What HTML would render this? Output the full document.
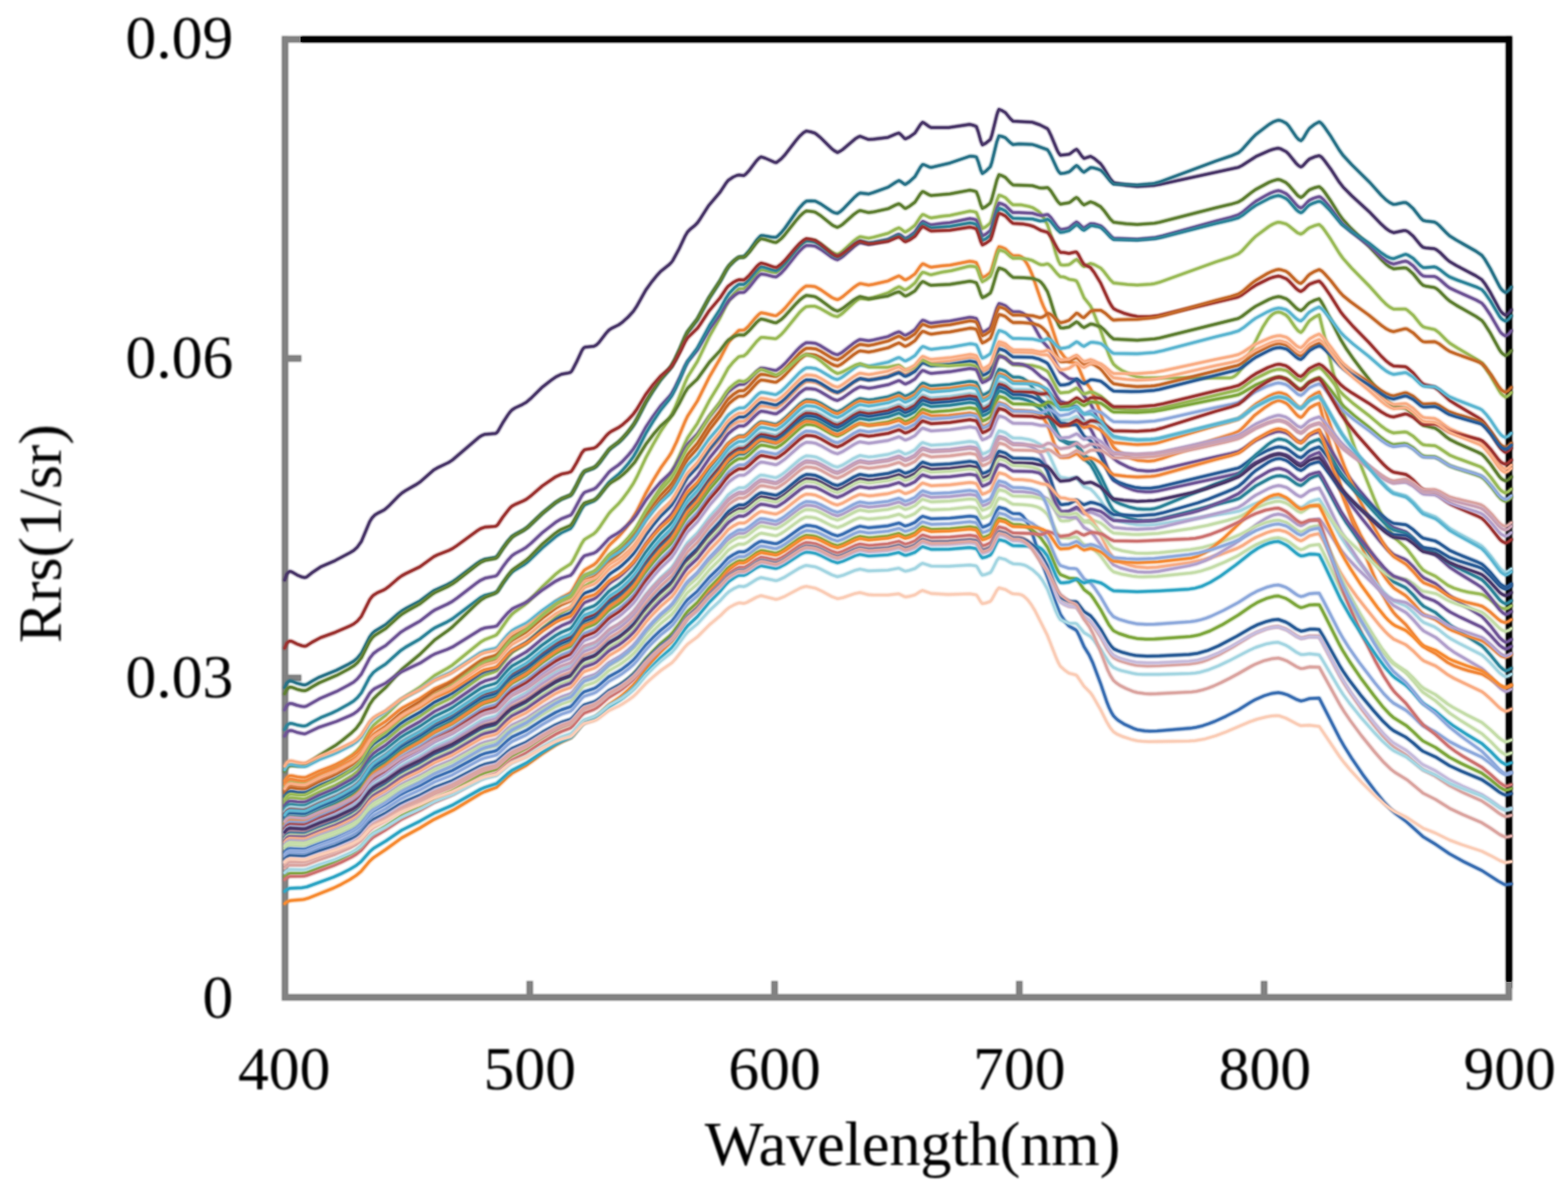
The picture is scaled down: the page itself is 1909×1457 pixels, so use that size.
<!DOCTYPE html>
<html lang="en">
<head>
<meta charset="utf-8">
<title>Rrs spectra</title>
<style>
html,body{margin:0;padding:0;background:#fff;}
body{width:1909px;height:1457px;overflow:hidden;position:relative;}
svg{position:absolute;left:0;top:0;display:block;}
text{font-family:"Liberation Serif",serif;font-size:75px;fill:#000;}
.curves polyline{fill:none;stroke-width:4.1;stroke-linejoin:round;stroke-linecap:round;}
.curves polyline.c{stroke-width:2.4;}
</style>
</head>
<body>
<svg width="1909" height="1457" viewBox="0 0 1909 1457">
<defs>
<filter id="soft" x="-2%" y="-2%" width="104%" height="104%" color-interpolation-filters="sRGB"><feGaussianBlur stdDeviation="0.8"/></filter>
<filter id="softer" x="-2%" y="-2%" width="104%" height="104%" color-interpolation-filters="sRGB"><feGaussianBlur stdDeviation="0.8"/></filter>
</defs>
<rect x="0" y="0" width="1909" height="1457" fill="#ffffff"/>
<g id="frame" filter="url(#soft)">
<rect x="365" y="43.9" width="1476" height="8" fill="#000"/>
<rect x="1833.2" y="43.9" width="8" height="1159.6" fill="#000"/>
<rect x="343" y="43.9" width="8" height="1174.1" fill="#828282"/>
<rect x="343" y="1210" width="1498" height="8" fill="#828282"/>
<rect x="343" y="43.9" width="24" height="8" fill="#828282"/>
<rect x="343" y="432.3" width="24" height="8" fill="#828282"/>
<rect x="343" y="821.2" width="24" height="8" fill="#828282"/>
<rect x="641" y="1194" width="8" height="24" fill="#828282"/>
<rect x="939" y="1194" width="8" height="24" fill="#828282"/>
<rect x="1237" y="1194" width="8" height="24" fill="#828282"/>
<rect x="1535" y="1194" width="8" height="24" fill="#828282"/>
<rect x="1833" y="1194" width="8" height="24" fill="#828282"/>
</g>
<g id="framecore">
<rect x="366" y="44.9" width="1474" height="6" fill="#000"/>
<rect x="1834.2" y="44.9" width="6" height="1157.6" fill="#000"/>
<rect x="344" y="44.9" width="6" height="1172.1" fill="#828282"/>
<rect x="344" y="1211" width="1496" height="6" fill="#828282"/>
<rect x="344" y="44.9" width="22" height="6" fill="#828282"/>
<rect x="344" y="433.3" width="22" height="6" fill="#828282"/>
<rect x="344" y="822.2" width="22" height="6" fill="#828282"/>
<rect x="642" y="1195" width="6" height="22" fill="#828282"/>
<rect x="940" y="1195" width="6" height="22" fill="#828282"/>
<rect x="1238" y="1195" width="6" height="22" fill="#828282"/>
<rect x="1536" y="1195" width="6" height="22" fill="#828282"/>
<rect x="1834" y="1195" width="6" height="22" fill="#828282"/>
</g>
<g class="curves">
<polyline class="b" filter="url(#softer)" points="346.6,706 349,699 351.1,696.5 352.6,695.6 354.1,695.7 355.6,696.3 361.6,699.8 367.6,702.3 370.6,703 372.1,702.8 373.6,702.1 379.6,697.3 390.1,690.2 408.1,682.3 426.1,672.8 430.6,670.1 435.1,665.9 440,659 450,635.1 453.1,630.2 456.1,627.1 461,624.1 467.5,620.8 469.6,619.2 474.1,615.2 484.6,604.3 489.1,600.3 493.6,597.3 505.6,590.4 511.3,586.8 528.1,572 532.6,569.4 546.1,563 550.6,560.1 583.6,531.9 586.6,530.1 589.6,528.8 603.1,527.6 604.6,526.9 606.1,525.2 612.1,514.7 618.1,505.4 621.1,501.3 623.3,499 627.1,496.5 636.1,492.3 640.6,489.8 646.6,484.6 660.1,471.3 670.6,463.1 676.6,458.9 683.5,455.5 691.6,454.1 694.6,453.2 696.1,451.6 697.6,449 702.1,440.3 708.1,427.3 709.6,424.8 711.1,423.1 712.6,422.5 723,421.5 726.1,419.9 729.1,417 738.1,405.3 741.1,402 744.1,399.9 753.1,395.5 757.6,392.3 765.1,385.5 771.3,378.7 775.6,372.1 786.1,353.3 793.6,342.9 799.6,335.5 804.3,330.4 814.6,322.2 817.4,319.4 819.1,317.1 826.6,303.3 834.1,287.3 837.1,282.3 840.1,279.2 846.1,274.3 849.1,271.2 852.1,267 862.6,250.5 876.7,233.9 883.6,223.3 886.6,219.5 892.6,215.5 897.1,213.5 900,213 905.5,213.7 907.6,212.3 912.1,207.5 921.1,195.6 924.1,192.5 926.5,190.9 931.6,192.5 942.1,197.2 944.9,197.9 946.6,196.9 951.1,193.3 955.6,188.5 969.1,171 973.6,165.7 978.1,161.6 981.6,159.4 987.1,160.5 992,162 993.1,162.7 999.1,167.6 1012.6,181 1015.6,183.4 1019.6,185.6 1023.1,183.9 1026.1,181.9 1041.1,169.1 1044.1,167.2 1047.1,165.8 1057.6,169.8 1063.6,169.4 1081.2,167.2 1090.6,163.1 1094.3,161.9 1096.6,163.7 1101.1,168.4 1102.2,169 1102.6,168.9 1107.1,166.8 1114,161.9 1120.6,151.6 1123.2,148.8 1125.1,149.7 1131.1,154 1133.7,155.3 1155.1,155.3 1180.8,151.4 1185.1,152.5 1188.7,154 1191.1,160.7 1194.1,171.7 1196,176.3 1200.1,174.3 1205.7,169.8 1207.6,164.3 1213.6,140 1215.1,135.4 1216.2,133.1 1219.6,134.4 1224,137 1230.1,144.5 1233.3,147.5 1256.9,148.8 1266.1,152 1275.2,156.6 1276.6,158.7 1279.6,164.9 1287.1,182.9 1288.6,185.8 1291,189 1301.5,187.8 1303.6,186.5 1308.1,183 1310.6,181.7 1312.6,183.6 1317.1,190.1 1319.8,192.9 1327.7,190.3 1332.1,192.7 1340,199.4 1342.6,202.9 1351.6,217.6 1355.7,222.4 1369.6,225.1 1384.6,226.9 1405.5,225.6 1411.6,224.6 1506.1,204.1 1507.8,203.6 1512.1,201.5 1528.8,190.7 1545.1,183.4 1549.6,181.8 1554.1,180.7 1556.3,180.4 1558.6,180.9 1566.1,184.8 1569.1,187.7 1578.1,198.9 1581.1,201.7 1583.8,203.2 1585.6,202.3 1587.1,200.9 1591.6,195.9 1594.3,193.5 1600.6,190.8 1606.1,189.5 1608.1,190.6 1609.6,191.9 1612.6,195.5 1620.1,205.7 1630.6,221.8 1635.1,227.6 1645.6,238.2 1668.1,258.8 1681.6,272.8 1687.6,278.3 1692.1,281.4 1696.6,283.2 1708.6,280.8 1711.6,280.7 1714.6,282.3 1720.6,287.5 1729.6,298.5 1732.6,301.1 1735.6,301.7 1746.4,302.7 1749.1,304.1 1753.6,307.7 1761.1,315.2 1764.7,318.3 1773.1,323.2 1797.1,335.9 1804.1,340.4 1807.6,344.9 1814.6,356.2 1825.6,376.6 1827.7,379.6 1830.1,381.9 1832.9,383.6 1834.6,382.9 1837.6,380.4 1840,377.1" stroke="#4A3769"/>
<polyline class="c" points="346.6,706 349,699 351.1,696.5 352.6,695.6 354.1,695.7 355.6,696.3 361.6,699.8 367.6,702.3 370.6,703 372.1,702.8 373.6,702.1 379.6,697.3 390.1,690.2 408.1,682.3 426.1,672.8 430.6,670.1 435.1,665.9 440,659 450,635.1 453.1,630.2 456.1,627.1 461,624.1 467.5,620.8 469.6,619.2 474.1,615.2 484.6,604.3 489.1,600.3 493.6,597.3 505.6,590.4 511.3,586.8 528.1,572 532.6,569.4 546.1,563 550.6,560.1 583.6,531.9 586.6,530.1 589.6,528.8 603.1,527.6 604.6,526.9 606.1,525.2 612.1,514.7 618.1,505.4 621.1,501.3 623.3,499 627.1,496.5 636.1,492.3 640.6,489.8 646.6,484.6 660.1,471.3 670.6,463.1 676.6,458.9 683.5,455.5 691.6,454.1 694.6,453.2 696.1,451.6 697.6,449 702.1,440.3 708.1,427.3 709.6,424.8 711.1,423.1 712.6,422.5 723,421.5 726.1,419.9 729.1,417 738.1,405.3 741.1,402 744.1,399.9 753.1,395.5 757.6,392.3 765.1,385.5 771.3,378.7 775.6,372.1 786.1,353.3 793.6,342.9 799.6,335.5 804.3,330.4 814.6,322.2 817.4,319.4 819.1,317.1 826.6,303.3 834.1,287.3 837.1,282.3 840.1,279.2 846.1,274.3 849.1,271.2 852.1,267 862.6,250.5 876.7,233.9 883.6,223.3 886.6,219.5 892.6,215.5 897.1,213.5 900,213 905.5,213.7 907.6,212.3 912.1,207.5 921.1,195.6 924.1,192.5 926.5,190.9 931.6,192.5 942.1,197.2 944.9,197.9 946.6,196.9 951.1,193.3 955.6,188.5 969.1,171 973.6,165.7 978.1,161.6 981.6,159.4 987.1,160.5 992,162 993.1,162.7 999.1,167.6 1012.6,181 1015.6,183.4 1019.6,185.6 1023.1,183.9 1026.1,181.9 1041.1,169.1 1044.1,167.2 1047.1,165.8 1057.6,169.8 1063.6,169.4 1081.2,167.2 1090.6,163.1 1094.3,161.9 1096.6,163.7 1101.1,168.4 1102.2,169 1102.6,168.9 1107.1,166.8 1114,161.9 1120.6,151.6 1123.2,148.8 1125.1,149.7 1131.1,154 1133.7,155.3 1155.1,155.3 1180.8,151.4 1185.1,152.5 1188.7,154 1191.1,160.7 1194.1,171.7 1196,176.3 1200.1,174.3 1205.7,169.8 1207.6,164.3 1213.6,140 1215.1,135.4 1216.2,133.1 1219.6,134.4 1224,137 1230.1,144.5 1233.3,147.5 1256.9,148.8 1266.1,152 1275.2,156.6 1276.6,158.7 1279.6,164.9 1287.1,182.9 1288.6,185.8 1291,189 1301.5,187.8 1303.6,186.5 1308.1,183 1310.6,181.7 1312.6,183.6 1317.1,190.1 1319.8,192.9 1327.7,190.3 1332.1,192.7 1340,199.4 1342.6,202.9 1351.6,217.6 1355.7,222.4 1369.6,225.1 1384.6,226.9 1405.5,225.6 1411.6,224.6 1506.1,204.1 1507.8,203.6 1512.1,201.5 1528.8,190.7 1545.1,183.4 1549.6,181.8 1554.1,180.7 1556.3,180.4 1558.6,180.9 1566.1,184.8 1569.1,187.7 1578.1,198.9 1581.1,201.7 1583.8,203.2 1585.6,202.3 1587.1,200.9 1591.6,195.9 1594.3,193.5 1600.6,190.8 1606.1,189.5 1608.1,190.6 1609.6,191.9 1612.6,195.5 1620.1,205.7 1630.6,221.8 1635.1,227.6 1645.6,238.2 1668.1,258.8 1681.6,272.8 1687.6,278.3 1692.1,281.4 1696.6,283.2 1708.6,280.8 1711.6,280.7 1714.6,282.3 1720.6,287.5 1729.6,298.5 1732.6,301.1 1735.6,301.7 1746.4,302.7 1749.1,304.1 1753.6,307.7 1761.1,315.2 1764.7,318.3 1773.1,323.2 1797.1,335.9 1804.1,340.4 1807.6,344.9 1814.6,356.2 1825.6,376.6 1827.7,379.6 1830.1,381.9 1832.9,383.6 1834.6,382.9 1837.6,380.4 1840,377.1" stroke="#4A3769"/>
<polyline class="b" filter="url(#softer)" points="346.6,837 349,831.6 351.1,829.6 353,828.7 355.6,829.2 361.6,831.6 367.6,833.2 370.6,833.7 372.1,833.5 375.1,832.1 379.6,829.2 388.6,824.3 409.6,815.9 424.6,808.3 430.6,804.9 435.1,801.1 440,795.1 450,775.4 453.1,771.2 456.1,768.4 469.6,760.3 484.6,747.1 489.4,743.4 495.1,740 511.3,731.5 525.1,721.1 529,718.5 544.6,711.6 550.6,708.4 556.6,704.2 580.6,686 585.1,683 590.4,680.7 601.6,678.7 603.5,678.3 604.6,677.7 606.1,676.1 612.1,667.1 618.1,659 623.3,653.1 627.1,650.6 637.6,645 642.1,641.9 660.1,624.9 676.6,611.7 683.5,607.5 694.6,603 696.1,601.3 697.6,598.9 702.1,590.7 708.1,578.7 711.1,574.5 712.6,573.5 723,569.7 726.1,567.5 730.6,562.3 741.1,548.1 744.1,545.3 753.1,538.6 756.1,535.8 762.1,529.4 769.6,519.9 772.6,515.6 775.6,510.3 786.1,490 795.1,475.5 804.3,462.1 814.6,450.1 817.6,446.1 822.1,437.6 828.1,424.6 834.1,410.4 837.1,404.5 849.1,388.8 862.6,363.9 876.7,342.4 883.6,329.7 886.6,324.9 892.6,318.5 897.1,314.7 900,313 905.5,312.4 907.6,310.6 912.1,305.3 921.1,292.4 925.6,287.5 926.5,286.8 930.1,286.9 939.1,288.5 943.6,288.9 944.9,288.8 946.6,287.6 951.1,283.2 955.6,277.7 969.1,258.5 973.6,252.6 978.1,247.7 981.6,244.8 987.1,244.5 992,244.7 993.1,245 999.1,248.1 1012.6,257.3 1015.6,258.8 1019.6,259.8 1023.1,257.5 1026.1,254.9 1039.6,240.8 1044.1,236.8 1047.1,234.9 1057.6,236.1 1063.6,234.2 1081.2,227.9 1090.6,221.7 1094.3,219.7 1096.6,220.8 1101.1,224.2 1102.2,224.5 1102.6,224.3 1107.1,221.2 1114,214.9 1120.6,203.5 1123.2,200.2 1125.1,200.5 1131.1,203.2 1133.7,203.8 1156.6,198.4 1180.8,190.1 1185.1,190.3 1188.7,191.1 1191.1,197.1 1194.1,207.1 1196,211.2 1200.1,208.4 1205.7,203 1207.6,197.3 1213.6,172.6 1216.2,165.4 1219.6,166 1224,167.6 1230.1,173.7 1233.3,176 1240.6,175.1 1256.9,175.9 1261.6,177.3 1275.2,182.2 1276.6,184.1 1279.6,189.5 1287.1,205.8 1288.6,208.4 1291,211.3 1296.1,210.7 1301.5,209.2 1303.6,207.7 1308.1,203.3 1310.6,201.5 1312.6,202.8 1317.1,207.8 1318.6,209 1319.8,209.6 1327.7,204 1330.6,204.1 1336.6,205.8 1340,207.1 1341.1,208 1344.1,211 1351.6,220.3 1355.7,224 1384.6,225.3 1402.6,223.6 1405.6,223.2 1411.6,221.6 1480,196.1 1498.6,189.8 1506.1,186.7 1507.8,185.9 1512.1,182.2 1524.1,168.6 1528.8,163.9 1545.1,151.4 1549.6,148.7 1554.1,146.9 1556.3,146.3 1558.6,146.6 1561.6,147.7 1566.1,150.1 1569.1,153.4 1578.1,166.7 1581.1,169.9 1583.8,171.3 1585.6,169.7 1587.1,167.6 1591.6,159.9 1594.3,156.1 1600.6,151.2 1606.1,148.3 1608.1,149.5 1609.6,151 1612.6,154.8 1620.1,165.7 1630.6,182.8 1635.1,189 1645.6,200.4 1668.1,222.5 1681.6,237.6 1687.6,243.4 1692.1,246.7 1696.6,248.8 1699.6,248.5 1708.6,246.6 1711.6,246.6 1714.6,248.4 1720.6,253.9 1729.6,265.5 1732.6,268.3 1735.6,269 1746.4,270.3 1749.1,271.8 1752.1,274.3 1761.1,283.6 1764.7,286.9 1773.1,292.2 1797.1,305.9 1804.1,310.7 1807.6,315.4 1814.6,327.2 1825.6,348.6 1827.7,351.8 1830.1,354.2 1832.9,356 1834.6,355.3 1837.6,352.6 1840,349.3" stroke="#2A7388"/>
<polyline class="c" points="346.6,837 349,831.6 351.1,829.6 353,828.7 355.6,829.2 361.6,831.6 367.6,833.2 370.6,833.7 372.1,833.5 375.1,832.1 379.6,829.2 388.6,824.3 409.6,815.9 424.6,808.3 430.6,804.9 435.1,801.1 440,795.1 450,775.4 453.1,771.2 456.1,768.4 469.6,760.3 484.6,747.1 489.4,743.4 495.1,740 511.3,731.5 525.1,721.1 529,718.5 544.6,711.6 550.6,708.4 556.6,704.2 580.6,686 585.1,683 590.4,680.7 601.6,678.7 603.5,678.3 604.6,677.7 606.1,676.1 612.1,667.1 618.1,659 623.3,653.1 627.1,650.6 637.6,645 642.1,641.9 660.1,624.9 676.6,611.7 683.5,607.5 694.6,603 696.1,601.3 697.6,598.9 702.1,590.7 708.1,578.7 711.1,574.5 712.6,573.5 723,569.7 726.1,567.5 730.6,562.3 741.1,548.1 744.1,545.3 753.1,538.6 756.1,535.8 762.1,529.4 769.6,519.9 772.6,515.6 775.6,510.3 786.1,490 795.1,475.5 804.3,462.1 814.6,450.1 817.6,446.1 822.1,437.6 828.1,424.6 834.1,410.4 837.1,404.5 849.1,388.8 862.6,363.9 876.7,342.4 883.6,329.7 886.6,324.9 892.6,318.5 897.1,314.7 900,313 905.5,312.4 907.6,310.6 912.1,305.3 921.1,292.4 925.6,287.5 926.5,286.8 930.1,286.9 939.1,288.5 943.6,288.9 944.9,288.8 946.6,287.6 951.1,283.2 955.6,277.7 969.1,258.5 973.6,252.6 978.1,247.7 981.6,244.8 987.1,244.5 992,244.7 993.1,245 999.1,248.1 1012.6,257.3 1015.6,258.8 1019.6,259.8 1023.1,257.5 1026.1,254.9 1039.6,240.8 1044.1,236.8 1047.1,234.9 1057.6,236.1 1063.6,234.2 1081.2,227.9 1090.6,221.7 1094.3,219.7 1096.6,220.8 1101.1,224.2 1102.2,224.5 1102.6,224.3 1107.1,221.2 1114,214.9 1120.6,203.5 1123.2,200.2 1125.1,200.5 1131.1,203.2 1133.7,203.8 1156.6,198.4 1180.8,190.1 1185.1,190.3 1188.7,191.1 1191.1,197.1 1194.1,207.1 1196,211.2 1200.1,208.4 1205.7,203 1207.6,197.3 1213.6,172.6 1216.2,165.4 1219.6,166 1224,167.6 1230.1,173.7 1233.3,176 1240.6,175.1 1256.9,175.9 1261.6,177.3 1275.2,182.2 1276.6,184.1 1279.6,189.5 1287.1,205.8 1288.6,208.4 1291,211.3 1296.1,210.7 1301.5,209.2 1303.6,207.7 1308.1,203.3 1310.6,201.5 1312.6,202.8 1317.1,207.8 1318.6,209 1319.8,209.6 1327.7,204 1330.6,204.1 1336.6,205.8 1340,207.1 1341.1,208 1344.1,211 1351.6,220.3 1355.7,224 1384.6,225.3 1402.6,223.6 1405.6,223.2 1411.6,221.6 1480,196.1 1498.6,189.8 1506.1,186.7 1507.8,185.9 1512.1,182.2 1524.1,168.6 1528.8,163.9 1545.1,151.4 1549.6,148.7 1554.1,146.9 1556.3,146.3 1558.6,146.6 1561.6,147.7 1566.1,150.1 1569.1,153.4 1578.1,166.7 1581.1,169.9 1583.8,171.3 1585.6,169.7 1587.1,167.6 1591.6,159.9 1594.3,156.1 1600.6,151.2 1606.1,148.3 1608.1,149.5 1609.6,151 1612.6,154.8 1620.1,165.7 1630.6,182.8 1635.1,189 1645.6,200.4 1668.1,222.5 1681.6,237.6 1687.6,243.4 1692.1,246.7 1696.6,248.8 1699.6,248.5 1708.6,246.6 1711.6,246.6 1714.6,248.4 1720.6,253.9 1729.6,265.5 1732.6,268.3 1735.6,269 1746.4,270.3 1749.1,271.8 1752.1,274.3 1761.1,283.6 1764.7,286.9 1773.1,292.2 1797.1,305.9 1804.1,310.7 1807.6,315.4 1814.6,327.2 1825.6,348.6 1827.7,351.8 1830.1,354.2 1832.9,356 1834.6,355.3 1837.6,352.6 1840,349.3" stroke="#2A7388"/>
<polyline class="b" filter="url(#softer)" points="346.6,844.5 349,839.2 351.1,837.2 353,836.3 355.6,836.7 361.6,838.9 367.6,840.4 371,840.8 373.6,839.9 379.6,836.2 388.6,831.1 409.6,822.2 424.6,814.3 430.6,810.6 435.1,806.7 440,800.6 450,780.7 453.1,776.4 456.1,773.5 469.6,765 484.6,751.3 489.4,747.5 495.1,743.9 511.3,734.9 525.1,724.1 529,721.5 544.6,714.1 550.6,710.8 556.6,706.5 580.6,687.7 585.1,684.5 590.4,682.1 601.6,679.9 603.5,679.4 604.6,678.7 606.1,677.2 612.1,668 618.1,659.8 623.3,653.8 627.1,651.2 637.6,645.4 642.1,642.2 660.1,625 676.6,611.5 683.5,607.2 694.6,602.6 696.1,600.9 697.6,598.5 702.1,590.2 708.1,578.1 711.1,573.9 712.6,573 723,569.1 726.1,566.8 730.6,561.6 741.1,547.4 744.1,544.6 753.1,537.9 757.6,533.6 765.1,525 771.3,516.8 775.6,509.6 786.1,489.2 795.1,474.7 804.3,461.4 814.6,449.4 817.6,445.3 822.1,436.9 828.1,423.9 834.1,409.7 837.1,403.8 849.1,388.2 863.6,361.8 876.7,342 883.6,329.4 887.7,323.3 894.1,317 898.6,313.7 900.1,313 905.5,313.1 907.6,311.7 912.1,306.9 921.1,295.3 924.1,292.3 926.5,290.6 931.6,291.5 942.1,294.8 944.9,295.1 946.6,294.1 951.1,290.5 955.6,285.6 969.1,268.5 973.6,263.3 978.1,259.1 981.6,256.7 987.1,257.2 992,258.1 993.1,258.6 999.1,262.5 1012.6,273.4 1015.6,275.2 1019.6,276.8 1023.1,275 1026.1,272.9 1039.6,260.9 1044.1,257.7 1047.1,256.2 1057.6,258.8 1063.6,257.9 1081.2,254.1 1090.6,249.4 1094.3,248 1096.6,249.3 1101.1,253.2 1102.2,253.7 1102.6,253.6 1107.1,251.2 1114,246 1120.6,235.9 1123.2,233.1 1125.1,233.7 1131.1,237.1 1133.7,238 1156.6,236 1180.8,231.4 1185.1,232.2 1188.7,233.4 1191.1,239.5 1194.1,249.5 1196,253.7 1200.1,251.6 1205.7,247.2 1207.6,242 1213.6,219.2 1216.2,212.7 1219.6,213.7 1224,215.9 1230.1,222.5 1233.3,225.1 1256.9,226 1264.6,228.4 1267.6,228.9 1270.6,228.9 1275.2,228.3 1276.6,229.2 1279.6,232.6 1287.1,244.3 1288.6,246.2 1291,248.5 1301.5,246.8 1303.6,245.5 1308.1,241.8 1310.6,240.4 1312.6,241.8 1317.1,247.3 1319.8,249.5 1327.7,245.7 1332.1,247.1 1340,251.6 1344.1,256.3 1351.6,266.5 1355.7,270.5 1371.1,272.4 1384.6,273.3 1405.5,271.8 1411.6,270.6 1480,252.9 1498.6,248.6 1506.1,246.4 1507.8,245.8 1512.1,243.3 1524.1,233.9 1528.8,230.6 1545.1,221.9 1549.6,220.1 1554.1,218.8 1556.3,218.4 1558.6,218.9 1565.5,222.2 1569.1,225.4 1579.6,237.7 1581.1,238.9 1583.8,240.4 1585.6,239.4 1587.1,238.2 1591.6,233.3 1594.3,231 1600.6,228.5 1606.1,227.2 1609.6,230 1612.6,233.8 1620.1,244.5 1630.6,261.3 1635.1,267.4 1644.1,277.3 1666.6,299.4 1681.6,315.8 1687.6,321.6 1692.1,325 1696.6,327.2 1708.6,326 1711.6,326.1 1714.6,328 1720.6,333.4 1729.6,344.6 1732.6,347.3 1735.6,348.2 1746.4,350 1749.1,351.5 1752.1,354 1761.1,363.1 1764.7,366.2 1773.1,371.6 1797.1,385.3 1804.1,390.1 1807.6,394.6 1814.6,405.7 1825.6,425.8 1827.7,428.8 1830.1,431.1 1832.9,432.9 1834.6,432.2 1837.6,429.8 1840,426.8" stroke="#5F7F33"/>
<polyline class="c" points="346.6,844.5 349,839.2 351.1,837.2 353,836.3 355.6,836.7 361.6,838.9 367.6,840.4 371,840.8 373.6,839.9 379.6,836.2 388.6,831.1 409.6,822.2 424.6,814.3 430.6,810.6 435.1,806.7 440,800.6 450,780.7 453.1,776.4 456.1,773.5 469.6,765 484.6,751.3 489.4,747.5 495.1,743.9 511.3,734.9 525.1,724.1 529,721.5 544.6,714.1 550.6,710.8 556.6,706.5 580.6,687.7 585.1,684.5 590.4,682.1 601.6,679.9 603.5,679.4 604.6,678.7 606.1,677.2 612.1,668 618.1,659.8 623.3,653.8 627.1,651.2 637.6,645.4 642.1,642.2 660.1,625 676.6,611.5 683.5,607.2 694.6,602.6 696.1,600.9 697.6,598.5 702.1,590.2 708.1,578.1 711.1,573.9 712.6,573 723,569.1 726.1,566.8 730.6,561.6 741.1,547.4 744.1,544.6 753.1,537.9 757.6,533.6 765.1,525 771.3,516.8 775.6,509.6 786.1,489.2 795.1,474.7 804.3,461.4 814.6,449.4 817.6,445.3 822.1,436.9 828.1,423.9 834.1,409.7 837.1,403.8 849.1,388.2 863.6,361.8 876.7,342 883.6,329.4 887.7,323.3 894.1,317 898.6,313.7 900.1,313 905.5,313.1 907.6,311.7 912.1,306.9 921.1,295.3 924.1,292.3 926.5,290.6 931.6,291.5 942.1,294.8 944.9,295.1 946.6,294.1 951.1,290.5 955.6,285.6 969.1,268.5 973.6,263.3 978.1,259.1 981.6,256.7 987.1,257.2 992,258.1 993.1,258.6 999.1,262.5 1012.6,273.4 1015.6,275.2 1019.6,276.8 1023.1,275 1026.1,272.9 1039.6,260.9 1044.1,257.7 1047.1,256.2 1057.6,258.8 1063.6,257.9 1081.2,254.1 1090.6,249.4 1094.3,248 1096.6,249.3 1101.1,253.2 1102.2,253.7 1102.6,253.6 1107.1,251.2 1114,246 1120.6,235.9 1123.2,233.1 1125.1,233.7 1131.1,237.1 1133.7,238 1156.6,236 1180.8,231.4 1185.1,232.2 1188.7,233.4 1191.1,239.5 1194.1,249.5 1196,253.7 1200.1,251.6 1205.7,247.2 1207.6,242 1213.6,219.2 1216.2,212.7 1219.6,213.7 1224,215.9 1230.1,222.5 1233.3,225.1 1256.9,226 1264.6,228.4 1267.6,228.9 1270.6,228.9 1275.2,228.3 1276.6,229.2 1279.6,232.6 1287.1,244.3 1288.6,246.2 1291,248.5 1301.5,246.8 1303.6,245.5 1308.1,241.8 1310.6,240.4 1312.6,241.8 1317.1,247.3 1319.8,249.5 1327.7,245.7 1332.1,247.1 1340,251.6 1344.1,256.3 1351.6,266.5 1355.7,270.5 1371.1,272.4 1384.6,273.3 1405.5,271.8 1411.6,270.6 1480,252.9 1498.6,248.6 1506.1,246.4 1507.8,245.8 1512.1,243.3 1524.1,233.9 1528.8,230.6 1545.1,221.9 1549.6,220.1 1554.1,218.8 1556.3,218.4 1558.6,218.9 1565.5,222.2 1569.1,225.4 1579.6,237.7 1581.1,238.9 1583.8,240.4 1585.6,239.4 1587.1,238.2 1591.6,233.3 1594.3,231 1600.6,228.5 1606.1,227.2 1609.6,230 1612.6,233.8 1620.1,244.5 1630.6,261.3 1635.1,267.4 1644.1,277.3 1666.6,299.4 1681.6,315.8 1687.6,321.6 1692.1,325 1696.6,327.2 1708.6,326 1711.6,326.1 1714.6,328 1720.6,333.4 1729.6,344.6 1732.6,347.3 1735.6,348.2 1746.4,350 1749.1,351.5 1752.1,354 1761.1,363.1 1764.7,366.2 1773.1,371.6 1797.1,385.3 1804.1,390.1 1807.6,394.6 1814.6,405.7 1825.6,425.8 1827.7,428.8 1830.1,431.1 1832.9,432.9 1834.6,432.2 1837.6,429.8 1840,426.8" stroke="#5F7F33"/>
<polyline class="b" filter="url(#softer)" points="346.6,958 349,953.9 351.1,952.2 353,951.4 355.6,951.3 361.6,952 367.6,952.3 371,952.1 373.6,951.2 388.6,942.9 408.1,933.2 417.1,927.7 429.1,919.2 435.1,913.6 440,907.5 450,889.1 454.6,883 459.1,878.9 469.6,870.6 487.6,852.9 495.1,847.3 511.6,836.3 529,822.4 544.6,813.5 550.6,809.7 585.1,781.6 590.4,778.5 601.6,774.2 604.6,772.6 607.6,768.9 618.1,753.8 623.3,747.6 627.1,744.5 637.6,737.1 642.1,733.3 660.1,714.4 676.6,698.8 683.5,693.4 694.6,686.6 697.6,682.2 708.1,661.8 711.1,657.2 712.6,656 723,649.7 726.1,646.8 730.6,640.9 741.1,625.3 744.1,621.9 753.1,613 757.6,607.7 765.1,597.6 771.3,588.1 775.6,580 786.1,557.6 795.1,541 804.3,525.2 814.6,510.2 817.6,505.2 822.1,495.6 834.1,465.7 837.1,459 849.1,439.8 863.6,409.6 876.7,386.4 883.6,372.2 887.7,365 894.1,357 898.6,352.5 900.1,351.5 905.5,351.3 909.1,348.4 912.1,345 921.1,333.3 924.1,330.2 926.5,328.4 930.1,328.8 939.1,331 943.6,331.7 944.9,331.7 948.1,329.5 951.1,326.9 955.6,322 969.1,304.6 973.6,299.4 978.1,295 981.6,292.6 987.1,292.7 992,293.2 993.1,293.7 999.1,297.1 1012.6,306.8 1015.6,308.4 1019.6,309.7 1023.1,307.7 1026.1,305.5 1039.6,293.1 1044.1,289.7 1047.1,288.1 1057.6,290 1063.6,288.7 1081.2,284 1090.6,278.9 1094.3,277.3 1096.6,278.5 1101.1,282 1102.2,282.4 1102.6,282.2 1107.1,279.6 1114,274.2 1120.6,264 1123.2,261.1 1125.1,261.5 1131.1,264.5 1133.7,265.2 1147.6,263.1 1156.6,262.2 1180.8,256.9 1185.1,257.6 1188.7,258.6 1191.1,264.5 1194.1,274.2 1196,278.2 1200.1,276.1 1205.7,271.6 1207.6,266.4 1213.6,244 1216.2,237.6 1219.6,238.5 1224,240.5 1230.1,246.8 1233.3,249.3 1243.6,249.4 1252.6,251.3 1256.9,252.6 1258.6,253.6 1263.1,256.4 1266.1,258.9 1270.6,265 1275.2,273.4 1278.1,282.2 1285.6,308.9 1288.6,317.5 1291,322 1293.1,322.6 1296.1,322.7 1301.5,322.1 1303.6,320.8 1308.1,317.2 1310.6,315.8 1312.6,317.2 1317.1,322.5 1319.8,324.5 1327.7,320.7 1332.1,322 1340,326.2 1344.1,330.7 1351.6,340.5 1355.7,344.4 1372.6,346.3 1384.6,347 1401.1,345.9 1405.6,345.2 1411.6,343.6 1480,318.9 1498.6,312.8 1506.1,309.7 1507.8,308.9 1512.1,305.4 1524.1,292.2 1528.8,287.6 1545.1,275.5 1549.6,272.9 1554.1,271 1556.3,270.5 1558.6,270.7 1565.5,272.6 1569.1,274.8 1579.6,283.3 1583.8,285 1587.1,283.1 1591.6,279 1594.3,277.1 1600.6,274.6 1606.1,273.2 1609.6,276.3 1612.6,280.2 1620.1,291.2 1630.6,308.3 1635.1,314.5 1645.6,326.4 1666.6,347.7 1681.6,364.4 1687.6,370.4 1692.1,373.9 1696.6,376.3 1710.1,376.1 1711,376.1 1713.1,377.2 1720.6,383.8 1729.6,395 1732.6,397.7 1735.6,398.7 1746.4,401.1 1747.6,401.7 1752.1,405.1 1761.1,414.2 1764.7,417.4 1774.6,423.7 1798.6,437.9 1804.1,441.8 1807.6,446.2 1814.6,457 1825.6,476.3 1827.7,479.2 1830.1,481.5 1832.9,483.3 1834.6,482.7 1837.6,480.4 1840,477.6" stroke="#9BBB59"/>
<polyline class="c" points="346.6,958 349,953.9 351.1,952.2 353,951.4 355.6,951.3 361.6,952 367.6,952.3 371,952.1 373.6,951.2 388.6,942.9 408.1,933.2 417.1,927.7 429.1,919.2 435.1,913.6 440,907.5 450,889.1 454.6,883 459.1,878.9 469.6,870.6 487.6,852.9 495.1,847.3 511.6,836.3 529,822.4 544.6,813.5 550.6,809.7 585.1,781.6 590.4,778.5 601.6,774.2 604.6,772.6 607.6,768.9 618.1,753.8 623.3,747.6 627.1,744.5 637.6,737.1 642.1,733.3 660.1,714.4 676.6,698.8 683.5,693.4 694.6,686.6 697.6,682.2 708.1,661.8 711.1,657.2 712.6,656 723,649.7 726.1,646.8 730.6,640.9 741.1,625.3 744.1,621.9 753.1,613 757.6,607.7 765.1,597.6 771.3,588.1 775.6,580 786.1,557.6 795.1,541 804.3,525.2 814.6,510.2 817.6,505.2 822.1,495.6 834.1,465.7 837.1,459 849.1,439.8 863.6,409.6 876.7,386.4 883.6,372.2 887.7,365 894.1,357 898.6,352.5 900.1,351.5 905.5,351.3 909.1,348.4 912.1,345 921.1,333.3 924.1,330.2 926.5,328.4 930.1,328.8 939.1,331 943.6,331.7 944.9,331.7 948.1,329.5 951.1,326.9 955.6,322 969.1,304.6 973.6,299.4 978.1,295 981.6,292.6 987.1,292.7 992,293.2 993.1,293.7 999.1,297.1 1012.6,306.8 1015.6,308.4 1019.6,309.7 1023.1,307.7 1026.1,305.5 1039.6,293.1 1044.1,289.7 1047.1,288.1 1057.6,290 1063.6,288.7 1081.2,284 1090.6,278.9 1094.3,277.3 1096.6,278.5 1101.1,282 1102.2,282.4 1102.6,282.2 1107.1,279.6 1114,274.2 1120.6,264 1123.2,261.1 1125.1,261.5 1131.1,264.5 1133.7,265.2 1147.6,263.1 1156.6,262.2 1180.8,256.9 1185.1,257.6 1188.7,258.6 1191.1,264.5 1194.1,274.2 1196,278.2 1200.1,276.1 1205.7,271.6 1207.6,266.4 1213.6,244 1216.2,237.6 1219.6,238.5 1224,240.5 1230.1,246.8 1233.3,249.3 1243.6,249.4 1252.6,251.3 1256.9,252.6 1258.6,253.6 1263.1,256.4 1266.1,258.9 1270.6,265 1275.2,273.4 1278.1,282.2 1285.6,308.9 1288.6,317.5 1291,322 1293.1,322.6 1296.1,322.7 1301.5,322.1 1303.6,320.8 1308.1,317.2 1310.6,315.8 1312.6,317.2 1317.1,322.5 1319.8,324.5 1327.7,320.7 1332.1,322 1340,326.2 1344.1,330.7 1351.6,340.5 1355.7,344.4 1372.6,346.3 1384.6,347 1401.1,345.9 1405.6,345.2 1411.6,343.6 1480,318.9 1498.6,312.8 1506.1,309.7 1507.8,308.9 1512.1,305.4 1524.1,292.2 1528.8,287.6 1545.1,275.5 1549.6,272.9 1554.1,271 1556.3,270.5 1558.6,270.7 1565.5,272.6 1569.1,274.8 1579.6,283.3 1583.8,285 1587.1,283.1 1591.6,279 1594.3,277.1 1600.6,274.6 1606.1,273.2 1609.6,276.3 1612.6,280.2 1620.1,291.2 1630.6,308.3 1635.1,314.5 1645.6,326.4 1666.6,347.7 1681.6,364.4 1687.6,370.4 1692.1,373.9 1696.6,376.3 1710.1,376.1 1711,376.1 1713.1,377.2 1720.6,383.8 1729.6,395 1732.6,397.7 1735.6,398.7 1746.4,401.1 1747.6,401.7 1752.1,405.1 1761.1,414.2 1764.7,417.4 1774.6,423.7 1798.6,437.9 1804.1,441.8 1807.6,446.2 1814.6,457 1825.6,476.3 1827.7,479.2 1830.1,481.5 1832.9,483.3 1834.6,482.7 1837.6,480.4 1840,477.6" stroke="#9BBB59"/>
<polyline class="b" filter="url(#softer)" points="346.6,864 349,858.9 351.1,857 353,856.2 355.6,856.5 361.6,858.5 367.6,859.9 371,860.1 373.6,859.3 388.6,850.7 409.6,841.7 424.6,833.8 430.6,830.2 435.1,826.3 440,820.4 450,801.2 454.6,795.5 459.1,792.1 469.6,785.7 487.6,769.8 493.6,765.9 511.3,756 525.1,745.3 529,742.7 544.6,735.4 550.6,732.1 556.6,727.8 580.6,709.4 585.1,706.3 590.4,703.8 601.6,701.6 603.5,701.1 604.6,700.4 606.1,698.9 612.1,690.1 618.1,682.1 623.3,676.4 627.1,673.8 636.1,669 640.6,666.2 646.6,661.2 660.1,648.5 676.6,635.6 683.5,631.5 694.6,627.2 696.1,625.6 697.6,623.2 708.1,603.8 711.1,599.8 712.6,598.9 723,595.3 726.1,593.2 730.6,588.2 741.1,574.9 744.1,572.2 753.1,565.9 757.6,561.9 765.1,553.9 771.3,546.2 775.6,539.4 786.1,520.2 795.1,506.6 804.3,494.1 814.6,483 817.6,479.2 822.1,471.2 828.1,459 834.1,445.7 837.1,440.2 849.1,425.7 863.6,401.1 876.7,382.8 883.6,371 887.7,365.3 894.1,359.6 898.6,356.6 900.1,356 905.5,355.9 907.6,354.4 912.1,349.7 921.1,338.2 924.1,335.2 926.5,333.5 931.6,334.1 942.1,336.8 944.9,337 946.6,336 951.1,332.3 955.6,327.4 969.1,310.4 973.6,305.3 978.1,301 981.6,298.7 987.1,298.9 992,299.5 993.1,299.9 999.1,303.4 1012.6,313.2 1015.6,314.8 1019.6,316.2 1023.1,314.3 1026.1,312.1 1039.6,300.1 1044.1,296.8 1047.1,295.2 1057.6,297.2 1063.6,296 1081.2,291.7 1090.6,286.7 1094.3,285.2 1096.6,286.4 1101.1,289.9 1102.2,290.3 1102.6,290.2 1107.1,287.7 1114,282.4 1120.6,272.4 1123.2,269.5 1125.1,270 1131.1,273 1133.7,273.8 1147.6,271.9 1156.6,271 1180.8,266 1185.1,266.7 1188.7,267.8 1191.1,273.6 1194.1,283.2 1196,287.2 1200.1,285.1 1205.7,280.7 1207.6,275.6 1213.6,253.5 1216.2,247.2 1219.6,248.1 1224,250.1 1230.1,256.3 1233.3,258.8 1240.6,258.8 1256.9,259.5 1264.6,261.8 1267.6,262.3 1270.6,262.1 1275.2,261.1 1276.6,261.9 1279.6,264.9 1287.1,275.6 1291,279.5 1296.1,278.8 1301.5,277.4 1308.1,271.9 1310.6,270.2 1312.6,271.4 1317.1,275.9 1318.6,277 1319.8,277.5 1327.7,272.2 1332.1,272.5 1340,274.9 1344.1,278.4 1353.1,288.2 1355.7,290.1 1384.6,291.2 1405.5,289.4 1416.1,287 1480,269.2 1498.6,264.5 1507.8,261.5 1513.6,257.6 1524.1,248.7 1528.8,245.1 1540.6,238.2 1546.6,235.1 1551.1,233.3 1556.3,232 1560.1,233 1566.1,235.9 1569.1,238.7 1578.1,249.2 1581.1,251.9 1583.8,253.2 1585.6,252.3 1587.1,251 1591.6,246 1594.3,243.6 1599.1,241.4 1603.6,239.9 1606.1,239.4 1608.1,240.2 1611.1,242.8 1618.6,251.6 1633.7,271.8 1645.6,282.4 1668.1,300.2 1681.6,312.6 1687.6,317.4 1692.1,320 1696.6,321.4 1708.6,318.2 1711.6,317.9 1714.6,319.2 1720.6,323.7 1729.6,333.7 1732.6,335.9 1735.6,336.3 1746.4,336.5 1749.1,337.6 1753.6,340.9 1761.1,347.6 1764.7,350.3 1773.1,354.4 1797.1,365.1 1804.1,369 1807.6,373.1 1814.6,383.5 1825.6,402.6 1827.7,405.4 1830.1,407.4 1832.9,408.9 1834.6,408.2 1837.6,405.8 1840,402.6" stroke="#6F5596"/>
<polyline class="c" points="346.6,864 349,858.9 351.1,857 353,856.2 355.6,856.5 361.6,858.5 367.6,859.9 371,860.1 373.6,859.3 388.6,850.7 409.6,841.7 424.6,833.8 430.6,830.2 435.1,826.3 440,820.4 450,801.2 454.6,795.5 459.1,792.1 469.6,785.7 487.6,769.8 493.6,765.9 511.3,756 525.1,745.3 529,742.7 544.6,735.4 550.6,732.1 556.6,727.8 580.6,709.4 585.1,706.3 590.4,703.8 601.6,701.6 603.5,701.1 604.6,700.4 606.1,698.9 612.1,690.1 618.1,682.1 623.3,676.4 627.1,673.8 636.1,669 640.6,666.2 646.6,661.2 660.1,648.5 676.6,635.6 683.5,631.5 694.6,627.2 696.1,625.6 697.6,623.2 708.1,603.8 711.1,599.8 712.6,598.9 723,595.3 726.1,593.2 730.6,588.2 741.1,574.9 744.1,572.2 753.1,565.9 757.6,561.9 765.1,553.9 771.3,546.2 775.6,539.4 786.1,520.2 795.1,506.6 804.3,494.1 814.6,483 817.6,479.2 822.1,471.2 828.1,459 834.1,445.7 837.1,440.2 849.1,425.7 863.6,401.1 876.7,382.8 883.6,371 887.7,365.3 894.1,359.6 898.6,356.6 900.1,356 905.5,355.9 907.6,354.4 912.1,349.7 921.1,338.2 924.1,335.2 926.5,333.5 931.6,334.1 942.1,336.8 944.9,337 946.6,336 951.1,332.3 955.6,327.4 969.1,310.4 973.6,305.3 978.1,301 981.6,298.7 987.1,298.9 992,299.5 993.1,299.9 999.1,303.4 1012.6,313.2 1015.6,314.8 1019.6,316.2 1023.1,314.3 1026.1,312.1 1039.6,300.1 1044.1,296.8 1047.1,295.2 1057.6,297.2 1063.6,296 1081.2,291.7 1090.6,286.7 1094.3,285.2 1096.6,286.4 1101.1,289.9 1102.2,290.3 1102.6,290.2 1107.1,287.7 1114,282.4 1120.6,272.4 1123.2,269.5 1125.1,270 1131.1,273 1133.7,273.8 1147.6,271.9 1156.6,271 1180.8,266 1185.1,266.7 1188.7,267.8 1191.1,273.6 1194.1,283.2 1196,287.2 1200.1,285.1 1205.7,280.7 1207.6,275.6 1213.6,253.5 1216.2,247.2 1219.6,248.1 1224,250.1 1230.1,256.3 1233.3,258.8 1240.6,258.8 1256.9,259.5 1264.6,261.8 1267.6,262.3 1270.6,262.1 1275.2,261.1 1276.6,261.9 1279.6,264.9 1287.1,275.6 1291,279.5 1296.1,278.8 1301.5,277.4 1308.1,271.9 1310.6,270.2 1312.6,271.4 1317.1,275.9 1318.6,277 1319.8,277.5 1327.7,272.2 1332.1,272.5 1340,274.9 1344.1,278.4 1353.1,288.2 1355.7,290.1 1384.6,291.2 1405.5,289.4 1416.1,287 1480,269.2 1498.6,264.5 1507.8,261.5 1513.6,257.6 1524.1,248.7 1528.8,245.1 1540.6,238.2 1546.6,235.1 1551.1,233.3 1556.3,232 1560.1,233 1566.1,235.9 1569.1,238.7 1578.1,249.2 1581.1,251.9 1583.8,253.2 1585.6,252.3 1587.1,251 1591.6,246 1594.3,243.6 1599.1,241.4 1603.6,239.9 1606.1,239.4 1608.1,240.2 1611.1,242.8 1618.6,251.6 1633.7,271.8 1645.6,282.4 1668.1,300.2 1681.6,312.6 1687.6,317.4 1692.1,320 1696.6,321.4 1708.6,318.2 1711.6,317.9 1714.6,319.2 1720.6,323.7 1729.6,333.7 1732.6,335.9 1735.6,336.3 1746.4,336.5 1749.1,337.6 1753.6,340.9 1761.1,347.6 1764.7,350.3 1773.1,354.4 1797.1,365.1 1804.1,369 1807.6,373.1 1814.6,383.5 1825.6,402.6 1827.7,405.4 1830.1,407.4 1832.9,408.9 1834.6,408.2 1837.6,405.8 1840,402.6" stroke="#6F5596"/>
<polyline class="b" filter="url(#softer)" points="346.6,888 349,883.2 351.1,881.3 353,880.5 355.6,880.7 361.6,882.4 367.6,883.6 371,883.7 373.6,882.9 379.6,879.3 390.1,873.7 403.6,868.2 411.1,864.5 424.6,857 430.6,853.2 435.1,849.2 440,843.3 450,824.3 454.6,818.5 459.1,815 469.6,808.2 487.6,792 493.6,787.9 511.3,777.7 525.1,767 529,764.4 544.6,756.8 550.6,753.4 585.1,727.3 590.4,724.7 601.6,721.9 604.6,720.7 606.1,719.1 612.1,710.3 618.1,702.2 623.3,696.4 627.1,693.7 637.6,687.5 642.1,684.2 660.1,666.9 676.6,653.1 683.5,648.5 694.6,643.4 697.6,639.2 708.1,619.3 711.1,615.1 712.6,614.1 723,609.6 726.1,607.1 730.6,601.8 741.1,587.5 744.1,584.6 753.1,577.4 757.6,572.8 765.1,564 771.3,555.6 775.6,548.2 786.1,527.7 795.1,512.9 804.3,499.1 814.6,486.4 817.6,482.1 822.1,473.5 828.1,460.3 834.1,446.1 837.1,440.1 849.1,423.7 863.6,396.7 876.7,376.3 883.6,363.4 887.7,357.1 894.1,350.4 898.6,346.8 900,346 905.5,346.2 907.6,344.8 912.1,340.3 921.1,329.3 924.1,326.4 926.5,324.8 930.1,325.4 939.1,328.2 943.6,329.3 944.9,329.4 948.1,327.5 951.1,325 955.6,320.4 969.1,304.1 973.6,299.2 978.1,295.2 981.6,293 987.1,293.5 992,294.4 993.1,294.9 999.1,298.8 1012.6,309.4 1015.6,311.3 1019.6,312.8 1023.1,311.2 1026.1,309.2 1039.6,297.8 1044.1,294.8 1047.1,293.4 1057.6,296.1 1063.6,295.2 1081.2,291.9 1090.6,287.5 1094.3,286.2 1096.6,287.5 1101.1,291.3 1102.2,291.8 1102.6,291.7 1107.1,289.4 1114,284.6 1120.6,275 1123.2,272.3 1125.1,272.8 1131.1,276.2 1133.7,277.2 1156.6,275.5 1180.8,271.2 1185.1,272 1188.7,273.2 1191.1,279.1 1194.1,288.7 1196,292.7 1200.1,290.8 1205.7,286.5 1207.6,281.6 1213.6,259.7 1216.2,253.5 1219.6,254.5 1224,256.7 1230.1,263.1 1233.3,265.6 1256.9,266.5 1266.1,269 1270.6,268.6 1275.2,266.9 1276.6,267.5 1279.6,269.9 1287.1,279.4 1291,282.9 1296.1,282.1 1301.5,280.7 1310.6,273.4 1312.6,274.5 1317.1,278.9 1318.6,279.9 1319.8,280.3 1327.7,274.8 1330.6,274.7 1336.6,275.9 1340,276.9 1341.1,277.6 1345.6,281.7 1351.6,288.2 1355.7,291.5 1384.6,292.3 1402.6,290.8 1407.1,290.2 1414.6,288.7 1480,272 1498.6,267.7 1507.8,265 1513.6,261.4 1524.1,253.2 1528.8,250 1546.6,240.8 1551.1,239.2 1556.3,238 1560.1,239 1566.1,241.9 1569.1,244.6 1578.1,255.1 1581.1,257.7 1583.8,259 1585.6,258.1 1587.1,256.7 1591.6,251.7 1594.3,249.3 1599.1,247.2 1603.6,245.6 1606.1,245.1 1608.1,245.6 1611.1,247.7 1618.6,255.3 1633.7,273.2 1645.6,282.1 1666.6,295.9 1681.6,307.8 1687.6,311.8 1692.1,313.9 1696.6,314.9 1708.6,310.3 1711.6,309.6 1714.6,310.7 1720.6,314.5 1729.6,323.6 1732.6,325.6 1735.6,325.8 1746.4,324.8 1749.1,325.7 1753.6,328.6 1761.1,334.6 1764.7,337 1773.1,340.5 1797.1,349.2 1804.1,352.5 1807.6,356.4 1814.6,366.4 1825.6,385 1827.7,387.6 1830.1,389.5 1832.9,390.8 1834.6,390.1 1837.6,387.6 1840,384.3" stroke="#2E8499"/>
<polyline class="c" points="346.6,888 349,883.2 351.1,881.3 353,880.5 355.6,880.7 361.6,882.4 367.6,883.6 371,883.7 373.6,882.9 379.6,879.3 390.1,873.7 403.6,868.2 411.1,864.5 424.6,857 430.6,853.2 435.1,849.2 440,843.3 450,824.3 454.6,818.5 459.1,815 469.6,808.2 487.6,792 493.6,787.9 511.3,777.7 525.1,767 529,764.4 544.6,756.8 550.6,753.4 585.1,727.3 590.4,724.7 601.6,721.9 604.6,720.7 606.1,719.1 612.1,710.3 618.1,702.2 623.3,696.4 627.1,693.7 637.6,687.5 642.1,684.2 660.1,666.9 676.6,653.1 683.5,648.5 694.6,643.4 697.6,639.2 708.1,619.3 711.1,615.1 712.6,614.1 723,609.6 726.1,607.1 730.6,601.8 741.1,587.5 744.1,584.6 753.1,577.4 757.6,572.8 765.1,564 771.3,555.6 775.6,548.2 786.1,527.7 795.1,512.9 804.3,499.1 814.6,486.4 817.6,482.1 822.1,473.5 828.1,460.3 834.1,446.1 837.1,440.1 849.1,423.7 863.6,396.7 876.7,376.3 883.6,363.4 887.7,357.1 894.1,350.4 898.6,346.8 900,346 905.5,346.2 907.6,344.8 912.1,340.3 921.1,329.3 924.1,326.4 926.5,324.8 930.1,325.4 939.1,328.2 943.6,329.3 944.9,329.4 948.1,327.5 951.1,325 955.6,320.4 969.1,304.1 973.6,299.2 978.1,295.2 981.6,293 987.1,293.5 992,294.4 993.1,294.9 999.1,298.8 1012.6,309.4 1015.6,311.3 1019.6,312.8 1023.1,311.2 1026.1,309.2 1039.6,297.8 1044.1,294.8 1047.1,293.4 1057.6,296.1 1063.6,295.2 1081.2,291.9 1090.6,287.5 1094.3,286.2 1096.6,287.5 1101.1,291.3 1102.2,291.8 1102.6,291.7 1107.1,289.4 1114,284.6 1120.6,275 1123.2,272.3 1125.1,272.8 1131.1,276.2 1133.7,277.2 1156.6,275.5 1180.8,271.2 1185.1,272 1188.7,273.2 1191.1,279.1 1194.1,288.7 1196,292.7 1200.1,290.8 1205.7,286.5 1207.6,281.6 1213.6,259.7 1216.2,253.5 1219.6,254.5 1224,256.7 1230.1,263.1 1233.3,265.6 1256.9,266.5 1266.1,269 1270.6,268.6 1275.2,266.9 1276.6,267.5 1279.6,269.9 1287.1,279.4 1291,282.9 1296.1,282.1 1301.5,280.7 1310.6,273.4 1312.6,274.5 1317.1,278.9 1318.6,279.9 1319.8,280.3 1327.7,274.8 1330.6,274.7 1336.6,275.9 1340,276.9 1341.1,277.6 1345.6,281.7 1351.6,288.2 1355.7,291.5 1384.6,292.3 1402.6,290.8 1407.1,290.2 1414.6,288.7 1480,272 1498.6,267.7 1507.8,265 1513.6,261.4 1524.1,253.2 1528.8,250 1546.6,240.8 1551.1,239.2 1556.3,238 1560.1,239 1566.1,241.9 1569.1,244.6 1578.1,255.1 1581.1,257.7 1583.8,259 1585.6,258.1 1587.1,256.7 1591.6,251.7 1594.3,249.3 1599.1,247.2 1603.6,245.6 1606.1,245.1 1608.1,245.6 1611.1,247.7 1618.6,255.3 1633.7,273.2 1645.6,282.1 1666.6,295.9 1681.6,307.8 1687.6,311.8 1692.1,313.9 1696.6,314.9 1708.6,310.3 1711.6,309.6 1714.6,310.7 1720.6,314.5 1729.6,323.6 1732.6,325.6 1735.6,325.8 1746.4,324.8 1749.1,325.7 1753.6,328.6 1761.1,334.6 1764.7,337 1773.1,340.5 1797.1,349.2 1804.1,352.5 1807.6,356.4 1814.6,366.4 1825.6,385 1827.7,387.6 1830.1,389.5 1832.9,390.8 1834.6,390.1 1837.6,387.6 1840,384.3" stroke="#2E8499"/>
<polyline class="b" filter="url(#softer)" points="346.6,789 349,783.1 351.1,781 352.6,780.2 355.6,780.8 361.6,783.8 367.6,786 370.6,786.6 372.1,786.4 373.6,785.8 379.6,781.9 390.1,776.2 408.1,769.7 426.1,761.9 430.6,759.5 435.1,756 440,750.2 450,730.1 453.1,726 455,724.2 459.1,721.7 466.6,718.4 469.6,716.7 474.1,713.3 484.6,704.2 489.1,700.9 493.6,698.4 511.3,689.8 528.1,677.6 532.6,675.4 546.1,670.2 550.6,667.9 556.6,663.9 580.6,646.3 585.1,643.5 590.4,641.6 601.6,640.7 603.5,640.5 604.6,639.9 606.1,638.5 612.1,629.5 618.1,621.7 621.1,618.1 623.3,616.1 627.1,614 636.1,610.2 640.6,607.9 646.6,603.3 660.1,591.6 676.6,580.3 683.5,577.1 691.6,575.4 694.6,574.4 696.1,573 697.6,570.7 702.1,563 708.1,551.6 711.1,547.9 712.6,547.2 723,545.5 726.1,543.8 730.6,539.4 738.1,530.3 741.1,527.3 744.1,525.1 753.1,520.4 757.6,517.2 765.1,510.5 771.3,503.8 775.6,497.7 786.1,480.2 795.1,468.3 804.3,457.8 814.6,449.2 817.6,446.1 822.1,439 828.1,428.1 834.1,415.9 837.1,411.1 849.1,399.5 852.1,395.4 862.6,379.3 876.7,362.5 883.6,352.1 886.6,348.3 892.6,343.8 897.1,341.4 900,340.5 905.5,340.9 907.6,339.6 912.1,335.3 921.1,324.5 924.1,321.7 926.5,320.2 931.6,321.4 942.1,325.1 944.9,325.6 946.6,324.8 951.1,321.4 955.6,317 969.1,301.2 973.6,296.4 978.1,292.6 981.6,290.5 987.1,291.3 992,292.4 993.1,293 999.1,297.1 1012.6,308.3 1015.6,310.3 1019.6,312 1023.1,310.5 1026.1,308.6 1041.1,296.8 1044.1,295 1047.1,293.7 1057.6,296.8 1063.6,296.2 1081.2,293.6 1090.6,289.6 1094.3,288.4 1096.6,289.8 1101.1,293.8 1102.6,294.2 1107.1,292.2 1114,287.6 1120.6,278.3 1123.2,275.8 1125.1,276.4 1131.1,280 1133.7,281.1 1156.6,280.2 1180.8,276.4 1185.1,277.3 1188.7,278.6 1191.1,284.5 1194.1,294.1 1196,298.1 1200.1,296.2 1205.7,292.2 1207.6,287.3 1213.6,265.7 1215.1,261.6 1216.2,259.6 1216.6,259.6 1219.6,260.7 1224,262.8 1230.1,269.3 1233.3,271.9 1245.1,272.6 1254.1,274.3 1258.6,275.8 1267.6,280.6 1275.2,282.7 1276.6,284.2 1279.6,288.6 1287.1,302.2 1288.6,304.5 1291,307.2 1294.6,307.3 1301.5,308.5 1308.1,306.9 1310.6,306.7 1312.6,309.3 1317.1,317.9 1319.8,322 1327.7,325.7 1332.1,331.5 1340,344.5 1350.1,366.7 1353.1,372 1355.7,375.6 1360.6,378.2 1368.1,381.2 1377.1,383.8 1384.6,385.3 1399.6,385.5 1410.1,384.3 1504.6,362.2 1507.8,361.2 1512.1,358.9 1524.1,350.2 1528.8,347.2 1545.1,339.2 1549.6,337.5 1554.1,336.4 1556.3,336 1558.6,336.4 1566.1,339.4 1569.1,341.9 1578.1,351.3 1581.1,353.6 1583.8,354.8 1587.1,352.8 1591.6,348.2 1594.3,346 1600.6,343.5 1606.1,342.1 1609.6,345.4 1612.6,349.4 1620.1,360.4 1632.1,379.5 1636.6,385.2 1647.1,397 1666.6,416.9 1681.6,433.5 1687.6,439.4 1692.1,442.9 1696.6,445.5 1710.1,446.2 1711,446.4 1713.1,447.5 1720.6,454 1729.6,464.8 1732.6,467.5 1735.6,468.6 1746.4,471.3 1747.6,472 1752.1,475.4 1764.7,487.2 1774.6,493.5 1798.6,507.7 1804.1,511.5 1807.6,515.6 1814.6,525.8 1825.6,543.8 1827.7,546.5 1831.6,549.9 1832.9,550.5 1834.6,549.9 1837.6,547.9 1840,545.3" stroke="#9C3432"/>
<polyline class="c" points="346.6,789 349,783.1 351.1,781 352.6,780.2 355.6,780.8 361.6,783.8 367.6,786 370.6,786.6 372.1,786.4 373.6,785.8 379.6,781.9 390.1,776.2 408.1,769.7 426.1,761.9 430.6,759.5 435.1,756 440,750.2 450,730.1 453.1,726 455,724.2 459.1,721.7 466.6,718.4 469.6,716.7 474.1,713.3 484.6,704.2 489.1,700.9 493.6,698.4 511.3,689.8 528.1,677.6 532.6,675.4 546.1,670.2 550.6,667.9 556.6,663.9 580.6,646.3 585.1,643.5 590.4,641.6 601.6,640.7 603.5,640.5 604.6,639.9 606.1,638.5 612.1,629.5 618.1,621.7 621.1,618.1 623.3,616.1 627.1,614 636.1,610.2 640.6,607.9 646.6,603.3 660.1,591.6 676.6,580.3 683.5,577.1 691.6,575.4 694.6,574.4 696.1,573 697.6,570.7 702.1,563 708.1,551.6 711.1,547.9 712.6,547.2 723,545.5 726.1,543.8 730.6,539.4 738.1,530.3 741.1,527.3 744.1,525.1 753.1,520.4 757.6,517.2 765.1,510.5 771.3,503.8 775.6,497.7 786.1,480.2 795.1,468.3 804.3,457.8 814.6,449.2 817.6,446.1 822.1,439 828.1,428.1 834.1,415.9 837.1,411.1 849.1,399.5 852.1,395.4 862.6,379.3 876.7,362.5 883.6,352.1 886.6,348.3 892.6,343.8 897.1,341.4 900,340.5 905.5,340.9 907.6,339.6 912.1,335.3 921.1,324.5 924.1,321.7 926.5,320.2 931.6,321.4 942.1,325.1 944.9,325.6 946.6,324.8 951.1,321.4 955.6,317 969.1,301.2 973.6,296.4 978.1,292.6 981.6,290.5 987.1,291.3 992,292.4 993.1,293 999.1,297.1 1012.6,308.3 1015.6,310.3 1019.6,312 1023.1,310.5 1026.1,308.6 1041.1,296.8 1044.1,295 1047.1,293.7 1057.6,296.8 1063.6,296.2 1081.2,293.6 1090.6,289.6 1094.3,288.4 1096.6,289.8 1101.1,293.8 1102.6,294.2 1107.1,292.2 1114,287.6 1120.6,278.3 1123.2,275.8 1125.1,276.4 1131.1,280 1133.7,281.1 1156.6,280.2 1180.8,276.4 1185.1,277.3 1188.7,278.6 1191.1,284.5 1194.1,294.1 1196,298.1 1200.1,296.2 1205.7,292.2 1207.6,287.3 1213.6,265.7 1215.1,261.6 1216.2,259.6 1216.6,259.6 1219.6,260.7 1224,262.8 1230.1,269.3 1233.3,271.9 1245.1,272.6 1254.1,274.3 1258.6,275.8 1267.6,280.6 1275.2,282.7 1276.6,284.2 1279.6,288.6 1287.1,302.2 1288.6,304.5 1291,307.2 1294.6,307.3 1301.5,308.5 1308.1,306.9 1310.6,306.7 1312.6,309.3 1317.1,317.9 1319.8,322 1327.7,325.7 1332.1,331.5 1340,344.5 1350.1,366.7 1353.1,372 1355.7,375.6 1360.6,378.2 1368.1,381.2 1377.1,383.8 1384.6,385.3 1399.6,385.5 1410.1,384.3 1504.6,362.2 1507.8,361.2 1512.1,358.9 1524.1,350.2 1528.8,347.2 1545.1,339.2 1549.6,337.5 1554.1,336.4 1556.3,336 1558.6,336.4 1566.1,339.4 1569.1,341.9 1578.1,351.3 1581.1,353.6 1583.8,354.8 1587.1,352.8 1591.6,348.2 1594.3,346 1600.6,343.5 1606.1,342.1 1609.6,345.4 1612.6,349.4 1620.1,360.4 1632.1,379.5 1636.6,385.2 1647.1,397 1666.6,416.9 1681.6,433.5 1687.6,439.4 1692.1,442.9 1696.6,445.5 1710.1,446.2 1711,446.4 1713.1,447.5 1720.6,454 1729.6,464.8 1732.6,467.5 1735.6,468.6 1746.4,471.3 1747.6,472 1752.1,475.4 1764.7,487.2 1774.6,493.5 1798.6,507.7 1804.1,511.5 1807.6,515.6 1814.6,525.8 1825.6,543.8 1827.7,546.5 1831.6,549.9 1832.9,550.5 1834.6,549.9 1837.6,547.9 1840,545.3" stroke="#9C3432"/>
<polyline class="b" filter="url(#softer)" points="346.6,950.6 349,946.6 351.1,945 353,944.2 355.6,944.3 361.6,945.6 367.6,946.3 371,946.4 373.6,945.7 388.6,938.6 403.6,933 409.6,930.4 418.6,925.8 429.1,919.9 435.1,915.2 440,909.9 450,893.2 453.1,889.5 456.1,886.7 469.6,878 484.6,865.5 490.6,861.2 511.3,850.2 529,838.4 544.6,831.5 550.6,828.4 556.6,824.6 582.1,806.7 586.6,804 590.4,802.3 601.6,799.2 604.6,797.9 607.6,794.6 618.1,781.1 623.3,775.7 627.1,773 637.6,766.7 642.1,763.4 660.1,746.5 678.1,731.4 683.5,727.7 694.6,721.6 697.6,717.5 708.1,698.6 711.1,694.4 712.6,693.3 723,687.4 726.1,684.7 730.6,679.2 741.1,664.6 744.1,661.4 753.1,653 756.1,649.7 762.1,642.4 769.6,631.9 775.6,621.7 786.1,600.6 796.6,582.3 804.3,569.8 814.6,555.4 817.6,550.6 823.6,538.1 834.1,512.9 837.1,506.6 849.1,488 863.6,458.9 876.7,436.4 886.6,417.2 892.6,409.4 898.6,403 900,402 905.5,401.9 907.6,400.5 910.6,397.7 919.6,387 924.1,382.4 926.5,380.8 927.1,380.8 931.6,381.5 942.1,384 944.9,384.2 946.6,383.2 951.1,379.7 955.6,375.2 969.1,359.2 973.6,354.3 978.1,350.3 981.6,348.1 987.1,348.3 992,348.9 993.1,349.3 999.1,352.6 1012.6,362 1015.6,363.5 1019.6,364.8 1023.1,363.1 1026.1,361 1039.6,349.7 1044.1,346.6 1047.1,345.1 1057.6,347.1 1063.6,346 1081.2,341.9 1090.6,337.3 1094.3,335.8 1096.6,337 1101.1,340.3 1102.6,340.6 1107.1,338.3 1114,333.3 1120.6,323.8 1123.2,321.1 1125.1,321.6 1131.1,324.5 1133.7,325.2 1147.6,323.5 1156.6,322.7 1180.6,318 1185.1,318.6 1188.7,319.7 1191.1,325.2 1194.1,334.3 1196,338 1200.1,336.1 1205.7,331.9 1207.6,327.2 1213.6,306.2 1216.2,300.3 1219.6,301.1 1224,303 1230.1,309 1233.1,311.2 1240.6,311.3 1243.6,312.6 1246.6,315.5 1249.6,319.7 1252.6,325.1 1256.9,334.8 1267.6,366.1 1270.6,373.4 1275.2,382.7 1276.6,386.4 1287.1,418.2 1291,428 1296.1,434.9 1300.6,439.6 1302.1,440.5 1309.6,441.9 1310.6,442.4 1311.1,443.2 1312.6,446 1319.8,463.1 1324.6,468.8 1327.7,473.1 1332.1,482.6 1340,503 1348.6,529.1 1353.1,539.8 1355.7,544.5 1359.1,547.6 1363.6,550.9 1369.6,554.2 1378.6,558.2 1384.6,560.1 1396.6,561.3 1399.6,561.3 1405.5,560.6 1414.6,558 1480,534.8 1500.1,528.3 1507.8,525.1 1510.6,523 1515.1,518.6 1527.1,505.8 1539.1,496.6 1548.1,490.7 1554.1,488.1 1556.3,487.6 1558.6,487.9 1561.6,488.8 1566.1,490.9 1569.1,493.6 1578.1,504.3 1581.1,506.9 1583.8,508.1 1585.6,506.9 1587.1,505.3 1591.6,499.4 1594.3,496.6 1600.6,492.9 1606.1,490.8 1630.6,585.5 1636.6,605.6 1645.6,632.7 1657.6,664.9 1672.6,700.6 1678.6,713.7 1684.6,725.8 1689.1,734 1693.6,741.3 1696.6,745.5 1699.6,748.9 1711,759.8 1713.1,762.2 1728.1,781.6 1732.6,786.6 1737.1,789.6 1747.6,795.4 1762.6,806.5 1770.1,810.3 1779.1,813.7 1788.1,816.5 1804.6,820.5 1814.6,826.6 1824.1,833.7 1827.7,835.8 1831.6,836.9 1833.1,837 1836.1,836.2 1840,834" stroke="#F0883C"/>
<polyline class="c" points="346.6,950.6 349,946.6 351.1,945 353,944.2 355.6,944.3 361.6,945.6 367.6,946.3 371,946.4 373.6,945.7 388.6,938.6 403.6,933 409.6,930.4 418.6,925.8 429.1,919.9 435.1,915.2 440,909.9 450,893.2 453.1,889.5 456.1,886.7 469.6,878 484.6,865.5 490.6,861.2 511.3,850.2 529,838.4 544.6,831.5 550.6,828.4 556.6,824.6 582.1,806.7 586.6,804 590.4,802.3 601.6,799.2 604.6,797.9 607.6,794.6 618.1,781.1 623.3,775.7 627.1,773 637.6,766.7 642.1,763.4 660.1,746.5 678.1,731.4 683.5,727.7 694.6,721.6 697.6,717.5 708.1,698.6 711.1,694.4 712.6,693.3 723,687.4 726.1,684.7 730.6,679.2 741.1,664.6 744.1,661.4 753.1,653 756.1,649.7 762.1,642.4 769.6,631.9 775.6,621.7 786.1,600.6 796.6,582.3 804.3,569.8 814.6,555.4 817.6,550.6 823.6,538.1 834.1,512.9 837.1,506.6 849.1,488 863.6,458.9 876.7,436.4 886.6,417.2 892.6,409.4 898.6,403 900,402 905.5,401.9 907.6,400.5 910.6,397.7 919.6,387 924.1,382.4 926.5,380.8 927.1,380.8 931.6,381.5 942.1,384 944.9,384.2 946.6,383.2 951.1,379.7 955.6,375.2 969.1,359.2 973.6,354.3 978.1,350.3 981.6,348.1 987.1,348.3 992,348.9 993.1,349.3 999.1,352.6 1012.6,362 1015.6,363.5 1019.6,364.8 1023.1,363.1 1026.1,361 1039.6,349.7 1044.1,346.6 1047.1,345.1 1057.6,347.1 1063.6,346 1081.2,341.9 1090.6,337.3 1094.3,335.8 1096.6,337 1101.1,340.3 1102.6,340.6 1107.1,338.3 1114,333.3 1120.6,323.8 1123.2,321.1 1125.1,321.6 1131.1,324.5 1133.7,325.2 1147.6,323.5 1156.6,322.7 1180.6,318 1185.1,318.6 1188.7,319.7 1191.1,325.2 1194.1,334.3 1196,338 1200.1,336.1 1205.7,331.9 1207.6,327.2 1213.6,306.2 1216.2,300.3 1219.6,301.1 1224,303 1230.1,309 1233.1,311.2 1240.6,311.3 1243.6,312.6 1246.6,315.5 1249.6,319.7 1252.6,325.1 1256.9,334.8 1267.6,366.1 1270.6,373.4 1275.2,382.7 1276.6,386.4 1287.1,418.2 1291,428 1296.1,434.9 1300.6,439.6 1302.1,440.5 1309.6,441.9 1310.6,442.4 1311.1,443.2 1312.6,446 1319.8,463.1 1324.6,468.8 1327.7,473.1 1332.1,482.6 1340,503 1348.6,529.1 1353.1,539.8 1355.7,544.5 1359.1,547.6 1363.6,550.9 1369.6,554.2 1378.6,558.2 1384.6,560.1 1396.6,561.3 1399.6,561.3 1405.5,560.6 1414.6,558 1480,534.8 1500.1,528.3 1507.8,525.1 1510.6,523 1515.1,518.6 1527.1,505.8 1539.1,496.6 1548.1,490.7 1554.1,488.1 1556.3,487.6 1558.6,487.9 1561.6,488.8 1566.1,490.9 1569.1,493.6 1578.1,504.3 1581.1,506.9 1583.8,508.1 1585.6,506.9 1587.1,505.3 1591.6,499.4 1594.3,496.6 1600.6,492.9 1606.1,490.8 1630.6,585.5 1636.6,605.6 1645.6,632.7 1657.6,664.9 1672.6,700.6 1678.6,713.7 1684.6,725.8 1689.1,734 1693.6,741.3 1696.6,745.5 1699.6,748.9 1711,759.8 1713.1,762.2 1728.1,781.6 1732.6,786.6 1737.1,789.6 1747.6,795.4 1762.6,806.5 1770.1,810.3 1779.1,813.7 1788.1,816.5 1804.6,820.5 1814.6,826.6 1824.1,833.7 1827.7,835.8 1831.6,836.9 1833.1,837 1836.1,836.2 1840,834" stroke="#F0883C"/>
<polyline class="b" filter="url(#softer)" points="346.6,977 349,973.3 351.1,971.8 353,971 355.6,970.9 367.6,972.2 371,972.1 373.6,971.4 388.6,964.1 408.1,955.9 417.1,951.1 429.1,943.8 435.1,939 440,933.6 450,917.2 454.6,911.9 459.1,908.3 469.6,901.1 487.6,885.8 495.1,880.9 511.6,871.6 529,859.5 544.6,852 550.6,848.7 585.1,824.2 590.4,821.5 601.6,818 604.6,816.6 607.6,813.3 618.1,799.9 623.3,794.4 627.1,791.7 637.6,785.2 642.1,781.8 660.1,765 678.1,749.9 683.5,746.2 694.6,740.1 697.6,736.2 708.1,717.7 711.1,713.7 723,706.8 726.1,704.2 730.6,698.8 741.1,684.7 756.1,670.3 762.1,663.3 769.6,653.2 775.6,643.4 786.1,623.1 796.6,605.5 804.3,593.5 814.6,579.7 817.6,575.2 822.1,566.4 834.1,539.1 837.1,533 849.1,515.3 863.6,487.7 876.7,466.3 886.6,448.1 892.6,440.8 898.6,434.9 900.1,434 905.5,433.3 909.1,430.4 921.1,415.7 925.6,411.4 926.5,410.8 930.1,410.8 943.6,412.2 944.9,412.1 946.6,411 951.1,407.2 955.6,402.3 973.6,380.1 978.1,375.8 981.6,373.2 987.1,372.8 992,372.8 993.1,373.1 999.1,375.7 1012.6,383.4 1015.6,384.6 1019.6,385.4 1023.1,383.3 1026.1,381 1039.6,368.5 1044.1,364.9 1047.1,363.2 1057.6,364 1063.6,362.3 1081.2,356.4 1090.6,350.8 1094.3,349 1096.6,349.9 1101.1,352.7 1102.6,352.8 1107.1,350.1 1114,344.4 1120.6,334.4 1123.2,331.4 1125.1,331.7 1131.1,333.9 1133.7,334.4 1147.6,331.1 1158.1,329.5 1179.1,324.2 1180.8,323.9 1185.1,324.3 1188.7,325.1 1191.1,330.5 1194.1,339.4 1196,343 1200.1,340.8 1205.7,336.4 1207.6,331.6 1213.6,310.4 1216.2,304.3 1219.6,305 1224,306.7 1230.1,312.3 1233.3,314.4 1240.6,314 1251.1,315.5 1256.9,317.1 1264.6,321.3 1267.6,322.3 1270.6,322.3 1275.2,321.1 1276.6,321.6 1279.6,324.1 1287.1,333.2 1291,336.9 1294.6,337 1297.6,338 1301.5,339.9 1308.1,341 1310.6,342 1312.6,345.6 1319.8,362.5 1327.6,372.3 1330.6,378.4 1340,402.1 1350.1,431.9 1353.1,438.7 1355.7,443.3 1360.6,447.6 1366.6,451.4 1377.1,456.3 1384.6,458.8 1392.1,459.7 1398.1,460 1497.1,460 1500.1,459.4 1503.1,457.9 1506.1,455.4 1509.1,451.9 1512.1,447.7 1519.6,434.4 1531.6,409.4 1537.6,397.9 1543.6,388.5 1546.6,385 1549.6,382.3 1552.6,380.6 1554.1,380.1 1557.1,379.8 1560.1,380.6 1565.5,383.3 1569.1,387 1576.6,398 1579.6,401.7 1581.1,403.2 1583.8,404.6 1585.6,403.1 1587.1,401.2 1591.6,393.9 1594.3,390.3 1600.6,385.8 1606.1,383.1 1630.6,484.3 1636.6,505.8 1645.6,534.5 1657.6,568.5 1672.6,606 1678.6,619.8 1684.6,632.5 1689.1,641 1693.6,648.5 1696.6,652.8 1699.6,656 1711,666.3 1713.1,668.6 1720.6,678.3 1728.1,688.7 1732.6,693.8 1737.1,696.5 1747.6,701.4 1762.6,712.4 1770.1,715.9 1779.1,718.7 1788.1,720.9 1800.1,722.7 1804.6,723.7 1807.6,725.3 1814.6,730.1 1824.1,737.9 1827.7,740.1 1831.6,741 1833.1,741 1836.1,740 1840,737.3" stroke="#9BBB59"/>
<polyline class="c" points="346.6,977 349,973.3 351.1,971.8 353,971 355.6,970.9 367.6,972.2 371,972.1 373.6,971.4 388.6,964.1 408.1,955.9 417.1,951.1 429.1,943.8 435.1,939 440,933.6 450,917.2 454.6,911.9 459.1,908.3 469.6,901.1 487.6,885.8 495.1,880.9 511.6,871.6 529,859.5 544.6,852 550.6,848.7 585.1,824.2 590.4,821.5 601.6,818 604.6,816.6 607.6,813.3 618.1,799.9 623.3,794.4 627.1,791.7 637.6,785.2 642.1,781.8 660.1,765 678.1,749.9 683.5,746.2 694.6,740.1 697.6,736.2 708.1,717.7 711.1,713.7 723,706.8 726.1,704.2 730.6,698.8 741.1,684.7 756.1,670.3 762.1,663.3 769.6,653.2 775.6,643.4 786.1,623.1 796.6,605.5 804.3,593.5 814.6,579.7 817.6,575.2 822.1,566.4 834.1,539.1 837.1,533 849.1,515.3 863.6,487.7 876.7,466.3 886.6,448.1 892.6,440.8 898.6,434.9 900.1,434 905.5,433.3 909.1,430.4 921.1,415.7 925.6,411.4 926.5,410.8 930.1,410.8 943.6,412.2 944.9,412.1 946.6,411 951.1,407.2 955.6,402.3 973.6,380.1 978.1,375.8 981.6,373.2 987.1,372.8 992,372.8 993.1,373.1 999.1,375.7 1012.6,383.4 1015.6,384.6 1019.6,385.4 1023.1,383.3 1026.1,381 1039.6,368.5 1044.1,364.9 1047.1,363.2 1057.6,364 1063.6,362.3 1081.2,356.4 1090.6,350.8 1094.3,349 1096.6,349.9 1101.1,352.7 1102.6,352.8 1107.1,350.1 1114,344.4 1120.6,334.4 1123.2,331.4 1125.1,331.7 1131.1,333.9 1133.7,334.4 1147.6,331.1 1158.1,329.5 1179.1,324.2 1180.8,323.9 1185.1,324.3 1188.7,325.1 1191.1,330.5 1194.1,339.4 1196,343 1200.1,340.8 1205.7,336.4 1207.6,331.6 1213.6,310.4 1216.2,304.3 1219.6,305 1224,306.7 1230.1,312.3 1233.3,314.4 1240.6,314 1251.1,315.5 1256.9,317.1 1264.6,321.3 1267.6,322.3 1270.6,322.3 1275.2,321.1 1276.6,321.6 1279.6,324.1 1287.1,333.2 1291,336.9 1294.6,337 1297.6,338 1301.5,339.9 1308.1,341 1310.6,342 1312.6,345.6 1319.8,362.5 1327.6,372.3 1330.6,378.4 1340,402.1 1350.1,431.9 1353.1,438.7 1355.7,443.3 1360.6,447.6 1366.6,451.4 1377.1,456.3 1384.6,458.8 1392.1,459.7 1398.1,460 1497.1,460 1500.1,459.4 1503.1,457.9 1506.1,455.4 1509.1,451.9 1512.1,447.7 1519.6,434.4 1531.6,409.4 1537.6,397.9 1543.6,388.5 1546.6,385 1549.6,382.3 1552.6,380.6 1554.1,380.1 1557.1,379.8 1560.1,380.6 1565.5,383.3 1569.1,387 1576.6,398 1579.6,401.7 1581.1,403.2 1583.8,404.6 1585.6,403.1 1587.1,401.2 1591.6,393.9 1594.3,390.3 1600.6,385.8 1606.1,383.1 1630.6,484.3 1636.6,505.8 1645.6,534.5 1657.6,568.5 1672.6,606 1678.6,619.8 1684.6,632.5 1689.1,641 1693.6,648.5 1696.6,652.8 1699.6,656 1711,666.3 1713.1,668.6 1720.6,678.3 1728.1,688.7 1732.6,693.8 1737.1,696.5 1747.6,701.4 1762.6,712.4 1770.1,715.9 1779.1,718.7 1788.1,720.9 1800.1,722.7 1804.6,723.7 1807.6,725.3 1814.6,730.1 1824.1,737.9 1827.7,740.1 1831.6,741 1833.1,741 1836.1,740 1840,737.3" stroke="#9BBB59"/>
<polyline class="b" filter="url(#softer)" points="346.6,939 349,934.7 351.1,932.9 353,931.9 355.6,931.7 361.6,932.2 367.6,932 371,931.5 373.6,930.3 390.1,918.8 408.1,907.6 417.1,900.9 427.6,892.4 433.6,886.6 439.6,878.5 450,857.6 454.6,850.9 459.1,846.3 469.6,836.8 484.6,819.6 489.4,814.6 511.3,796.4 529,779.1 546.1,766.9 550.6,763.3 580.6,734.6 585.1,730.6 590.4,727.2 601.6,722.7 604.6,721 606.1,719.3 612.1,709.6 618.1,700.9 623.3,694.4 627.1,691.4 640.6,682 645.1,677.9 660.1,662.5 675.1,649.8 679.6,646.6 683.5,644.3 694.6,639.7 697.6,635.7 708.1,616.7 711.1,612.7 714.1,611.4 723,608.7 726.1,606.7 729.1,603.8 738.1,592.8 741.1,589.6 744.1,587.2 753.7,581.4 759.1,577 763.6,572.8 772.6,562.8 786.1,541.1 796.6,527.3 804.3,518.5 814.6,509.5 819.1,504.4 826.6,491.7 834.1,477.3 837.1,472.6 849.1,461.3 863.6,441 876.7,426.8 883.6,417.4 886.6,414 892.6,410.2 897.1,408.2 900.1,407.6 905.5,407.9 907.6,406.6 912.1,402.5 921.1,392.4 924.1,389.7 926.5,388.3 931.6,389.3 942.1,392.5 944.9,392.9 946.6,392 951.1,388.9 955.6,384.7 969.1,369.7 973.6,365.2 978.1,361.6 981.6,359.6 987.1,360.2 992,361.1 993.1,361.6 999.1,365.3 1012.6,375.4 1015.6,377.1 1019.6,378.6 1023.1,377.1 1026.1,375.3 1039.6,365 1044.1,362.3 1047.1,361 1057.6,363.7 1063.6,363 1081.2,360.2 1090.6,356.2 1094.3,355.1 1096.6,356.4 1101.1,359.9 1102.6,360.3 1107.1,358.3 1114,353.9 1120.6,345.1 1123.2,342.7 1125.1,343.2 1131.1,346.5 1133.7,347.3 1156.6,346.1 1180.8,342.3 1185.1,343.1 1188.7,344.2 1191.1,349.7 1194.1,358.6 1196,362.3 1200.1,360.5 1205.7,356.7 1207.6,352.1 1213.6,332 1216.2,326.2 1219.6,327.2 1224,329.2 1230.1,335.2 1233.3,337.6 1246.6,338 1256.9,338.9 1264.6,341.4 1267.6,343.7 1270.6,347.4 1275.2,354.8 1278.1,362.9 1285.6,387.3 1288.6,395.1 1291,399 1294.6,399.2 1301.5,398 1310.6,391.7 1312.6,392.8 1317.1,397.2 1319.8,398.8 1327.7,394.4 1330.6,394.7 1340,397.7 1344.1,401.2 1351.6,409.3 1355.7,412.6 1384.6,414.1 1405.5,412.5 1411.6,411.4 1506.1,388 1507.8,387.5 1512.1,385 1524.1,375.9 1528.8,372.8 1545.1,364.4 1549.6,362.6 1554.1,361.4 1556.3,361 1558.6,361.2 1566.1,363.8 1569.1,366 1578.1,375 1581.1,377.2 1583.8,378.2 1587.1,375.8 1591.6,370.9 1594.3,368.5 1600.6,365.4 1606.1,363.6 1608.1,366.4 1611.1,371.5 1632.1,413.2 1639.6,425.3 1648.6,438.1 1657.6,449.9 1680.1,478.6 1689.1,488.6 1693.6,492.3 1696.6,494.2 1711,496.7 1713.1,497.9 1720.6,504.5 1729.6,514.9 1733.3,517.8 1746.4,520.9 1747.6,521.4 1752.1,524.4 1761.1,532.1 1765.6,535.2 1774.6,539.7 1798.6,550.1 1804.1,552.9 1807.6,556.3 1814.6,564.8 1825.6,580.2 1827.7,582.5 1830.1,584.2 1832.9,585.4 1834.6,584.9 1837.6,582.9 1840,580.5" stroke="#5F7F33"/>
<polyline class="c" points="346.6,939 349,934.7 351.1,932.9 353,931.9 355.6,931.7 361.6,932.2 367.6,932 371,931.5 373.6,930.3 390.1,918.8 408.1,907.6 417.1,900.9 427.6,892.4 433.6,886.6 439.6,878.5 450,857.6 454.6,850.9 459.1,846.3 469.6,836.8 484.6,819.6 489.4,814.6 511.3,796.4 529,779.1 546.1,766.9 550.6,763.3 580.6,734.6 585.1,730.6 590.4,727.2 601.6,722.7 604.6,721 606.1,719.3 612.1,709.6 618.1,700.9 623.3,694.4 627.1,691.4 640.6,682 645.1,677.9 660.1,662.5 675.1,649.8 679.6,646.6 683.5,644.3 694.6,639.7 697.6,635.7 708.1,616.7 711.1,612.7 714.1,611.4 723,608.7 726.1,606.7 729.1,603.8 738.1,592.8 741.1,589.6 744.1,587.2 753.7,581.4 759.1,577 763.6,572.8 772.6,562.8 786.1,541.1 796.6,527.3 804.3,518.5 814.6,509.5 819.1,504.4 826.6,491.7 834.1,477.3 837.1,472.6 849.1,461.3 863.6,441 876.7,426.8 883.6,417.4 886.6,414 892.6,410.2 897.1,408.2 900.1,407.6 905.5,407.9 907.6,406.6 912.1,402.5 921.1,392.4 924.1,389.7 926.5,388.3 931.6,389.3 942.1,392.5 944.9,392.9 946.6,392 951.1,388.9 955.6,384.7 969.1,369.7 973.6,365.2 978.1,361.6 981.6,359.6 987.1,360.2 992,361.1 993.1,361.6 999.1,365.3 1012.6,375.4 1015.6,377.1 1019.6,378.6 1023.1,377.1 1026.1,375.3 1039.6,365 1044.1,362.3 1047.1,361 1057.6,363.7 1063.6,363 1081.2,360.2 1090.6,356.2 1094.3,355.1 1096.6,356.4 1101.1,359.9 1102.6,360.3 1107.1,358.3 1114,353.9 1120.6,345.1 1123.2,342.7 1125.1,343.2 1131.1,346.5 1133.7,347.3 1156.6,346.1 1180.8,342.3 1185.1,343.1 1188.7,344.2 1191.1,349.7 1194.1,358.6 1196,362.3 1200.1,360.5 1205.7,356.7 1207.6,352.1 1213.6,332 1216.2,326.2 1219.6,327.2 1224,329.2 1230.1,335.2 1233.3,337.6 1246.6,338 1256.9,338.9 1264.6,341.4 1267.6,343.7 1270.6,347.4 1275.2,354.8 1278.1,362.9 1285.6,387.3 1288.6,395.1 1291,399 1294.6,399.2 1301.5,398 1310.6,391.7 1312.6,392.8 1317.1,397.2 1319.8,398.8 1327.7,394.4 1330.6,394.7 1340,397.7 1344.1,401.2 1351.6,409.3 1355.7,412.6 1384.6,414.1 1405.5,412.5 1411.6,411.4 1506.1,388 1507.8,387.5 1512.1,385 1524.1,375.9 1528.8,372.8 1545.1,364.4 1549.6,362.6 1554.1,361.4 1556.3,361 1558.6,361.2 1566.1,363.8 1569.1,366 1578.1,375 1581.1,377.2 1583.8,378.2 1587.1,375.8 1591.6,370.9 1594.3,368.5 1600.6,365.4 1606.1,363.6 1608.1,366.4 1611.1,371.5 1632.1,413.2 1639.6,425.3 1648.6,438.1 1657.6,449.9 1680.1,478.6 1689.1,488.6 1693.6,492.3 1696.6,494.2 1711,496.7 1713.1,497.9 1720.6,504.5 1729.6,514.9 1733.3,517.8 1746.4,520.9 1747.6,521.4 1752.1,524.4 1761.1,532.1 1765.6,535.2 1774.6,539.7 1798.6,550.1 1804.1,552.9 1807.6,556.3 1814.6,564.8 1825.6,580.2 1827.7,582.5 1830.1,584.2 1832.9,585.4 1834.6,584.9 1837.6,582.9 1840,580.5" stroke="#5F7F33"/>
<polyline class="b" filter="url(#softer)" points="346.6,896 349,891.5 351.1,889.8 353,889.1 355.6,889.4 361.6,891.4 367.6,892.8 370.6,893.2 372.1,893 388.6,885.2 409.6,878.1 426.1,871.1 430.6,868.8 435.1,865.6 440,860.7 450,844.1 453.1,840.6 456.1,838.2 469.6,831.5 484.6,820.4 489.4,817.3 511.3,807.2 525.1,798.3 529,796.2 544.6,790.3 550.6,787.7 585.1,766.2 590.4,764.3 601.6,762.7 604.6,761.9 606.1,760.6 612.1,753 618.1,746.2 623.3,741.4 627.1,739.3 637.6,734.7 642.1,732.1 660.1,718.2 676.6,707.3 683.5,703.9 694.6,700.4 697.6,697.1 708.1,680.4 711.1,676.9 712.6,676.2 723,673.3 726.1,671.5 730.6,667.3 741.1,655.8 744.1,653.6 751.6,649.2 756.1,646.1 762.1,640.9 769.6,633.4 774.1,627.8 786.1,609.1 795.1,597.5 804.3,586.8 814.6,577.3 817.6,574.1 822.1,567.3 828.1,556.8 834.1,545.3 837.1,540.6 849.1,528.2 862.6,508.3 876.7,491.1 883.6,481 886.6,477.1 892.6,472.2 897.1,469.3 900,468 905.5,467.8 907.6,466.5 912.1,462.4 921.1,452.3 925.6,448.6 926.5,448.1 930.1,448.3 943.6,450.9 944.9,450.9 946.6,450 951.1,446.7 955.6,442.5 969.1,427.5 973.6,422.9 978.1,419.2 981.6,417.1 987.1,417.2 993.1,418 999.1,420.9 1012.6,429.3 1015.6,430.7 1019.6,431.9 1023.1,430.2 1026.1,428.2 1039.6,417.5 1044.1,414.6 1047.1,413.2 1057.6,414.8 1063.6,413.7 1081.2,409.7 1090.6,405.2 1094.3,403.9 1096.6,404.9 1101.1,407.9 1102.6,408.1 1107.1,405.9 1114,401.2 1120.6,392.4 1123.2,389.8 1125.1,390.2 1131.1,392.8 1133.7,393.4 1147.6,391.6 1156.6,390.8 1180.6,386.3 1185.1,386.8 1188.7,387.7 1191.1,392.8 1194.1,401.2 1196,404.6 1200.1,402.8 1205.7,398.9 1207.6,394.5 1213.6,375.1 1216.2,369.5 1219.6,370.3 1224,372.1 1230.1,377.5 1233.1,379.5 1240.6,379.6 1242.1,379.9 1245.1,381.1 1249.6,384.6 1252.6,387.9 1256.9,393.7 1267.6,412.9 1270.6,417 1275.2,421.8 1276.6,424 1279.6,429.8 1287.1,446 1291,452.9 1301.5,460.8 1308.1,461.9 1310.6,462.8 1312.6,466.2 1319.8,482 1327.6,491.2 1330.6,497 1340,519.2 1348.6,543.5 1353.1,553.4 1355.7,557.7 1359.1,560.7 1363.6,563.7 1374.1,568.8 1380.1,571 1384.6,572.3 1396.6,573.4 1401.1,573.3 1407.1,572.7 1416.1,570.9 1480.6,555.9 1498.6,552.1 1507.8,549.6 1513.6,546.4 1524.1,538.9 1528.8,536 1543.6,528.8 1552.6,525.7 1556.3,525 1558.6,525.1 1565.5,526.7 1569.1,528.7 1579.6,536.8 1583.8,538.3 1587.1,536.2 1591.6,531.9 1594.3,529.8 1600.6,527 1606.1,525.3 1611.1,531.9 1630.6,564.8 1638.1,575.8 1654.6,596.4 1681.6,628.2 1689.1,636.1 1693.6,640 1696.6,642.1 1711.6,647.5 1714.6,649.8 1720.6,655.4 1729.6,665.7 1732.6,668.5 1747.6,675.4 1752.1,678.9 1764.7,690.2 1774.6,696.8 1798.6,711.6 1804.1,715.3 1807.6,718.9 1814.6,727.3 1825.6,742 1830.1,746.3 1833.1,748 1836.1,747 1840,744.3" stroke="#6F5596"/>
<polyline class="c" points="346.6,896 349,891.5 351.1,889.8 353,889.1 355.6,889.4 361.6,891.4 367.6,892.8 370.6,893.2 372.1,893 388.6,885.2 409.6,878.1 426.1,871.1 430.6,868.8 435.1,865.6 440,860.7 450,844.1 453.1,840.6 456.1,838.2 469.6,831.5 484.6,820.4 489.4,817.3 511.3,807.2 525.1,798.3 529,796.2 544.6,790.3 550.6,787.7 585.1,766.2 590.4,764.3 601.6,762.7 604.6,761.9 606.1,760.6 612.1,753 618.1,746.2 623.3,741.4 627.1,739.3 637.6,734.7 642.1,732.1 660.1,718.2 676.6,707.3 683.5,703.9 694.6,700.4 697.6,697.1 708.1,680.4 711.1,676.9 712.6,676.2 723,673.3 726.1,671.5 730.6,667.3 741.1,655.8 744.1,653.6 751.6,649.2 756.1,646.1 762.1,640.9 769.6,633.4 774.1,627.8 786.1,609.1 795.1,597.5 804.3,586.8 814.6,577.3 817.6,574.1 822.1,567.3 828.1,556.8 834.1,545.3 837.1,540.6 849.1,528.2 862.6,508.3 876.7,491.1 883.6,481 886.6,477.1 892.6,472.2 897.1,469.3 900,468 905.5,467.8 907.6,466.5 912.1,462.4 921.1,452.3 925.6,448.6 926.5,448.1 930.1,448.3 943.6,450.9 944.9,450.9 946.6,450 951.1,446.7 955.6,442.5 969.1,427.5 973.6,422.9 978.1,419.2 981.6,417.1 987.1,417.2 993.1,418 999.1,420.9 1012.6,429.3 1015.6,430.7 1019.6,431.9 1023.1,430.2 1026.1,428.2 1039.6,417.5 1044.1,414.6 1047.1,413.2 1057.6,414.8 1063.6,413.7 1081.2,409.7 1090.6,405.2 1094.3,403.9 1096.6,404.9 1101.1,407.9 1102.6,408.1 1107.1,405.9 1114,401.2 1120.6,392.4 1123.2,389.8 1125.1,390.2 1131.1,392.8 1133.7,393.4 1147.6,391.6 1156.6,390.8 1180.6,386.3 1185.1,386.8 1188.7,387.7 1191.1,392.8 1194.1,401.2 1196,404.6 1200.1,402.8 1205.7,398.9 1207.6,394.5 1213.6,375.1 1216.2,369.5 1219.6,370.3 1224,372.1 1230.1,377.5 1233.1,379.5 1240.6,379.6 1242.1,379.9 1245.1,381.1 1249.6,384.6 1252.6,387.9 1256.9,393.7 1267.6,412.9 1270.6,417 1275.2,421.8 1276.6,424 1279.6,429.8 1287.1,446 1291,452.9 1301.5,460.8 1308.1,461.9 1310.6,462.8 1312.6,466.2 1319.8,482 1327.6,491.2 1330.6,497 1340,519.2 1348.6,543.5 1353.1,553.4 1355.7,557.7 1359.1,560.7 1363.6,563.7 1374.1,568.8 1380.1,571 1384.6,572.3 1396.6,573.4 1401.1,573.3 1407.1,572.7 1416.1,570.9 1480.6,555.9 1498.6,552.1 1507.8,549.6 1513.6,546.4 1524.1,538.9 1528.8,536 1543.6,528.8 1552.6,525.7 1556.3,525 1558.6,525.1 1565.5,526.7 1569.1,528.7 1579.6,536.8 1583.8,538.3 1587.1,536.2 1591.6,531.9 1594.3,529.8 1600.6,527 1606.1,525.3 1611.1,531.9 1630.6,564.8 1638.1,575.8 1654.6,596.4 1681.6,628.2 1689.1,636.1 1693.6,640 1696.6,642.1 1711.6,647.5 1714.6,649.8 1720.6,655.4 1729.6,665.7 1732.6,668.5 1747.6,675.4 1752.1,678.9 1764.7,690.2 1774.6,696.8 1798.6,711.6 1804.1,715.3 1807.6,718.9 1814.6,727.3 1825.6,742 1830.1,746.3 1833.1,748 1836.1,747 1840,744.3" stroke="#6F5596"/>
<polyline class="b" filter="url(#softer)" points="346.6,962 349,958.1 351.1,956.6 353,955.8 355.6,955.8 361.6,956.7 367.6,957.1 371,957 373.6,956.1 388.6,948.2 403.6,941.7 409.6,938.7 418.6,933.7 429.1,927.3 435.1,922.4 440,917 450,900.2 454.6,894.8 459.1,891.3 469.6,884.2 487.6,868.6 493.6,864.5 511.6,853.8 529,841 546.1,832.3 550.6,829.7 585.1,804.6 590.4,801.9 601.6,798.7 604.6,797.4 606.1,796 618.1,780.7 623.3,775.4 640.6,764.9 646.6,760.1 660.1,748 676.6,735.5 683.5,731.4 694.6,726.6 697.6,723 708.1,705.7 711.1,702.1 712.6,701.2 723,697.1 726.1,695 730.6,690.4 741.1,678.1 744.1,675.6 753.1,669.4 757.6,665.5 765.1,658 771.3,650.8 775.6,644.5 786.1,627.1 795.1,614.5 804.3,602.8 814.6,592.2 817.6,588.6 822.1,581.3 834.1,558.2 837.1,553.2 849.1,539.5 863.6,517 876.7,500.2 883.6,489.6 886.6,485.6 892.6,480.3 898.6,476.3 900.1,475.7 905.5,475.4 907.6,474.1 912.1,469.9 921.1,459.8 924.1,457.1 926.5,455.6 931.6,456 942.1,458 944.9,458.1 946.6,457.2 951.1,453.8 955.6,449.5 973.6,429.9 978.1,426.1 981.6,424 987.1,424 993.1,424.7 999.1,427.5 1012.6,435.7 1015.6,437 1019.6,438.1 1023.1,436.3 1026.1,434.4 1039.6,423.6 1044.1,420.6 1047.1,419.1 1057.6,420.6 1063.6,419.4 1081.2,415.1 1090.6,410.6 1094.3,409.1 1096.6,410.1 1101.1,413 1102.6,413.2 1107.1,410.9 1114,406.2 1120.6,397.3 1123.2,394.7 1125.1,395.1 1131.1,397.6 1133.7,398.1 1147.6,396.1 1156.6,395.2 1180.8,390.5 1185.1,391 1188.7,391.9 1191.1,397 1194.1,405.3 1196,408.7 1200.1,406.8 1205.7,402.9 1207.6,398.5 1213.6,379.2 1216.2,373.6 1219.6,374.4 1224,376.1 1230.1,381.4 1233.3,383.5 1240.6,383.4 1256.9,384.2 1266.1,386.7 1269.1,386 1272.1,384.3 1275.2,381.7 1276.6,381.7 1278.1,382.1 1281.1,384.1 1287.1,390 1291,392.9 1296.1,391.8 1301.5,389.9 1310.6,381.1 1312.6,381.9 1317.1,385.7 1318.6,386.5 1319.8,386.6 1327.7,379 1330.6,378.1 1333.6,377.8 1340,377.7 1341.1,378.2 1345.6,381.2 1353.1,388.1 1355.7,389.6 1362.1,389.1 1384.6,388.6 1405.5,386.4 1416.1,384 1480,365.8 1498.6,361 1507.8,358 1513.6,354.1 1524.1,344.9 1528.8,341.4 1543.6,332.6 1548.1,330.5 1552.6,328.8 1556.3,328 1558.6,328.1 1565.5,330.1 1569.1,332.7 1576.6,340.4 1579.6,343.1 1581.1,344.1 1583.8,345 1587.1,342.3 1591.6,336.7 1594.3,334 1600.6,330.3 1606.1,328.1 1609.6,330.1 1612.6,333.1 1620.1,341.5 1630.6,355 1635.1,359.8 1644.1,367.2 1666.6,383.6 1681.6,395.9 1687.6,400.2 1692.1,402.5 1696.6,403.7 1710.1,400.2 1711,400.1 1713.1,400.6 1720.6,405.2 1729.6,413.9 1732.6,415.9 1735.6,416.2 1746.4,415.9 1747.6,416.2 1752.1,418.5 1761.1,425.3 1764.7,427.6 1773.1,430.9 1797.1,439.3 1801.6,441.2 1804.6,442.9 1809.1,447.9 1815.1,455.9 1824.1,469.9 1827.7,474.4 1830.1,476.1 1832.9,477.3 1836.1,475.7 1840,471.5" stroke="#C4692A"/>
<polyline class="c" points="346.6,962 349,958.1 351.1,956.6 353,955.8 355.6,955.8 361.6,956.7 367.6,957.1 371,957 373.6,956.1 388.6,948.2 403.6,941.7 409.6,938.7 418.6,933.7 429.1,927.3 435.1,922.4 440,917 450,900.2 454.6,894.8 459.1,891.3 469.6,884.2 487.6,868.6 493.6,864.5 511.6,853.8 529,841 546.1,832.3 550.6,829.7 585.1,804.6 590.4,801.9 601.6,798.7 604.6,797.4 606.1,796 618.1,780.7 623.3,775.4 640.6,764.9 646.6,760.1 660.1,748 676.6,735.5 683.5,731.4 694.6,726.6 697.6,723 708.1,705.7 711.1,702.1 712.6,701.2 723,697.1 726.1,695 730.6,690.4 741.1,678.1 744.1,675.6 753.1,669.4 757.6,665.5 765.1,658 771.3,650.8 775.6,644.5 786.1,627.1 795.1,614.5 804.3,602.8 814.6,592.2 817.6,588.6 822.1,581.3 834.1,558.2 837.1,553.2 849.1,539.5 863.6,517 876.7,500.2 883.6,489.6 886.6,485.6 892.6,480.3 898.6,476.3 900.1,475.7 905.5,475.4 907.6,474.1 912.1,469.9 921.1,459.8 924.1,457.1 926.5,455.6 931.6,456 942.1,458 944.9,458.1 946.6,457.2 951.1,453.8 955.6,449.5 973.6,429.9 978.1,426.1 981.6,424 987.1,424 993.1,424.7 999.1,427.5 1012.6,435.7 1015.6,437 1019.6,438.1 1023.1,436.3 1026.1,434.4 1039.6,423.6 1044.1,420.6 1047.1,419.1 1057.6,420.6 1063.6,419.4 1081.2,415.1 1090.6,410.6 1094.3,409.1 1096.6,410.1 1101.1,413 1102.6,413.2 1107.1,410.9 1114,406.2 1120.6,397.3 1123.2,394.7 1125.1,395.1 1131.1,397.6 1133.7,398.1 1147.6,396.1 1156.6,395.2 1180.8,390.5 1185.1,391 1188.7,391.9 1191.1,397 1194.1,405.3 1196,408.7 1200.1,406.8 1205.7,402.9 1207.6,398.5 1213.6,379.2 1216.2,373.6 1219.6,374.4 1224,376.1 1230.1,381.4 1233.3,383.5 1240.6,383.4 1256.9,384.2 1266.1,386.7 1269.1,386 1272.1,384.3 1275.2,381.7 1276.6,381.7 1278.1,382.1 1281.1,384.1 1287.1,390 1291,392.9 1296.1,391.8 1301.5,389.9 1310.6,381.1 1312.6,381.9 1317.1,385.7 1318.6,386.5 1319.8,386.6 1327.7,379 1330.6,378.1 1333.6,377.8 1340,377.7 1341.1,378.2 1345.6,381.2 1353.1,388.1 1355.7,389.6 1362.1,389.1 1384.6,388.6 1405.5,386.4 1416.1,384 1480,365.8 1498.6,361 1507.8,358 1513.6,354.1 1524.1,344.9 1528.8,341.4 1543.6,332.6 1548.1,330.5 1552.6,328.8 1556.3,328 1558.6,328.1 1565.5,330.1 1569.1,332.7 1576.6,340.4 1579.6,343.1 1581.1,344.1 1583.8,345 1587.1,342.3 1591.6,336.7 1594.3,334 1600.6,330.3 1606.1,328.1 1609.6,330.1 1612.6,333.1 1620.1,341.5 1630.6,355 1635.1,359.8 1644.1,367.2 1666.6,383.6 1681.6,395.9 1687.6,400.2 1692.1,402.5 1696.6,403.7 1710.1,400.2 1711,400.1 1713.1,400.6 1720.6,405.2 1729.6,413.9 1732.6,415.9 1735.6,416.2 1746.4,415.9 1747.6,416.2 1752.1,418.5 1761.1,425.3 1764.7,427.6 1773.1,430.9 1797.1,439.3 1801.6,441.2 1804.6,442.9 1809.1,447.9 1815.1,455.9 1824.1,469.9 1827.7,474.4 1830.1,476.1 1832.9,477.3 1836.1,475.7 1840,471.5" stroke="#C4692A"/>
<polyline class="b" filter="url(#softer)" points="346.6,965 349,961.2 351.1,959.6 353,958.8 355.6,958.8 361.6,959.7 367.6,960.1 371,960 373.6,959.2 388.6,951.3 403.6,944.8 409.6,941.9 418.6,936.9 429.1,930.6 435.1,925.7 440,920.3 450,903.7 454.6,898.3 459.1,894.8 469.6,887.8 487.6,872.3 493.6,868.2 511.6,857.6 529,844.9 546.1,836.3 550.6,833.7 585.1,808.8 590.4,806.1 601.6,802.9 604.6,801.6 606.1,800.2 618.1,785.1 623.3,779.8 640.6,769.4 646.6,764.5 660.1,752.6 676.6,740.2 683.5,736.1 694.6,731.3 697.6,727.8 708.1,710.6 711.1,707 712.6,706.1 723,702.1 726.1,700 730.6,695.4 741.1,683.2 744.1,680.7 753.1,674.5 757.6,670.7 765.1,663.2 771.3,656.1 775.6,649.9 786.1,632.5 795.1,620 804.3,608.5 814.6,597.9 817.6,594.3 822.1,587.1 834.1,564.2 837.1,559.2 849.1,545.6 863.6,523.3 876.7,506.6 883.6,496.1 887.7,491 894.1,485.7 898.6,482.8 900.1,482.3 905.5,482.1 907.6,480.8 912.1,476.7 921.1,466.7 924.1,464 926.5,462.5 931.6,463 942.1,465 944.9,465.1 946.6,464.2 951.1,460.9 955.6,456.7 973.6,437.3 978.1,433.6 981.6,431.5 987.1,431.5 993.1,432.3 999.1,435.1 1012.6,443.2 1015.6,444.6 1019.6,445.6 1023.1,444 1026.1,442 1039.6,431.4 1044.1,428.4 1047.1,427 1057.6,428.5 1063.6,427.4 1081.2,423.3 1090.6,418.8 1094.3,417.4 1096.6,418.4 1101.1,421.3 1102.6,421.5 1107.1,419.3 1114,414.6 1120.6,405.8 1123.2,403.3 1125.1,403.7 1131.1,406.1 1133.7,406.7 1147.6,404.8 1156.6,404 1180.8,399.4 1185.1,399.9 1188.7,400.8 1191.1,405.8 1194.1,414 1196,417.4 1200.1,415.6 1205.7,411.7 1207.6,407.3 1213.6,388.2 1216.2,382.7 1219.6,383.5 1224,385.2 1230.1,390.5 1233.3,392.6 1242.1,392.5 1256.9,393.6 1264.6,396 1267.6,397.8 1270.6,400.3 1275.2,405.3 1278.1,411.4 1287.1,434 1288.6,436.9 1291,440.1 1294.6,440.2 1301.5,439.6 1308.1,436 1310.6,435.1 1312.6,436.5 1317.1,441.6 1319.8,443.8 1327.7,441.9 1332.1,443.8 1340,449.1 1342.6,451.9 1351.6,463.3 1355.7,467.1 1369.6,469.3 1384.6,470.6 1401.1,469.9 1405.6,469.5 1411.6,468.4 1506.1,445 1507.8,444.5 1512.1,442 1524.1,432.9 1528.8,429.8 1543.6,422.1 1548.1,420.2 1552.6,418.7 1556.3,418 1558.6,418.1 1565.5,419.8 1569.1,422.2 1579.6,431.4 1581.1,432.3 1583.8,433.2 1587.1,430.7 1591.6,425.6 1594.3,423.1 1600.6,419.7 1606.1,417.7 1609.6,419.3 1612.6,421.8 1620.1,429 1630.6,440.7 1635.1,444.8 1645.6,452.1 1668.1,465.8 1681.6,475.4 1687.6,479 1692.1,480.9 1696.6,481.9 1710.1,478.2 1711,478.1 1713.1,478.5 1720.6,482.4 1729.6,490 1732.6,491.7 1735.6,491.8 1746.4,491.2 1747.6,491.5 1752.1,493.4 1761.1,499.3 1764.7,501.2 1773.1,504.1 1801.6,512.6 1804.6,514 1809.1,518.4 1815.1,525.5 1824.1,538 1827.7,542 1830.1,543.5 1832.9,544.5 1836.1,543.1 1840,539.3" stroke="#C4692A"/>
<polyline class="c" points="346.6,965 349,961.2 351.1,959.6 353,958.8 355.6,958.8 361.6,959.7 367.6,960.1 371,960 373.6,959.2 388.6,951.3 403.6,944.8 409.6,941.9 418.6,936.9 429.1,930.6 435.1,925.7 440,920.3 450,903.7 454.6,898.3 459.1,894.8 469.6,887.8 487.6,872.3 493.6,868.2 511.6,857.6 529,844.9 546.1,836.3 550.6,833.7 585.1,808.8 590.4,806.1 601.6,802.9 604.6,801.6 606.1,800.2 618.1,785.1 623.3,779.8 640.6,769.4 646.6,764.5 660.1,752.6 676.6,740.2 683.5,736.1 694.6,731.3 697.6,727.8 708.1,710.6 711.1,707 712.6,706.1 723,702.1 726.1,700 730.6,695.4 741.1,683.2 744.1,680.7 753.1,674.5 757.6,670.7 765.1,663.2 771.3,656.1 775.6,649.9 786.1,632.5 795.1,620 804.3,608.5 814.6,597.9 817.6,594.3 822.1,587.1 834.1,564.2 837.1,559.2 849.1,545.6 863.6,523.3 876.7,506.6 883.6,496.1 887.7,491 894.1,485.7 898.6,482.8 900.1,482.3 905.5,482.1 907.6,480.8 912.1,476.7 921.1,466.7 924.1,464 926.5,462.5 931.6,463 942.1,465 944.9,465.1 946.6,464.2 951.1,460.9 955.6,456.7 973.6,437.3 978.1,433.6 981.6,431.5 987.1,431.5 993.1,432.3 999.1,435.1 1012.6,443.2 1015.6,444.6 1019.6,445.6 1023.1,444 1026.1,442 1039.6,431.4 1044.1,428.4 1047.1,427 1057.6,428.5 1063.6,427.4 1081.2,423.3 1090.6,418.8 1094.3,417.4 1096.6,418.4 1101.1,421.3 1102.6,421.5 1107.1,419.3 1114,414.6 1120.6,405.8 1123.2,403.3 1125.1,403.7 1131.1,406.1 1133.7,406.7 1147.6,404.8 1156.6,404 1180.8,399.4 1185.1,399.9 1188.7,400.8 1191.1,405.8 1194.1,414 1196,417.4 1200.1,415.6 1205.7,411.7 1207.6,407.3 1213.6,388.2 1216.2,382.7 1219.6,383.5 1224,385.2 1230.1,390.5 1233.3,392.6 1242.1,392.5 1256.9,393.6 1264.6,396 1267.6,397.8 1270.6,400.3 1275.2,405.3 1278.1,411.4 1287.1,434 1288.6,436.9 1291,440.1 1294.6,440.2 1301.5,439.6 1308.1,436 1310.6,435.1 1312.6,436.5 1317.1,441.6 1319.8,443.8 1327.7,441.9 1332.1,443.8 1340,449.1 1342.6,451.9 1351.6,463.3 1355.7,467.1 1369.6,469.3 1384.6,470.6 1401.1,469.9 1405.6,469.5 1411.6,468.4 1506.1,445 1507.8,444.5 1512.1,442 1524.1,432.9 1528.8,429.8 1543.6,422.1 1548.1,420.2 1552.6,418.7 1556.3,418 1558.6,418.1 1565.5,419.8 1569.1,422.2 1579.6,431.4 1581.1,432.3 1583.8,433.2 1587.1,430.7 1591.6,425.6 1594.3,423.1 1600.6,419.7 1606.1,417.7 1609.6,419.3 1612.6,421.8 1620.1,429 1630.6,440.7 1635.1,444.8 1645.6,452.1 1668.1,465.8 1681.6,475.4 1687.6,479 1692.1,480.9 1696.6,481.9 1710.1,478.2 1711,478.1 1713.1,478.5 1720.6,482.4 1729.6,490 1732.6,491.7 1735.6,491.8 1746.4,491.2 1747.6,491.5 1752.1,493.4 1761.1,499.3 1764.7,501.2 1773.1,504.1 1801.6,512.6 1804.6,514 1809.1,518.4 1815.1,525.5 1824.1,538 1827.7,542 1830.1,543.5 1832.9,544.5 1836.1,543.1 1840,539.3" stroke="#C4692A"/>
<polyline class="b" filter="url(#softer)" points="346.6,937 349,932.9 351.1,931.3 353,930.6 355.6,930.7 361.6,932.1 367.6,932.9 371,933 373.6,932.3 390.1,924 403.6,918.9 411.1,915.6 429.1,906.4 435.1,902 440,896.9 450,880.5 454.6,875.5 459.1,872.4 469.6,866.4 487.6,852.1 493.6,848.4 511.3,839.2 529,827.3 546.1,819.7 550.6,817.3 585.1,794.3 590.4,792 601.6,789.6 604.6,788.5 606.1,787.2 612.1,779.6 618.1,772.7 623.3,767.7 627.1,765.4 640.6,758.6 646.6,754.2 660.1,743.1 676.6,731.8 683.5,728.2 694.6,724.4 697.6,721 708.1,704.6 711.1,701.1 712.6,700.4 723,697.2 726.1,695.4 730.6,691.2 741.1,679.8 744.1,677.6 753.1,672.2 757.6,668.8 765.1,662 771.3,655.5 775.6,649.8 786.1,633.6 795.1,622.2 804.3,611.7 814.6,602.3 817.6,599.1 822.1,592.5 828.1,582.2 834.1,571.1 837.1,566.5 849.1,554.4 862.6,535.1 876.7,518.6 883.6,508.9 886.6,505.2 892.6,500.5 897.1,497.8 900,496.6 905.5,496.4 907.6,495.2 912.1,491.2 921.1,481.5 924.1,478.9 926.5,477.5 931.6,478 942.1,480.1 944.9,480.2 946.6,479.3 951.1,476.2 955.6,472.1 973.6,453.4 978.1,449.8 981.6,447.7 987.1,447.8 993.1,448.6 999.1,451.5 1012.6,459.6 1015.6,460.9 1019.6,462 1023.1,460.4 1026.1,458.5 1039.6,448.3 1044.1,445.5 1047.1,444.1 1057.6,445.7 1063.6,444.6 1081.2,440.8 1090.6,436.5 1094.3,435.2 1096.6,436.2 1101.1,439.1 1102.6,439.3 1107.1,437.2 1114,432.7 1120.6,424.2 1123.2,421.8 1125.1,422.1 1131.1,424.6 1133.7,425.2 1147.6,423.5 1156.6,422.7 1180.8,418.4 1185.1,418.9 1188.7,419.8 1191.1,424.7 1194.1,432.8 1196,436 1200.1,434.3 1205.7,430.6 1207.6,426.3 1213.6,407.7 1216.2,402.3 1219.6,403.1 1224,404.8 1230.1,410 1233.3,412 1240.6,412 1256.9,412.6 1266.1,414.7 1270.6,414.1 1275.2,412.2 1276.6,412.5 1279.6,414.2 1287.1,421.5 1291,424.2 1297.6,423.2 1301.5,422.3 1310.6,416 1312.6,416.8 1317.1,420.4 1319.8,421.6 1327.7,416.8 1330.6,416.6 1336.6,417.4 1340,418.2 1341.1,418.7 1345.6,422 1353.1,428.6 1355.7,430.1 1384.6,430.6 1405.5,429 1416.1,426.7 1480,409.9 1498.6,405.5 1507.8,402.7 1513.6,399.1 1524.1,390.6 1528.8,387.3 1543.6,379.3 1548.1,377.3 1552.6,375.8 1556.3,375 1558.6,375.1 1565.5,376.8 1569.1,379.2 1576.6,386.5 1579.6,388.9 1581.1,389.8 1583.8,390.7 1587.1,388 1591.6,382.4 1594.3,379.7 1600.6,376 1606.1,373.7 1609.6,376.1 1612.6,379.4 1620.1,388.5 1632.1,404.5 1636.6,409.2 1647.1,418.5 1666.6,433.9 1681.6,447 1687.6,451.6 1692.1,454.1 1696.6,455.7 1710.1,453.6 1711,453.5 1713.1,454.2 1720.6,459.1 1729.6,467.9 1732.6,469.9 1735.6,470.4 1746.4,470.8 1747.6,471.2 1752.1,473.7 1761.1,480.5 1764.7,482.9 1773.1,486.5 1801.6,497.5 1804.6,499.3 1809.1,504.1 1815.1,511.8 1824.1,525.3 1827.7,529.6 1830.1,531.3 1832.9,532.5 1836.1,531 1840,527.2" stroke="#5DB6D1"/>
<polyline class="c" points="346.6,937 349,932.9 351.1,931.3 353,930.6 355.6,930.7 361.6,932.1 367.6,932.9 371,933 373.6,932.3 390.1,924 403.6,918.9 411.1,915.6 429.1,906.4 435.1,902 440,896.9 450,880.5 454.6,875.5 459.1,872.4 469.6,866.4 487.6,852.1 493.6,848.4 511.3,839.2 529,827.3 546.1,819.7 550.6,817.3 585.1,794.3 590.4,792 601.6,789.6 604.6,788.5 606.1,787.2 612.1,779.6 618.1,772.7 623.3,767.7 627.1,765.4 640.6,758.6 646.6,754.2 660.1,743.1 676.6,731.8 683.5,728.2 694.6,724.4 697.6,721 708.1,704.6 711.1,701.1 712.6,700.4 723,697.2 726.1,695.4 730.6,691.2 741.1,679.8 744.1,677.6 753.1,672.2 757.6,668.8 765.1,662 771.3,655.5 775.6,649.8 786.1,633.6 795.1,622.2 804.3,611.7 814.6,602.3 817.6,599.1 822.1,592.5 828.1,582.2 834.1,571.1 837.1,566.5 849.1,554.4 862.6,535.1 876.7,518.6 883.6,508.9 886.6,505.2 892.6,500.5 897.1,497.8 900,496.6 905.5,496.4 907.6,495.2 912.1,491.2 921.1,481.5 924.1,478.9 926.5,477.5 931.6,478 942.1,480.1 944.9,480.2 946.6,479.3 951.1,476.2 955.6,472.1 973.6,453.4 978.1,449.8 981.6,447.7 987.1,447.8 993.1,448.6 999.1,451.5 1012.6,459.6 1015.6,460.9 1019.6,462 1023.1,460.4 1026.1,458.5 1039.6,448.3 1044.1,445.5 1047.1,444.1 1057.6,445.7 1063.6,444.6 1081.2,440.8 1090.6,436.5 1094.3,435.2 1096.6,436.2 1101.1,439.1 1102.6,439.3 1107.1,437.2 1114,432.7 1120.6,424.2 1123.2,421.8 1125.1,422.1 1131.1,424.6 1133.7,425.2 1147.6,423.5 1156.6,422.7 1180.8,418.4 1185.1,418.9 1188.7,419.8 1191.1,424.7 1194.1,432.8 1196,436 1200.1,434.3 1205.7,430.6 1207.6,426.3 1213.6,407.7 1216.2,402.3 1219.6,403.1 1224,404.8 1230.1,410 1233.3,412 1240.6,412 1256.9,412.6 1266.1,414.7 1270.6,414.1 1275.2,412.2 1276.6,412.5 1279.6,414.2 1287.1,421.5 1291,424.2 1297.6,423.2 1301.5,422.3 1310.6,416 1312.6,416.8 1317.1,420.4 1319.8,421.6 1327.7,416.8 1330.6,416.6 1336.6,417.4 1340,418.2 1341.1,418.7 1345.6,422 1353.1,428.6 1355.7,430.1 1384.6,430.6 1405.5,429 1416.1,426.7 1480,409.9 1498.6,405.5 1507.8,402.7 1513.6,399.1 1524.1,390.6 1528.8,387.3 1543.6,379.3 1548.1,377.3 1552.6,375.8 1556.3,375 1558.6,375.1 1565.5,376.8 1569.1,379.2 1576.6,386.5 1579.6,388.9 1581.1,389.8 1583.8,390.7 1587.1,388 1591.6,382.4 1594.3,379.7 1600.6,376 1606.1,373.7 1609.6,376.1 1612.6,379.4 1620.1,388.5 1632.1,404.5 1636.6,409.2 1647.1,418.5 1666.6,433.9 1681.6,447 1687.6,451.6 1692.1,454.1 1696.6,455.7 1710.1,453.6 1711,453.5 1713.1,454.2 1720.6,459.1 1729.6,467.9 1732.6,469.9 1735.6,470.4 1746.4,470.8 1747.6,471.2 1752.1,473.7 1761.1,480.5 1764.7,482.9 1773.1,486.5 1801.6,497.5 1804.6,499.3 1809.1,504.1 1815.1,511.8 1824.1,525.3 1827.7,529.6 1830.1,531.3 1832.9,532.5 1836.1,531 1840,527.2" stroke="#5DB6D1"/>
<polyline class="b" filter="url(#softer)" points="346.6,932.5 349,928.4 351.1,926.8 353,926.1 355.6,926.3 361.6,927.8 367.6,928.8 371,928.9 373.6,928.2 390.1,920.2 405.1,914.8 412.6,911.6 430.6,902.8 435.1,899.5 440,894.5 450,878.5 454.6,873.7 459.1,870.8 469.6,865.2 487.6,851.5 493.6,848.1 511.3,839.4 529,828 546.1,820.8 550.6,818.6 585.1,796.5 590.4,794.4 601.6,792.3 604.6,791.3 606.1,790 612.1,782.6 618.1,776 623.3,771.1 627.1,769 640.6,762.6 646.6,758.4 660.1,747.8 676.6,737.1 683.5,733.7 694.6,730.1 697.6,726.9 708.1,711 711.1,707.7 712.6,707 723,704.1 726.1,702.4 730.6,698.4 741.1,687.5 744.1,685.4 753.1,680.4 757.6,677.1 765.1,670.7 771.3,664.5 775.6,659 786.1,643.5 795.1,632.6 804.3,622.6 814.6,613.8 817.6,610.8 822.1,604.4 828.1,594.6 834.1,583.9 837.1,579.5 849.1,568 862.6,549.6 876.7,533.9 883.6,524.6 886.6,521.1 892.6,516.6 897.1,514.1 900,513 905.5,512.8 907.6,511.6 912.1,507.7 921.1,498.1 924.1,495.6 926.5,494.2 931.6,494.6 942.1,496.6 944.9,496.8 946.6,495.9 951.1,492.8 955.6,488.8 973.6,470.3 978.1,466.8 981.6,464.8 987.1,464.8 993.1,465.6 999.1,468.3 1012.6,476.2 1015.6,477.5 1019.6,478.5 1026.1,475.1 1039.6,465 1044.1,462.2 1047.1,460.8 1057.6,462.3 1063.6,461.3 1081.2,457.4 1090.6,453.2 1094.3,451.9 1096.6,452.8 1101.1,455.6 1102.6,455.8 1107.1,453.7 1114,449.3 1120.6,440.9 1123.2,438.5 1125.1,438.9 1131.1,441.3 1133.7,441.9 1147.6,440.1 1156.6,439.3 1180.8,435 1185.1,435.5 1188.7,436.4 1191.1,441.2 1194.1,449 1196,452.2 1200.1,450.5 1205.7,446.8 1207.6,442.7 1213.6,424.4 1216.2,419.2 1219.6,419.9 1224,421.5 1230.1,426.6 1233.3,428.6 1240.6,428.6 1256.9,429.2 1267.6,431.6 1275.2,432 1278.1,434.4 1287.1,446.5 1291,450.2 1296.1,449.6 1301.5,448.3 1310.6,442 1312.6,442.8 1317.1,446.2 1319.8,447.3 1327.7,442.3 1330.6,442.1 1336.6,442.6 1340,443.2 1341.1,443.7 1345.6,446.8 1353.1,453.1 1355.7,454.5 1384.6,454.7 1405.5,453.2 1416.1,451.3 1480,437.4 1498.6,433.8 1507.8,431.5 1513.6,428.5 1524.1,421.5 1528.8,418.8 1545.1,411.6 1549.6,410 1554.1,408.9 1558.6,408.6 1566.1,410.5 1569.1,412.5 1578.1,420.7 1581.1,422.6 1583.8,423.4 1587.1,420.7 1591.6,415.3 1594.3,412.6 1600.6,408.9 1606.1,406.6 1609.6,409.3 1612.6,412.7 1620.1,422.2 1630.6,436.7 1633.7,440.6 1636.6,443.6 1647.1,453.3 1668.1,470.9 1681.6,483.2 1687.6,487.9 1692.1,490.6 1696.6,492.4 1710.1,491.2 1711,491.2 1713.1,491.9 1720.6,497 1729.6,505.8 1732.6,507.9 1735.6,508.5 1746.4,509.4 1747.6,509.9 1752.1,512.4 1761.1,519.3 1764.7,521.6 1773.1,525.4 1801.6,536.9 1804.6,538.7 1809.1,543.4 1815.1,550.9 1824.1,563.9 1827.7,568 1830.1,569.8 1832.9,571 1836.1,569.6 1840,566" stroke="#F9AE86"/>
<polyline class="c" points="346.6,932.5 349,928.4 351.1,926.8 353,926.1 355.6,926.3 361.6,927.8 367.6,928.8 371,928.9 373.6,928.2 390.1,920.2 405.1,914.8 412.6,911.6 430.6,902.8 435.1,899.5 440,894.5 450,878.5 454.6,873.7 459.1,870.8 469.6,865.2 487.6,851.5 493.6,848.1 511.3,839.4 529,828 546.1,820.8 550.6,818.6 585.1,796.5 590.4,794.4 601.6,792.3 604.6,791.3 606.1,790 612.1,782.6 618.1,776 623.3,771.1 627.1,769 640.6,762.6 646.6,758.4 660.1,747.8 676.6,737.1 683.5,733.7 694.6,730.1 697.6,726.9 708.1,711 711.1,707.7 712.6,707 723,704.1 726.1,702.4 730.6,698.4 741.1,687.5 744.1,685.4 753.1,680.4 757.6,677.1 765.1,670.7 771.3,664.5 775.6,659 786.1,643.5 795.1,632.6 804.3,622.6 814.6,613.8 817.6,610.8 822.1,604.4 828.1,594.6 834.1,583.9 837.1,579.5 849.1,568 862.6,549.6 876.7,533.9 883.6,524.6 886.6,521.1 892.6,516.6 897.1,514.1 900,513 905.5,512.8 907.6,511.6 912.1,507.7 921.1,498.1 924.1,495.6 926.5,494.2 931.6,494.6 942.1,496.6 944.9,496.8 946.6,495.9 951.1,492.8 955.6,488.8 973.6,470.3 978.1,466.8 981.6,464.8 987.1,464.8 993.1,465.6 999.1,468.3 1012.6,476.2 1015.6,477.5 1019.6,478.5 1026.1,475.1 1039.6,465 1044.1,462.2 1047.1,460.8 1057.6,462.3 1063.6,461.3 1081.2,457.4 1090.6,453.2 1094.3,451.9 1096.6,452.8 1101.1,455.6 1102.6,455.8 1107.1,453.7 1114,449.3 1120.6,440.9 1123.2,438.5 1125.1,438.9 1131.1,441.3 1133.7,441.9 1147.6,440.1 1156.6,439.3 1180.8,435 1185.1,435.5 1188.7,436.4 1191.1,441.2 1194.1,449 1196,452.2 1200.1,450.5 1205.7,446.8 1207.6,442.7 1213.6,424.4 1216.2,419.2 1219.6,419.9 1224,421.5 1230.1,426.6 1233.3,428.6 1240.6,428.6 1256.9,429.2 1267.6,431.6 1275.2,432 1278.1,434.4 1287.1,446.5 1291,450.2 1296.1,449.6 1301.5,448.3 1310.6,442 1312.6,442.8 1317.1,446.2 1319.8,447.3 1327.7,442.3 1330.6,442.1 1336.6,442.6 1340,443.2 1341.1,443.7 1345.6,446.8 1353.1,453.1 1355.7,454.5 1384.6,454.7 1405.5,453.2 1416.1,451.3 1480,437.4 1498.6,433.8 1507.8,431.5 1513.6,428.5 1524.1,421.5 1528.8,418.8 1545.1,411.6 1549.6,410 1554.1,408.9 1558.6,408.6 1566.1,410.5 1569.1,412.5 1578.1,420.7 1581.1,422.6 1583.8,423.4 1587.1,420.7 1591.6,415.3 1594.3,412.6 1600.6,408.9 1606.1,406.6 1609.6,409.3 1612.6,412.7 1620.1,422.2 1630.6,436.7 1633.7,440.6 1636.6,443.6 1647.1,453.3 1668.1,470.9 1681.6,483.2 1687.6,487.9 1692.1,490.6 1696.6,492.4 1710.1,491.2 1711,491.2 1713.1,491.9 1720.6,497 1729.6,505.8 1732.6,507.9 1735.6,508.5 1746.4,509.4 1747.6,509.9 1752.1,512.4 1761.1,519.3 1764.7,521.6 1773.1,525.4 1801.6,536.9 1804.6,538.7 1809.1,543.4 1815.1,550.9 1824.1,563.9 1827.7,568 1830.1,569.8 1832.9,571 1836.1,569.6 1840,566" stroke="#F9AE86"/>
<polyline class="b" filter="url(#softer)" points="346.6,969.5 349,965.8 351.1,964.3 353,963.5 355.6,963.5 361.6,964.5 367.6,964.9 371,964.8 373.6,964 390.1,955.7 403.6,950.2 409.6,947.4 429.1,936.6 435.1,932 440,926.8 450,910.7 454.6,905.6 459.1,902.3 469.6,895.6 487.6,880.7 493.6,876.8 511.6,866.7 529,854.6 546.1,846.3 550.6,843.8 585.1,819.9 590.4,817.4 601.6,814.4 604.6,813.2 606.1,811.8 618.1,797.3 623.3,792.2 640.6,782.3 646.6,777.7 660.1,766.2 676.6,754.3 683.5,750.4 694.6,745.9 697.6,742.5 708.1,726 711.1,722.5 712.6,721.7 723,717.8 726.1,715.8 730.6,711.5 741.1,699.8 744.1,697.4 753.1,691.5 757.6,687.8 765.1,680.7 771.3,673.9 775.6,667.9 786.1,651.3 795.1,639.3 804.3,628.2 814.6,618.2 817.6,614.8 822.1,607.8 834.1,585.8 837.1,581.1 849.1,568.1 863.6,546.7 876.7,530.8 883.6,520.7 887.7,515.8 894.1,510.7 898.6,508 900.1,507.5 905.5,507.5 907.6,506.4 912.1,502.6 921.1,493.4 924.1,490.9 926.5,489.5 931.6,490.2 942.1,492.6 944.9,492.9 946.6,492.1 951.1,489.1 955.6,485.2 969.1,471.6 973.6,467.5 978.1,464.1 981.6,462.2 987.1,462.5 993.1,463.5 999.1,466.5 1012.6,474.9 1015.6,476.3 1019.6,477.5 1023.1,476 1026.1,474.3 1039.6,464.7 1044.1,462.1 1047.1,460.8 1057.6,462.8 1063.6,461.9 1081.2,458.7 1090.6,454.9 1094.3,453.7 1096.6,454.8 1101.1,457.8 1102.6,458 1107.1,456.1 1114,451.9 1120.6,443.9 1123.2,441.6 1125.1,442 1131.1,444.6 1133.7,445.3 1156.6,443.5 1180.8,439.6 1185.1,440.2 1188.7,441.2 1191.1,446 1194.1,453.9 1196,457.1 1200.1,455.5 1205.7,451.9 1207.6,447.8 1213.6,429.8 1216.2,424.6 1219.6,425.5 1224,427.1 1230.1,432.3 1233.3,434.4 1256.9,435 1264.6,436.9 1272.1,440.3 1275.2,442.2 1276.6,444.1 1279.6,449.3 1287.1,463.9 1288.6,466.2 1291,468.8 1296.1,468.4 1301.5,467.2 1310.6,461.2 1312.6,462.1 1317.1,465.7 1319.8,466.9 1327.7,462.3 1330.6,462.3 1336.6,463.2 1340,464 1341.1,464.6 1345.6,468 1351.6,473.3 1355.7,476 1377.1,476.6 1387.6,476.5 1405.5,475.1 1411.6,474 1506.1,450.3 1507.8,449.8 1512.1,447.3 1524.1,438.1 1528.8,434.9 1545.1,426.5 1549.6,424.6 1554.1,423.4 1558.6,423 1566.1,424.8 1569.1,426.8 1578.1,434.8 1581.1,436.7 1583.8,437.5 1587.1,434.8 1591.6,429.4 1594.3,426.8 1600.6,423.1 1606.1,420.8 1609.6,422.5 1612.6,425.1 1620.1,432.4 1630.6,444.2 1635.1,448.3 1644.1,454.7 1666.6,468.6 1681.6,479.2 1687.6,482.8 1692.1,484.7 1696.6,485.7 1710.1,482 1711,481.9 1713.1,482.3 1720.6,486.1 1729.6,493.7 1732.6,495.3 1735.6,495.4 1746.4,494.8 1747.6,495 1752.1,496.9 1761.1,502.7 1764.7,504.6 1773.1,507.4 1801.6,515.5 1804.6,517 1809.1,521.3 1815.1,528.3 1824.1,540.7 1827.7,544.6 1830.1,546 1832.9,547 1836.1,545.6 1840,541.8" stroke="#2A5C96"/>
<polyline class="c" points="346.6,969.5 349,965.8 351.1,964.3 353,963.5 355.6,963.5 361.6,964.5 367.6,964.9 371,964.8 373.6,964 390.1,955.7 403.6,950.2 409.6,947.4 429.1,936.6 435.1,932 440,926.8 450,910.7 454.6,905.6 459.1,902.3 469.6,895.6 487.6,880.7 493.6,876.8 511.6,866.7 529,854.6 546.1,846.3 550.6,843.8 585.1,819.9 590.4,817.4 601.6,814.4 604.6,813.2 606.1,811.8 618.1,797.3 623.3,792.2 640.6,782.3 646.6,777.7 660.1,766.2 676.6,754.3 683.5,750.4 694.6,745.9 697.6,742.5 708.1,726 711.1,722.5 712.6,721.7 723,717.8 726.1,715.8 730.6,711.5 741.1,699.8 744.1,697.4 753.1,691.5 757.6,687.8 765.1,680.7 771.3,673.9 775.6,667.9 786.1,651.3 795.1,639.3 804.3,628.2 814.6,618.2 817.6,614.8 822.1,607.8 834.1,585.8 837.1,581.1 849.1,568.1 863.6,546.7 876.7,530.8 883.6,520.7 887.7,515.8 894.1,510.7 898.6,508 900.1,507.5 905.5,507.5 907.6,506.4 912.1,502.6 921.1,493.4 924.1,490.9 926.5,489.5 931.6,490.2 942.1,492.6 944.9,492.9 946.6,492.1 951.1,489.1 955.6,485.2 969.1,471.6 973.6,467.5 978.1,464.1 981.6,462.2 987.1,462.5 993.1,463.5 999.1,466.5 1012.6,474.9 1015.6,476.3 1019.6,477.5 1023.1,476 1026.1,474.3 1039.6,464.7 1044.1,462.1 1047.1,460.8 1057.6,462.8 1063.6,461.9 1081.2,458.7 1090.6,454.9 1094.3,453.7 1096.6,454.8 1101.1,457.8 1102.6,458 1107.1,456.1 1114,451.9 1120.6,443.9 1123.2,441.6 1125.1,442 1131.1,444.6 1133.7,445.3 1156.6,443.5 1180.8,439.6 1185.1,440.2 1188.7,441.2 1191.1,446 1194.1,453.9 1196,457.1 1200.1,455.5 1205.7,451.9 1207.6,447.8 1213.6,429.8 1216.2,424.6 1219.6,425.5 1224,427.1 1230.1,432.3 1233.3,434.4 1256.9,435 1264.6,436.9 1272.1,440.3 1275.2,442.2 1276.6,444.1 1279.6,449.3 1287.1,463.9 1288.6,466.2 1291,468.8 1296.1,468.4 1301.5,467.2 1310.6,461.2 1312.6,462.1 1317.1,465.7 1319.8,466.9 1327.7,462.3 1330.6,462.3 1336.6,463.2 1340,464 1341.1,464.6 1345.6,468 1351.6,473.3 1355.7,476 1377.1,476.6 1387.6,476.5 1405.5,475.1 1411.6,474 1506.1,450.3 1507.8,449.8 1512.1,447.3 1524.1,438.1 1528.8,434.9 1545.1,426.5 1549.6,424.6 1554.1,423.4 1558.6,423 1566.1,424.8 1569.1,426.8 1578.1,434.8 1581.1,436.7 1583.8,437.5 1587.1,434.8 1591.6,429.4 1594.3,426.8 1600.6,423.1 1606.1,420.8 1609.6,422.5 1612.6,425.1 1620.1,432.4 1630.6,444.2 1635.1,448.3 1644.1,454.7 1666.6,468.6 1681.6,479.2 1687.6,482.8 1692.1,484.7 1696.6,485.7 1710.1,482 1711,481.9 1713.1,482.3 1720.6,486.1 1729.6,493.7 1732.6,495.3 1735.6,495.4 1746.4,494.8 1747.6,495 1752.1,496.9 1761.1,502.7 1764.7,504.6 1773.1,507.4 1801.6,515.5 1804.6,517 1809.1,521.3 1815.1,528.3 1824.1,540.7 1827.7,544.6 1830.1,546 1832.9,547 1836.1,545.6 1840,541.8" stroke="#2A5C96"/>
<polyline class="b" filter="url(#softer)" points="346.6,973 349,969.2 351.1,967.7 353,966.8 355.6,966.8 361.6,967.5 367.6,967.7 371,967.5 373.6,966.6 388.6,958.5 408.1,949.3 417.1,944.1 429.1,936.3 435.1,931.2 440,925.5 450,908.5 454.6,903 459.1,899.2 469.6,891.6 487.6,875.3 495.1,870 511.6,859.6 529,846.4 546.1,837.1 550.6,834.3 585.1,808.2 590.4,805.4 601.6,801.7 604.6,800.3 607.6,796.9 612.1,790.7 618.1,783.2 623.3,777.7 640.6,766.5 646.6,761.4 660.1,748.9 676.6,735.8 683.5,731.4 694.6,726.2 697.6,722.4 708.1,704.7 711.1,700.9 712.6,700 723,695.5 726.1,693.2 730.6,688.4 741.1,675.6 744.1,673 753.1,666.4 757.6,662.3 765.1,654.3 771.3,646.8 775.6,640.3 786.1,622.2 795.1,609 804.3,596.8 814.6,585.5 817.6,581.7 822.1,574.1 834.1,550.1 837.1,544.9 849.1,530.4 863.6,507 876.7,489.4 883.6,478.3 887.7,472.9 894.1,467.3 898.6,464.2 900,463.6 905.5,464.6 909.1,462.9 912.1,460.6 921.1,452.6 924.1,450.6 926.5,449.6 930.1,450.7 943.6,456.2 944.9,456.6 948.1,455.4 951.1,453.8 955.6,450.6 969.1,438.9 973.6,435.4 978.1,432.8 981.6,431.5 987.1,432.9 993.1,435.1 999.1,439.3 1012.6,450.6 1015.6,452.6 1019.6,454.6 1023.1,453.7 1026.1,452.5 1041.1,444.5 1047.1,442.7 1057.6,446.7 1062.1,446.9 1081.2,447.1 1090.6,445 1094.3,444.5 1096.6,446 1101.1,449.9 1102.6,450.4 1107.1,449.3 1114,446.4 1120.6,439.6 1123.2,437.8 1133.7,443.6 1154.6,445.3 1180.8,443.8 1186.6,445.3 1188.7,446.1 1189.6,447.6 1194.1,459.2 1196,462.6 1200.1,461.3 1205.7,458.3 1207.6,454.5 1213.6,437.2 1216.2,432.3 1219.6,433.5 1224,435.5 1230.1,441.2 1233.3,443.6 1240.6,444.3 1257.1,444.9 1266.1,447.2 1273.6,451 1275.2,452 1276.6,453.8 1287.1,473.5 1288.6,475.8 1291,478.3 1301.5,477.3 1310.6,472.4 1312.6,473.6 1317.1,477.9 1319.8,479.7 1327.7,477 1332.1,478.2 1340,482 1344.1,485.7 1351.6,493.9 1355.7,497.1 1371.1,498.6 1384.6,499.4 1401.1,498.6 1411.6,497.2 1506.1,475 1507.8,474.5 1512.1,472.2 1524.1,463.6 1528.8,460.6 1545.1,452.6 1549.6,450.9 1554.1,449.8 1558.6,449.4 1566.1,451.1 1569.1,453 1578.1,460.8 1581.1,462.6 1583.8,463.4 1587.1,460.8 1591.6,455.6 1594.3,453 1600.6,449.5 1606.1,447.3 1609.6,449.7 1612.6,452.9 1620.1,461.7 1632.1,477.2 1636.6,481.7 1647.1,490.8 1666.6,505.8 1681.6,518.5 1687.6,522.9 1692.1,525.4 1696.6,527 1710.1,525.7 1713.1,526.3 1720.6,531 1729.6,539.3 1732.6,541.2 1735.6,541.7 1746.4,542.5 1747.6,542.8 1752.1,545.2 1764.7,553.8 1773.1,557.3 1801.6,567.9 1804.6,569.5 1809.1,574 1815.1,581 1824.1,593.3 1827.7,597.3 1830.1,598.8 1832.9,600 1836.1,598.7 1840,595.2" stroke="#9BBB59"/>
<polyline class="c" points="346.6,973 349,969.2 351.1,967.7 353,966.8 355.6,966.8 361.6,967.5 367.6,967.7 371,967.5 373.6,966.6 388.6,958.5 408.1,949.3 417.1,944.1 429.1,936.3 435.1,931.2 440,925.5 450,908.5 454.6,903 459.1,899.2 469.6,891.6 487.6,875.3 495.1,870 511.6,859.6 529,846.4 546.1,837.1 550.6,834.3 585.1,808.2 590.4,805.4 601.6,801.7 604.6,800.3 607.6,796.9 612.1,790.7 618.1,783.2 623.3,777.7 640.6,766.5 646.6,761.4 660.1,748.9 676.6,735.8 683.5,731.4 694.6,726.2 697.6,722.4 708.1,704.7 711.1,700.9 712.6,700 723,695.5 726.1,693.2 730.6,688.4 741.1,675.6 744.1,673 753.1,666.4 757.6,662.3 765.1,654.3 771.3,646.8 775.6,640.3 786.1,622.2 795.1,609 804.3,596.8 814.6,585.5 817.6,581.7 822.1,574.1 834.1,550.1 837.1,544.9 849.1,530.4 863.6,507 876.7,489.4 883.6,478.3 887.7,472.9 894.1,467.3 898.6,464.2 900,463.6 905.5,464.6 909.1,462.9 912.1,460.6 921.1,452.6 924.1,450.6 926.5,449.6 930.1,450.7 943.6,456.2 944.9,456.6 948.1,455.4 951.1,453.8 955.6,450.6 969.1,438.9 973.6,435.4 978.1,432.8 981.6,431.5 987.1,432.9 993.1,435.1 999.1,439.3 1012.6,450.6 1015.6,452.6 1019.6,454.6 1023.1,453.7 1026.1,452.5 1041.1,444.5 1047.1,442.7 1057.6,446.7 1062.1,446.9 1081.2,447.1 1090.6,445 1094.3,444.5 1096.6,446 1101.1,449.9 1102.6,450.4 1107.1,449.3 1114,446.4 1120.6,439.6 1123.2,437.8 1133.7,443.6 1154.6,445.3 1180.8,443.8 1186.6,445.3 1188.7,446.1 1189.6,447.6 1194.1,459.2 1196,462.6 1200.1,461.3 1205.7,458.3 1207.6,454.5 1213.6,437.2 1216.2,432.3 1219.6,433.5 1224,435.5 1230.1,441.2 1233.3,443.6 1240.6,444.3 1257.1,444.9 1266.1,447.2 1273.6,451 1275.2,452 1276.6,453.8 1287.1,473.5 1288.6,475.8 1291,478.3 1301.5,477.3 1310.6,472.4 1312.6,473.6 1317.1,477.9 1319.8,479.7 1327.7,477 1332.1,478.2 1340,482 1344.1,485.7 1351.6,493.9 1355.7,497.1 1371.1,498.6 1384.6,499.4 1401.1,498.6 1411.6,497.2 1506.1,475 1507.8,474.5 1512.1,472.2 1524.1,463.6 1528.8,460.6 1545.1,452.6 1549.6,450.9 1554.1,449.8 1558.6,449.4 1566.1,451.1 1569.1,453 1578.1,460.8 1581.1,462.6 1583.8,463.4 1587.1,460.8 1591.6,455.6 1594.3,453 1600.6,449.5 1606.1,447.3 1609.6,449.7 1612.6,452.9 1620.1,461.7 1632.1,477.2 1636.6,481.7 1647.1,490.8 1666.6,505.8 1681.6,518.5 1687.6,522.9 1692.1,525.4 1696.6,527 1710.1,525.7 1713.1,526.3 1720.6,531 1729.6,539.3 1732.6,541.2 1735.6,541.7 1746.4,542.5 1747.6,542.8 1752.1,545.2 1764.7,553.8 1773.1,557.3 1801.6,567.9 1804.6,569.5 1809.1,574 1815.1,581 1824.1,593.3 1827.7,597.3 1830.1,598.8 1832.9,600 1836.1,598.7 1840,595.2" stroke="#9BBB59"/>
<polyline class="b" filter="url(#softer)" points="346.6,981 349,977.4 351.1,975.9 353,975.2 355.6,975.2 361.6,976 367.6,976.3 371,976.1 373.6,975.3 388.6,967.9 403.6,961.7 409.6,958.8 429.1,947.9 435.1,943.3 440,938.1 450,922.3 454.6,917.2 459.1,913.8 469.6,907 487.6,892.2 495.1,887.4 511.6,878.1 529,866 546.1,857.7 550.6,855.2 585.1,831.3 590.4,828.8 601.6,825.6 604.6,824.4 606.1,823 618.1,808.6 623.3,803.6 640.6,793.5 646.6,788.9 660.1,777.5 676.6,765.6 683.5,761.7 694.6,757 697.6,753.6 708.1,737.3 711.1,733.8 712.6,733 723,729 726.1,727 730.6,722.7 741.1,711 744.1,708.6 753.1,702.7 757.6,699 765.1,691.8 771.3,685 775.6,679 786.1,662.5 795.1,650.5 804.3,639.4 814.6,629.2 817.6,625.8 822.1,618.9 834.1,597 837.1,592.2 849.1,579.2 863.6,557.8 876.7,541.8 883.6,531.8 886.6,528 892.6,522.9 898.6,519 900.1,518.5 905.5,518.5 907.6,517.3 910.6,514.9 919.6,505.8 924.1,501.9 926.5,500.5 927.1,500.5 931.6,501.1 942.1,503.4 944.9,503.6 946.6,502.8 951.1,499.8 955.6,495.9 973.6,478.2 978.1,474.8 981.6,472.9 987.1,473.1 993.1,474 999.1,476.9 1012.6,485 1015.6,486.4 1019.6,487.5 1026.1,484.3 1039.6,474.7 1044.1,472.1 1047.1,470.8 1057.6,472.6 1063.6,471.7 1081.2,468.3 1094.3,463.2 1096.6,464.2 1101.1,467.1 1102.6,467.4 1107.1,465.4 1114,461.2 1120.6,453.2 1123.2,450.9 1125.1,451.3 1131.1,453.8 1133.7,454.5 1156.6,452.4 1180.6,448.5 1185.1,449.1 1188.7,450 1191.1,454.7 1194.1,462.5 1196,465.7 1200.1,464 1205.7,460.5 1207.6,456.4 1213.6,438.6 1216.2,433.5 1219.6,434.2 1224,435.9 1230.1,441 1233.1,442.9 1240.6,443 1245.1,443.7 1251.1,445.9 1256.9,449.2 1267.6,458.7 1275.2,463.6 1279.6,470 1287.1,483.6 1291,488.7 1294.6,489.8 1301.5,493.2 1308.1,494.3 1310.6,495.2 1312.6,498.3 1319.8,513.1 1327.6,521.8 1330.6,527.3 1340,548 1348.6,570.7 1351.6,577.2 1354.6,582.4 1355.7,584 1357.6,585.6 1363.6,589.6 1371.1,593.1 1380.1,596.5 1384.6,597.6 1395.1,598.6 1401.1,598.6 1408.6,597.8 1503.1,577.3 1507.8,576 1510.6,574.7 1528.8,563 1545.1,555.5 1551.1,553.5 1555.6,552.6 1560.1,552.7 1566.1,554 1569.1,555.6 1578.1,562.4 1581.1,564 1583.8,564.6 1587.1,562.4 1594.3,555.6 1600.6,552.6 1606.1,550.6 1611.1,558 1632.1,595.6 1639.6,606.8 1647.1,617.1 1657.6,630.5 1680.1,658.6 1689.1,668.6 1696.6,675.1 1710.1,680.7 1713.1,682.6 1720.6,689.8 1729.6,700.1 1733.3,703.4 1747.6,710.4 1752.1,713.9 1761.1,722.2 1765.6,725.8 1776.1,732.8 1804.1,750.3 1807.6,753.7 1814.6,761.8 1825.6,775.9 1830.1,780 1833.1,781.7 1836.1,780.8 1840,778.3" stroke="#6F5596"/>
<polyline class="c" points="346.6,981 349,977.4 351.1,975.9 353,975.2 355.6,975.2 361.6,976 367.6,976.3 371,976.1 373.6,975.3 388.6,967.9 403.6,961.7 409.6,958.8 429.1,947.9 435.1,943.3 440,938.1 450,922.3 454.6,917.2 459.1,913.8 469.6,907 487.6,892.2 495.1,887.4 511.6,878.1 529,866 546.1,857.7 550.6,855.2 585.1,831.3 590.4,828.8 601.6,825.6 604.6,824.4 606.1,823 618.1,808.6 623.3,803.6 640.6,793.5 646.6,788.9 660.1,777.5 676.6,765.6 683.5,761.7 694.6,757 697.6,753.6 708.1,737.3 711.1,733.8 712.6,733 723,729 726.1,727 730.6,722.7 741.1,711 744.1,708.6 753.1,702.7 757.6,699 765.1,691.8 771.3,685 775.6,679 786.1,662.5 795.1,650.5 804.3,639.4 814.6,629.2 817.6,625.8 822.1,618.9 834.1,597 837.1,592.2 849.1,579.2 863.6,557.8 876.7,541.8 883.6,531.8 886.6,528 892.6,522.9 898.6,519 900.1,518.5 905.5,518.5 907.6,517.3 910.6,514.9 919.6,505.8 924.1,501.9 926.5,500.5 927.1,500.5 931.6,501.1 942.1,503.4 944.9,503.6 946.6,502.8 951.1,499.8 955.6,495.9 973.6,478.2 978.1,474.8 981.6,472.9 987.1,473.1 993.1,474 999.1,476.9 1012.6,485 1015.6,486.4 1019.6,487.5 1026.1,484.3 1039.6,474.7 1044.1,472.1 1047.1,470.8 1057.6,472.6 1063.6,471.7 1081.2,468.3 1094.3,463.2 1096.6,464.2 1101.1,467.1 1102.6,467.4 1107.1,465.4 1114,461.2 1120.6,453.2 1123.2,450.9 1125.1,451.3 1131.1,453.8 1133.7,454.5 1156.6,452.4 1180.6,448.5 1185.1,449.1 1188.7,450 1191.1,454.7 1194.1,462.5 1196,465.7 1200.1,464 1205.7,460.5 1207.6,456.4 1213.6,438.6 1216.2,433.5 1219.6,434.2 1224,435.9 1230.1,441 1233.1,442.9 1240.6,443 1245.1,443.7 1251.1,445.9 1256.9,449.2 1267.6,458.7 1275.2,463.6 1279.6,470 1287.1,483.6 1291,488.7 1294.6,489.8 1301.5,493.2 1308.1,494.3 1310.6,495.2 1312.6,498.3 1319.8,513.1 1327.6,521.8 1330.6,527.3 1340,548 1348.6,570.7 1351.6,577.2 1354.6,582.4 1355.7,584 1357.6,585.6 1363.6,589.6 1371.1,593.1 1380.1,596.5 1384.6,597.6 1395.1,598.6 1401.1,598.6 1408.6,597.8 1503.1,577.3 1507.8,576 1510.6,574.7 1528.8,563 1545.1,555.5 1551.1,553.5 1555.6,552.6 1560.1,552.7 1566.1,554 1569.1,555.6 1578.1,562.4 1581.1,564 1583.8,564.6 1587.1,562.4 1594.3,555.6 1600.6,552.6 1606.1,550.6 1611.1,558 1632.1,595.6 1639.6,606.8 1647.1,617.1 1657.6,630.5 1680.1,658.6 1689.1,668.6 1696.6,675.1 1710.1,680.7 1713.1,682.6 1720.6,689.8 1729.6,700.1 1733.3,703.4 1747.6,710.4 1752.1,713.9 1761.1,722.2 1765.6,725.8 1776.1,732.8 1804.1,750.3 1807.6,753.7 1814.6,761.8 1825.6,775.9 1830.1,780 1833.1,781.7 1836.1,780.8 1840,778.3" stroke="#6F5596"/>
<polyline class="b" filter="url(#softer)" points="346.6,985 349,981.5 351.1,980 353,979.3 355.6,979.3 361.6,980.1 367.6,980.4 371,980.2 373.6,979.4 388.6,972.1 409.6,963.2 429.1,952.5 435.1,948 440,942.9 450,927.4 454.6,922.4 459.1,919.1 469.6,912.4 487.6,897.8 495.1,893.1 511.6,883.9 529,872.1 546.1,863.9 550.6,861.4 585.1,838 590.4,835.6 601.6,832.4 604.6,831.2 606.1,829.9 618.1,815.8 623.3,810.8 640.6,801 646.6,796.4 660.1,785.2 676.6,773.5 683.5,769.6 694.6,765.1 697.6,761.8 708.1,745.8 711.1,742.3 712.6,741.5 723,737.6 726.1,735.6 730.6,731.4 741.1,719.9 744.1,717.6 753.1,711.7 757.6,708.1 765.1,701 771.3,694.3 775.6,688.5 786.1,672.2 795.1,660.5 804.3,649.6 814.6,639.6 817.6,636.3 822.1,629.5 834.1,607.9 837.1,603.3 849.1,590.5 863.6,569.5 876.7,553.8 883.6,544 886.6,540.2 892.6,535.2 898.6,531.4 900.1,530.9 905.5,530.9 907.6,529.8 910.6,527.5 919.6,518.5 924.1,514.8 926.5,513.4 927.1,513.5 931.6,514.1 942.1,516.3 944.9,516.6 946.6,515.8 951.1,512.9 955.6,509.2 973.6,491.9 978.1,488.6 981.6,486.8 987.1,487 993.1,488 999.1,490.8 1012.6,498.9 1015.6,500.2 1019.6,501.4 1026.1,498.3 1039.6,488.9 1044.1,486.4 1047.1,485.2 1057.6,487 1063.6,486.2 1081.2,483 1094.3,478.1 1096.6,479.1 1101.1,482 1102.6,482.2 1107.1,480.3 1114,476.3 1120.6,468.5 1123.2,466.3 1125.1,466.7 1131.1,469.2 1133.7,469.8 1156.6,468 1180.6,464.2 1185.1,464.8 1188.7,465.7 1191.1,470.3 1194.1,478 1196,481.1 1200.1,479.5 1205.7,476.1 1207.6,472.1 1213.6,454.6 1216.2,449.6 1219.6,450.4 1224,452 1230.1,457 1233.3,459 1240.6,459.1 1245.1,460.4 1249.6,463.4 1254.1,467.8 1258.6,473.7 1267.6,488.4 1275.2,499.2 1278.1,505.2 1287.1,527 1291,534 1297.6,538.6 1301.5,540.8 1308.1,541.3 1310.6,541.9 1312.6,544.8 1319.8,558.2 1327.7,565.5 1332.1,572.8 1340,588.4 1348.6,609 1351.6,614.9 1354.6,619.7 1356.1,621.5 1362.1,625.3 1368.1,628.1 1375.6,630.8 1384.6,633.2 1390.6,633.7 1399.6,634 1407.1,633.2 1414.6,631.6 1480,614.2 1501.6,609 1507.8,607 1510.6,605.4 1528.8,591.5 1545.1,582.6 1549.6,580.7 1554.1,579.4 1558.6,579 1566.1,580.6 1569.1,582.2 1578.1,588.8 1581.1,590.3 1583.8,591 1587.1,588.9 1594.3,582.6 1600.6,579.7 1606.1,578 1611.1,585.9 1632.1,625 1639.6,636.8 1653.1,655.8 1677.1,687.1 1684.6,696.4 1690.6,702.9 1696.6,708.2 1711,715.2 1713.1,716.9 1720.6,724.2 1729.6,734.6 1733.3,738 1747.6,745.5 1765.6,761.1 1776.1,768.2 1804.1,786 1807.6,789.4 1814.6,797.3 1825.6,810.8 1830.1,814.8 1833.1,816.5 1836.1,815.7 1840,813.4" stroke="#2E8499"/>
<polyline class="c" points="346.6,985 349,981.5 351.1,980 353,979.3 355.6,979.3 361.6,980.1 367.6,980.4 371,980.2 373.6,979.4 388.6,972.1 409.6,963.2 429.1,952.5 435.1,948 440,942.9 450,927.4 454.6,922.4 459.1,919.1 469.6,912.4 487.6,897.8 495.1,893.1 511.6,883.9 529,872.1 546.1,863.9 550.6,861.4 585.1,838 590.4,835.6 601.6,832.4 604.6,831.2 606.1,829.9 618.1,815.8 623.3,810.8 640.6,801 646.6,796.4 660.1,785.2 676.6,773.5 683.5,769.6 694.6,765.1 697.6,761.8 708.1,745.8 711.1,742.3 712.6,741.5 723,737.6 726.1,735.6 730.6,731.4 741.1,719.9 744.1,717.6 753.1,711.7 757.6,708.1 765.1,701 771.3,694.3 775.6,688.5 786.1,672.2 795.1,660.5 804.3,649.6 814.6,639.6 817.6,636.3 822.1,629.5 834.1,607.9 837.1,603.3 849.1,590.5 863.6,569.5 876.7,553.8 883.6,544 886.6,540.2 892.6,535.2 898.6,531.4 900.1,530.9 905.5,530.9 907.6,529.8 910.6,527.5 919.6,518.5 924.1,514.8 926.5,513.4 927.1,513.5 931.6,514.1 942.1,516.3 944.9,516.6 946.6,515.8 951.1,512.9 955.6,509.2 973.6,491.9 978.1,488.6 981.6,486.8 987.1,487 993.1,488 999.1,490.8 1012.6,498.9 1015.6,500.2 1019.6,501.4 1026.1,498.3 1039.6,488.9 1044.1,486.4 1047.1,485.2 1057.6,487 1063.6,486.2 1081.2,483 1094.3,478.1 1096.6,479.1 1101.1,482 1102.6,482.2 1107.1,480.3 1114,476.3 1120.6,468.5 1123.2,466.3 1125.1,466.7 1131.1,469.2 1133.7,469.8 1156.6,468 1180.6,464.2 1185.1,464.8 1188.7,465.7 1191.1,470.3 1194.1,478 1196,481.1 1200.1,479.5 1205.7,476.1 1207.6,472.1 1213.6,454.6 1216.2,449.6 1219.6,450.4 1224,452 1230.1,457 1233.3,459 1240.6,459.1 1245.1,460.4 1249.6,463.4 1254.1,467.8 1258.6,473.7 1267.6,488.4 1275.2,499.2 1278.1,505.2 1287.1,527 1291,534 1297.6,538.6 1301.5,540.8 1308.1,541.3 1310.6,541.9 1312.6,544.8 1319.8,558.2 1327.7,565.5 1332.1,572.8 1340,588.4 1348.6,609 1351.6,614.9 1354.6,619.7 1356.1,621.5 1362.1,625.3 1368.1,628.1 1375.6,630.8 1384.6,633.2 1390.6,633.7 1399.6,634 1407.1,633.2 1414.6,631.6 1480,614.2 1501.6,609 1507.8,607 1510.6,605.4 1528.8,591.5 1545.1,582.6 1549.6,580.7 1554.1,579.4 1558.6,579 1566.1,580.6 1569.1,582.2 1578.1,588.8 1581.1,590.3 1583.8,591 1587.1,588.9 1594.3,582.6 1600.6,579.7 1606.1,578 1611.1,585.9 1632.1,625 1639.6,636.8 1653.1,655.8 1677.1,687.1 1684.6,696.4 1690.6,702.9 1696.6,708.2 1711,715.2 1713.1,716.9 1720.6,724.2 1729.6,734.6 1733.3,738 1747.6,745.5 1765.6,761.1 1776.1,768.2 1804.1,786 1807.6,789.4 1814.6,797.3 1825.6,810.8 1830.1,814.8 1833.1,816.5 1836.1,815.7 1840,813.4" stroke="#2E8499"/>
<polyline class="b" filter="url(#softer)" points="346.6,954.4 349,950.5 351.1,949.1 353,948.3 355.6,948.5 361.6,949.7 367.6,950.5 371,950.5 373.6,949.8 390.1,941.9 403.6,937 411.1,933.8 429.1,924.9 435.1,920.7 440,915.8 450,900.2 454.6,895.4 459.1,892.5 469.6,886.6 487.6,872.9 493.6,869.4 511.3,860.5 529,849.1 546.1,841.8 550.6,839.5 585.1,817.4 590.4,815.2 601.6,812.8 604.6,811.8 606.1,810.5 612.1,803.3 618.1,796.7 623.3,791.9 640.6,783.1 646.6,778.9 660.1,768.3 676.6,757.4 683.5,754 694.6,750.2 697.6,747 708.1,731.3 711.1,728 712.6,727.3 723,724.2 726.1,722.4 730.6,718.4 741.1,707.5 744.1,705.4 753.1,700.2 757.6,696.9 765.1,690.4 771.3,684.1 775.6,678.6 786.1,663.1 795.1,652.2 804.3,642.1 814.6,633.1 817.6,630 822.1,623.6 828.1,613.8 834.1,603.1 837.1,598.7 849.1,587.1 862.6,568.6 876.7,552.8 883.6,543.4 886.6,539.9 892.6,535.4 898.6,532 900.1,531.6 905.5,531.7 907.6,530.6 912.1,527 921.1,518.2 925.6,515 926.5,514.5 930.1,515 943.6,517.9 944.9,517.9 946.6,517.2 951.1,514.4 955.6,510.7 973.6,493.7 978.1,490.5 981.6,488.7 987.1,489.1 993.1,490.1 999.1,493 1012.6,501.3 1015.6,502.7 1019.6,503.9 1026.1,500.9 1039.6,491.8 1044.1,489.3 1047.1,488.1 1057.6,490.1 1063.6,489.4 1081.2,486.5 1094.3,481.8 1096.6,482.8 1101.1,485.7 1102.6,486 1107.1,484.2 1114,480.3 1120.6,472.6 1123.2,470.4 1125.1,470.8 1131.1,473.4 1133.7,474.1 1156.6,472.5 1180.6,469 1185.1,469.6 1188.7,470.5 1191.1,475.1 1194.1,482.7 1196,485.9 1200.1,484.3 1205.7,480.9 1207.6,477 1213.6,459.7 1216.2,454.8 1219.6,455.5 1224,457.2 1230.1,462.2 1233.3,464.2 1245.1,464.5 1256.9,465.3 1264.6,467.5 1267.6,469.6 1270.6,472.9 1275.2,479.6 1278.1,486.7 1285.6,508.2 1288.6,515 1291,518.4 1294.6,518.7 1301.5,517.9 1310.6,513.3 1312.6,514.5 1317.1,518.9 1319.8,520.6 1327.7,518.2 1332.1,519.5 1340,523.5 1344.1,527.2 1351.6,535.4 1355.7,538.6 1378.6,540.8 1384.6,541.1 1399.6,540.4 1405.5,539.8 1410.1,538.8 1480,518 1497.1,513.4 1504.6,511 1507.8,509.8 1512.1,506.8 1524.1,495.9 1528.8,492.1 1545.1,482.1 1551.1,479.4 1555.6,478.1 1557.1,478 1560.1,478.4 1566.1,480.5 1569.1,483 1578.1,493.1 1581.1,495.5 1583.8,496.6 1585.6,495.2 1587.1,493.4 1591.6,487 1594.3,483.9 1600.6,479.7 1606.1,477.1 1609.6,487 1630.6,551.3 1636.6,567.2 1644.1,585 1656.1,610.5 1672.6,641.5 1683.1,659.5 1687.6,666.3 1692.1,672.2 1696.6,677.1 1698.1,678.3 1711,686.2 1713.1,688 1720.6,695.7 1729.6,706.1 1733.3,709.3 1747.6,714.8 1762.6,724.9 1768.6,727.8 1783.6,732.7 1800.1,736.6 1804.6,738 1807.6,739.9 1814.6,745.2 1824.1,753.7 1827.7,756.3 1831.6,757.6 1833.1,757.7 1836.1,756.7 1840,754.1" stroke="#F0883C"/>
<polyline class="c" points="346.6,954.4 349,950.5 351.1,949.1 353,948.3 355.6,948.5 361.6,949.7 367.6,950.5 371,950.5 373.6,949.8 390.1,941.9 403.6,937 411.1,933.8 429.1,924.9 435.1,920.7 440,915.8 450,900.2 454.6,895.4 459.1,892.5 469.6,886.6 487.6,872.9 493.6,869.4 511.3,860.5 529,849.1 546.1,841.8 550.6,839.5 585.1,817.4 590.4,815.2 601.6,812.8 604.6,811.8 606.1,810.5 612.1,803.3 618.1,796.7 623.3,791.9 640.6,783.1 646.6,778.9 660.1,768.3 676.6,757.4 683.5,754 694.6,750.2 697.6,747 708.1,731.3 711.1,728 712.6,727.3 723,724.2 726.1,722.4 730.6,718.4 741.1,707.5 744.1,705.4 753.1,700.2 757.6,696.9 765.1,690.4 771.3,684.1 775.6,678.6 786.1,663.1 795.1,652.2 804.3,642.1 814.6,633.1 817.6,630 822.1,623.6 828.1,613.8 834.1,603.1 837.1,598.7 849.1,587.1 862.6,568.6 876.7,552.8 883.6,543.4 886.6,539.9 892.6,535.4 898.6,532 900.1,531.6 905.5,531.7 907.6,530.6 912.1,527 921.1,518.2 925.6,515 926.5,514.5 930.1,515 943.6,517.9 944.9,517.9 946.6,517.2 951.1,514.4 955.6,510.7 973.6,493.7 978.1,490.5 981.6,488.7 987.1,489.1 993.1,490.1 999.1,493 1012.6,501.3 1015.6,502.7 1019.6,503.9 1026.1,500.9 1039.6,491.8 1044.1,489.3 1047.1,488.1 1057.6,490.1 1063.6,489.4 1081.2,486.5 1094.3,481.8 1096.6,482.8 1101.1,485.7 1102.6,486 1107.1,484.2 1114,480.3 1120.6,472.6 1123.2,470.4 1125.1,470.8 1131.1,473.4 1133.7,474.1 1156.6,472.5 1180.6,469 1185.1,469.6 1188.7,470.5 1191.1,475.1 1194.1,482.7 1196,485.9 1200.1,484.3 1205.7,480.9 1207.6,477 1213.6,459.7 1216.2,454.8 1219.6,455.5 1224,457.2 1230.1,462.2 1233.3,464.2 1245.1,464.5 1256.9,465.3 1264.6,467.5 1267.6,469.6 1270.6,472.9 1275.2,479.6 1278.1,486.7 1285.6,508.2 1288.6,515 1291,518.4 1294.6,518.7 1301.5,517.9 1310.6,513.3 1312.6,514.5 1317.1,518.9 1319.8,520.6 1327.7,518.2 1332.1,519.5 1340,523.5 1344.1,527.2 1351.6,535.4 1355.7,538.6 1378.6,540.8 1384.6,541.1 1399.6,540.4 1405.5,539.8 1410.1,538.8 1480,518 1497.1,513.4 1504.6,511 1507.8,509.8 1512.1,506.8 1524.1,495.9 1528.8,492.1 1545.1,482.1 1551.1,479.4 1555.6,478.1 1557.1,478 1560.1,478.4 1566.1,480.5 1569.1,483 1578.1,493.1 1581.1,495.5 1583.8,496.6 1585.6,495.2 1587.1,493.4 1591.6,487 1594.3,483.9 1600.6,479.7 1606.1,477.1 1609.6,487 1630.6,551.3 1636.6,567.2 1644.1,585 1656.1,610.5 1672.6,641.5 1683.1,659.5 1687.6,666.3 1692.1,672.2 1696.6,677.1 1698.1,678.3 1711,686.2 1713.1,688 1720.6,695.7 1729.6,706.1 1733.3,709.3 1747.6,714.8 1762.6,724.9 1768.6,727.8 1783.6,732.7 1800.1,736.6 1804.6,738 1807.6,739.9 1814.6,745.2 1824.1,753.7 1827.7,756.3 1831.6,757.6 1833.1,757.7 1836.1,756.7 1840,754.1" stroke="#F0883C"/>
<polyline class="b" filter="url(#softer)" points="346.6,988 349,984.5 351.1,983.1 353,982.4 367.6,983.5 371,983.4 373.6,982.6 388.6,975.4 409.6,966.7 429.1,956.2 435.1,951.7 440,946.7 450,931.5 454.6,926.6 459.1,923.4 469.6,916.9 487.6,902.5 495.1,897.9 511.6,889 529,877.4 546.1,869.4 550.6,867 585.1,844 590.4,841.6 601.6,838.6 604.6,837.4 606.1,836 618.1,822.2 623.3,817.3 640.6,807.7 646.6,803.3 660.1,792.3 676.6,780.8 683.5,777 694.6,772.6 697.6,769.3 708.1,753.6 711.1,750.2 712.6,749.4 723,745.7 726.1,743.7 730.6,739.5 741.1,728.3 744.1,726 753.1,720.3 757.6,716.7 765.1,709.8 771.3,703.3 775.6,697.5 786.1,681.6 795.1,670.1 804.3,659.4 814.6,649.6 817.6,646.4 822.1,639.7 834.1,618.6 837.1,614 849.1,601.5 863.6,580.9 876.7,565.6 883.6,555.9 887.7,551.2 894.1,546.3 898.6,543.6 900.1,543.1 905.5,543.1 907.6,542 912.1,538.5 921.1,529.7 924.1,527.4 926.5,526.1 931.6,526.7 942.1,529 944.9,529.2 946.6,528.4 951.1,525.6 955.6,522 973.6,505.1 978.1,501.8 981.6,500.1 987.1,500.3 993.1,501.3 999.1,504.1 1012.6,512.1 1015.6,513.4 1019.6,514.5 1026.1,511.5 1039.6,502.4 1044.1,499.9 1047.1,498.7 1057.6,500.6 1063.6,499.8 1081.2,496.7 1094.3,492 1096.6,492.9 1101.1,495.8 1102.6,496 1107.1,494.2 1114,490.2 1120.6,482.6 1123.2,480.4 1125.1,480.8 1131.1,483.3 1133.7,484 1156.6,482.2 1180.8,478.6 1188.7,480 1191.1,484.6 1194.1,492.1 1196,495.1 1200.1,493.6 1205.7,490.2 1207.6,486.3 1213.6,469.2 1216.2,464.3 1219.6,465.1 1224,466.7 1230.1,471.6 1233.3,473.5 1256.9,474.1 1264.6,475.9 1269.1,478.1 1275.2,482.8 1278.1,487.7 1287.1,506.6 1288.6,509 1291,511.7 1301.5,510.9 1310.6,506.5 1312.6,507.7 1317.1,512.1 1319.8,513.9 1327.7,511.8 1332.1,513.3 1340,517.5 1344.1,521.4 1351.6,529.6 1355.7,532.9 1372.6,534.9 1386.1,535.6 1401.1,534.9 1405.6,534.5 1411.6,533.4 1506.1,510 1507.8,509.5 1512.1,507 1524.1,497.9 1528.8,494.8 1543.6,487.1 1548.1,485.2 1552.6,483.7 1556.3,483 1558.6,483.1 1565.5,484.7 1569.1,486.9 1579.6,495.6 1581.1,496.4 1583.8,497.2 1587.1,494.8 1591.6,490.1 1594.3,487.7 1600.6,484.6 1606.1,482.6 1611.1,489.4 1630.6,523.1 1633.7,528.1 1638.1,534.2 1645.6,543.9 1654.6,554.7 1680.1,584.5 1689.1,593.8 1693.6,597.5 1696.6,599.4 1711.6,603.4 1714.6,605.6 1720.6,610.9 1729.6,620.9 1732.6,623.5 1747.6,629 1752.1,632.2 1764.7,642.8 1774.6,648.6 1798.6,661.3 1804.1,664.6 1807.6,668 1814.6,676.3 1825.6,690.9 1827.7,693.1 1830.1,694.9 1833.1,696.4 1836.1,695.3 1840,692.3" stroke="#A5D6E2"/>
<polyline class="c" points="346.6,988 349,984.5 351.1,983.1 353,982.4 367.6,983.5 371,983.4 373.6,982.6 388.6,975.4 409.6,966.7 429.1,956.2 435.1,951.7 440,946.7 450,931.5 454.6,926.6 459.1,923.4 469.6,916.9 487.6,902.5 495.1,897.9 511.6,889 529,877.4 546.1,869.4 550.6,867 585.1,844 590.4,841.6 601.6,838.6 604.6,837.4 606.1,836 618.1,822.2 623.3,817.3 640.6,807.7 646.6,803.3 660.1,792.3 676.6,780.8 683.5,777 694.6,772.6 697.6,769.3 708.1,753.6 711.1,750.2 712.6,749.4 723,745.7 726.1,743.7 730.6,739.5 741.1,728.3 744.1,726 753.1,720.3 757.6,716.7 765.1,709.8 771.3,703.3 775.6,697.5 786.1,681.6 795.1,670.1 804.3,659.4 814.6,649.6 817.6,646.4 822.1,639.7 834.1,618.6 837.1,614 849.1,601.5 863.6,580.9 876.7,565.6 883.6,555.9 887.7,551.2 894.1,546.3 898.6,543.6 900.1,543.1 905.5,543.1 907.6,542 912.1,538.5 921.1,529.7 924.1,527.4 926.5,526.1 931.6,526.7 942.1,529 944.9,529.2 946.6,528.4 951.1,525.6 955.6,522 973.6,505.1 978.1,501.8 981.6,500.1 987.1,500.3 993.1,501.3 999.1,504.1 1012.6,512.1 1015.6,513.4 1019.6,514.5 1026.1,511.5 1039.6,502.4 1044.1,499.9 1047.1,498.7 1057.6,500.6 1063.6,499.8 1081.2,496.7 1094.3,492 1096.6,492.9 1101.1,495.8 1102.6,496 1107.1,494.2 1114,490.2 1120.6,482.6 1123.2,480.4 1125.1,480.8 1131.1,483.3 1133.7,484 1156.6,482.2 1180.8,478.6 1188.7,480 1191.1,484.6 1194.1,492.1 1196,495.1 1200.1,493.6 1205.7,490.2 1207.6,486.3 1213.6,469.2 1216.2,464.3 1219.6,465.1 1224,466.7 1230.1,471.6 1233.3,473.5 1256.9,474.1 1264.6,475.9 1269.1,478.1 1275.2,482.8 1278.1,487.7 1287.1,506.6 1288.6,509 1291,511.7 1301.5,510.9 1310.6,506.5 1312.6,507.7 1317.1,512.1 1319.8,513.9 1327.7,511.8 1332.1,513.3 1340,517.5 1344.1,521.4 1351.6,529.6 1355.7,532.9 1372.6,534.9 1386.1,535.6 1401.1,534.9 1405.6,534.5 1411.6,533.4 1506.1,510 1507.8,509.5 1512.1,507 1524.1,497.9 1528.8,494.8 1543.6,487.1 1548.1,485.2 1552.6,483.7 1556.3,483 1558.6,483.1 1565.5,484.7 1569.1,486.9 1579.6,495.6 1581.1,496.4 1583.8,497.2 1587.1,494.8 1591.6,490.1 1594.3,487.7 1600.6,484.6 1606.1,482.6 1611.1,489.4 1630.6,523.1 1633.7,528.1 1638.1,534.2 1645.6,543.9 1654.6,554.7 1680.1,584.5 1689.1,593.8 1693.6,597.5 1696.6,599.4 1711.6,603.4 1714.6,605.6 1720.6,610.9 1729.6,620.9 1732.6,623.5 1747.6,629 1752.1,632.2 1764.7,642.8 1774.6,648.6 1798.6,661.3 1804.1,664.6 1807.6,668 1814.6,676.3 1825.6,690.9 1827.7,693.1 1830.1,694.9 1833.1,696.4 1836.1,695.3 1840,692.3" stroke="#A5D6E2"/>
<polyline class="b" filter="url(#softer)" points="346.6,991 349,987.6 351.1,986.2 353,985.4 367.6,986.5 371,986.3 373.6,985.5 388.6,978.4 409.6,969.7 429.1,959.1 435.1,954.7 440,949.7 450,934.5 454.6,929.6 459.1,926.4 469.6,919.8 487.6,905.5 495.1,900.9 511.6,892 529,880.3 546.1,872.3 550.6,869.9 585.1,847 590.4,844.5 601.6,841.5 604.6,840.3 606.1,839 618.1,825.1 623.3,820.3 640.6,810.6 646.6,806.2 660.1,795.2 676.6,783.7 683.5,779.9 694.6,775.5 697.6,772.2 708.1,756.5 711.1,753.2 712.6,752.4 723,748.6 726.1,746.6 730.6,742.4 741.1,731.2 744.1,728.9 753.1,723.2 757.6,719.6 765.1,712.7 771.3,706.1 775.6,700.4 786.1,684.5 795.1,673 804.3,662.3 814.6,652.5 817.6,649.2 822.1,642.6 834.1,621.5 837.1,616.9 849.1,604.4 863.6,583.8 876.7,568.4 883.6,558.8 887.7,554 894.1,549.1 898.6,546.5 900.1,546 905.5,546 907.6,544.9 912.1,541.3 921.1,532.6 924.1,530.3 926.5,529 931.6,529.6 942.1,531.9 944.9,532.1 946.6,531.4 951.1,528.6 955.6,524.9 973.6,508.1 978.1,504.9 981.6,503.1 987.1,503.4 993.1,504.4 999.1,507.2 1012.6,515.1 1015.6,516.5 1019.6,517.6 1026.1,514.6 1039.6,505.5 1044.1,503.1 1047.1,501.9 1057.6,503.7 1063.6,502.9 1081.2,499.9 1094.3,495.2 1096.6,496.2 1101.1,499 1102.6,499.2 1107.1,497.4 1114,493.5 1120.6,485.9 1123.2,483.7 1125.1,484.1 1131.1,486.6 1133.7,487.2 1156.6,485.5 1180.8,481.9 1188.7,483.3 1191.1,487.9 1194.1,495.3 1196,498.4 1200.1,496.8 1205.7,493.5 1207.6,489.6 1213.6,472.6 1216.2,467.7 1219.6,468.5 1224,470.1 1230.1,475 1233.3,476.9 1256.9,477.5 1264.6,479.3 1267.6,479.6 1270.6,479.4 1275.2,478.5 1276.6,479 1279.6,481.2 1287.1,489.2 1291,492.1 1296.1,491.5 1301.5,490.3 1310.6,484.2 1312.6,485 1317.1,488.1 1319.8,489.1 1327.7,484.2 1332.1,483.9 1340,484.8 1341.1,485.2 1345.6,488 1353.1,493.7 1355.7,495 1384.6,495.1 1405.5,493.5 1416.1,491.4 1480,475.8 1498.6,471.7 1507.8,469.2 1513.6,465.8 1524.1,457.9 1528.8,454.9 1543.6,447.4 1552.6,444.1 1556.3,443.4 1558.6,443.5 1565.5,445.2 1569.1,447.5 1579.6,456.7 1581.1,457.6 1583.8,458.4 1587.1,456 1591.6,451 1594.3,448.5 1600.6,445.2 1606.1,443.2 1609.6,445 1612.6,447.6 1620.1,454.9 1632.1,468.1 1636.6,471.9 1645.6,478.1 1666.6,490.9 1681.6,501.3 1687.6,504.8 1692.1,506.7 1696.6,507.6 1710.1,504 1711,503.9 1713.1,504.2 1720.6,507.9 1729.6,515.2 1732.6,516.7 1735.6,516.8 1746.4,516 1747.6,516.3 1752.1,518 1761.1,523.5 1764.7,525.3 1773.1,527.8 1801.6,535.1 1804.6,536.5 1809.1,540.6 1815.1,547.2 1824.1,559.1 1827.7,562.8 1830.1,564.1 1832.9,565 1836.1,563.6 1840,559.9" stroke="#9C3432"/>
<polyline class="c" points="346.6,991 349,987.6 351.1,986.2 353,985.4 367.6,986.5 371,986.3 373.6,985.5 388.6,978.4 409.6,969.7 429.1,959.1 435.1,954.7 440,949.7 450,934.5 454.6,929.6 459.1,926.4 469.6,919.8 487.6,905.5 495.1,900.9 511.6,892 529,880.3 546.1,872.3 550.6,869.9 585.1,847 590.4,844.5 601.6,841.5 604.6,840.3 606.1,839 618.1,825.1 623.3,820.3 640.6,810.6 646.6,806.2 660.1,795.2 676.6,783.7 683.5,779.9 694.6,775.5 697.6,772.2 708.1,756.5 711.1,753.2 712.6,752.4 723,748.6 726.1,746.6 730.6,742.4 741.1,731.2 744.1,728.9 753.1,723.2 757.6,719.6 765.1,712.7 771.3,706.1 775.6,700.4 786.1,684.5 795.1,673 804.3,662.3 814.6,652.5 817.6,649.2 822.1,642.6 834.1,621.5 837.1,616.9 849.1,604.4 863.6,583.8 876.7,568.4 883.6,558.8 887.7,554 894.1,549.1 898.6,546.5 900.1,546 905.5,546 907.6,544.9 912.1,541.3 921.1,532.6 924.1,530.3 926.5,529 931.6,529.6 942.1,531.9 944.9,532.1 946.6,531.4 951.1,528.6 955.6,524.9 973.6,508.1 978.1,504.9 981.6,503.1 987.1,503.4 993.1,504.4 999.1,507.2 1012.6,515.1 1015.6,516.5 1019.6,517.6 1026.1,514.6 1039.6,505.5 1044.1,503.1 1047.1,501.9 1057.6,503.7 1063.6,502.9 1081.2,499.9 1094.3,495.2 1096.6,496.2 1101.1,499 1102.6,499.2 1107.1,497.4 1114,493.5 1120.6,485.9 1123.2,483.7 1125.1,484.1 1131.1,486.6 1133.7,487.2 1156.6,485.5 1180.8,481.9 1188.7,483.3 1191.1,487.9 1194.1,495.3 1196,498.4 1200.1,496.8 1205.7,493.5 1207.6,489.6 1213.6,472.6 1216.2,467.7 1219.6,468.5 1224,470.1 1230.1,475 1233.3,476.9 1256.9,477.5 1264.6,479.3 1267.6,479.6 1270.6,479.4 1275.2,478.5 1276.6,479 1279.6,481.2 1287.1,489.2 1291,492.1 1296.1,491.5 1301.5,490.3 1310.6,484.2 1312.6,485 1317.1,488.1 1319.8,489.1 1327.7,484.2 1332.1,483.9 1340,484.8 1341.1,485.2 1345.6,488 1353.1,493.7 1355.7,495 1384.6,495.1 1405.5,493.5 1416.1,491.4 1480,475.8 1498.6,471.7 1507.8,469.2 1513.6,465.8 1524.1,457.9 1528.8,454.9 1543.6,447.4 1552.6,444.1 1556.3,443.4 1558.6,443.5 1565.5,445.2 1569.1,447.5 1579.6,456.7 1581.1,457.6 1583.8,458.4 1587.1,456 1591.6,451 1594.3,448.5 1600.6,445.2 1606.1,443.2 1609.6,445 1612.6,447.6 1620.1,454.9 1632.1,468.1 1636.6,471.9 1645.6,478.1 1666.6,490.9 1681.6,501.3 1687.6,504.8 1692.1,506.7 1696.6,507.6 1710.1,504 1711,503.9 1713.1,504.2 1720.6,507.9 1729.6,515.2 1732.6,516.7 1735.6,516.8 1746.4,516 1747.6,516.3 1752.1,518 1761.1,523.5 1764.7,525.3 1773.1,527.8 1801.6,535.1 1804.6,536.5 1809.1,540.6 1815.1,547.2 1824.1,559.1 1827.7,562.8 1830.1,564.1 1832.9,565 1836.1,563.6 1840,559.9" stroke="#9C3432"/>
<polyline class="b" filter="url(#softer)" points="346.6,995 349,991.6 351.1,990.2 353,989.5 367.6,990.4 371,990.3 373.6,989.5 390.1,981.7 408.1,974.3 417.1,969.7 429.1,963 435.1,958.5 440,953.5 450,938.4 454.6,933.5 459.1,930.3 469.6,923.7 487.6,909.3 495.1,904.7 511.6,895.7 529,884 546.1,876 550.6,873.6 585.1,850.6 590.4,848.2 601.6,845 604.6,843.8 606.1,842.5 618.1,828.7 623.3,823.8 640.6,814.1 646.6,809.7 660.1,798.7 676.6,787.2 683.5,783.4 694.6,778.9 697.6,775.6 708.1,760 711.1,756.6 712.6,755.8 723,751.9 726.1,750 730.6,745.8 741.1,734.5 744.1,732.2 753.1,726.4 757.6,722.9 765.1,715.9 771.3,709.3 775.6,703.6 786.1,687.7 795.1,676.2 804.3,665.4 814.6,655.6 817.6,652.3 822.1,645.6 834.1,624.5 837.1,619.9 849.1,607.3 863.6,586.8 876.7,571.3 883.6,561.7 887.7,556.9 894.1,552 898.6,549.3 900.1,548.8 905.5,548.8 907.6,547.7 912.1,544.2 921.1,535.5 924.1,533.2 926.5,531.9 931.6,532.6 942.1,534.8 944.9,535.1 946.6,534.3 951.1,531.5 955.6,527.9 973.6,511.2 978.1,508 981.6,506.2 987.1,506.5 993.1,507.5 999.1,510.3 1012.6,518.2 1015.6,519.5 1019.6,520.6 1026.1,517.7 1039.6,508.6 1044.1,506.2 1047.1,505 1057.6,506.9 1063.6,506.1 1081.2,503.1 1094.3,498.4 1096.6,499.4 1101.1,502.2 1102.6,502.4 1107.1,500.6 1114,496.7 1120.6,489.1 1123.2,487 1133.7,490.5 1156.6,488.8 1180.8,485.2 1188.7,486.7 1191.1,491.2 1194.1,498.6 1196,501.7 1200.1,500.1 1205.7,496.8 1207.6,492.9 1213.6,476 1215.1,472.7 1216.2,471.1 1218.1,471.5 1224.1,473.5 1230.1,478.3 1233.3,480.3 1242.1,480.4 1249.6,481.3 1256.9,483 1261.6,485.1 1275.2,491.8 1279.6,497.8 1287.1,510.5 1291,515 1296.1,515.6 1301.5,517 1308.1,516.7 1310.6,517 1312.6,519.4 1319.8,531.1 1327.7,536.4 1332.1,542.3 1340,555.4 1350.1,575.9 1353.1,580.7 1355.7,583.9 1362.1,587.3 1371.1,590.5 1381.6,593.2 1389.1,594.1 1401.1,594.2 1411.6,592.7 1506.1,570.1 1507.8,569.6 1512.1,567.2 1524.1,558.4 1528.8,555.4 1543.6,548 1552.6,544.7 1556.3,544 1558.6,544.1 1565.5,545.6 1569.1,547.6 1579.6,555.7 1583.8,557.2 1587.1,555 1591.6,550.7 1594.3,548.6 1600.6,545.7 1606.1,544 1608.1,545.8 1611.1,549.2 1620.1,561.4 1632.1,578.6 1638.1,585.5 1653.1,600.3 1681.6,626.7 1689.1,632.8 1693.6,635.6 1696.6,637 1711.6,638.8 1714.6,640.4 1720.6,644.7 1729.6,653 1732.6,655.1 1747.6,658.6 1752.1,661.1 1764.7,669.8 1773.1,673.7 1798.6,684 1804.1,686.6 1807.6,689.6 1814.6,696.8 1825.6,709.9 1827.7,711.8 1831.6,714.1 1832.9,714.5 1834.6,714.1 1837.6,712.5 1840,710.6" stroke="#2A5C96"/>
<polyline class="c" points="346.6,995 349,991.6 351.1,990.2 353,989.5 367.6,990.4 371,990.3 373.6,989.5 390.1,981.7 408.1,974.3 417.1,969.7 429.1,963 435.1,958.5 440,953.5 450,938.4 454.6,933.5 459.1,930.3 469.6,923.7 487.6,909.3 495.1,904.7 511.6,895.7 529,884 546.1,876 550.6,873.6 585.1,850.6 590.4,848.2 601.6,845 604.6,843.8 606.1,842.5 618.1,828.7 623.3,823.8 640.6,814.1 646.6,809.7 660.1,798.7 676.6,787.2 683.5,783.4 694.6,778.9 697.6,775.6 708.1,760 711.1,756.6 712.6,755.8 723,751.9 726.1,750 730.6,745.8 741.1,734.5 744.1,732.2 753.1,726.4 757.6,722.9 765.1,715.9 771.3,709.3 775.6,703.6 786.1,687.7 795.1,676.2 804.3,665.4 814.6,655.6 817.6,652.3 822.1,645.6 834.1,624.5 837.1,619.9 849.1,607.3 863.6,586.8 876.7,571.3 883.6,561.7 887.7,556.9 894.1,552 898.6,549.3 900.1,548.8 905.5,548.8 907.6,547.7 912.1,544.2 921.1,535.5 924.1,533.2 926.5,531.9 931.6,532.6 942.1,534.8 944.9,535.1 946.6,534.3 951.1,531.5 955.6,527.9 973.6,511.2 978.1,508 981.6,506.2 987.1,506.5 993.1,507.5 999.1,510.3 1012.6,518.2 1015.6,519.5 1019.6,520.6 1026.1,517.7 1039.6,508.6 1044.1,506.2 1047.1,505 1057.6,506.9 1063.6,506.1 1081.2,503.1 1094.3,498.4 1096.6,499.4 1101.1,502.2 1102.6,502.4 1107.1,500.6 1114,496.7 1120.6,489.1 1123.2,487 1133.7,490.5 1156.6,488.8 1180.8,485.2 1188.7,486.7 1191.1,491.2 1194.1,498.6 1196,501.7 1200.1,500.1 1205.7,496.8 1207.6,492.9 1213.6,476 1215.1,472.7 1216.2,471.1 1218.1,471.5 1224.1,473.5 1230.1,478.3 1233.3,480.3 1242.1,480.4 1249.6,481.3 1256.9,483 1261.6,485.1 1275.2,491.8 1279.6,497.8 1287.1,510.5 1291,515 1296.1,515.6 1301.5,517 1308.1,516.7 1310.6,517 1312.6,519.4 1319.8,531.1 1327.7,536.4 1332.1,542.3 1340,555.4 1350.1,575.9 1353.1,580.7 1355.7,583.9 1362.1,587.3 1371.1,590.5 1381.6,593.2 1389.1,594.1 1401.1,594.2 1411.6,592.7 1506.1,570.1 1507.8,569.6 1512.1,567.2 1524.1,558.4 1528.8,555.4 1543.6,548 1552.6,544.7 1556.3,544 1558.6,544.1 1565.5,545.6 1569.1,547.6 1579.6,555.7 1583.8,557.2 1587.1,555 1591.6,550.7 1594.3,548.6 1600.6,545.7 1606.1,544 1608.1,545.8 1611.1,549.2 1620.1,561.4 1632.1,578.6 1638.1,585.5 1653.1,600.3 1681.6,626.7 1689.1,632.8 1693.6,635.6 1696.6,637 1711.6,638.8 1714.6,640.4 1720.6,644.7 1729.6,653 1732.6,655.1 1747.6,658.6 1752.1,661.1 1764.7,669.8 1773.1,673.7 1798.6,684 1804.1,686.6 1807.6,689.6 1814.6,696.8 1825.6,709.9 1827.7,711.8 1831.6,714.1 1832.9,714.5 1834.6,714.1 1837.6,712.5 1840,710.6" stroke="#2A5C96"/>
<polyline class="b" filter="url(#softer)" points="346.6,999 349,995.6 351.1,994.3 353,993.5 367.6,994.4 371,994.2 373.6,993.4 388.6,986.3 408.1,978.2 417.1,973.7 429.1,966.9 435.1,962.4 440,957.4 450,942.4 454.6,937.6 459.1,934.3 469.6,927.7 487.6,913.3 495.1,908.7 511.6,899.6 529,888 550.6,877.5 585.1,854.5 590.4,852.1 601.6,848.9 604.6,847.7 606.1,846.4 618.1,832.7 623.3,827.8 640.6,818.1 646.6,813.6 660.1,802.6 676.6,791.1 683.5,787.3 694.6,782.7 697.6,779.4 708.1,763.9 711.1,760.5 723,755.8 726.1,753.8 730.6,749.6 741.1,738.4 744.1,736.1 753.1,730.3 757.6,726.7 765.1,719.8 771.3,713.2 775.6,707.4 786.1,691.5 795.1,680 804.3,669.3 814.6,659.4 817.6,656.1 822.1,649.4 834.1,628.4 837.1,623.8 849.1,611.2 863.6,590.6 876.7,575.2 883.6,565.5 887.7,560.7 894.1,555.8 898.6,553.1 900.1,552.6 905.5,552.6 907.6,551.5 912.1,548 921.1,539.4 924.1,537.1 926.5,535.8 931.6,536.5 942.1,538.7 944.9,539 946.6,538.2 951.1,535.5 955.6,531.9 973.6,515.3 978.1,512.1 981.6,510.3 987.1,510.6 993.1,511.6 999.1,514.4 1012.6,522.3 1015.6,523.6 1019.6,524.7 1026.1,521.8 1039.6,512.8 1044.1,510.4 1047.1,509.2 1057.6,511.1 1063.6,510.3 1081.2,507.3 1094.3,502.7 1096.6,503.7 1101.1,506.5 1102.6,506.7 1107.1,504.9 1114,501 1120.6,493.5 1123.2,491.4 1133.7,494.9 1156.6,493.2 1180.8,489.7 1188.7,491.1 1191.1,495.6 1194.1,503 1196,506 1200.1,504.5 1205.7,501.2 1207.6,497.3 1213.6,480.5 1215.1,477.3 1216.2,475.7 1218.1,476 1224.1,478.1 1230.1,482.9 1233.3,484.8 1240.6,484.8 1245.1,485.5 1251.1,487.3 1257.1,490.2 1264.6,496.1 1275.2,505.8 1278.1,510.9 1287.1,529.8 1291,535.4 1301.5,538.8 1308.1,538.8 1310.6,539.2 1312.6,541.7 1319.8,553.8 1327.7,559.6 1332.1,565.9 1340,579.6 1350.1,600.8 1353.1,605.7 1355.7,609 1359.1,611.1 1363.6,613.2 1374.1,616.9 1384.6,619.4 1392.1,619.9 1401.1,619.8 1405.6,619.1 1411.6,617.3 1480,589.2 1498.6,582.3 1506.1,578.9 1507.8,578 1512.1,573.9 1524.1,559 1528.8,553.8 1543.6,541.1 1548.1,538 1552.6,535.6 1555.6,534.6 1557.1,534.4 1560.1,534.7 1565.5,536.1 1569.1,538.2 1579.6,546.3 1583.8,547.9 1587.1,545.7 1591.6,541.4 1594.3,539.2 1600.6,536.4 1606.1,534.7 1611.1,541.1 1632.1,575.3 1639.6,585.4 1651.6,599.6 1678.6,629.3 1684.6,635.6 1689.1,639.7 1693.6,643.2 1696.6,645 1711.6,648.9 1714.6,650.9 1720.6,655.9 1729.6,665.2 1732.6,667.6 1747.6,672.8 1752.1,675.7 1761.1,683 1765.6,686.1 1774.6,690.9 1798.6,702.6 1804.1,705.6 1807.6,708.8 1814.6,716.4 1825.6,729.9 1827.7,731.9 1830.1,733.6 1833.1,735 1836.1,734 1840,731.2" stroke="#2E8499"/>
<polyline class="c" points="346.6,999 349,995.6 351.1,994.3 353,993.5 367.6,994.4 371,994.2 373.6,993.4 388.6,986.3 408.1,978.2 417.1,973.7 429.1,966.9 435.1,962.4 440,957.4 450,942.4 454.6,937.6 459.1,934.3 469.6,927.7 487.6,913.3 495.1,908.7 511.6,899.6 529,888 550.6,877.5 585.1,854.5 590.4,852.1 601.6,848.9 604.6,847.7 606.1,846.4 618.1,832.7 623.3,827.8 640.6,818.1 646.6,813.6 660.1,802.6 676.6,791.1 683.5,787.3 694.6,782.7 697.6,779.4 708.1,763.9 711.1,760.5 723,755.8 726.1,753.8 730.6,749.6 741.1,738.4 744.1,736.1 753.1,730.3 757.6,726.7 765.1,719.8 771.3,713.2 775.6,707.4 786.1,691.5 795.1,680 804.3,669.3 814.6,659.4 817.6,656.1 822.1,649.4 834.1,628.4 837.1,623.8 849.1,611.2 863.6,590.6 876.7,575.2 883.6,565.5 887.7,560.7 894.1,555.8 898.6,553.1 900.1,552.6 905.5,552.6 907.6,551.5 912.1,548 921.1,539.4 924.1,537.1 926.5,535.8 931.6,536.5 942.1,538.7 944.9,539 946.6,538.2 951.1,535.5 955.6,531.9 973.6,515.3 978.1,512.1 981.6,510.3 987.1,510.6 993.1,511.6 999.1,514.4 1012.6,522.3 1015.6,523.6 1019.6,524.7 1026.1,521.8 1039.6,512.8 1044.1,510.4 1047.1,509.2 1057.6,511.1 1063.6,510.3 1081.2,507.3 1094.3,502.7 1096.6,503.7 1101.1,506.5 1102.6,506.7 1107.1,504.9 1114,501 1120.6,493.5 1123.2,491.4 1133.7,494.9 1156.6,493.2 1180.8,489.7 1188.7,491.1 1191.1,495.6 1194.1,503 1196,506 1200.1,504.5 1205.7,501.2 1207.6,497.3 1213.6,480.5 1215.1,477.3 1216.2,475.7 1218.1,476 1224.1,478.1 1230.1,482.9 1233.3,484.8 1240.6,484.8 1245.1,485.5 1251.1,487.3 1257.1,490.2 1264.6,496.1 1275.2,505.8 1278.1,510.9 1287.1,529.8 1291,535.4 1301.5,538.8 1308.1,538.8 1310.6,539.2 1312.6,541.7 1319.8,553.8 1327.7,559.6 1332.1,565.9 1340,579.6 1350.1,600.8 1353.1,605.7 1355.7,609 1359.1,611.1 1363.6,613.2 1374.1,616.9 1384.6,619.4 1392.1,619.9 1401.1,619.8 1405.6,619.1 1411.6,617.3 1480,589.2 1498.6,582.3 1506.1,578.9 1507.8,578 1512.1,573.9 1524.1,559 1528.8,553.8 1543.6,541.1 1548.1,538 1552.6,535.6 1555.6,534.6 1557.1,534.4 1560.1,534.7 1565.5,536.1 1569.1,538.2 1579.6,546.3 1583.8,547.9 1587.1,545.7 1591.6,541.4 1594.3,539.2 1600.6,536.4 1606.1,534.7 1611.1,541.1 1632.1,575.3 1639.6,585.4 1651.6,599.6 1678.6,629.3 1684.6,635.6 1689.1,639.7 1693.6,643.2 1696.6,645 1711.6,648.9 1714.6,650.9 1720.6,655.9 1729.6,665.2 1732.6,667.6 1747.6,672.8 1752.1,675.7 1761.1,683 1765.6,686.1 1774.6,690.9 1798.6,702.6 1804.1,705.6 1807.6,708.8 1814.6,716.4 1825.6,729.9 1827.7,731.9 1830.1,733.6 1833.1,735 1836.1,734 1840,731.2" stroke="#2E8499"/>
<polyline class="b" filter="url(#softer)" points="346.6,1002 349,998.7 351.1,997.3 353,996.6 367.6,997.4 371,997.2 373.6,996.4 388.6,989.4 408.1,981.4 417.1,976.8 429.1,970 435.1,965.6 440,960.7 450,945.8 454.6,941 459.1,937.7 469.6,931.1 487.6,916.8 495.1,912.2 511.6,903.2 529,891.7 550.6,881.2 585.1,858.4 590.4,856 601.6,852.8 604.6,851.6 606.1,850.3 618.1,836.7 623.3,831.8 640.6,822.1 646.6,817.7 660.1,806.8 676.6,795.4 683.5,791.5 694.6,787 697.6,783.8 708.1,768.3 711.1,765 723,760.2 726.1,758.3 730.6,754.1 741.1,743 744.1,740.7 753.1,734.9 757.6,731.3 765.1,724.4 771.3,717.9 775.6,712.2 786.1,696.4 795.1,684.9 804.3,674.2 814.6,664.4 817.6,661.2 822.1,654.5 834.1,633.6 837.1,629 849.1,616.5 863.6,596 876.7,580.7 883.6,571.1 887.7,566.4 894.1,561.4 898.6,558.8 900.1,558.3 905.5,558.3 907.6,557.2 912.1,553.7 921.1,545.2 924.1,543 926.5,541.7 931.6,542.3 942.1,544.6 944.9,544.9 946.6,544.1 951.1,541.4 955.6,537.8 973.6,521.4 978.1,518.3 981.6,516.5 987.1,516.8 993.1,517.8 999.1,520.6 1012.6,528.4 1015.6,529.7 1019.6,530.8 1026.1,527.9 1039.6,519.1 1044.1,516.7 1047.1,515.5 1057.6,517.4 1063.6,516.6 1081.2,513.7 1094.3,509.1 1096.6,510.1 1101.1,512.9 1102.6,513.1 1107.1,511.3 1114,507.5 1120.6,500.1 1123.2,498 1133.7,501.5 1156.6,499.8 1180.8,496.3 1188.7,497.8 1191.1,502.2 1194.1,509.5 1196,512.5 1200.1,511 1205.7,507.7 1207.6,503.9 1213.6,487.3 1216.2,482.5 1219.6,483.2 1224,484.8 1230.1,489.6 1233.3,491.5 1256.9,492.1 1266.1,493.9 1269.1,493.3 1272.1,491.8 1275.2,489.6 1276.6,489.4 1278.1,489.5 1281.1,490.6 1288.6,495 1291,496.1 1301.5,494.2 1310.6,488.6 1312.6,489.4 1317.1,492.6 1319.8,493.7 1327.7,489.4 1330.6,489.2 1336.6,490 1340,490.7 1341.1,491.2 1345.6,494.2 1353.1,500.2 1355.7,501.5 1384.6,502 1405.5,500.6 1416.1,498.8 1480,485.9 1498.6,482.5 1507.8,480.4 1513.6,477.6 1528.8,468.5 1543.6,462.3 1552.6,459.6 1556.3,459 1558.6,459.1 1565.5,461 1569.1,463.3 1579.6,472.4 1581.1,473.3 1583.8,474.1 1587.1,471.8 1591.6,467 1594.3,464.6 1600.6,461.5 1606.1,459.7 1609.6,462.3 1612.6,465.7 1620.1,474.8 1630.6,488.8 1636.6,495.3 1648.6,505.9 1668.1,521.2 1681.6,532.7 1687.6,537.1 1692.1,539.6 1696.6,541.3 1710.1,539.9 1713.1,540.6 1720.6,545.1 1729.6,553.2 1732.6,555 1735.6,555.5 1746.4,556 1747.6,556.4 1752.1,558.6 1764.7,566.8 1773.1,570 1797.1,577.8 1803.1,580.2 1806.1,582.2 1810.6,586.9 1816.6,593.8 1824.1,603.7 1827.7,607.5 1830.1,609 1832.9,610 1836.1,608.7 1840,605.3" stroke="#7FA83F"/>
<polyline class="c" points="346.6,1002 349,998.7 351.1,997.3 353,996.6 367.6,997.4 371,997.2 373.6,996.4 388.6,989.4 408.1,981.4 417.1,976.8 429.1,970 435.1,965.6 440,960.7 450,945.8 454.6,941 459.1,937.7 469.6,931.1 487.6,916.8 495.1,912.2 511.6,903.2 529,891.7 550.6,881.2 585.1,858.4 590.4,856 601.6,852.8 604.6,851.6 606.1,850.3 618.1,836.7 623.3,831.8 640.6,822.1 646.6,817.7 660.1,806.8 676.6,795.4 683.5,791.5 694.6,787 697.6,783.8 708.1,768.3 711.1,765 723,760.2 726.1,758.3 730.6,754.1 741.1,743 744.1,740.7 753.1,734.9 757.6,731.3 765.1,724.4 771.3,717.9 775.6,712.2 786.1,696.4 795.1,684.9 804.3,674.2 814.6,664.4 817.6,661.2 822.1,654.5 834.1,633.6 837.1,629 849.1,616.5 863.6,596 876.7,580.7 883.6,571.1 887.7,566.4 894.1,561.4 898.6,558.8 900.1,558.3 905.5,558.3 907.6,557.2 912.1,553.7 921.1,545.2 924.1,543 926.5,541.7 931.6,542.3 942.1,544.6 944.9,544.9 946.6,544.1 951.1,541.4 955.6,537.8 973.6,521.4 978.1,518.3 981.6,516.5 987.1,516.8 993.1,517.8 999.1,520.6 1012.6,528.4 1015.6,529.7 1019.6,530.8 1026.1,527.9 1039.6,519.1 1044.1,516.7 1047.1,515.5 1057.6,517.4 1063.6,516.6 1081.2,513.7 1094.3,509.1 1096.6,510.1 1101.1,512.9 1102.6,513.1 1107.1,511.3 1114,507.5 1120.6,500.1 1123.2,498 1133.7,501.5 1156.6,499.8 1180.8,496.3 1188.7,497.8 1191.1,502.2 1194.1,509.5 1196,512.5 1200.1,511 1205.7,507.7 1207.6,503.9 1213.6,487.3 1216.2,482.5 1219.6,483.2 1224,484.8 1230.1,489.6 1233.3,491.5 1256.9,492.1 1266.1,493.9 1269.1,493.3 1272.1,491.8 1275.2,489.6 1276.6,489.4 1278.1,489.5 1281.1,490.6 1288.6,495 1291,496.1 1301.5,494.2 1310.6,488.6 1312.6,489.4 1317.1,492.6 1319.8,493.7 1327.7,489.4 1330.6,489.2 1336.6,490 1340,490.7 1341.1,491.2 1345.6,494.2 1353.1,500.2 1355.7,501.5 1384.6,502 1405.5,500.6 1416.1,498.8 1480,485.9 1498.6,482.5 1507.8,480.4 1513.6,477.6 1528.8,468.5 1543.6,462.3 1552.6,459.6 1556.3,459 1558.6,459.1 1565.5,461 1569.1,463.3 1579.6,472.4 1581.1,473.3 1583.8,474.1 1587.1,471.8 1591.6,467 1594.3,464.6 1600.6,461.5 1606.1,459.7 1609.6,462.3 1612.6,465.7 1620.1,474.8 1630.6,488.8 1636.6,495.3 1648.6,505.9 1668.1,521.2 1681.6,532.7 1687.6,537.1 1692.1,539.6 1696.6,541.3 1710.1,539.9 1713.1,540.6 1720.6,545.1 1729.6,553.2 1732.6,555 1735.6,555.5 1746.4,556 1747.6,556.4 1752.1,558.6 1764.7,566.8 1773.1,570 1797.1,577.8 1803.1,580.2 1806.1,582.2 1810.6,586.9 1816.6,593.8 1824.1,603.7 1827.7,607.5 1830.1,609 1832.9,610 1836.1,608.7 1840,605.3" stroke="#7FA83F"/>
<polyline class="b" filter="url(#softer)" points="346.6,1004 349,1000.7 351.1,999.3 353,998.6 367.6,999.2 371,999 373.6,998.2 388.6,991.1 408.1,982.8 417.1,978.2 429.1,971.2 435.1,966.7 440,961.6 450,946.6 454.6,941.7 459.1,938.3 469.6,931.5 487.6,917 495.1,912.2 511.6,903 529,891.2 550.6,880.5 585.1,857.2 590.4,854.7 601.6,851.4 604.6,850.1 607.6,847.1 618.1,835 623.3,830 640.6,820.1 646.6,815.6 660.1,804.4 676.6,792.7 683.5,788.8 694.6,784.1 697.6,780.8 708.1,765.1 711.1,761.7 723,756.8 726.1,754.8 730.6,750.5 741.1,739.2 744.1,736.8 753.1,730.9 757.6,727.2 765.1,720.1 771.3,713.4 775.6,707.6 786.1,691.5 795.1,679.8 804.3,668.9 814.6,658.8 817.6,655.5 822.1,648.7 834.1,627.4 837.1,622.7 849.1,609.8 863.6,588.9 876.7,573.3 883.6,563.5 887.7,558.6 894.1,553.6 898.6,550.8 900.1,550.3 905.5,550.6 907.6,549.7 912.1,546.4 921.1,538.2 924.1,536.1 926.5,535 930.1,535.6 943.6,539 944.9,539.2 948.1,537.8 951.1,536 955.6,532.7 969.1,520.7 973.6,517.1 978.1,514.2 981.6,512.7 987.1,513.3 993.1,514.6 999.1,517.7 1012.6,526.3 1015.6,527.8 1019.6,529.2 1026.1,526.6 1041.1,517.7 1047.1,515.4 1057.6,517.8 1063.6,517.3 1081.2,515.4 1094.3,511.6 1096.6,512.7 1101.1,515.7 1102.6,516 1107.1,514.5 1114,511.1 1120.6,504 1123.2,502.1 1133.7,506.2 1155.1,505.7 1180.8,502.8 1188.7,504.4 1191.1,508.9 1194.1,516.2 1196,519.2 1200.1,517.9 1205.7,514.8 1207.6,511.1 1213.6,494.7 1215.1,491.6 1216.2,490.1 1216.6,490.1 1224,492.6 1230.1,497.5 1233.3,499.5 1246.6,500 1256.9,501.1 1264.6,503.6 1267.6,505.8 1270.6,509.4 1275.2,516.7 1278.1,524.1 1285.6,546.1 1288.6,553 1291,556.5 1294.6,556.9 1301.5,556.4 1310.6,552.2 1312.6,553.3 1317.1,557.6 1319.8,559.4 1327.7,557.4 1332.1,558.8 1340,563 1344.1,566.7 1351.6,574.8 1355.7,577.9 1371.1,579.7 1384.6,580.6 1401.1,579.9 1405.6,579.4 1411.6,578.2 1480,559.2 1498.6,554.5 1506.1,552.1 1507.8,551.5 1512.1,548.8 1524.1,538.7 1528.8,535.1 1543.6,526.6 1548.1,524.4 1552.6,522.8 1556.3,522 1558.6,522.2 1565.5,524.2 1569.1,526.9 1576.6,534.6 1579.6,537.2 1581.1,538.2 1583.8,539.2 1587.1,536.6 1591.6,531.2 1594.3,528.5 1600.6,525 1606.1,522.9 1609.6,532.3 1630.6,593.7 1636.6,608.9 1644.1,625.9 1656.1,650.5 1672.6,680.5 1683.1,698 1687.6,704.6 1692.1,710.4 1696.6,715.3 1698.1,716.5 1711,724.8 1713.1,726.6 1720.6,734.4 1729.6,744.7 1733.3,747.9 1747.6,754.1 1762.6,764.6 1768.6,767.7 1783.6,773.4 1804.6,779.9 1807.6,781.8 1814.6,787.2 1824.1,795.7 1827.7,798.3 1831.6,799.8 1833.1,800 1836.1,799.1 1840,796.8" stroke="#F0883C"/>
<polyline class="c" points="346.6,1004 349,1000.7 351.1,999.3 353,998.6 367.6,999.2 371,999 373.6,998.2 388.6,991.1 408.1,982.8 417.1,978.2 429.1,971.2 435.1,966.7 440,961.6 450,946.6 454.6,941.7 459.1,938.3 469.6,931.5 487.6,917 495.1,912.2 511.6,903 529,891.2 550.6,880.5 585.1,857.2 590.4,854.7 601.6,851.4 604.6,850.1 607.6,847.1 618.1,835 623.3,830 640.6,820.1 646.6,815.6 660.1,804.4 676.6,792.7 683.5,788.8 694.6,784.1 697.6,780.8 708.1,765.1 711.1,761.7 723,756.8 726.1,754.8 730.6,750.5 741.1,739.2 744.1,736.8 753.1,730.9 757.6,727.2 765.1,720.1 771.3,713.4 775.6,707.6 786.1,691.5 795.1,679.8 804.3,668.9 814.6,658.8 817.6,655.5 822.1,648.7 834.1,627.4 837.1,622.7 849.1,609.8 863.6,588.9 876.7,573.3 883.6,563.5 887.7,558.6 894.1,553.6 898.6,550.8 900.1,550.3 905.5,550.6 907.6,549.7 912.1,546.4 921.1,538.2 924.1,536.1 926.5,535 930.1,535.6 943.6,539 944.9,539.2 948.1,537.8 951.1,536 955.6,532.7 969.1,520.7 973.6,517.1 978.1,514.2 981.6,512.7 987.1,513.3 993.1,514.6 999.1,517.7 1012.6,526.3 1015.6,527.8 1019.6,529.2 1026.1,526.6 1041.1,517.7 1047.1,515.4 1057.6,517.8 1063.6,517.3 1081.2,515.4 1094.3,511.6 1096.6,512.7 1101.1,515.7 1102.6,516 1107.1,514.5 1114,511.1 1120.6,504 1123.2,502.1 1133.7,506.2 1155.1,505.7 1180.8,502.8 1188.7,504.4 1191.1,508.9 1194.1,516.2 1196,519.2 1200.1,517.9 1205.7,514.8 1207.6,511.1 1213.6,494.7 1215.1,491.6 1216.2,490.1 1216.6,490.1 1224,492.6 1230.1,497.5 1233.3,499.5 1246.6,500 1256.9,501.1 1264.6,503.6 1267.6,505.8 1270.6,509.4 1275.2,516.7 1278.1,524.1 1285.6,546.1 1288.6,553 1291,556.5 1294.6,556.9 1301.5,556.4 1310.6,552.2 1312.6,553.3 1317.1,557.6 1319.8,559.4 1327.7,557.4 1332.1,558.8 1340,563 1344.1,566.7 1351.6,574.8 1355.7,577.9 1371.1,579.7 1384.6,580.6 1401.1,579.9 1405.6,579.4 1411.6,578.2 1480,559.2 1498.6,554.5 1506.1,552.1 1507.8,551.5 1512.1,548.8 1524.1,538.7 1528.8,535.1 1543.6,526.6 1548.1,524.4 1552.6,522.8 1556.3,522 1558.6,522.2 1565.5,524.2 1569.1,526.9 1576.6,534.6 1579.6,537.2 1581.1,538.2 1583.8,539.2 1587.1,536.6 1591.6,531.2 1594.3,528.5 1600.6,525 1606.1,522.9 1609.6,532.3 1630.6,593.7 1636.6,608.9 1644.1,625.9 1656.1,650.5 1672.6,680.5 1683.1,698 1687.6,704.6 1692.1,710.4 1696.6,715.3 1698.1,716.5 1711,724.8 1713.1,726.6 1720.6,734.4 1729.6,744.7 1733.3,747.9 1747.6,754.1 1762.6,764.6 1768.6,767.7 1783.6,773.4 1804.6,779.9 1807.6,781.8 1814.6,787.2 1824.1,795.7 1827.7,798.3 1831.6,799.8 1833.1,800 1836.1,799.1 1840,796.8" stroke="#F0883C"/>
<polyline class="b" filter="url(#softer)" points="346.6,1006 349,1002.7 351.1,1001.4 353,1000.7 367.6,1001.4 371,1001.2 373.6,1000.5 388.6,993.5 408.1,985.5 417.1,981 429.1,974.3 435.1,969.8 440,965 450,950.3 454.6,945.5 459.1,942.2 469.6,935.7 487.6,921.5 495.1,917 511.6,908 529,896.6 550.6,886.2 585.1,863.6 590.4,861.1 601.6,858 604.6,856.8 607.6,853.8 618.1,842 623.3,837.2 640.6,827.6 646.6,823.2 660.1,812.4 676.6,801 683.5,797.2 694.6,792.7 697.6,789.5 708.1,774.2 711.1,770.9 723,766.2 726.1,764.2 730.6,760.1 741.1,749.1 744.1,746.8 753.1,741 757.6,737.5 765.1,730.6 771.3,724.1 775.6,718.5 786.1,702.8 795.1,691.5 804.3,680.9 814.6,671.1 817.6,667.9 822.1,661.3 834.1,640.6 837.1,636 849.1,623.6 863.6,603.3 876.7,588.1 883.6,578.6 887.7,573.9 894.1,569 898.6,566.3 900.1,565.8 905.5,565.9 907.6,564.8 912.1,561.4 921.1,553 924.1,550.7 926.5,549.5 930.1,549.9 943.6,552.6 944.9,552.7 948.1,551.1 955.6,545.7 973.6,529.5 978.1,526.4 981.6,524.7 987.1,525 993.1,526 999.1,528.7 1012.6,536.5 1015.6,537.8 1019.6,538.9 1026.1,536.1 1039.6,527.3 1044.1,525 1047.1,523.9 1057.6,525.7 1063.6,524.9 1081.2,522.1 1094.3,517.6 1096.6,518.6 1101.1,521.3 1102.6,521.6 1107.1,519.8 1114,516.1 1120.6,508.7 1123.2,506.6 1133.7,510.1 1156.6,508.5 1180.8,505.1 1188.7,506.5 1191.1,510.9 1194.1,518.2 1196,521.1 1200.1,519.6 1205.7,516.4 1207.6,512.7 1213.6,496.2 1216.2,491.5 1219.6,492.2 1224,493.8 1230.1,498.5 1233.3,500.4 1256.9,501 1266.1,502.8 1269.1,502.2 1272.1,500.8 1275.2,498.8 1276.6,498.7 1278.1,498.9 1281.1,500.1 1288.6,504.8 1291,505.9 1301.5,504.1 1310.6,498.7 1312.6,499.6 1317.1,502.9 1319.8,504.1 1327.7,500.1 1330.6,500.1 1336.6,501.1 1340,501.9 1341.1,502.5 1345.6,505.7 1351.6,510.7 1355.7,513.2 1384.6,513.9 1405.5,512.5 1416.1,510.6 1480,496.1 1498.6,492.3 1507.8,489.9 1513.6,486.8 1524.1,479.5 1528.8,476.6 1543.6,469.7 1552.6,466.7 1556.3,466 1558.6,466.2 1565.5,468 1569.1,470.3 1579.6,479.5 1581.1,480.4 1583.8,481.2 1587.1,479 1591.6,474.3 1594.3,472 1600.6,469 1606.1,467.2 1609.6,469.6 1612.6,472.8 1620.1,481.4 1630.6,494.7 1633.7,498.2 1636.6,500.9 1648.6,510.8 1668.1,525.1 1681.6,536 1687.6,540.1 1692.1,542.4 1696.6,543.8 1710.1,542 1713.1,542.5 1720.6,546.7 1729.6,554.4 1732.6,556.2 1735.6,556.5 1746.4,556.7 1747.6,557 1752.1,559 1761.1,564.8 1764.7,566.8 1773.1,569.7 1797.1,576.8 1803.1,579 1806.1,581 1810.6,585.5 1816.6,592.2 1824.1,602 1827.7,605.6 1830.1,607 1832.9,608 1836.1,606.7 1840,603.3" stroke="#8FAADC"/>
<polyline class="c" points="346.6,1006 349,1002.7 351.1,1001.4 353,1000.7 367.6,1001.4 371,1001.2 373.6,1000.5 388.6,993.5 408.1,985.5 417.1,981 429.1,974.3 435.1,969.8 440,965 450,950.3 454.6,945.5 459.1,942.2 469.6,935.7 487.6,921.5 495.1,917 511.6,908 529,896.6 550.6,886.2 585.1,863.6 590.4,861.1 601.6,858 604.6,856.8 607.6,853.8 618.1,842 623.3,837.2 640.6,827.6 646.6,823.2 660.1,812.4 676.6,801 683.5,797.2 694.6,792.7 697.6,789.5 708.1,774.2 711.1,770.9 723,766.2 726.1,764.2 730.6,760.1 741.1,749.1 744.1,746.8 753.1,741 757.6,737.5 765.1,730.6 771.3,724.1 775.6,718.5 786.1,702.8 795.1,691.5 804.3,680.9 814.6,671.1 817.6,667.9 822.1,661.3 834.1,640.6 837.1,636 849.1,623.6 863.6,603.3 876.7,588.1 883.6,578.6 887.7,573.9 894.1,569 898.6,566.3 900.1,565.8 905.5,565.9 907.6,564.8 912.1,561.4 921.1,553 924.1,550.7 926.5,549.5 930.1,549.9 943.6,552.6 944.9,552.7 948.1,551.1 955.6,545.7 973.6,529.5 978.1,526.4 981.6,524.7 987.1,525 993.1,526 999.1,528.7 1012.6,536.5 1015.6,537.8 1019.6,538.9 1026.1,536.1 1039.6,527.3 1044.1,525 1047.1,523.9 1057.6,525.7 1063.6,524.9 1081.2,522.1 1094.3,517.6 1096.6,518.6 1101.1,521.3 1102.6,521.6 1107.1,519.8 1114,516.1 1120.6,508.7 1123.2,506.6 1133.7,510.1 1156.6,508.5 1180.8,505.1 1188.7,506.5 1191.1,510.9 1194.1,518.2 1196,521.1 1200.1,519.6 1205.7,516.4 1207.6,512.7 1213.6,496.2 1216.2,491.5 1219.6,492.2 1224,493.8 1230.1,498.5 1233.3,500.4 1256.9,501 1266.1,502.8 1269.1,502.2 1272.1,500.8 1275.2,498.8 1276.6,498.7 1278.1,498.9 1281.1,500.1 1288.6,504.8 1291,505.9 1301.5,504.1 1310.6,498.7 1312.6,499.6 1317.1,502.9 1319.8,504.1 1327.7,500.1 1330.6,500.1 1336.6,501.1 1340,501.9 1341.1,502.5 1345.6,505.7 1351.6,510.7 1355.7,513.2 1384.6,513.9 1405.5,512.5 1416.1,510.6 1480,496.1 1498.6,492.3 1507.8,489.9 1513.6,486.8 1524.1,479.5 1528.8,476.6 1543.6,469.7 1552.6,466.7 1556.3,466 1558.6,466.2 1565.5,468 1569.1,470.3 1579.6,479.5 1581.1,480.4 1583.8,481.2 1587.1,479 1591.6,474.3 1594.3,472 1600.6,469 1606.1,467.2 1609.6,469.6 1612.6,472.8 1620.1,481.4 1630.6,494.7 1633.7,498.2 1636.6,500.9 1648.6,510.8 1668.1,525.1 1681.6,536 1687.6,540.1 1692.1,542.4 1696.6,543.8 1710.1,542 1713.1,542.5 1720.6,546.7 1729.6,554.4 1732.6,556.2 1735.6,556.5 1746.4,556.7 1747.6,557 1752.1,559 1761.1,564.8 1764.7,566.8 1773.1,569.7 1797.1,576.8 1803.1,579 1806.1,581 1810.6,585.5 1816.6,592.2 1824.1,602 1827.7,605.6 1830.1,607 1832.9,608 1836.1,606.7 1840,603.3" stroke="#8FAADC"/>
<polyline class="b" filter="url(#softer)" points="346.6,1009 349,1005.8 351.1,1004.4 353,1003.7 367.6,1004.4 371,1004.2 373.6,1003.5 388.6,996.5 408.1,988.6 417.1,984.1 429.1,977.4 435.1,973 440,968.1 450,953.5 454.6,948.8 459.1,945.5 469.6,939 487.6,924.9 495.1,920.3 511.6,911.4 529,900 550.6,889.7 585.1,867.2 590.4,864.8 601.6,861.6 604.6,860.4 607.6,857.5 618.1,845.7 623.3,840.9 640.6,831.3 646.6,827 660.1,816.2 676.6,804.9 683.5,801.1 694.6,796.6 697.6,793.4 708.1,778.2 711.1,774.9 723,770.2 726.1,768.3 730.6,764.1 741.1,753.2 744.1,750.9 753.1,745.1 757.6,741.6 765.1,734.8 771.3,728.3 775.6,722.7 786.1,707.1 795.1,695.8 804.3,685.3 814.6,675.5 817.6,672.3 822.1,665.8 834.1,645.1 837.1,640.6 849.1,628.2 863.6,608 876.7,592.9 883.6,583.4 887.7,578.7 894.1,573.9 898.6,571.2 900.1,570.7 905.5,570.8 907.6,569.7 912.1,566.3 921.1,558 924.1,555.8 926.5,554.5 930.1,554.9 943.6,557.6 944.9,557.7 948.1,556.2 955.6,550.8 973.6,534.7 978.1,531.7 981.6,530 987.1,530.3 993.1,531.3 999.1,534 1012.6,541.7 1015.6,543 1019.6,544.2 1026.1,541.3 1039.6,532.7 1044.1,530.3 1047.1,529.2 1057.6,531 1063.6,530.3 1081.2,527.5 1094.3,523.1 1096.6,524 1101.1,526.8 1102.6,527 1107.1,525.3 1114,521.6 1120.6,514.3 1123.2,512.2 1133.7,515.7 1156.6,514.2 1180.8,510.8 1188.7,512.2 1191.1,516.6 1194.1,523.7 1196,526.7 1200.1,525.2 1205.7,522 1207.6,518.3 1213.6,501.9 1216.2,497.3 1219.6,498 1224,499.5 1230.1,504.3 1233.3,506.1 1256.9,506.7 1266.1,508.6 1270.6,508.3 1275.2,506.9 1276.6,507.2 1279.6,509 1287.1,515.8 1291,518.4 1301.5,516.7 1310.6,511.2 1312.6,512 1317.1,515.3 1319.8,516.3 1327.7,512.2 1330.6,512.1 1336.6,512.9 1340,513.6 1341.1,514.2 1345.6,517.2 1351.6,522 1355.7,524.4 1384.6,525 1401.1,523.9 1407.1,523.1 1414.6,521.1 1480,500.6 1498.6,495.4 1507.8,492.1 1513.6,487.7 1524.1,477.7 1528.8,473.7 1543.6,464.1 1548.1,461.7 1552.6,459.9 1557.1,459 1560.1,459.5 1565.5,461.1 1569.1,463.5 1579.6,472.7 1581.1,473.6 1583.8,474.5 1587.1,472.3 1591.6,467.6 1594.3,465.3 1600.6,462.3 1606.1,460.5 1608.1,462.9 1611.1,467.3 1632.1,503.4 1639.6,513.9 1651.6,528.6 1678.6,559.1 1684.6,565.5 1689.1,569.7 1693.6,573.1 1696.6,574.8 1711.6,577.5 1714.6,579.4 1720.6,584.4 1729.6,593.9 1732.6,596.2 1747.6,600.3 1752.1,603.1 1761.1,610.3 1765.6,613.3 1774.6,617.7 1798.6,628 1804.1,630.8 1807.6,634 1814.6,641.9 1825.6,656 1827.7,658.1 1830.1,659.7 1832.9,661 1834.6,660.5 1837.6,658.8 1840,656.7" stroke="#9C3432"/>
<polyline class="c" points="346.6,1009 349,1005.8 351.1,1004.4 353,1003.7 367.6,1004.4 371,1004.2 373.6,1003.5 388.6,996.5 408.1,988.6 417.1,984.1 429.1,977.4 435.1,973 440,968.1 450,953.5 454.6,948.8 459.1,945.5 469.6,939 487.6,924.9 495.1,920.3 511.6,911.4 529,900 550.6,889.7 585.1,867.2 590.4,864.8 601.6,861.6 604.6,860.4 607.6,857.5 618.1,845.7 623.3,840.9 640.6,831.3 646.6,827 660.1,816.2 676.6,804.9 683.5,801.1 694.6,796.6 697.6,793.4 708.1,778.2 711.1,774.9 723,770.2 726.1,768.3 730.6,764.1 741.1,753.2 744.1,750.9 753.1,745.1 757.6,741.6 765.1,734.8 771.3,728.3 775.6,722.7 786.1,707.1 795.1,695.8 804.3,685.3 814.6,675.5 817.6,672.3 822.1,665.8 834.1,645.1 837.1,640.6 849.1,628.2 863.6,608 876.7,592.9 883.6,583.4 887.7,578.7 894.1,573.9 898.6,571.2 900.1,570.7 905.5,570.8 907.6,569.7 912.1,566.3 921.1,558 924.1,555.8 926.5,554.5 930.1,554.9 943.6,557.6 944.9,557.7 948.1,556.2 955.6,550.8 973.6,534.7 978.1,531.7 981.6,530 987.1,530.3 993.1,531.3 999.1,534 1012.6,541.7 1015.6,543 1019.6,544.2 1026.1,541.3 1039.6,532.7 1044.1,530.3 1047.1,529.2 1057.6,531 1063.6,530.3 1081.2,527.5 1094.3,523.1 1096.6,524 1101.1,526.8 1102.6,527 1107.1,525.3 1114,521.6 1120.6,514.3 1123.2,512.2 1133.7,515.7 1156.6,514.2 1180.8,510.8 1188.7,512.2 1191.1,516.6 1194.1,523.7 1196,526.7 1200.1,525.2 1205.7,522 1207.6,518.3 1213.6,501.9 1216.2,497.3 1219.6,498 1224,499.5 1230.1,504.3 1233.3,506.1 1256.9,506.7 1266.1,508.6 1270.6,508.3 1275.2,506.9 1276.6,507.2 1279.6,509 1287.1,515.8 1291,518.4 1301.5,516.7 1310.6,511.2 1312.6,512 1317.1,515.3 1319.8,516.3 1327.7,512.2 1330.6,512.1 1336.6,512.9 1340,513.6 1341.1,514.2 1345.6,517.2 1351.6,522 1355.7,524.4 1384.6,525 1401.1,523.9 1407.1,523.1 1414.6,521.1 1480,500.6 1498.6,495.4 1507.8,492.1 1513.6,487.7 1524.1,477.7 1528.8,473.7 1543.6,464.1 1548.1,461.7 1552.6,459.9 1557.1,459 1560.1,459.5 1565.5,461.1 1569.1,463.5 1579.6,472.7 1581.1,473.6 1583.8,474.5 1587.1,472.3 1591.6,467.6 1594.3,465.3 1600.6,462.3 1606.1,460.5 1608.1,462.9 1611.1,467.3 1632.1,503.4 1639.6,513.9 1651.6,528.6 1678.6,559.1 1684.6,565.5 1689.1,569.7 1693.6,573.1 1696.6,574.8 1711.6,577.5 1714.6,579.4 1720.6,584.4 1729.6,593.9 1732.6,596.2 1747.6,600.3 1752.1,603.1 1761.1,610.3 1765.6,613.3 1774.6,617.7 1798.6,628 1804.1,630.8 1807.6,634 1814.6,641.9 1825.6,656 1827.7,658.1 1830.1,659.7 1832.9,661 1834.6,660.5 1837.6,658.8 1840,656.7" stroke="#9C3432"/>
<polyline class="b" filter="url(#softer)" points="346.6,1011 349,1007.8 351.1,1006.5 353,1005.8 367.6,1006.5 371,1006.3 373.6,1005.5 388.6,998.7 408.1,990.8 417.1,986.4 429.1,979.8 435.1,975.4 440,970.6 450,956.2 454.6,951.5 459.1,948.3 469.6,941.9 487.6,928 495.1,923.5 511.6,914.7 529,903.5 550.6,893.2 585.1,871 590.4,868.6 601.6,865.5 604.6,864.3 607.6,861.4 618.1,849.8 623.3,845.1 640.6,835.6 646.6,831.3 660.1,820.7 676.6,809.5 683.5,805.8 694.6,801.3 697.6,798.2 708.1,783.2 711.1,779.9 723,775.3 726.1,773.4 730.6,769.3 741.1,758.5 744.1,756.2 753.1,750.6 757.6,747.1 765.1,740.3 771.3,734 775.6,728.4 786.1,713 795.1,701.9 804.3,691.4 814.6,681.8 817.6,678.7 822.1,672.2 834.1,651.8 837.1,647.4 849.1,635.1 863.6,615.2 876.7,600.3 883.6,590.9 887.7,586.3 894.1,581.5 898.6,578.9 900.1,578.4 905.5,578.4 907.6,577.4 912.1,574 921.1,565.8 924.1,563.6 926.5,562.4 930.1,562.8 943.6,565.5 944.9,565.6 948.1,564.1 955.6,558.8 973.6,543 978.1,540 981.6,538.3 987.1,538.6 993.1,539.6 999.1,542.3 1012.6,550 1015.6,551.2 1019.6,552.3 1026.1,549.5 1039.6,541 1044.1,538.7 1047.1,537.7 1057.6,539.5 1063.6,538.8 1081.2,536.1 1094.3,531.7 1096.6,532.6 1101.1,535.3 1102.6,535.6 1107.1,533.9 1114,530.2 1120.6,523 1123.2,521 1133.7,524.5 1156.6,523 1180.8,519.6 1188.7,521 1191.1,525.4 1194.1,532.4 1196,535.3 1200.1,533.9 1205.7,530.7 1207.6,527.1 1213.6,510.9 1216.2,506.3 1219.6,507.1 1224,508.6 1230.1,513.3 1233.3,515.1 1256.9,515.7 1267.6,517.9 1275.2,517.9 1278.1,519.9 1287.1,530.3 1291,533.4 1301.5,532.3 1310.6,528 1312.6,529 1317.1,533.1 1319.8,534.7 1327.7,532.3 1330.6,532.9 1340,537 1344.1,540.5 1351.6,548 1355.7,550.9 1380.1,553 1384.6,553.2 1395.1,552.7 1405.5,552 1413.1,550.7 1480,535.6 1498.6,531.8 1507.6,529.5 1513.6,526.3 1524.1,519.1 1528.8,516.2 1543.6,509.3 1552.6,506.3 1556.3,505.6 1558.6,505.8 1565.5,507.7 1569.1,509.9 1579.6,518.7 1583.8,520.4 1587.1,518.3 1591.6,514 1594.3,511.8 1600.6,509.1 1606.1,507.5 1608.1,508.9 1611.1,511.8 1620.1,522.6 1632.1,538 1638.1,544 1648.6,553.1 1668.1,568.2 1680.1,578.2 1689.1,584.5 1693.6,586.7 1696.6,587.7 1710.1,586.8 1713.1,587.4 1720.6,591.8 1729.6,599.4 1732.6,601.2 1735.6,601.7 1746.4,602.3 1747.6,602.6 1752.1,604.7 1764.7,612.4 1773.1,615.4 1797.1,622.7 1803.1,624.9 1806.1,626.8 1810.6,631.1 1816.6,637.6 1824.1,646.8 1827.7,650.3 1831.6,652.3 1833.1,652.6 1836.1,651.4 1840,648.2" stroke="#B2A1CC"/>
<polyline class="c" points="346.6,1011 349,1007.8 351.1,1006.5 353,1005.8 367.6,1006.5 371,1006.3 373.6,1005.5 388.6,998.7 408.1,990.8 417.1,986.4 429.1,979.8 435.1,975.4 440,970.6 450,956.2 454.6,951.5 459.1,948.3 469.6,941.9 487.6,928 495.1,923.5 511.6,914.7 529,903.5 550.6,893.2 585.1,871 590.4,868.6 601.6,865.5 604.6,864.3 607.6,861.4 618.1,849.8 623.3,845.1 640.6,835.6 646.6,831.3 660.1,820.7 676.6,809.5 683.5,805.8 694.6,801.3 697.6,798.2 708.1,783.2 711.1,779.9 723,775.3 726.1,773.4 730.6,769.3 741.1,758.5 744.1,756.2 753.1,750.6 757.6,747.1 765.1,740.3 771.3,734 775.6,728.4 786.1,713 795.1,701.9 804.3,691.4 814.6,681.8 817.6,678.7 822.1,672.2 834.1,651.8 837.1,647.4 849.1,635.1 863.6,615.2 876.7,600.3 883.6,590.9 887.7,586.3 894.1,581.5 898.6,578.9 900.1,578.4 905.5,578.4 907.6,577.4 912.1,574 921.1,565.8 924.1,563.6 926.5,562.4 930.1,562.8 943.6,565.5 944.9,565.6 948.1,564.1 955.6,558.8 973.6,543 978.1,540 981.6,538.3 987.1,538.6 993.1,539.6 999.1,542.3 1012.6,550 1015.6,551.2 1019.6,552.3 1026.1,549.5 1039.6,541 1044.1,538.7 1047.1,537.7 1057.6,539.5 1063.6,538.8 1081.2,536.1 1094.3,531.7 1096.6,532.6 1101.1,535.3 1102.6,535.6 1107.1,533.9 1114,530.2 1120.6,523 1123.2,521 1133.7,524.5 1156.6,523 1180.8,519.6 1188.7,521 1191.1,525.4 1194.1,532.4 1196,535.3 1200.1,533.9 1205.7,530.7 1207.6,527.1 1213.6,510.9 1216.2,506.3 1219.6,507.1 1224,508.6 1230.1,513.3 1233.3,515.1 1256.9,515.7 1267.6,517.9 1275.2,517.9 1278.1,519.9 1287.1,530.3 1291,533.4 1301.5,532.3 1310.6,528 1312.6,529 1317.1,533.1 1319.8,534.7 1327.7,532.3 1330.6,532.9 1340,537 1344.1,540.5 1351.6,548 1355.7,550.9 1380.1,553 1384.6,553.2 1395.1,552.7 1405.5,552 1413.1,550.7 1480,535.6 1498.6,531.8 1507.6,529.5 1513.6,526.3 1524.1,519.1 1528.8,516.2 1543.6,509.3 1552.6,506.3 1556.3,505.6 1558.6,505.8 1565.5,507.7 1569.1,509.9 1579.6,518.7 1583.8,520.4 1587.1,518.3 1591.6,514 1594.3,511.8 1600.6,509.1 1606.1,507.5 1608.1,508.9 1611.1,511.8 1620.1,522.6 1632.1,538 1638.1,544 1648.6,553.1 1668.1,568.2 1680.1,578.2 1689.1,584.5 1693.6,586.7 1696.6,587.7 1710.1,586.8 1713.1,587.4 1720.6,591.8 1729.6,599.4 1732.6,601.2 1735.6,601.7 1746.4,602.3 1747.6,602.6 1752.1,604.7 1764.7,612.4 1773.1,615.4 1797.1,622.7 1803.1,624.9 1806.1,626.8 1810.6,631.1 1816.6,637.6 1824.1,646.8 1827.7,650.3 1831.6,652.3 1833.1,652.6 1836.1,651.4 1840,648.2" stroke="#B2A1CC"/>
<polyline class="b" filter="url(#softer)" points="346.6,1013 349,1009.9 351.1,1008.6 353,1007.9 367.6,1008.7 371,1008.5 373.6,1007.8 388.6,1001.1 408.1,993.5 417.1,989.2 429.1,982.8 435.1,978.6 440,973.9 450,959.9 454.6,955.3 459.1,952.2 469.6,946 487.6,932.5 495.1,928.2 511.6,919.7 529,908.7 550.6,898.9 585.1,877.3 590.4,875 601.6,872 604.6,870.9 606.1,869.6 618.1,856.7 623.3,852.2 640.6,843 646.6,838.8 660.1,828.5 676.6,817.7 683.5,814.1 694.6,809.8 697.6,806.8 708.1,792.1 711.1,789 723,784.5 726.1,782.7 730.6,778.8 741.1,768.2 744.1,766 753.1,760.6 757.6,757.2 765.1,750.7 771.3,744.5 775.6,739.1 786.1,724.2 795.1,713.4 804.3,703.3 817.6,690.9 822.1,684.6 834.1,664.9 837.1,660.5 849.1,648.7 863.6,629.4 876.7,614.9 886.6,602.3 892.6,597.7 898.6,594.2 900.1,593.7 905.5,593.7 907.6,592.8 910.6,590.7 919.6,582.7 924.1,579.4 926.5,578.2 927.1,578.3 931.6,578.9 942.1,581.1 944.9,581.4 946.6,580.7 951.1,578.1 955.6,574.8 973.6,559.4 978.1,556.5 981.6,554.9 987.1,555.2 993.1,556.2 999.1,558.9 1012.6,566.4 1015.6,567.6 1019.6,568.7 1026.1,566 1039.6,557.8 1044.1,555.6 1047.1,554.5 1057.6,556.3 1063.6,555.7 1081.2,553.1 1094.3,548.9 1096.6,549.8 1101.1,552.5 1102.6,552.7 1107.1,551.1 1114,547.5 1120.6,540.5 1123.2,538.6 1133.7,542 1156.6,540.6 1180.6,537.4 1185.1,537.9 1188.7,538.8 1191.1,543 1194.1,549.9 1196,552.7 1200.1,551.3 1205.7,548.3 1207.6,544.7 1213.6,529 1216.2,524.5 1219.6,525.2 1224,526.7 1230.1,531.3 1233.3,533.1 1243.6,533.4 1252.6,534.9 1258.6,536.8 1266.1,540.9 1270.6,544.8 1275.2,549.7 1278.1,555.2 1287.1,575.3 1288.6,577.8 1291,580.8 1301.5,582.5 1308.1,581.3 1310.6,581.3 1312.6,583.2 1317.1,589.4 1319.8,592.5 1327.7,595.2 1332.1,599.5 1340,609 1350.1,625.2 1353.1,629.1 1355.7,631.7 1363.6,634.6 1372.6,636.8 1384.6,638.9 1396.6,639.1 1407.1,638.5 1500.1,623.8 1507.8,622.3 1510.6,621.3 1527.1,613.4 1537.6,609.6 1546.6,606.8 1554.1,605.2 1558.6,605.2 1566.1,607.2 1569.1,608.9 1578.1,615.7 1581.1,617.3 1583.8,618.1 1587.1,616.4 1594.3,611 1600.6,608.8 1606.1,607.5 1611.1,615.3 1632.1,653.2 1641.1,666.7 1654.6,684.5 1675.6,710.2 1684.6,720.6 1690.6,726.6 1696.6,731.4 1711,737.4 1713.1,738.8 1720.6,745.3 1729.6,754.6 1733.3,757.6 1746.4,763 1750.6,765.7 1761.1,774 1765.6,777.1 1777.6,783.7 1804.1,797.2 1807.6,800.1 1814.6,807 1825.6,818.9 1830.1,822.3 1833.1,823.7 1836.1,822.9 1840,820.6" stroke="#A5D6E2"/>
<polyline class="c" points="346.6,1013 349,1009.9 351.1,1008.6 353,1007.9 367.6,1008.7 371,1008.5 373.6,1007.8 388.6,1001.1 408.1,993.5 417.1,989.2 429.1,982.8 435.1,978.6 440,973.9 450,959.9 454.6,955.3 459.1,952.2 469.6,946 487.6,932.5 495.1,928.2 511.6,919.7 529,908.7 550.6,898.9 585.1,877.3 590.4,875 601.6,872 604.6,870.9 606.1,869.6 618.1,856.7 623.3,852.2 640.6,843 646.6,838.8 660.1,828.5 676.6,817.7 683.5,814.1 694.6,809.8 697.6,806.8 708.1,792.1 711.1,789 723,784.5 726.1,782.7 730.6,778.8 741.1,768.2 744.1,766 753.1,760.6 757.6,757.2 765.1,750.7 771.3,744.5 775.6,739.1 786.1,724.2 795.1,713.4 804.3,703.3 817.6,690.9 822.1,684.6 834.1,664.9 837.1,660.5 849.1,648.7 863.6,629.4 876.7,614.9 886.6,602.3 892.6,597.7 898.6,594.2 900.1,593.7 905.5,593.7 907.6,592.8 910.6,590.7 919.6,582.7 924.1,579.4 926.5,578.2 927.1,578.3 931.6,578.9 942.1,581.1 944.9,581.4 946.6,580.7 951.1,578.1 955.6,574.8 973.6,559.4 978.1,556.5 981.6,554.9 987.1,555.2 993.1,556.2 999.1,558.9 1012.6,566.4 1015.6,567.6 1019.6,568.7 1026.1,566 1039.6,557.8 1044.1,555.6 1047.1,554.5 1057.6,556.3 1063.6,555.7 1081.2,553.1 1094.3,548.9 1096.6,549.8 1101.1,552.5 1102.6,552.7 1107.1,551.1 1114,547.5 1120.6,540.5 1123.2,538.6 1133.7,542 1156.6,540.6 1180.6,537.4 1185.1,537.9 1188.7,538.8 1191.1,543 1194.1,549.9 1196,552.7 1200.1,551.3 1205.7,548.3 1207.6,544.7 1213.6,529 1216.2,524.5 1219.6,525.2 1224,526.7 1230.1,531.3 1233.3,533.1 1243.6,533.4 1252.6,534.9 1258.6,536.8 1266.1,540.9 1270.6,544.8 1275.2,549.7 1278.1,555.2 1287.1,575.3 1288.6,577.8 1291,580.8 1301.5,582.5 1308.1,581.3 1310.6,581.3 1312.6,583.2 1317.1,589.4 1319.8,592.5 1327.7,595.2 1332.1,599.5 1340,609 1350.1,625.2 1353.1,629.1 1355.7,631.7 1363.6,634.6 1372.6,636.8 1384.6,638.9 1396.6,639.1 1407.1,638.5 1500.1,623.8 1507.8,622.3 1510.6,621.3 1527.1,613.4 1537.6,609.6 1546.6,606.8 1554.1,605.2 1558.6,605.2 1566.1,607.2 1569.1,608.9 1578.1,615.7 1581.1,617.3 1583.8,618.1 1587.1,616.4 1594.3,611 1600.6,608.8 1606.1,607.5 1611.1,615.3 1632.1,653.2 1641.1,666.7 1654.6,684.5 1675.6,710.2 1684.6,720.6 1690.6,726.6 1696.6,731.4 1711,737.4 1713.1,738.8 1720.6,745.3 1729.6,754.6 1733.3,757.6 1746.4,763 1750.6,765.7 1761.1,774 1765.6,777.1 1777.6,783.7 1804.1,797.2 1807.6,800.1 1814.6,807 1825.6,818.9 1830.1,822.3 1833.1,823.7 1836.1,822.9 1840,820.6" stroke="#A5D6E2"/>
<polyline class="b" filter="url(#softer)" points="346.6,1015 349,1011.9 351.1,1010.6 353,1009.9 367.6,1010.7 371,1010.5 373.6,1009.8 388.6,1003.2 408.1,995.7 417.1,991.4 429.1,985.1 435.1,980.9 440,976.3 450,962.4 454.6,957.8 459.1,954.8 469.6,948.6 487.6,935.2 495.1,930.9 511.6,922.5 529,911.7 550.6,901.9 585.1,880.5 590.4,878.2 601.6,875.3 604.6,874.1 606.1,872.9 618.1,860.1 623.3,855.6 640.6,846.5 646.6,842.4 660.1,832.2 676.6,821.5 683.5,817.9 694.6,813.6 697.6,810.6 708.1,796.1 711.1,793 723,788.6 726.1,786.8 730.6,782.8 741.1,772.4 744.1,770.2 753.1,764.8 757.6,761.5 765.1,755 771.3,748.9 775.6,743.6 786.1,728.8 795.1,718 804.3,708 817.6,695.8 822.1,689.6 834.1,670 837.1,665.7 849.1,653.9 863.6,634.8 876.7,620.4 886.6,608 892.6,603.4 898.6,599.9 900.1,599.4 905.5,599.5 907.6,598.5 910.6,596.5 919.6,588.6 924.1,585.3 926.5,584.1 927.1,584.2 931.6,584.8 942.1,587 944.9,587.3 946.6,586.6 951.1,584.1 955.6,580.8 973.6,565.6 978.1,562.7 981.6,561.1 987.1,561.5 993.1,562.4 999.1,565.1 1012.6,572.5 1015.6,573.8 1019.6,574.9 1026.1,572.2 1039.6,564.1 1044.1,561.9 1047.1,560.8 1057.6,562.6 1063.6,562 1081.2,559.5 1094.3,555.3 1096.6,556.2 1101.1,558.9 1102.6,559.1 1107.1,557.5 1114,554 1120.6,547.1 1123.2,545.2 1133.7,548.5 1156.6,547.2 1180.6,544.1 1185.1,544.6 1188.7,545.4 1191.1,549.6 1194.1,556.4 1196,559.3 1200.1,557.9 1205.7,554.8 1207.6,551.3 1213.6,535.8 1216.2,531.3 1219.6,532 1224,533.5 1230.1,538 1233.3,539.8 1243.6,540.2 1248.1,541.1 1254.1,543.2 1256.9,544.4 1260.1,546.3 1264.6,549.6 1266.1,551.3 1267.6,553.5 1270.6,559.2 1275.2,570.6 1285.6,608.6 1288.6,617.3 1291,621.9 1293.1,622.9 1294.6,623.2 1297.6,623.4 1301.5,623.3 1310.6,619.2 1312.6,620.2 1317.1,624.2 1319.8,625.8 1327.7,623.6 1330.6,624.3 1340,628.4 1344.1,631.8 1351.6,639.1 1355.7,642 1371.1,643.5 1384.6,644.3 1405.5,643.2 1416.1,641.1 1464.1,629.4 1497.1,620.9 1507.8,617.6 1513.6,614 1524.1,605.9 1528.8,602.7 1545.1,594.3 1549.6,592.6 1554.1,591.4 1556.3,591 1558.6,591.2 1566.1,593.3 1569.1,595.1 1578.1,602 1581.1,603.8 1583.8,604.6 1587.1,602.9 1594.3,597.4 1600.6,595.2 1606.1,593.9 1611.1,603 1632.1,646.5 1641.1,662.1 1654.6,682.8 1674.1,710.3 1683.1,722.5 1690.6,731.3 1696.6,737 1711,745.1 1713.1,746.8 1720.6,754.3 1729.6,764.6 1733.3,768 1747.6,775.7 1752.1,779.2 1762.6,788.4 1770.1,793.7 1804.1,813.8 1807.6,816.9 1814.6,824.1 1824.1,835 1827.7,838.5 1831.6,841.1 1833.1,841.7 1836.1,840.9 1840,838.8" stroke="#B2A1CC"/>
<polyline class="c" points="346.6,1015 349,1011.9 351.1,1010.6 353,1009.9 367.6,1010.7 371,1010.5 373.6,1009.8 388.6,1003.2 408.1,995.7 417.1,991.4 429.1,985.1 435.1,980.9 440,976.3 450,962.4 454.6,957.8 459.1,954.8 469.6,948.6 487.6,935.2 495.1,930.9 511.6,922.5 529,911.7 550.6,901.9 585.1,880.5 590.4,878.2 601.6,875.3 604.6,874.1 606.1,872.9 618.1,860.1 623.3,855.6 640.6,846.5 646.6,842.4 660.1,832.2 676.6,821.5 683.5,817.9 694.6,813.6 697.6,810.6 708.1,796.1 711.1,793 723,788.6 726.1,786.8 730.6,782.8 741.1,772.4 744.1,770.2 753.1,764.8 757.6,761.5 765.1,755 771.3,748.9 775.6,743.6 786.1,728.8 795.1,718 804.3,708 817.6,695.8 822.1,689.6 834.1,670 837.1,665.7 849.1,653.9 863.6,634.8 876.7,620.4 886.6,608 892.6,603.4 898.6,599.9 900.1,599.4 905.5,599.5 907.6,598.5 910.6,596.5 919.6,588.6 924.1,585.3 926.5,584.1 927.1,584.2 931.6,584.8 942.1,587 944.9,587.3 946.6,586.6 951.1,584.1 955.6,580.8 973.6,565.6 978.1,562.7 981.6,561.1 987.1,561.5 993.1,562.4 999.1,565.1 1012.6,572.5 1015.6,573.8 1019.6,574.9 1026.1,572.2 1039.6,564.1 1044.1,561.9 1047.1,560.8 1057.6,562.6 1063.6,562 1081.2,559.5 1094.3,555.3 1096.6,556.2 1101.1,558.9 1102.6,559.1 1107.1,557.5 1114,554 1120.6,547.1 1123.2,545.2 1133.7,548.5 1156.6,547.2 1180.6,544.1 1185.1,544.6 1188.7,545.4 1191.1,549.6 1194.1,556.4 1196,559.3 1200.1,557.9 1205.7,554.8 1207.6,551.3 1213.6,535.8 1216.2,531.3 1219.6,532 1224,533.5 1230.1,538 1233.3,539.8 1243.6,540.2 1248.1,541.1 1254.1,543.2 1256.9,544.4 1260.1,546.3 1264.6,549.6 1266.1,551.3 1267.6,553.5 1270.6,559.2 1275.2,570.6 1285.6,608.6 1288.6,617.3 1291,621.9 1293.1,622.9 1294.6,623.2 1297.6,623.4 1301.5,623.3 1310.6,619.2 1312.6,620.2 1317.1,624.2 1319.8,625.8 1327.7,623.6 1330.6,624.3 1340,628.4 1344.1,631.8 1351.6,639.1 1355.7,642 1371.1,643.5 1384.6,644.3 1405.5,643.2 1416.1,641.1 1464.1,629.4 1497.1,620.9 1507.8,617.6 1513.6,614 1524.1,605.9 1528.8,602.7 1545.1,594.3 1549.6,592.6 1554.1,591.4 1556.3,591 1558.6,591.2 1566.1,593.3 1569.1,595.1 1578.1,602 1581.1,603.8 1583.8,604.6 1587.1,602.9 1594.3,597.4 1600.6,595.2 1606.1,593.9 1611.1,603 1632.1,646.5 1641.1,662.1 1654.6,682.8 1674.1,710.3 1683.1,722.5 1690.6,731.3 1696.6,737 1711,745.1 1713.1,746.8 1720.6,754.3 1729.6,764.6 1733.3,768 1747.6,775.7 1752.1,779.2 1762.6,788.4 1770.1,793.7 1804.1,813.8 1807.6,816.9 1814.6,824.1 1824.1,835 1827.7,838.5 1831.6,841.1 1833.1,841.7 1836.1,840.9 1840,838.8" stroke="#B2A1CC"/>
<polyline class="b" filter="url(#softer)" points="346.6,1017 349,1013.9 351.1,1012.7 353,1012 367.6,1012.7 371,1012.6 373.6,1011.9 388.6,1005.3 408.1,997.9 417.1,993.7 429.1,987.4 435.1,983.3 440,978.7 450,965 454.6,960.5 459.1,957.4 469.6,951.3 487.6,938.1 495.1,933.9 511.6,925.6 529,914.8 550.6,905.2 585.1,884 590.4,881.8 601.6,878.8 604.6,877.7 606.1,876.5 618.1,863.9 623.3,859.4 640.6,850.5 646.6,846.4 660.1,836.2 676.6,825.7 683.5,822.1 694.6,817.9 697.6,814.9 708.1,800.6 711.1,797.5 723,793.1 726.1,791.3 730.6,787.5 741.1,777.1 744.1,775 753.1,769.7 757.6,766.4 765.1,760 771.3,753.9 775.6,748.6 786.1,734 795.1,723.4 804.3,713.5 817.6,701.4 822.1,695.3 834.1,675.9 837.1,671.6 849.1,660 863.6,641.1 876.7,626.9 883.6,618 887.7,613.6 894.1,609.1 898.6,606.6 900.1,606.1 905.5,606.2 907.6,605.2 912.1,602.1 921.1,594.3 924.1,592.2 926.5,591.1 930.1,591.4 943.6,594.1 944.9,594.2 948.1,592.8 955.6,587.8 973.6,572.8 978.1,569.9 981.6,568.4 987.1,568.7 993.1,569.7 999.1,572.3 1012.6,579.7 1015.6,581 1019.6,582.1 1026.1,579.4 1039.6,571.4 1044.1,569.2 1047.1,568.2 1057.6,570 1063.6,569.4 1081.2,566.9 1094.3,562.8 1096.6,563.7 1101.1,566.4 1102.6,566.6 1107.1,565 1114,561.6 1120.6,554.8 1123.2,552.9 1133.7,556.2 1156.6,554.9 1180.8,551.8 1188.7,553.2 1191.1,557.3 1194.1,564.1 1196,566.9 1200.1,565.5 1205.7,562.5 1207.6,559 1213.6,543.7 1216.2,539.3 1219.6,540 1224,541.4 1230.1,545.9 1233.3,547.7 1256.9,548.3 1266.1,550 1270.6,549.3 1275.2,547.3 1276.6,547.3 1279.6,548.5 1287.1,553.7 1291,555.8 1297.6,554.9 1301.5,554 1310.6,548.5 1312.6,549.1 1317.1,551.8 1319.8,552.7 1327.7,548.1 1332.1,547.7 1340,548.2 1341.1,548.6 1345.6,551 1353.1,556 1355.7,557.2 1384.6,557 1405.5,555.6 1416.1,554 1458.1,545.8 1494.1,537.5 1504.6,534.7 1507.8,533.7 1512.1,531.6 1528.8,521.3 1543.6,514.9 1552.6,512.2 1557.1,511.7 1560.1,512.2 1565.5,514 1569.1,516.3 1579.6,525.3 1583.8,527.1 1587.1,525.2 1591.6,521.1 1594.3,519.1 1600.6,516.7 1606.1,515.3 1609.6,517.6 1612.6,520.5 1620.1,528.5 1630.6,540.9 1636.6,546.6 1648.6,555.6 1668.1,568.7 1681.6,578.5 1687.6,582.2 1692.1,584.3 1696.6,585.5 1710.1,583.4 1713.1,583.7 1720.6,587.5 1729.6,594.4 1732.6,595.9 1735.6,596.1 1746.4,595.9 1747.6,596.1 1752.1,597.9 1764.7,604.7 1773.1,607.1 1797.1,612.7 1803.1,614.5 1806.1,616.2 1810.6,620.3 1816.6,626.4 1824.1,635.3 1827.7,638.6 1830.1,639.8 1832.9,640.6 1836.1,639.4 1840,636.1" stroke="#DBA5A1"/>
<polyline class="c" points="346.6,1017 349,1013.9 351.1,1012.7 353,1012 367.6,1012.7 371,1012.6 373.6,1011.9 388.6,1005.3 408.1,997.9 417.1,993.7 429.1,987.4 435.1,983.3 440,978.7 450,965 454.6,960.5 459.1,957.4 469.6,951.3 487.6,938.1 495.1,933.9 511.6,925.6 529,914.8 550.6,905.2 585.1,884 590.4,881.8 601.6,878.8 604.6,877.7 606.1,876.5 618.1,863.9 623.3,859.4 640.6,850.5 646.6,846.4 660.1,836.2 676.6,825.7 683.5,822.1 694.6,817.9 697.6,814.9 708.1,800.6 711.1,797.5 723,793.1 726.1,791.3 730.6,787.5 741.1,777.1 744.1,775 753.1,769.7 757.6,766.4 765.1,760 771.3,753.9 775.6,748.6 786.1,734 795.1,723.4 804.3,713.5 817.6,701.4 822.1,695.3 834.1,675.9 837.1,671.6 849.1,660 863.6,641.1 876.7,626.9 883.6,618 887.7,613.6 894.1,609.1 898.6,606.6 900.1,606.1 905.5,606.2 907.6,605.2 912.1,602.1 921.1,594.3 924.1,592.2 926.5,591.1 930.1,591.4 943.6,594.1 944.9,594.2 948.1,592.8 955.6,587.8 973.6,572.8 978.1,569.9 981.6,568.4 987.1,568.7 993.1,569.7 999.1,572.3 1012.6,579.7 1015.6,581 1019.6,582.1 1026.1,579.4 1039.6,571.4 1044.1,569.2 1047.1,568.2 1057.6,570 1063.6,569.4 1081.2,566.9 1094.3,562.8 1096.6,563.7 1101.1,566.4 1102.6,566.6 1107.1,565 1114,561.6 1120.6,554.8 1123.2,552.9 1133.7,556.2 1156.6,554.9 1180.8,551.8 1188.7,553.2 1191.1,557.3 1194.1,564.1 1196,566.9 1200.1,565.5 1205.7,562.5 1207.6,559 1213.6,543.7 1216.2,539.3 1219.6,540 1224,541.4 1230.1,545.9 1233.3,547.7 1256.9,548.3 1266.1,550 1270.6,549.3 1275.2,547.3 1276.6,547.3 1279.6,548.5 1287.1,553.7 1291,555.8 1297.6,554.9 1301.5,554 1310.6,548.5 1312.6,549.1 1317.1,551.8 1319.8,552.7 1327.7,548.1 1332.1,547.7 1340,548.2 1341.1,548.6 1345.6,551 1353.1,556 1355.7,557.2 1384.6,557 1405.5,555.6 1416.1,554 1458.1,545.8 1494.1,537.5 1504.6,534.7 1507.8,533.7 1512.1,531.6 1528.8,521.3 1543.6,514.9 1552.6,512.2 1557.1,511.7 1560.1,512.2 1565.5,514 1569.1,516.3 1579.6,525.3 1583.8,527.1 1587.1,525.2 1591.6,521.1 1594.3,519.1 1600.6,516.7 1606.1,515.3 1609.6,517.6 1612.6,520.5 1620.1,528.5 1630.6,540.9 1636.6,546.6 1648.6,555.6 1668.1,568.7 1681.6,578.5 1687.6,582.2 1692.1,584.3 1696.6,585.5 1710.1,583.4 1713.1,583.7 1720.6,587.5 1729.6,594.4 1732.6,595.9 1735.6,596.1 1746.4,595.9 1747.6,596.1 1752.1,597.9 1764.7,604.7 1773.1,607.1 1797.1,612.7 1803.1,614.5 1806.1,616.2 1810.6,620.3 1816.6,626.4 1824.1,635.3 1827.7,638.6 1830.1,639.8 1832.9,640.6 1836.1,639.4 1840,636.1" stroke="#DBA5A1"/>
<polyline class="b" filter="url(#softer)" points="346.6,1019 349,1016 351.1,1014.7 353,1014.1 367.6,1014.8 371,1014.7 373.6,1014 388.6,1007.5 408.1,1000.2 417.1,996.1 429.1,989.9 435.1,985.8 440,981.3 450,967.8 454.6,963.3 459.1,960.4 469.6,954.4 487.6,941.4 495.1,937.2 511.6,929 529,918.4 550.6,908.9 585.1,888.1 590.4,885.9 601.6,883 604.6,881.9 606.1,880.7 618.1,868.3 623.3,863.9 640.6,855.1 660.1,841.1 676.6,830.6 683.5,827.2 694.6,823.1 697.6,820.1 708.1,806 711.1,802.9 723,798.7 726.1,796.9 730.6,793.1 741.1,782.9 744.1,780.8 753.1,775.6 757.6,772.3 765.1,766 771.3,760 775.6,754.9 786.1,740.4 795.1,730 804.3,720.3 817.6,708.3 822.1,702.3 834.1,683.2 837.1,679 849.1,667.6 863.6,649 876.7,635 883.6,626.2 887.7,621.9 894.1,617.4 898.6,615 900.1,614.5 905.5,614.7 907.6,613.7 912.1,610.6 921.1,602.9 924.1,600.9 926.5,599.8 930.1,600.2 943.6,602.8 944.9,602.9 948.1,601.5 955.6,596.6 973.6,581.8 978.1,579.1 981.6,577.5 987.1,577.9 993.1,578.8 999.1,581.4 1012.6,588.8 1015.6,590 1019.6,591.1 1026.1,588.5 1039.6,580.6 1044.1,578.5 1047.1,577.5 1057.6,579.3 1063.6,578.7 1081.2,576.3 1094.3,572.3 1096.6,573.2 1101.1,575.8 1102.6,576 1107.1,574.5 1114,571.1 1120.6,564.4 1123.2,562.5 1133.7,565.9 1156.6,564.6 1180.8,561.6 1188.7,563 1191.1,567 1194.1,573.7 1196,576.4 1200.1,575.1 1205.7,572.2 1207.6,568.7 1213.6,553.6 1215.1,550.7 1216.2,549.3 1216.6,549.3 1224,551.4 1230.1,555.8 1233.3,557.6 1256.9,558.2 1264.6,559.8 1267.6,561.9 1270.6,565.6 1275.2,573.4 1278.1,581.1 1285.6,603.5 1288.6,610.4 1291,613.9 1293.1,614.3 1301.5,613.2 1310.6,608.7 1312.6,609.6 1317.1,613.1 1319.8,614.4 1327.7,611.5 1332.1,612.1 1340,614.6 1344.1,617.4 1351.6,623.8 1355.7,626.3 1384.6,627.7 1405.5,626.4 1416.1,624.1 1458.1,612.1 1471.6,607.4 1492.6,599 1501.6,595.1 1507.8,591.9 1513.6,587.2 1524.1,576.7 1528.8,572.7 1543.6,562.9 1548.1,560.5 1552.6,558.8 1557.1,558.1 1560.1,558.6 1565.5,560.3 1569.1,562.5 1579.6,571 1583.8,572.7 1587.1,571 1591.6,567.2 1594.3,565.4 1600.6,563.2 1606.1,562 1608.1,563.7 1611.1,567.1 1620.1,579 1630.6,593.7 1633.7,597.6 1638.1,602.3 1645.6,609.7 1654.6,617.8 1681.6,641.4 1689.1,647 1693.6,649.6 1696.6,650.8 1711.6,651.7 1714.6,653.1 1720.6,657 1729.6,664.6 1732.6,666.4 1747.6,668.8 1752.1,670.9 1764.7,678.5 1774.6,682.2 1798.6,689.7 1804.1,691.8 1807.6,694.5 1814.6,701.1 1825.6,713 1827.7,714.8 1830.1,716.1 1832.9,717 1834.6,716.6 1837.6,715.1 1840,713.1" stroke="#2A5C96"/>
<polyline class="c" points="346.6,1019 349,1016 351.1,1014.7 353,1014.1 367.6,1014.8 371,1014.7 373.6,1014 388.6,1007.5 408.1,1000.2 417.1,996.1 429.1,989.9 435.1,985.8 440,981.3 450,967.8 454.6,963.3 459.1,960.4 469.6,954.4 487.6,941.4 495.1,937.2 511.6,929 529,918.4 550.6,908.9 585.1,888.1 590.4,885.9 601.6,883 604.6,881.9 606.1,880.7 618.1,868.3 623.3,863.9 640.6,855.1 660.1,841.1 676.6,830.6 683.5,827.2 694.6,823.1 697.6,820.1 708.1,806 711.1,802.9 723,798.7 726.1,796.9 730.6,793.1 741.1,782.9 744.1,780.8 753.1,775.6 757.6,772.3 765.1,766 771.3,760 775.6,754.9 786.1,740.4 795.1,730 804.3,720.3 817.6,708.3 822.1,702.3 834.1,683.2 837.1,679 849.1,667.6 863.6,649 876.7,635 883.6,626.2 887.7,621.9 894.1,617.4 898.6,615 900.1,614.5 905.5,614.7 907.6,613.7 912.1,610.6 921.1,602.9 924.1,600.9 926.5,599.8 930.1,600.2 943.6,602.8 944.9,602.9 948.1,601.5 955.6,596.6 973.6,581.8 978.1,579.1 981.6,577.5 987.1,577.9 993.1,578.8 999.1,581.4 1012.6,588.8 1015.6,590 1019.6,591.1 1026.1,588.5 1039.6,580.6 1044.1,578.5 1047.1,577.5 1057.6,579.3 1063.6,578.7 1081.2,576.3 1094.3,572.3 1096.6,573.2 1101.1,575.8 1102.6,576 1107.1,574.5 1114,571.1 1120.6,564.4 1123.2,562.5 1133.7,565.9 1156.6,564.6 1180.8,561.6 1188.7,563 1191.1,567 1194.1,573.7 1196,576.4 1200.1,575.1 1205.7,572.2 1207.6,568.7 1213.6,553.6 1215.1,550.7 1216.2,549.3 1216.6,549.3 1224,551.4 1230.1,555.8 1233.3,557.6 1256.9,558.2 1264.6,559.8 1267.6,561.9 1270.6,565.6 1275.2,573.4 1278.1,581.1 1285.6,603.5 1288.6,610.4 1291,613.9 1293.1,614.3 1301.5,613.2 1310.6,608.7 1312.6,609.6 1317.1,613.1 1319.8,614.4 1327.7,611.5 1332.1,612.1 1340,614.6 1344.1,617.4 1351.6,623.8 1355.7,626.3 1384.6,627.7 1405.5,626.4 1416.1,624.1 1458.1,612.1 1471.6,607.4 1492.6,599 1501.6,595.1 1507.8,591.9 1513.6,587.2 1524.1,576.7 1528.8,572.7 1543.6,562.9 1548.1,560.5 1552.6,558.8 1557.1,558.1 1560.1,558.6 1565.5,560.3 1569.1,562.5 1579.6,571 1583.8,572.7 1587.1,571 1591.6,567.2 1594.3,565.4 1600.6,563.2 1606.1,562 1608.1,563.7 1611.1,567.1 1620.1,579 1630.6,593.7 1633.7,597.6 1638.1,602.3 1645.6,609.7 1654.6,617.8 1681.6,641.4 1689.1,647 1693.6,649.6 1696.6,650.8 1711.6,651.7 1714.6,653.1 1720.6,657 1729.6,664.6 1732.6,666.4 1747.6,668.8 1752.1,670.9 1764.7,678.5 1774.6,682.2 1798.6,689.7 1804.1,691.8 1807.6,694.5 1814.6,701.1 1825.6,713 1827.7,714.8 1830.1,716.1 1832.9,717 1834.6,716.6 1837.6,715.1 1840,713.1" stroke="#2A5C96"/>
<polyline class="b" filter="url(#softer)" points="346.6,1013 349,1009.9 351.1,1008.7 353,1008 367.6,1009 371,1008.9 373.6,1008.2 388.6,1001.8 409.6,994.2 429.1,984.9 435.1,980.9 440,976.5 450,963 454.6,958.7 459.1,955.8 469.6,950.1 487.6,937.4 495.1,933.3 511.6,925.4 529,915.1 550.6,905.9 585.1,885.6 590.4,883.5 601.6,880.8 604.6,879.8 606.1,878.6 618.1,866.3 623.3,862 640.6,853.5 646.6,849.6 660.1,839.9 676.6,829.7 683.5,826.4 694.6,822.5 697.6,819.6 708.1,805.7 711.1,802.7 723,798.6 726.1,796.9 730.6,793.2 741.1,783.3 744.1,781.3 753.1,776.2 757.6,773.1 765.1,767 771.3,761.2 775.6,756.1 786.1,742 795.1,731.8 804.3,722.4 817.6,710.8 822.1,704.9 834.1,686.3 837.1,682.2 849.1,671.1 863.6,652.9 876.7,639.4 883.6,630.8 887.7,626.6 894.1,622.3 898.6,620 900.1,619.5 905.5,619.6 907.6,618.7 912.1,615.6 921.1,608 924.1,606 926.5,604.9 931.6,605.5 942.1,607.7 944.9,608 946.6,607.4 951.1,604.9 955.6,601.8 973.6,587.2 978.1,584.4 981.6,582.9 987.1,583.2 993.1,584.2 999.1,586.8 1012.6,594.1 1015.6,595.3 1019.6,596.4 1026.1,593.8 1039.6,586 1044.1,583.9 1047.1,583 1057.6,584.8 1063.6,584.2 1081.2,581.8 1094.3,577.9 1096.6,578.8 1101.1,581.4 1102.6,581.6 1107.1,580.1 1114,576.7 1120.6,570.1 1123.2,568.2 1133.7,571.5 1156.6,570.3 1180.8,567.4 1188.7,568.7 1191.1,572.8 1194.1,579.4 1196,582.1 1200.1,580.7 1205.7,577.8 1207.6,574.4 1213.6,559.4 1216.2,555.2 1219.6,555.9 1224,557.3 1230.1,561.7 1233.3,563.4 1256.9,564 1275.2,567.8 1279.6,572.2 1287.1,582.2 1291,585.6 1301.5,584.8 1310.6,581.3 1312.6,582.4 1317.1,586.5 1319.8,588.3 1327.7,586.9 1330.6,587.9 1340,592.8 1342.6,595.1 1351.6,604.3 1355.7,607.3 1368.1,608.9 1380.1,609.9 1384.6,610.2 1396.6,609.8 1405.5,609.3 1411.6,608.3 1452.1,599.5 1468.6,594.8 1492.6,586.5 1507.8,580.4 1512.1,577.6 1524.1,567.8 1528.8,564.5 1543.6,556.4 1548.1,554.5 1552.6,553.2 1557.1,552.6 1560.1,553.1 1565.5,554.9 1569.1,557.1 1579.6,565.7 1583.8,567.5 1587.1,565.8 1591.6,562 1594.3,560.1 1600.6,558 1606.1,556.8 1611.1,562.5 1632.1,593.5 1639.6,602.4 1651.6,614.9 1678.6,640.7 1684.6,646.1 1689.1,649.6 1693.6,652.5 1696.6,653.9 1711.6,655.7 1714.6,657.3 1720.6,661.5 1729.6,669.4 1732.6,671.4 1747.6,674.5 1752.1,676.8 1761.1,682.8 1765.6,685.2 1774.6,688.8 1798.6,697.1 1804.1,699.4 1807.6,702.1 1814.6,708.8 1825.6,720.9 1827.7,722.6 1830.1,724 1832.9,725 1834.6,724.6 1837.6,723.1 1840,721.2" stroke="#4A3769"/>
<polyline class="c" points="346.6,1013 349,1009.9 351.1,1008.7 353,1008 367.6,1009 371,1008.9 373.6,1008.2 388.6,1001.8 409.6,994.2 429.1,984.9 435.1,980.9 440,976.5 450,963 454.6,958.7 459.1,955.8 469.6,950.1 487.6,937.4 495.1,933.3 511.6,925.4 529,915.1 550.6,905.9 585.1,885.6 590.4,883.5 601.6,880.8 604.6,879.8 606.1,878.6 618.1,866.3 623.3,862 640.6,853.5 646.6,849.6 660.1,839.9 676.6,829.7 683.5,826.4 694.6,822.5 697.6,819.6 708.1,805.7 711.1,802.7 723,798.6 726.1,796.9 730.6,793.2 741.1,783.3 744.1,781.3 753.1,776.2 757.6,773.1 765.1,767 771.3,761.2 775.6,756.1 786.1,742 795.1,731.8 804.3,722.4 817.6,710.8 822.1,704.9 834.1,686.3 837.1,682.2 849.1,671.1 863.6,652.9 876.7,639.4 883.6,630.8 887.7,626.6 894.1,622.3 898.6,620 900.1,619.5 905.5,619.6 907.6,618.7 912.1,615.6 921.1,608 924.1,606 926.5,604.9 931.6,605.5 942.1,607.7 944.9,608 946.6,607.4 951.1,604.9 955.6,601.8 973.6,587.2 978.1,584.4 981.6,582.9 987.1,583.2 993.1,584.2 999.1,586.8 1012.6,594.1 1015.6,595.3 1019.6,596.4 1026.1,593.8 1039.6,586 1044.1,583.9 1047.1,583 1057.6,584.8 1063.6,584.2 1081.2,581.8 1094.3,577.9 1096.6,578.8 1101.1,581.4 1102.6,581.6 1107.1,580.1 1114,576.7 1120.6,570.1 1123.2,568.2 1133.7,571.5 1156.6,570.3 1180.8,567.4 1188.7,568.7 1191.1,572.8 1194.1,579.4 1196,582.1 1200.1,580.7 1205.7,577.8 1207.6,574.4 1213.6,559.4 1216.2,555.2 1219.6,555.9 1224,557.3 1230.1,561.7 1233.3,563.4 1256.9,564 1275.2,567.8 1279.6,572.2 1287.1,582.2 1291,585.6 1301.5,584.8 1310.6,581.3 1312.6,582.4 1317.1,586.5 1319.8,588.3 1327.7,586.9 1330.6,587.9 1340,592.8 1342.6,595.1 1351.6,604.3 1355.7,607.3 1368.1,608.9 1380.1,609.9 1384.6,610.2 1396.6,609.8 1405.5,609.3 1411.6,608.3 1452.1,599.5 1468.6,594.8 1492.6,586.5 1507.8,580.4 1512.1,577.6 1524.1,567.8 1528.8,564.5 1543.6,556.4 1548.1,554.5 1552.6,553.2 1557.1,552.6 1560.1,553.1 1565.5,554.9 1569.1,557.1 1579.6,565.7 1583.8,567.5 1587.1,565.8 1591.6,562 1594.3,560.1 1600.6,558 1606.1,556.8 1611.1,562.5 1632.1,593.5 1639.6,602.4 1651.6,614.9 1678.6,640.7 1684.6,646.1 1689.1,649.6 1693.6,652.5 1696.6,653.9 1711.6,655.7 1714.6,657.3 1720.6,661.5 1729.6,669.4 1732.6,671.4 1747.6,674.5 1752.1,676.8 1761.1,682.8 1765.6,685.2 1774.6,688.8 1798.6,697.1 1804.1,699.4 1807.6,702.1 1814.6,708.8 1825.6,720.9 1827.7,722.6 1830.1,724 1832.9,725 1834.6,724.6 1837.6,723.1 1840,721.2" stroke="#4A3769"/>
<polyline class="b" filter="url(#softer)" points="346.6,1021 349,1018 351.1,1016.8 353,1016.1 367.6,1016.9 371,1016.7 373.6,1016 388.6,1009.7 408.1,1002.5 417.1,998.4 429.1,992.3 435.1,988.3 440,983.9 450,970.5 454.6,966.1 459.1,963.2 469.6,957.3 487.6,944.5 495.1,940.3 511.6,932.3 529,921.9 550.6,912.5 585.1,892 590.4,889.8 601.6,887 604.6,885.9 606.1,884.7 618.1,872.5 623.3,868.1 640.6,859.4 660.1,845.6 676.6,835.4 683.5,831.9 694.6,827.9 697.6,825 708.1,811 711.1,808.1 723,803.8 726.1,802.1 730.6,798.3 741.1,788.3 744.1,786.2 753.1,781.1 757.6,777.9 765.1,771.7 771.3,765.8 775.6,760.7 786.1,746.5 795.1,736.2 804.3,726.6 817.6,714.8 822.1,708.9 834.1,690 837.1,685.9 849.1,674.7 863.6,656.3 876.7,642.5 883.6,633.9 887.7,629.6 894.1,625.2 898.6,622.8 900.1,622.4 905.5,622.5 907.6,621.6 912.1,618.5 921.1,610.9 924.1,608.9 926.5,607.8 930.1,608.2 943.6,610.9 944.9,611 948.1,609.6 955.6,604.8 973.6,590.3 978.1,587.5 981.6,586 987.1,586.4 993.1,587.3 999.1,589.9 1012.6,597.2 1015.6,598.4 1019.6,599.5 1026.1,596.9 1039.6,589.2 1044.1,587.1 1047.1,586.1 1057.6,587.9 1063.6,587.3 1081.2,585 1094.3,581.1 1096.6,582 1101.1,584.6 1102.6,584.8 1107.1,583.3 1114,579.9 1120.6,573.4 1123.2,571.5 1133.7,574.8 1156.6,573.6 1180.8,570.7 1188.7,572 1191.1,576.1 1194.1,582.6 1196,585.3 1200.1,584 1205.7,581.1 1207.6,577.7 1213.6,562.8 1215.1,560 1216.2,558.6 1216.6,558.6 1224,560.7 1230.1,565.1 1233.3,566.8 1245.1,567.1 1256.9,568.6 1263.1,570.7 1266.1,572.4 1267.6,574.1 1270.6,578.7 1275.2,588.1 1285.6,621.9 1288.6,629.6 1291,633.5 1293.1,634.1 1294.6,634.1 1301.5,633.6 1310.6,629.4 1312.6,630.3 1317.1,633.9 1319.8,635.3 1327.6,632.8 1329.1,633 1333.6,634.2 1340,636.6 1344.1,639.6 1351.6,646.2 1355.7,648.9 1377.1,650.4 1386.1,650.6 1410.1,649.2 1450.6,643.3 1470.1,639.5 1494.1,633.5 1507.8,629.4 1512.1,627.4 1528.8,618.3 1543.6,612.7 1552.6,610.4 1557.1,610.1 1560.1,610.6 1565.5,612.2 1569.1,614.2 1579.6,622.1 1583.8,623.8 1587.1,622.2 1594.3,617.1 1600.6,615.1 1606.1,614.1 1611.1,619.4 1632.1,647.9 1639.6,656.1 1656.1,671.6 1680.1,692.6 1689.1,699.5 1693.6,702.1 1696.6,703.4 1711.6,705.2 1714.6,706.6 1720.6,710.4 1729.6,717.8 1732.6,719.6 1747.6,722.4 1752.1,724.5 1761.1,730 1765.6,732.2 1774.6,735.5 1798.6,743.1 1804.1,745.1 1807.6,747.6 1814.6,753.7 1825.6,764.7 1827.7,766.4 1830.1,767.6 1832.9,768.5 1834.6,768.1 1837.6,766.8 1840,765" stroke="#C5DDAA"/>
<polyline class="c" points="346.6,1021 349,1018 351.1,1016.8 353,1016.1 367.6,1016.9 371,1016.7 373.6,1016 388.6,1009.7 408.1,1002.5 417.1,998.4 429.1,992.3 435.1,988.3 440,983.9 450,970.5 454.6,966.1 459.1,963.2 469.6,957.3 487.6,944.5 495.1,940.3 511.6,932.3 529,921.9 550.6,912.5 585.1,892 590.4,889.8 601.6,887 604.6,885.9 606.1,884.7 618.1,872.5 623.3,868.1 640.6,859.4 660.1,845.6 676.6,835.4 683.5,831.9 694.6,827.9 697.6,825 708.1,811 711.1,808.1 723,803.8 726.1,802.1 730.6,798.3 741.1,788.3 744.1,786.2 753.1,781.1 757.6,777.9 765.1,771.7 771.3,765.8 775.6,760.7 786.1,746.5 795.1,736.2 804.3,726.6 817.6,714.8 822.1,708.9 834.1,690 837.1,685.9 849.1,674.7 863.6,656.3 876.7,642.5 883.6,633.9 887.7,629.6 894.1,625.2 898.6,622.8 900.1,622.4 905.5,622.5 907.6,621.6 912.1,618.5 921.1,610.9 924.1,608.9 926.5,607.8 930.1,608.2 943.6,610.9 944.9,611 948.1,609.6 955.6,604.8 973.6,590.3 978.1,587.5 981.6,586 987.1,586.4 993.1,587.3 999.1,589.9 1012.6,597.2 1015.6,598.4 1019.6,599.5 1026.1,596.9 1039.6,589.2 1044.1,587.1 1047.1,586.1 1057.6,587.9 1063.6,587.3 1081.2,585 1094.3,581.1 1096.6,582 1101.1,584.6 1102.6,584.8 1107.1,583.3 1114,579.9 1120.6,573.4 1123.2,571.5 1133.7,574.8 1156.6,573.6 1180.8,570.7 1188.7,572 1191.1,576.1 1194.1,582.6 1196,585.3 1200.1,584 1205.7,581.1 1207.6,577.7 1213.6,562.8 1215.1,560 1216.2,558.6 1216.6,558.6 1224,560.7 1230.1,565.1 1233.3,566.8 1245.1,567.1 1256.9,568.6 1263.1,570.7 1266.1,572.4 1267.6,574.1 1270.6,578.7 1275.2,588.1 1285.6,621.9 1288.6,629.6 1291,633.5 1293.1,634.1 1294.6,634.1 1301.5,633.6 1310.6,629.4 1312.6,630.3 1317.1,633.9 1319.8,635.3 1327.6,632.8 1329.1,633 1333.6,634.2 1340,636.6 1344.1,639.6 1351.6,646.2 1355.7,648.9 1377.1,650.4 1386.1,650.6 1410.1,649.2 1450.6,643.3 1470.1,639.5 1494.1,633.5 1507.8,629.4 1512.1,627.4 1528.8,618.3 1543.6,612.7 1552.6,610.4 1557.1,610.1 1560.1,610.6 1565.5,612.2 1569.1,614.2 1579.6,622.1 1583.8,623.8 1587.1,622.2 1594.3,617.1 1600.6,615.1 1606.1,614.1 1611.1,619.4 1632.1,647.9 1639.6,656.1 1656.1,671.6 1680.1,692.6 1689.1,699.5 1693.6,702.1 1696.6,703.4 1711.6,705.2 1714.6,706.6 1720.6,710.4 1729.6,717.8 1732.6,719.6 1747.6,722.4 1752.1,724.5 1761.1,730 1765.6,732.2 1774.6,735.5 1798.6,743.1 1804.1,745.1 1807.6,747.6 1814.6,753.7 1825.6,764.7 1827.7,766.4 1830.1,767.6 1832.9,768.5 1834.6,768.1 1837.6,766.8 1840,765" stroke="#C5DDAA"/>
<polyline class="b" filter="url(#softer)" points="346.6,1023 349,1020 351.1,1018.8 353,1018.2 367.6,1018.9 371,1018.8 373.6,1018.1 388.6,1011.8 408.1,1004.6 417.1,1000.6 429.1,994.6 435.1,990.6 440,986.2 450,973 454.6,968.6 459.1,965.7 469.6,959.9 487.6,947.2 495.1,943.1 511.6,935.1 529,924.8 550.6,915.5 585.1,895.2 590.4,893 601.6,890.2 604.6,889.1 606.1,888 618.1,875.8 623.3,871.5 640.6,862.9 660.1,849.2 676.6,839.1 683.5,835.7 694.6,831.7 697.6,828.8 708.1,815 711.1,812 723,807.8 726.1,806.1 730.6,802.4 741.1,792.4 744.1,790.4 753.1,785.3 757.6,782.1 765.1,776 771.3,770.1 775.6,765.1 786.1,751 795.1,740.8 804.3,731.3 817.6,719.6 822.1,713.7 834.1,695.1 837.1,691 849.1,679.9 863.6,661.6 876.7,648 883.6,639.4 887.7,635.2 894.1,630.9 898.6,628.5 900.1,628 905.5,628.2 907.6,627.2 912.1,624.2 921.1,616.7 924.1,614.8 926.5,613.7 930.1,614.1 943.6,616.7 944.9,616.8 948.1,615.5 955.6,610.7 973.6,596.3 978.1,593.6 981.6,592.1 987.1,592.5 993.1,593.4 999.1,596 1012.6,603.2 1015.6,604.4 1019.6,605.5 1026.1,603 1039.6,595.4 1044.1,593.3 1047.1,592.4 1057.6,594.1 1063.6,593.6 1081.2,591.3 1094.3,587.4 1096.6,588.3 1101.1,590.9 1102.6,591.1 1107.1,589.6 1114,586.3 1120.6,579.8 1123.2,578 1133.7,581.3 1156.6,580.2 1180.8,577.2 1188.7,578.6 1191.1,582.6 1194.1,589.1 1196,591.8 1200.1,590.4 1205.7,587.6 1207.6,584.2 1213.6,569.5 1216.2,565.3 1219.6,566 1224,567.4 1230.1,571.7 1233.3,573.4 1256.9,574 1264.6,575.6 1267.6,577.4 1270.6,580.5 1275.2,587 1278.1,593.7 1285.6,613.5 1288.6,619.6 1291,622.8 1294.6,622.9 1301.5,622 1310.6,617.4 1312.6,618.3 1317.1,621.6 1319.8,622.8 1327.7,619.7 1330.6,620 1340,622.4 1344.1,625.1 1351.6,631.1 1355.7,633.5 1384.6,634.7 1405.5,633.5 1413.1,632.3 1450.6,623.9 1459.6,621.4 1470.1,617.7 1492.6,608.3 1507.8,600.8 1512.1,597.5 1524.1,586.8 1528.8,583.1 1543.6,574.2 1548.1,572.2 1552.6,570.7 1557.1,570.1 1560.1,570.7 1565.5,572.4 1569.1,574.6 1579.6,583.1 1583.8,584.8 1587.1,583.2 1591.6,579.5 1594.3,577.8 1600.6,575.8 1606.1,574.7 1611.1,582.7 1632.1,621.8 1641.1,635.6 1654.6,653.9 1675.6,679.9 1684.6,690.4 1690.6,696.4 1696.6,701.1 1711,706.5 1713.1,707.9 1720.6,714.3 1729.6,723.7 1733.3,726.5 1746.4,731.4 1750.6,733.9 1761.1,742 1765.6,745 1777.6,751.2 1804.1,763.6 1807.6,766.5 1814.6,773.3 1825.6,785.4 1830.1,788.7 1833.1,790 1836.1,789.1 1840,786.7" stroke="#6F5596"/>
<polyline class="c" points="346.6,1023 349,1020 351.1,1018.8 353,1018.2 367.6,1018.9 371,1018.8 373.6,1018.1 388.6,1011.8 408.1,1004.6 417.1,1000.6 429.1,994.6 435.1,990.6 440,986.2 450,973 454.6,968.6 459.1,965.7 469.6,959.9 487.6,947.2 495.1,943.1 511.6,935.1 529,924.8 550.6,915.5 585.1,895.2 590.4,893 601.6,890.2 604.6,889.1 606.1,888 618.1,875.8 623.3,871.5 640.6,862.9 660.1,849.2 676.6,839.1 683.5,835.7 694.6,831.7 697.6,828.8 708.1,815 711.1,812 723,807.8 726.1,806.1 730.6,802.4 741.1,792.4 744.1,790.4 753.1,785.3 757.6,782.1 765.1,776 771.3,770.1 775.6,765.1 786.1,751 795.1,740.8 804.3,731.3 817.6,719.6 822.1,713.7 834.1,695.1 837.1,691 849.1,679.9 863.6,661.6 876.7,648 883.6,639.4 887.7,635.2 894.1,630.9 898.6,628.5 900.1,628 905.5,628.2 907.6,627.2 912.1,624.2 921.1,616.7 924.1,614.8 926.5,613.7 930.1,614.1 943.6,616.7 944.9,616.8 948.1,615.5 955.6,610.7 973.6,596.3 978.1,593.6 981.6,592.1 987.1,592.5 993.1,593.4 999.1,596 1012.6,603.2 1015.6,604.4 1019.6,605.5 1026.1,603 1039.6,595.4 1044.1,593.3 1047.1,592.4 1057.6,594.1 1063.6,593.6 1081.2,591.3 1094.3,587.4 1096.6,588.3 1101.1,590.9 1102.6,591.1 1107.1,589.6 1114,586.3 1120.6,579.8 1123.2,578 1133.7,581.3 1156.6,580.2 1180.8,577.2 1188.7,578.6 1191.1,582.6 1194.1,589.1 1196,591.8 1200.1,590.4 1205.7,587.6 1207.6,584.2 1213.6,569.5 1216.2,565.3 1219.6,566 1224,567.4 1230.1,571.7 1233.3,573.4 1256.9,574 1264.6,575.6 1267.6,577.4 1270.6,580.5 1275.2,587 1278.1,593.7 1285.6,613.5 1288.6,619.6 1291,622.8 1294.6,622.9 1301.5,622 1310.6,617.4 1312.6,618.3 1317.1,621.6 1319.8,622.8 1327.7,619.7 1330.6,620 1340,622.4 1344.1,625.1 1351.6,631.1 1355.7,633.5 1384.6,634.7 1405.5,633.5 1413.1,632.3 1450.6,623.9 1459.6,621.4 1470.1,617.7 1492.6,608.3 1507.8,600.8 1512.1,597.5 1524.1,586.8 1528.8,583.1 1543.6,574.2 1548.1,572.2 1552.6,570.7 1557.1,570.1 1560.1,570.7 1565.5,572.4 1569.1,574.6 1579.6,583.1 1583.8,584.8 1587.1,583.2 1591.6,579.5 1594.3,577.8 1600.6,575.8 1606.1,574.7 1611.1,582.7 1632.1,621.8 1641.1,635.6 1654.6,653.9 1675.6,679.9 1684.6,690.4 1690.6,696.4 1696.6,701.1 1711,706.5 1713.1,707.9 1720.6,714.3 1729.6,723.7 1733.3,726.5 1746.4,731.4 1750.6,733.9 1761.1,742 1765.6,745 1777.6,751.2 1804.1,763.6 1807.6,766.5 1814.6,773.3 1825.6,785.4 1830.1,788.7 1833.1,790 1836.1,789.1 1840,786.7" stroke="#6F5596"/>
<polyline class="b" filter="url(#softer)" points="346.6,1025 349,1022.1 353,1020.2 367.6,1021 371,1020.9 373.6,1020.2 388.6,1014 408.1,1007 417.1,1003 429.1,997.1 435.1,993.2 440,988.9 450,975.8 454.6,971.5 459.1,968.7 469.6,962.9 487.6,950.5 495.1,946.4 511.6,938.6 529,928.4 550.6,919.3 585.1,899.3 590.4,897.2 601.6,894.5 604.6,893.4 606.1,892.3 618.1,880.3 623.3,876 640.6,867.6 660.1,854.2 676.6,844.1 683.5,840.8 694.6,836.9 697.6,834 708.1,820.4 711.1,817.5 723,813.4 726.1,811.7 730.6,808.1 741.1,798.3 753.1,791.2 757.6,788.1 765.1,782.1 771.3,776.4 775.6,771.4 786.1,757.5 795.1,747.5 804.3,738.2 817.6,726.7 822.1,720.9 834.1,702.6 837.1,698.6 849.1,687.6 863.6,669.7 876.7,656.3 886.6,644.6 892.6,640.4 898.6,637.1 900.1,636.6 905.5,636.8 907.6,635.9 910.6,634 919.6,626.7 924.1,623.6 926.5,622.6 927.1,622.6 942.1,625.4 944.9,625.7 946.6,625 951.1,622.7 955.6,619.7 973.6,605.6 978.1,602.9 981.6,601.5 987.1,601.8 993.1,602.8 999.1,605.3 1012.6,612.5 1015.6,613.7 1019.6,614.7 1026.1,612.3 1039.6,604.8 1044.1,602.8 1047.1,601.8 1057.6,603.6 1063.6,603.1 1081.2,600.9 1094.3,597.1 1096.6,598 1101.1,600.5 1102.6,600.8 1107.1,599.3 1114,596.1 1120.6,589.7 1123.2,587.9 1133.7,591.2 1156.6,590.1 1180.8,587.2 1185.1,587.8 1188.7,588.6 1191.1,592.5 1194.1,598.9 1196,601.5 1200.1,600.2 1205.7,597.4 1207.6,594.1 1213.6,579.6 1216.2,575.5 1224,577.6 1230.1,581.8 1233.3,583.5 1245.1,583.9 1255.6,585.1 1267.6,588.7 1275.2,589.9 1279.6,593.7 1287.1,602.7 1291,605.9 1296.1,606.2 1301.5,607.9 1308.1,608.6 1310.6,609.2 1312.6,611.7 1319.8,623.5 1327.6,630.2 1330.6,634.5 1340,650.8 1350.1,671.6 1353.1,676.2 1355.7,679.5 1360.6,682.4 1366.6,685.1 1375.6,688 1383.1,689.9 1396.6,691 1408.6,690.4 1449.1,684.7 1465.6,681.2 1486.6,674.7 1506.1,667.5 1512.1,664.4 1524.1,656.8 1528.8,654.1 1542.1,648.4 1548.1,646.5 1552.6,645.5 1557.1,645.1 1565.5,647.2 1569.1,649.2 1579.6,656.7 1583.8,658.3 1587.1,656.9 1594.3,652.2 1600.6,650.5 1606.1,649.6 1611.1,657.9 1632.1,697.2 1641.1,711.3 1651.6,725.9 1663.6,741.3 1680.1,761.7 1686.1,768.4 1690.6,772.9 1696.6,777.8 1711,784.5 1713.1,786 1720.6,792.4 1729.6,801.4 1733.3,804.3 1747.6,810.5 1752.1,813.5 1762.6,821.3 1770.1,825.6 1804.1,841.8 1807.6,844.5 1814.6,850.7 1824.1,860.1 1827.7,863.1 1831.6,865.2 1833.1,865.7 1836.1,865 1840,863" stroke="#F9AE86"/>
<polyline class="c" points="346.6,1025 349,1022.1 353,1020.2 367.6,1021 371,1020.9 373.6,1020.2 388.6,1014 408.1,1007 417.1,1003 429.1,997.1 435.1,993.2 440,988.9 450,975.8 454.6,971.5 459.1,968.7 469.6,962.9 487.6,950.5 495.1,946.4 511.6,938.6 529,928.4 550.6,919.3 585.1,899.3 590.4,897.2 601.6,894.5 604.6,893.4 606.1,892.3 618.1,880.3 623.3,876 640.6,867.6 660.1,854.2 676.6,844.1 683.5,840.8 694.6,836.9 697.6,834 708.1,820.4 711.1,817.5 723,813.4 726.1,811.7 730.6,808.1 741.1,798.3 753.1,791.2 757.6,788.1 765.1,782.1 771.3,776.4 775.6,771.4 786.1,757.5 795.1,747.5 804.3,738.2 817.6,726.7 822.1,720.9 834.1,702.6 837.1,698.6 849.1,687.6 863.6,669.7 876.7,656.3 886.6,644.6 892.6,640.4 898.6,637.1 900.1,636.6 905.5,636.8 907.6,635.9 910.6,634 919.6,626.7 924.1,623.6 926.5,622.6 927.1,622.6 942.1,625.4 944.9,625.7 946.6,625 951.1,622.7 955.6,619.7 973.6,605.6 978.1,602.9 981.6,601.5 987.1,601.8 993.1,602.8 999.1,605.3 1012.6,612.5 1015.6,613.7 1019.6,614.7 1026.1,612.3 1039.6,604.8 1044.1,602.8 1047.1,601.8 1057.6,603.6 1063.6,603.1 1081.2,600.9 1094.3,597.1 1096.6,598 1101.1,600.5 1102.6,600.8 1107.1,599.3 1114,596.1 1120.6,589.7 1123.2,587.9 1133.7,591.2 1156.6,590.1 1180.8,587.2 1185.1,587.8 1188.7,588.6 1191.1,592.5 1194.1,598.9 1196,601.5 1200.1,600.2 1205.7,597.4 1207.6,594.1 1213.6,579.6 1216.2,575.5 1224,577.6 1230.1,581.8 1233.3,583.5 1245.1,583.9 1255.6,585.1 1267.6,588.7 1275.2,589.9 1279.6,593.7 1287.1,602.7 1291,605.9 1296.1,606.2 1301.5,607.9 1308.1,608.6 1310.6,609.2 1312.6,611.7 1319.8,623.5 1327.6,630.2 1330.6,634.5 1340,650.8 1350.1,671.6 1353.1,676.2 1355.7,679.5 1360.6,682.4 1366.6,685.1 1375.6,688 1383.1,689.9 1396.6,691 1408.6,690.4 1449.1,684.7 1465.6,681.2 1486.6,674.7 1506.1,667.5 1512.1,664.4 1524.1,656.8 1528.8,654.1 1542.1,648.4 1548.1,646.5 1552.6,645.5 1557.1,645.1 1565.5,647.2 1569.1,649.2 1579.6,656.7 1583.8,658.3 1587.1,656.9 1594.3,652.2 1600.6,650.5 1606.1,649.6 1611.1,657.9 1632.1,697.2 1641.1,711.3 1651.6,725.9 1663.6,741.3 1680.1,761.7 1686.1,768.4 1690.6,772.9 1696.6,777.8 1711,784.5 1713.1,786 1720.6,792.4 1729.6,801.4 1733.3,804.3 1747.6,810.5 1752.1,813.5 1762.6,821.3 1770.1,825.6 1804.1,841.8 1807.6,844.5 1814.6,850.7 1824.1,860.1 1827.7,863.1 1831.6,865.2 1833.1,865.7 1836.1,865 1840,863" stroke="#F9AE86"/>
<polyline class="b" filter="url(#softer)" points="346.6,1028 349,1025.1 353,1023.3 367.6,1024.1 371,1024 373.6,1023.3 390.1,1016.7 408.1,1010.4 417.1,1006.5 429.1,1000.8 435.1,997 440,992.8 450,980 454.6,975.8 459.1,973 469.6,967.4 487.6,955.2 495.1,951.3 511.6,943.7 529,933.8 550.6,924.9 585.1,905.4 590.4,903.3 601.6,900.6 604.6,899.6 606.1,898.5 618.1,886.8 623.3,882.6 640.6,874.4 660.1,861.3 676.6,851.5 683.5,848.3 694.6,844.4 697.6,841.7 708.1,828.4 711.1,825.5 723,821.5 726.1,819.9 730.6,816.3 741.1,806.8 753.1,799.9 757.6,796.9 765.1,791 771.3,785.4 775.6,780.5 786.1,767 795.1,757.2 804.3,748.1 817.6,736.9 822.1,731.3 834.1,713.4 837.1,709.5 849.1,698.8 863.6,681.3 876.7,668.2 883.6,660 887.7,655.9 894.1,651.7 898.6,649.5 900.1,649 905.5,649.2 907.6,648.3 912.1,645.4 921.1,638.3 924.1,636.4 926.5,635.4 930.1,635.8 943.6,638.4 944.9,638.5 948.1,637.2 955.6,632.6 973.6,618.9 978.1,616.3 981.6,614.9 987.1,615.3 993.1,616.2 999.1,618.8 1012.6,625.8 1019.6,628 1026.1,625.7 1039.6,618.4 1044.1,616.4 1047.1,615.5 1057.6,617.3 1063.6,616.8 1081.2,614.7 1094.3,611 1096.6,611.9 1101.1,614.4 1102.6,614.7 1107.1,613.2 1114,610.1 1120.6,603.9 1123.2,602.2 1133.7,605.4 1156.6,604.4 1180.8,601.7 1188.7,603 1191.1,606.8 1194.1,613.1 1196,615.7 1200.1,614.4 1205.7,611.7 1207.6,608.5 1213.6,594.3 1215.1,591.6 1216.2,590.3 1218.1,590.6 1224.1,592.4 1230.1,596.5 1233.3,598.2 1245.1,598.5 1256.9,599.9 1266.1,603 1275.2,607.3 1278.1,610.7 1287.1,624.4 1290.1,627.7 1291,628.3 1296.1,628.7 1301.5,629.9 1308.1,629.7 1310.6,630 1312.6,632.1 1319.8,642.1 1327.7,646.7 1332.1,651.9 1340,663.1 1350.1,680.7 1353.1,684.7 1355.7,687.5 1363.6,691 1375.6,694.3 1384.6,696 1393.6,696.5 1401.1,696.4 1410.1,695.5 1447.6,688.6 1456.6,686.3 1467.1,682.3 1474.6,678.8 1482.1,674.7 1501.6,662.8 1509.1,657.5 1524.1,643.2 1528.8,639.2 1536.1,634.2 1542.1,630.6 1546.6,628.4 1551.1,626.7 1556.3,625.7 1560.1,626.4 1565.5,628.2 1569.1,630.3 1579.6,638.3 1583.8,640 1587.1,638.6 1594.3,634.1 1600.6,632.5 1606.1,631.7 1611.1,637.8 1632.1,669 1639.6,678.1 1653.1,692.5 1677.1,715.7 1684.6,722.5 1690.6,727.1 1696.6,730.5 1711,733.3 1713.1,734.2 1720.6,739.2 1729.6,746.7 1733.3,748.9 1747.6,752.2 1752.1,754.5 1761.1,760.1 1765.6,762.4 1776.1,766.3 1804.1,775.9 1807.6,778.3 1814.6,784.2 1825.6,794.8 1827.7,796.4 1830.1,797.6 1832.9,798.5 1834.6,798.1 1837.6,796.9 1840,795.2" stroke="#B2A1CC"/>
<polyline class="c" points="346.6,1028 349,1025.1 353,1023.3 367.6,1024.1 371,1024 373.6,1023.3 390.1,1016.7 408.1,1010.4 417.1,1006.5 429.1,1000.8 435.1,997 440,992.8 450,980 454.6,975.8 459.1,973 469.6,967.4 487.6,955.2 495.1,951.3 511.6,943.7 529,933.8 550.6,924.9 585.1,905.4 590.4,903.3 601.6,900.6 604.6,899.6 606.1,898.5 618.1,886.8 623.3,882.6 640.6,874.4 660.1,861.3 676.6,851.5 683.5,848.3 694.6,844.4 697.6,841.7 708.1,828.4 711.1,825.5 723,821.5 726.1,819.9 730.6,816.3 741.1,806.8 753.1,799.9 757.6,796.9 765.1,791 771.3,785.4 775.6,780.5 786.1,767 795.1,757.2 804.3,748.1 817.6,736.9 822.1,731.3 834.1,713.4 837.1,709.5 849.1,698.8 863.6,681.3 876.7,668.2 883.6,660 887.7,655.9 894.1,651.7 898.6,649.5 900.1,649 905.5,649.2 907.6,648.3 912.1,645.4 921.1,638.3 924.1,636.4 926.5,635.4 930.1,635.8 943.6,638.4 944.9,638.5 948.1,637.2 955.6,632.6 973.6,618.9 978.1,616.3 981.6,614.9 987.1,615.3 993.1,616.2 999.1,618.8 1012.6,625.8 1019.6,628 1026.1,625.7 1039.6,618.4 1044.1,616.4 1047.1,615.5 1057.6,617.3 1063.6,616.8 1081.2,614.7 1094.3,611 1096.6,611.9 1101.1,614.4 1102.6,614.7 1107.1,613.2 1114,610.1 1120.6,603.9 1123.2,602.2 1133.7,605.4 1156.6,604.4 1180.8,601.7 1188.7,603 1191.1,606.8 1194.1,613.1 1196,615.7 1200.1,614.4 1205.7,611.7 1207.6,608.5 1213.6,594.3 1215.1,591.6 1216.2,590.3 1218.1,590.6 1224.1,592.4 1230.1,596.5 1233.3,598.2 1245.1,598.5 1256.9,599.9 1266.1,603 1275.2,607.3 1278.1,610.7 1287.1,624.4 1290.1,627.7 1291,628.3 1296.1,628.7 1301.5,629.9 1308.1,629.7 1310.6,630 1312.6,632.1 1319.8,642.1 1327.7,646.7 1332.1,651.9 1340,663.1 1350.1,680.7 1353.1,684.7 1355.7,687.5 1363.6,691 1375.6,694.3 1384.6,696 1393.6,696.5 1401.1,696.4 1410.1,695.5 1447.6,688.6 1456.6,686.3 1467.1,682.3 1474.6,678.8 1482.1,674.7 1501.6,662.8 1509.1,657.5 1524.1,643.2 1528.8,639.2 1536.1,634.2 1542.1,630.6 1546.6,628.4 1551.1,626.7 1556.3,625.7 1560.1,626.4 1565.5,628.2 1569.1,630.3 1579.6,638.3 1583.8,640 1587.1,638.6 1594.3,634.1 1600.6,632.5 1606.1,631.7 1611.1,637.8 1632.1,669 1639.6,678.1 1653.1,692.5 1677.1,715.7 1684.6,722.5 1690.6,727.1 1696.6,730.5 1711,733.3 1713.1,734.2 1720.6,739.2 1729.6,746.7 1733.3,748.9 1747.6,752.2 1752.1,754.5 1761.1,760.1 1765.6,762.4 1776.1,766.3 1804.1,775.9 1807.6,778.3 1814.6,784.2 1825.6,794.8 1827.7,796.4 1830.1,797.6 1832.9,798.5 1834.6,798.1 1837.6,796.9 1840,795.2" stroke="#B2A1CC"/>
<polyline class="b" filter="url(#softer)" points="346.6,1030 349,1027.1 353,1025.4 367.6,1026.1 371,1026 373.6,1025.3 390.1,1018.7 408.1,1012.5 417.1,1008.7 429.1,1003 435.1,999.2 440,995 450,982.3 454.6,978.2 459.1,975.4 469.6,969.9 487.6,957.8 495.1,953.9 511.6,946.3 529,936.5 550.6,927.6 585.1,908.3 590.4,906.2 601.6,903.5 604.6,902.5 606.1,901.4 618.1,889.8 623.3,885.7 640.6,877.5 660.1,864.5 676.6,854.8 683.5,851.6 694.6,847.8 697.6,845 708.1,831.8 711.1,829 723,825 726.1,823.4 730.6,819.8 741.1,810.4 753.1,803.6 757.6,800.5 765.1,794.7 771.3,789.1 775.6,784.3 786.1,770.9 795.1,761.2 804.3,752.1 817.6,741 822.1,735.4 834.1,717.6 837.1,713.8 849.1,703.1 863.6,685.8 876.7,672.8 886.6,661.5 892.6,657.4 898.6,654.2 900.1,653.8 905.5,653.9 907.6,653.1 910.6,651.3 919.6,644.2 924.1,641.3 926.5,640.2 927.1,640.3 942.1,643.1 944.9,643.4 946.6,642.8 951.1,640.5 955.6,637.6 973.6,624 978.1,621.5 981.6,620.1 987.1,620.4 993.1,621.4 999.1,623.9 1012.6,630.9 1019.6,633.1 1026.1,630.8 1039.6,623.6 1044.1,621.6 1047.1,620.8 1057.6,622.5 1063.6,622 1081.2,620 1094.3,616.4 1096.6,617.3 1101.1,619.8 1102.6,620 1107.1,618.6 1114,615.5 1120.6,609.4 1123.2,607.6 1133.7,610.9 1156.6,609.9 1180.8,607.2 1185.1,607.7 1188.7,608.5 1191.1,612.3 1194.1,618.5 1196,621.1 1200.1,619.9 1205.7,617.2 1207.6,614 1213.6,599.9 1216.2,595.9 1224,598 1230.1,602.1 1233.3,603.8 1256.9,604.4 1275.2,608.3 1279.6,612.8 1287.1,622.6 1291,625.9 1296.1,625.8 1301.5,626.2 1308.1,624.9 1310.6,624.8 1312.6,626.4 1317.1,631.8 1319.8,634.4 1326.1,635.9 1327.7,636.4 1329.1,637.4 1333.6,641.3 1340,647.9 1350.1,661.8 1353.1,665.2 1355.7,667.4 1366.6,670.5 1383.1,673.2 1396.6,673.5 1411.6,672.8 1449.1,669 1464.1,666.4 1477.6,662.6 1497.1,655.8 1509.1,651 1528.8,640.6 1542.1,635.7 1551.1,633.6 1557.1,633.1 1565.5,635.6 1569.1,637.8 1579.6,645.7 1583.8,647.5 1587.1,646.2 1594.3,642 1600.6,640.5 1606.1,639.9 1611.1,651.1 1630.6,698.3 1635.1,708.1 1642.6,722.9 1656.1,747.1 1672.6,774.1 1683.1,790.3 1692.1,802.3 1696.6,807.3 1711,818.5 1713.1,820.5 1720.6,828.8 1729.6,839.7 1732.6,842.8 1747.6,852.9 1764.7,867.9 1779.1,877.6 1804.1,892.9 1814.6,902.4 1825.6,913.6 1830.1,917 1833.1,918.6 1836.1,918 1840,916.3" stroke="#C5DDAA"/>
<polyline class="c" points="346.6,1030 349,1027.1 353,1025.4 367.6,1026.1 371,1026 373.6,1025.3 390.1,1018.7 408.1,1012.5 417.1,1008.7 429.1,1003 435.1,999.2 440,995 450,982.3 454.6,978.2 459.1,975.4 469.6,969.9 487.6,957.8 495.1,953.9 511.6,946.3 529,936.5 550.6,927.6 585.1,908.3 590.4,906.2 601.6,903.5 604.6,902.5 606.1,901.4 618.1,889.8 623.3,885.7 640.6,877.5 660.1,864.5 676.6,854.8 683.5,851.6 694.6,847.8 697.6,845 708.1,831.8 711.1,829 723,825 726.1,823.4 730.6,819.8 741.1,810.4 753.1,803.6 757.6,800.5 765.1,794.7 771.3,789.1 775.6,784.3 786.1,770.9 795.1,761.2 804.3,752.1 817.6,741 822.1,735.4 834.1,717.6 837.1,713.8 849.1,703.1 863.6,685.8 876.7,672.8 886.6,661.5 892.6,657.4 898.6,654.2 900.1,653.8 905.5,653.9 907.6,653.1 910.6,651.3 919.6,644.2 924.1,641.3 926.5,640.2 927.1,640.3 942.1,643.1 944.9,643.4 946.6,642.8 951.1,640.5 955.6,637.6 973.6,624 978.1,621.5 981.6,620.1 987.1,620.4 993.1,621.4 999.1,623.9 1012.6,630.9 1019.6,633.1 1026.1,630.8 1039.6,623.6 1044.1,621.6 1047.1,620.8 1057.6,622.5 1063.6,622 1081.2,620 1094.3,616.4 1096.6,617.3 1101.1,619.8 1102.6,620 1107.1,618.6 1114,615.5 1120.6,609.4 1123.2,607.6 1133.7,610.9 1156.6,609.9 1180.8,607.2 1185.1,607.7 1188.7,608.5 1191.1,612.3 1194.1,618.5 1196,621.1 1200.1,619.9 1205.7,617.2 1207.6,614 1213.6,599.9 1216.2,595.9 1224,598 1230.1,602.1 1233.3,603.8 1256.9,604.4 1275.2,608.3 1279.6,612.8 1287.1,622.6 1291,625.9 1296.1,625.8 1301.5,626.2 1308.1,624.9 1310.6,624.8 1312.6,626.4 1317.1,631.8 1319.8,634.4 1326.1,635.9 1327.7,636.4 1329.1,637.4 1333.6,641.3 1340,647.9 1350.1,661.8 1353.1,665.2 1355.7,667.4 1366.6,670.5 1383.1,673.2 1396.6,673.5 1411.6,672.8 1449.1,669 1464.1,666.4 1477.6,662.6 1497.1,655.8 1509.1,651 1528.8,640.6 1542.1,635.7 1551.1,633.6 1557.1,633.1 1565.5,635.6 1569.1,637.8 1579.6,645.7 1583.8,647.5 1587.1,646.2 1594.3,642 1600.6,640.5 1606.1,639.9 1611.1,651.1 1630.6,698.3 1635.1,708.1 1642.6,722.9 1656.1,747.1 1672.6,774.1 1683.1,790.3 1692.1,802.3 1696.6,807.3 1711,818.5 1713.1,820.5 1720.6,828.8 1729.6,839.7 1732.6,842.8 1747.6,852.9 1764.7,867.9 1779.1,877.6 1804.1,892.9 1814.6,902.4 1825.6,913.6 1830.1,917 1833.1,918.6 1836.1,918 1840,916.3" stroke="#C5DDAA"/>
<polyline class="b" filter="url(#softer)" points="346.6,1033 349,1030.2 353,1028.4 367.6,1029.2 371,1029 373.6,1028.4 388.6,1022.5 408.1,1015.8 417.1,1012 429.1,1006.4 435.1,1002.6 440,998.5 450,986 454.6,981.9 459.1,979.2 469.6,973.7 487.6,961.8 495.1,958 511.6,950.5 529,940.8 550.6,932.1 585.1,913 590.4,911 601.6,908.4 604.6,907.3 606.1,906.3 618.1,894.8 623.3,890.8 640.6,882.7 660.1,869.9 676.6,860.3 683.5,857.1 694.6,853.4 697.6,850.7 708.1,837.7 711.1,834.9 723,831 726.1,829.4 730.6,825.9 741.1,816.5 753.1,809.8 757.6,806.8 765.1,801.1 771.3,795.6 775.6,790.8 786.1,777.6 795.1,768 804.3,759.1 817.6,748.2 822.1,742.7 834.1,725.1 837.1,721.3 849.1,710.9 863.6,693.7 876.7,680.9 886.6,669.8 892.6,665.7 898.6,662.6 900.1,662.2 905.5,662.4 907.6,661.5 910.6,659.8 919.6,652.8 924.1,649.9 927.1,649 942.1,651.8 944.9,652.1 946.6,651.5 951.1,649.3 955.6,646.4 973.6,633.1 978.1,630.6 981.6,629.2 987.1,629.6 993.1,630.6 999.1,633.1 1012.6,640 1019.6,642.2 1026.1,639.9 1039.6,632.9 1044.1,631 1047.1,630.1 1057.6,631.9 1063.6,631.4 1081.2,629.5 1094.3,626 1096.6,626.8 1101.1,629.3 1102.6,629.5 1107.1,628.1 1114,625.1 1120.6,619.1 1123.2,617.4 1133.7,620.6 1156.6,619.7 1180.8,617.1 1185.1,617.6 1188.7,618.4 1191.1,622.2 1194.1,628.3 1196,630.8 1200.1,629.6 1205.7,626.9 1207.6,623.8 1213.6,610 1216.2,606.1 1224,608.1 1230.1,612.2 1233.3,613.8 1245.1,614.2 1255.6,615.2 1261.6,616.7 1266.1,618.5 1270.6,621.7 1275.2,626.1 1278.1,631.1 1287.1,649.2 1288.6,651.5 1291,654.1 1301.5,655 1308.1,653.8 1310.6,653.7 1312.6,655.3 1317.1,660.6 1319.8,663.2 1327.7,665.2 1332.1,668.7 1340,676.7 1350.1,690.5 1353.1,693.8 1355.7,696 1365.1,698.7 1378.6,701.2 1384.6,701.9 1390.6,702.1 1408.6,701.6 1449.1,697.5 1455.1,696.6 1462.6,694.9 1474.6,691 1491.1,684.1 1507.8,676.1 1522.6,666.7 1528.8,663.2 1540.6,658.1 1546.6,656.1 1551.1,655.1 1556.3,654.5 1560.1,655.4 1565.5,657.3 1569.1,659.4 1579.6,667.3 1583.8,669.1 1587.1,668.1 1594.3,664.3 1600.6,663.2 1606.1,662.8 1611.1,672.4 1632.1,716.6 1642.6,734.9 1656.1,755.8 1674.1,781.2 1684.6,795 1692.1,803.4 1696.6,807.6 1711,816.4 1713.1,818 1720.6,825.2 1729.6,834.8 1733.3,837.9 1747.6,845.5 1762.6,857 1768.6,860.8 1785.7,870.1 1804.1,879.4 1814.6,888.2 1824.1,897.3 1827.7,900.2 1831.6,902.5 1833.1,903 1836.1,902.3 1840,900.6" stroke="#C5DDAA"/>
<polyline class="c" points="346.6,1033 349,1030.2 353,1028.4 367.6,1029.2 371,1029 373.6,1028.4 388.6,1022.5 408.1,1015.8 417.1,1012 429.1,1006.4 435.1,1002.6 440,998.5 450,986 454.6,981.9 459.1,979.2 469.6,973.7 487.6,961.8 495.1,958 511.6,950.5 529,940.8 550.6,932.1 585.1,913 590.4,911 601.6,908.4 604.6,907.3 606.1,906.3 618.1,894.8 623.3,890.8 640.6,882.7 660.1,869.9 676.6,860.3 683.5,857.1 694.6,853.4 697.6,850.7 708.1,837.7 711.1,834.9 723,831 726.1,829.4 730.6,825.9 741.1,816.5 753.1,809.8 757.6,806.8 765.1,801.1 771.3,795.6 775.6,790.8 786.1,777.6 795.1,768 804.3,759.1 817.6,748.2 822.1,742.7 834.1,725.1 837.1,721.3 849.1,710.9 863.6,693.7 876.7,680.9 886.6,669.8 892.6,665.7 898.6,662.6 900.1,662.2 905.5,662.4 907.6,661.5 910.6,659.8 919.6,652.8 924.1,649.9 927.1,649 942.1,651.8 944.9,652.1 946.6,651.5 951.1,649.3 955.6,646.4 973.6,633.1 978.1,630.6 981.6,629.2 987.1,629.6 993.1,630.6 999.1,633.1 1012.6,640 1019.6,642.2 1026.1,639.9 1039.6,632.9 1044.1,631 1047.1,630.1 1057.6,631.9 1063.6,631.4 1081.2,629.5 1094.3,626 1096.6,626.8 1101.1,629.3 1102.6,629.5 1107.1,628.1 1114,625.1 1120.6,619.1 1123.2,617.4 1133.7,620.6 1156.6,619.7 1180.8,617.1 1185.1,617.6 1188.7,618.4 1191.1,622.2 1194.1,628.3 1196,630.8 1200.1,629.6 1205.7,626.9 1207.6,623.8 1213.6,610 1216.2,606.1 1224,608.1 1230.1,612.2 1233.3,613.8 1245.1,614.2 1255.6,615.2 1261.6,616.7 1266.1,618.5 1270.6,621.7 1275.2,626.1 1278.1,631.1 1287.1,649.2 1288.6,651.5 1291,654.1 1301.5,655 1308.1,653.8 1310.6,653.7 1312.6,655.3 1317.1,660.6 1319.8,663.2 1327.7,665.2 1332.1,668.7 1340,676.7 1350.1,690.5 1353.1,693.8 1355.7,696 1365.1,698.7 1378.6,701.2 1384.6,701.9 1390.6,702.1 1408.6,701.6 1449.1,697.5 1455.1,696.6 1462.6,694.9 1474.6,691 1491.1,684.1 1507.8,676.1 1522.6,666.7 1528.8,663.2 1540.6,658.1 1546.6,656.1 1551.1,655.1 1556.3,654.5 1560.1,655.4 1565.5,657.3 1569.1,659.4 1579.6,667.3 1583.8,669.1 1587.1,668.1 1594.3,664.3 1600.6,663.2 1606.1,662.8 1611.1,672.4 1632.1,716.6 1642.6,734.9 1656.1,755.8 1674.1,781.2 1684.6,795 1692.1,803.4 1696.6,807.6 1711,816.4 1713.1,818 1720.6,825.2 1729.6,834.8 1733.3,837.9 1747.6,845.5 1762.6,857 1768.6,860.8 1785.7,870.1 1804.1,879.4 1814.6,888.2 1824.1,897.3 1827.7,900.2 1831.6,902.5 1833.1,903 1836.1,902.3 1840,900.6" stroke="#C5DDAA"/>
<polyline class="b" filter="url(#softer)" points="346.6,1037.5 349,1034.7 353,1033 367.6,1033.7 371,1033.6 373.6,1032.9 388.6,1027.1 408.1,1020.5 417.1,1016.7 429.1,1011.2 435.1,1007.5 440,1003.4 450,991.2 454.6,987.1 469.6,979 487.6,967.3 495.1,963.5 511.6,956.1 529,946.5 550.6,937.9 585.1,919.1 590.4,917.1 601.6,914.5 604.6,913.5 606.1,912.4 618.1,901.2 623.3,897.2 640.6,889.2 660.1,876.6 676.6,867.1 683.5,864 694.6,860.3 697.6,857.6 708.1,844.8 711.1,842.1 723,838.2 726.1,836.6 730.6,833.1 741.1,823.9 753.1,817.3 757.6,814.4 765.1,808.7 771.3,803.3 775.6,798.6 786.1,785.5 795.1,776.1 804.3,767.3 817.6,756.5 822.1,751 834.1,733.8 837.1,730 849.1,719.7 863.6,702.8 876.7,690.2 886.6,679.2 892.6,675.2 898.6,672.1 900.1,671.7 905.5,671.8 907.6,671 910.6,669.3 919.6,662.5 924.1,659.7 927.1,658.8 942.1,661.5 944.9,661.8 946.6,661.3 951.1,659.1 955.6,656.3 973.6,643.3 978.1,640.9 981.6,639.5 987.1,639.9 993.1,640.9 999.1,643.4 1012.6,650.2 1019.6,652.4 1026.1,650.2 1039.6,643.3 1044.1,641.4 1047.1,640.6 1057.6,642.4 1063.6,641.9 1081.2,640.1 1094.3,636.7 1096.6,637.5 1101.1,640 1102.6,640.2 1107.1,638.9 1114,635.9 1120.6,630 1123.2,628.4 1133.7,631.5 1156.6,630.7 1180.8,628.2 1185.1,628.7 1188.7,629.5 1191.1,633.2 1194.1,639.2 1196,641.7 1200.1,640.5 1205.7,637.9 1207.6,634.8 1213.6,621.3 1216.2,617.4 1224,619.5 1230.1,623.5 1233.1,625 1240.6,625.2 1242.1,625.7 1245.1,627.9 1249.6,634 1252.6,639.7 1257.1,650.3 1267.6,682.2 1276.6,706.4 1285.6,734.1 1291,748 1296.1,755.7 1300.6,761.2 1302.1,762.4 1309.6,766.6 1311.1,768.2 1314.1,774.2 1319.8,787.1 1326.1,797.4 1330.6,807.1 1340,832.2 1347.1,853.2 1350.1,860.9 1353.1,867.1 1355.7,871.4 1359.1,874.9 1362.1,877.3 1369.6,881.9 1380.1,886.7 1384.6,888.2 1393.6,889.6 1399.6,890 1408.6,889.7 1449.1,886.4 1456.6,885.2 1464.1,883.4 1471.6,880.9 1479.1,878 1492.6,871.8 1507.8,864 1522.6,854.7 1528.8,851.3 1539.1,846.9 1548.1,844.1 1556.3,843 1561.6,844 1567.6,845.9 1578.1,851.2 1583.8,853.2 1587.1,852.6 1594.3,850.3 1606.1,849.7 1630.6,897.9 1636.6,908.5 1645.6,922.9 1659.1,942.7 1674.1,962.8 1684.6,975.8 1693.6,985.4 1699.6,990.7 1711.6,999.6 1732.6,1018.5 1747.6,1027.6 1764.7,1039.3 1782.1,1048.9 1804.1,1059.6 1824.1,1072.5 1830.1,1075.8 1833.1,1077 1840,1075.9" stroke="#3B6FB2"/>
<polyline class="c" points="346.6,1037.5 349,1034.7 353,1033 367.6,1033.7 371,1033.6 373.6,1032.9 388.6,1027.1 408.1,1020.5 417.1,1016.7 429.1,1011.2 435.1,1007.5 440,1003.4 450,991.2 454.6,987.1 469.6,979 487.6,967.3 495.1,963.5 511.6,956.1 529,946.5 550.6,937.9 585.1,919.1 590.4,917.1 601.6,914.5 604.6,913.5 606.1,912.4 618.1,901.2 623.3,897.2 640.6,889.2 660.1,876.6 676.6,867.1 683.5,864 694.6,860.3 697.6,857.6 708.1,844.8 711.1,842.1 723,838.2 726.1,836.6 730.6,833.1 741.1,823.9 753.1,817.3 757.6,814.4 765.1,808.7 771.3,803.3 775.6,798.6 786.1,785.5 795.1,776.1 804.3,767.3 817.6,756.5 822.1,751 834.1,733.8 837.1,730 849.1,719.7 863.6,702.8 876.7,690.2 886.6,679.2 892.6,675.2 898.6,672.1 900.1,671.7 905.5,671.8 907.6,671 910.6,669.3 919.6,662.5 924.1,659.7 927.1,658.8 942.1,661.5 944.9,661.8 946.6,661.3 951.1,659.1 955.6,656.3 973.6,643.3 978.1,640.9 981.6,639.5 987.1,639.9 993.1,640.9 999.1,643.4 1012.6,650.2 1019.6,652.4 1026.1,650.2 1039.6,643.3 1044.1,641.4 1047.1,640.6 1057.6,642.4 1063.6,641.9 1081.2,640.1 1094.3,636.7 1096.6,637.5 1101.1,640 1102.6,640.2 1107.1,638.9 1114,635.9 1120.6,630 1123.2,628.4 1133.7,631.5 1156.6,630.7 1180.8,628.2 1185.1,628.7 1188.7,629.5 1191.1,633.2 1194.1,639.2 1196,641.7 1200.1,640.5 1205.7,637.9 1207.6,634.8 1213.6,621.3 1216.2,617.4 1224,619.5 1230.1,623.5 1233.1,625 1240.6,625.2 1242.1,625.7 1245.1,627.9 1249.6,634 1252.6,639.7 1257.1,650.3 1267.6,682.2 1276.6,706.4 1285.6,734.1 1291,748 1296.1,755.7 1300.6,761.2 1302.1,762.4 1309.6,766.6 1311.1,768.2 1314.1,774.2 1319.8,787.1 1326.1,797.4 1330.6,807.1 1340,832.2 1347.1,853.2 1350.1,860.9 1353.1,867.1 1355.7,871.4 1359.1,874.9 1362.1,877.3 1369.6,881.9 1380.1,886.7 1384.6,888.2 1393.6,889.6 1399.6,890 1408.6,889.7 1449.1,886.4 1456.6,885.2 1464.1,883.4 1471.6,880.9 1479.1,878 1492.6,871.8 1507.8,864 1522.6,854.7 1528.8,851.3 1539.1,846.9 1548.1,844.1 1556.3,843 1561.6,844 1567.6,845.9 1578.1,851.2 1583.8,853.2 1587.1,852.6 1594.3,850.3 1606.1,849.7 1630.6,897.9 1636.6,908.5 1645.6,922.9 1659.1,942.7 1674.1,962.8 1684.6,975.8 1693.6,985.4 1699.6,990.7 1711.6,999.6 1732.6,1018.5 1747.6,1027.6 1764.7,1039.3 1782.1,1048.9 1804.1,1059.6 1824.1,1072.5 1830.1,1075.8 1833.1,1077 1840,1075.9" stroke="#3B6FB2"/>
<polyline class="b" filter="url(#softer)" points="346.6,1042.7 349,1040 353,1038.3 367.6,1038.9 371,1038.7 373.6,1038.1 388.6,1032.3 408.1,1025.7 417.1,1021.9 429.1,1016.3 435.1,1012.7 440,1008.6 450,996.5 454.6,992.5 469.6,984.3 487.6,972.6 495.1,968.8 511.6,961.4 529,951.9 550.6,943.3 585.1,924.5 590.4,922.5 601.6,919.8 604.6,918.8 607.6,916.4 618.1,906.6 623.3,902.6 640.6,894.6 660.1,882 676.6,872.6 683.5,869.4 694.6,865.7 697.6,863 708.1,850.3 711.1,847.6 723,843.7 726.1,842.1 730.6,838.6 741.1,829.5 753.1,822.8 757.6,819.9 765.1,814.2 771.3,808.8 775.6,804.1 786.1,791.1 795.1,781.7 804.3,772.9 814.6,764.8 819.1,760.5 826.6,750.5 834.1,739.4 837.2,735.6 849.1,725.4 862.6,709.6 876.7,695.9 885.1,686.4 889.6,682.8 897.1,678.5 900,677.4 905.5,677.6 907.6,676.8 912.1,674.1 921.1,667.4 924.1,665.6 926.5,664.7 931.6,665.3 942.1,667.5 944.9,667.8 946.6,667.2 951.1,665.1 955.6,662.4 973.6,649.5 978.1,647.1 981.6,645.8 987.1,646.2 993.1,647.2 999.1,649.6 1012.6,656.4 1019.6,658.6 1026.1,656.4 1039.6,649.6 1044.1,647.8 1047.1,647 1057.6,648.8 1063.6,648.3 1081.2,646.5 1094.3,643.2 1096.6,644.1 1101.1,646.5 1102.6,646.7 1107.1,645.4 1114,642.5 1120.6,636.7 1123.2,635.1 1133.7,638.2 1156.6,637.5 1180.8,635 1188.7,636.3 1191.1,639.9 1194.1,645.8 1196,648.3 1200.1,647.1 1205.7,644.6 1207.6,641.5 1213.6,628.2 1216.2,624.4 1224,626.4 1230.1,630.3 1233.3,631.9 1243.6,632.4 1251.1,634.5 1256.9,637.2 1264.6,642.8 1269.1,647.5 1275.2,655.7 1278.1,661.7 1285.6,679.5 1288.6,685.2 1291,688.4 1301.5,691.8 1308.1,692 1310.6,692.4 1312.6,694.5 1319.8,704.5 1327.7,709.6 1332.1,714.9 1340,726.4 1350.1,743.9 1354.6,749.6 1356.1,750.9 1362.1,753.7 1374.1,757.3 1384.6,759.4 1395.1,760 1405.5,759.9 1449.1,756.7 1455.1,755.9 1461.1,754.6 1467.1,752.8 1474.6,750 1489.6,743 1507.8,733.2 1522.6,723.8 1530.1,719.7 1542.1,714.8 1551.1,712.5 1556.3,712 1560.1,713 1565.5,714.9 1569.1,717 1578.1,723.5 1581.1,725.2 1583.8,726.2 1587.1,725.5 1594.3,722.7 1600.6,722.1 1606.1,722 1611.1,731 1630.6,769.1 1635.1,776.9 1642.6,788.8 1656.1,808.1 1674.1,831.5 1684.6,844.3 1692.1,852 1696.6,855.9 1711,864.1 1713.1,865.7 1720.6,872.2 1729.6,881 1732.6,883.4 1747.6,890.9 1764.7,902.6 1779.1,910.1 1804.1,921.6 1814.6,929.4 1825.6,938.7 1830.1,941.4 1833.1,942.6 1836.1,942 1840,940.5" stroke="#8FAADC"/>
<polyline class="c" points="346.6,1042.7 349,1040 353,1038.3 367.6,1038.9 371,1038.7 373.6,1038.1 388.6,1032.3 408.1,1025.7 417.1,1021.9 429.1,1016.3 435.1,1012.7 440,1008.6 450,996.5 454.6,992.5 469.6,984.3 487.6,972.6 495.1,968.8 511.6,961.4 529,951.9 550.6,943.3 585.1,924.5 590.4,922.5 601.6,919.8 604.6,918.8 607.6,916.4 618.1,906.6 623.3,902.6 640.6,894.6 660.1,882 676.6,872.6 683.5,869.4 694.6,865.7 697.6,863 708.1,850.3 711.1,847.6 723,843.7 726.1,842.1 730.6,838.6 741.1,829.5 753.1,822.8 757.6,819.9 765.1,814.2 771.3,808.8 775.6,804.1 786.1,791.1 795.1,781.7 804.3,772.9 814.6,764.8 819.1,760.5 826.6,750.5 834.1,739.4 837.2,735.6 849.1,725.4 862.6,709.6 876.7,695.9 885.1,686.4 889.6,682.8 897.1,678.5 900,677.4 905.5,677.6 907.6,676.8 912.1,674.1 921.1,667.4 924.1,665.6 926.5,664.7 931.6,665.3 942.1,667.5 944.9,667.8 946.6,667.2 951.1,665.1 955.6,662.4 973.6,649.5 978.1,647.1 981.6,645.8 987.1,646.2 993.1,647.2 999.1,649.6 1012.6,656.4 1019.6,658.6 1026.1,656.4 1039.6,649.6 1044.1,647.8 1047.1,647 1057.6,648.8 1063.6,648.3 1081.2,646.5 1094.3,643.2 1096.6,644.1 1101.1,646.5 1102.6,646.7 1107.1,645.4 1114,642.5 1120.6,636.7 1123.2,635.1 1133.7,638.2 1156.6,637.5 1180.8,635 1188.7,636.3 1191.1,639.9 1194.1,645.8 1196,648.3 1200.1,647.1 1205.7,644.6 1207.6,641.5 1213.6,628.2 1216.2,624.4 1224,626.4 1230.1,630.3 1233.3,631.9 1243.6,632.4 1251.1,634.5 1256.9,637.2 1264.6,642.8 1269.1,647.5 1275.2,655.7 1278.1,661.7 1285.6,679.5 1288.6,685.2 1291,688.4 1301.5,691.8 1308.1,692 1310.6,692.4 1312.6,694.5 1319.8,704.5 1327.7,709.6 1332.1,714.9 1340,726.4 1350.1,743.9 1354.6,749.6 1356.1,750.9 1362.1,753.7 1374.1,757.3 1384.6,759.4 1395.1,760 1405.5,759.9 1449.1,756.7 1455.1,755.9 1461.1,754.6 1467.1,752.8 1474.6,750 1489.6,743 1507.8,733.2 1522.6,723.8 1530.1,719.7 1542.1,714.8 1551.1,712.5 1556.3,712 1560.1,713 1565.5,714.9 1569.1,717 1578.1,723.5 1581.1,725.2 1583.8,726.2 1587.1,725.5 1594.3,722.7 1600.6,722.1 1606.1,722 1611.1,731 1630.6,769.1 1635.1,776.9 1642.6,788.8 1656.1,808.1 1674.1,831.5 1684.6,844.3 1692.1,852 1696.6,855.9 1711,864.1 1713.1,865.7 1720.6,872.2 1729.6,881 1732.6,883.4 1747.6,890.9 1764.7,902.6 1779.1,910.1 1804.1,921.6 1814.6,929.4 1825.6,938.7 1830.1,941.4 1833.1,942.6 1836.1,942 1840,940.5" stroke="#8FAADC"/>
<polyline class="b" filter="url(#softer)" points="346.6,1067 349,1064.6 353,1062.9 367.6,1062.7 371,1062.4 373.6,1061.8 406.6,1049.5 415.6,1045.5 427.6,1039.5 433.6,1035.9 439.6,1031.1 450,1018.7 454.6,1014.7 469.6,1005.7 489.1,992.6 511.6,981.5 529,971.6 550.6,962.3 585.1,942.8 590.4,940.6 604.6,936.3 618.1,924 623.3,919.9 640.6,911.2 660.1,898.1 676.6,888.1 683.5,884.7 694.6,880.5 697.6,877.7 708.1,864.9 711.1,862.1 723,857.6 726.1,855.9 730.6,852.3 741.1,842.8 753.1,835.6 757.6,832.4 765.1,826.4 771.3,820.7 775.6,815.9 786.1,802.5 795.1,792.6 804.3,783.3 814.6,774.6 819.1,770 826.6,759.7 834.1,748.2 837.2,744.2 849.1,733.3 862.6,716.8 876.7,702.4 885.1,692.5 889.6,688.8 897.1,684 900,682.8 905.5,683 907.6,682.2 912.1,679.6 921.1,672.9 926.5,670.3 931.6,670.9 942.1,673.1 944.9,673.4 946.6,672.8 951.1,670.8 955.6,668 973.6,655.3 978.1,653 981.6,651.7 987.1,652.1 993.1,653.1 999.1,655.5 1012.6,662.2 1019.6,664.4 1026.1,662.3 1041.1,654.9 1047.1,653 1057.6,654.8 1063.6,654.4 1081.2,652.6 1094.3,649.3 1101.1,652.6 1102.6,652.8 1107.1,651.5 1114,648.7 1120.6,642.9 1123.2,641.3 1133.7,644.5 1156.6,643.8 1180.8,641.4 1188.7,642.6 1191.1,646.2 1194.1,652.1 1196,654.5 1200.1,653.4 1205.7,650.9 1207.6,647.8 1213.6,634.6 1216.2,630.9 1224,632.9 1230.1,636.8 1233.3,638.4 1242.1,638.7 1248.1,640.3 1255.6,644.2 1261.6,649.1 1267.6,655.4 1275.2,666 1278.1,672.2 1285.6,690.2 1288.6,696.1 1291,699.4 1301.5,703.7 1308.1,704.3 1310.6,704.9 1312.6,707.1 1319.8,717.7 1327.6,723.5 1330.6,727.4 1340,742 1350.1,760.6 1354.6,766.6 1356.1,768 1362.1,771 1374.1,775 1384.6,777.3 1395.1,778 1405.5,777.9 1449.1,774.8 1455.1,773.8 1461.1,772.4 1473.1,768 1488.1,760.4 1507.8,748.5 1522.6,738.2 1530.1,733.7 1536.1,730.8 1542.1,728.3 1551.1,725.9 1556.3,725.4 1565.5,728.4 1569.1,730.5 1578.1,736.8 1581.1,738.5 1583.8,739.6 1587.1,738.9 1594.3,736.4 1600.6,736 1606.1,736.1 1609.6,742.4 1630.6,784.3 1635.1,792.4 1642.6,804.5 1656.1,824.4 1672.6,846.5 1683.1,859.8 1692.1,869.5 1696.6,873.5 1711,882.4 1713.1,884 1720.6,890.7 1729.6,899.5 1732.6,902 1747.6,909.8 1764.7,921.8 1779.1,929.4 1804.1,941.2 1814.6,948.9 1825.6,957.9 1830.1,960.6 1833.1,961.8 1836.1,961.3 1840,959.8" stroke="#7FA83F"/>
<polyline class="c" points="346.6,1067 349,1064.6 353,1062.9 367.6,1062.7 371,1062.4 373.6,1061.8 406.6,1049.5 415.6,1045.5 427.6,1039.5 433.6,1035.9 439.6,1031.1 450,1018.7 454.6,1014.7 469.6,1005.7 489.1,992.6 511.6,981.5 529,971.6 550.6,962.3 585.1,942.8 590.4,940.6 604.6,936.3 618.1,924 623.3,919.9 640.6,911.2 660.1,898.1 676.6,888.1 683.5,884.7 694.6,880.5 697.6,877.7 708.1,864.9 711.1,862.1 723,857.6 726.1,855.9 730.6,852.3 741.1,842.8 753.1,835.6 757.6,832.4 765.1,826.4 771.3,820.7 775.6,815.9 786.1,802.5 795.1,792.6 804.3,783.3 814.6,774.6 819.1,770 826.6,759.7 834.1,748.2 837.2,744.2 849.1,733.3 862.6,716.8 876.7,702.4 885.1,692.5 889.6,688.8 897.1,684 900,682.8 905.5,683 907.6,682.2 912.1,679.6 921.1,672.9 926.5,670.3 931.6,670.9 942.1,673.1 944.9,673.4 946.6,672.8 951.1,670.8 955.6,668 973.6,655.3 978.1,653 981.6,651.7 987.1,652.1 993.1,653.1 999.1,655.5 1012.6,662.2 1019.6,664.4 1026.1,662.3 1041.1,654.9 1047.1,653 1057.6,654.8 1063.6,654.4 1081.2,652.6 1094.3,649.3 1101.1,652.6 1102.6,652.8 1107.1,651.5 1114,648.7 1120.6,642.9 1123.2,641.3 1133.7,644.5 1156.6,643.8 1180.8,641.4 1188.7,642.6 1191.1,646.2 1194.1,652.1 1196,654.5 1200.1,653.4 1205.7,650.9 1207.6,647.8 1213.6,634.6 1216.2,630.9 1224,632.9 1230.1,636.8 1233.3,638.4 1242.1,638.7 1248.1,640.3 1255.6,644.2 1261.6,649.1 1267.6,655.4 1275.2,666 1278.1,672.2 1285.6,690.2 1288.6,696.1 1291,699.4 1301.5,703.7 1308.1,704.3 1310.6,704.9 1312.6,707.1 1319.8,717.7 1327.6,723.5 1330.6,727.4 1340,742 1350.1,760.6 1354.6,766.6 1356.1,768 1362.1,771 1374.1,775 1384.6,777.3 1395.1,778 1405.5,777.9 1449.1,774.8 1455.1,773.8 1461.1,772.4 1473.1,768 1488.1,760.4 1507.8,748.5 1522.6,738.2 1530.1,733.7 1536.1,730.8 1542.1,728.3 1551.1,725.9 1556.3,725.4 1565.5,728.4 1569.1,730.5 1578.1,736.8 1581.1,738.5 1583.8,739.6 1587.1,738.9 1594.3,736.4 1600.6,736 1606.1,736.1 1609.6,742.4 1630.6,784.3 1635.1,792.4 1642.6,804.5 1656.1,824.4 1672.6,846.5 1683.1,859.8 1692.1,869.5 1696.6,873.5 1711,882.4 1713.1,884 1720.6,890.7 1729.6,899.5 1732.6,902 1747.6,909.8 1764.7,921.8 1779.1,929.4 1804.1,941.2 1814.6,948.9 1825.6,957.9 1830.1,960.6 1833.1,961.8 1836.1,961.3 1840,959.8" stroke="#7FA83F"/>
<polyline class="b" filter="url(#softer)" points="346.6,1100 349,1097.9 353,1096.3 369.1,1094.9 375.1,1093.3 406,1081 415.6,1076.3 426.1,1070.5 433.6,1065.6 439.6,1060.6 450,1048.3 454.6,1044.1 469.6,1034 489.1,1019.9 511.6,1007.6 528.1,997.6 552.1,985.9 585.1,966 590.4,963.5 604.6,958.3 618.1,945.6 623.3,941.3 640.6,931.7 660.1,917.6 676.6,906.8 683.5,903 694.6,898 697.6,895.1 708.1,882 711.1,879.1 723,873.7 726.1,871.8 730.6,867.9 741.1,857.9 753.1,849.8 757.6,846.3 765.1,839.7 771.3,833.6 775.6,828.4 786.1,814.3 795.1,803.6 804.3,793.5 817.6,780.7 822.1,774.6 834.1,755.8 837.1,751.6 849.1,739.5 863.6,720.6 876.7,706.3 883.6,697.5 887.7,693.2 894.1,688.3 898.6,685.6 900.1,685 905.5,685.2 909.1,683.6 921.1,675.1 926.5,672.5 943.6,675.5 944.9,675.6 948.1,674.5 955.6,670.3 973.6,657.7 978.1,655.3 981.6,654 987.1,654.5 993.1,655.4 999.1,657.8 1012.6,664.6 1019.6,666.7 1026.1,664.6 1041.1,657.3 1047.1,655.4 1057.6,657.2 1063.6,656.8 1081.2,655 1094.3,651.8 1101.1,655 1102.6,655.2 1107.1,654 1114,651.1 1120.6,645.4 1123.2,643.8 1133.7,647 1156.6,646.3 1180.8,643.9 1188.7,645.1 1191.1,648.7 1194.1,654.6 1196,657 1200.1,655.9 1205.7,653.3 1207.6,650.4 1213.6,637.2 1216.2,633.5 1224,635.4 1230.1,639.4 1233.3,640.9 1256.9,641.5 1264.6,642.9 1270.6,645 1275.2,647.4 1276.6,648.9 1287.1,664.4 1288.6,666.1 1291,668.1 1301.5,667.4 1310.6,663.8 1312.6,664.7 1317.1,668 1319.8,669.4 1327.7,667.5 1332.1,668.5 1340,671.5 1344.1,674.4 1351.6,680.6 1355.7,683 1371.1,684.3 1384.6,684.9 1410.1,683.8 1450.6,679.2 1458.1,677 1465.6,673.5 1471.6,669.8 1477.6,665.5 1491.1,654 1507.8,638 1524.1,620.2 1531.6,613.5 1539.1,608.1 1545.1,604.7 1551.1,602.5 1556.3,601.7 1560.1,603 1566.1,605.9 1569.1,608.1 1578.1,616.2 1581.1,618.3 1583.8,619.6 1587.1,618.9 1594.3,615.8 1600.6,615.4 1606.1,615.6 1611.1,625.5 1632.1,671.2 1636.6,679.5 1644.1,692.2 1657.6,712.8 1677.1,739.5 1686.1,750.6 1690.6,755.3 1695.1,759.3 1698.1,761.3 1711,767.2 1713.1,768.6 1720.6,775 1729.6,783.8 1733.3,786.5 1747.6,791.6 1762.6,801.1 1768.6,804 1785.7,810.4 1804.1,816.5 1807.6,818.7 1814.6,824.1 1825.6,833.7 1830.1,836.2 1833.1,837 1834.6,836.7 1837.6,835.5 1840,834" stroke="#F68B33"/>
<polyline class="c" points="346.6,1100 349,1097.9 353,1096.3 369.1,1094.9 375.1,1093.3 406,1081 415.6,1076.3 426.1,1070.5 433.6,1065.6 439.6,1060.6 450,1048.3 454.6,1044.1 469.6,1034 489.1,1019.9 511.6,1007.6 528.1,997.6 552.1,985.9 585.1,966 590.4,963.5 604.6,958.3 618.1,945.6 623.3,941.3 640.6,931.7 660.1,917.6 676.6,906.8 683.5,903 694.6,898 697.6,895.1 708.1,882 711.1,879.1 723,873.7 726.1,871.8 730.6,867.9 741.1,857.9 753.1,849.8 757.6,846.3 765.1,839.7 771.3,833.6 775.6,828.4 786.1,814.3 795.1,803.6 804.3,793.5 817.6,780.7 822.1,774.6 834.1,755.8 837.1,751.6 849.1,739.5 863.6,720.6 876.7,706.3 883.6,697.5 887.7,693.2 894.1,688.3 898.6,685.6 900.1,685 905.5,685.2 909.1,683.6 921.1,675.1 926.5,672.5 943.6,675.5 944.9,675.6 948.1,674.5 955.6,670.3 973.6,657.7 978.1,655.3 981.6,654 987.1,654.5 993.1,655.4 999.1,657.8 1012.6,664.6 1019.6,666.7 1026.1,664.6 1041.1,657.3 1047.1,655.4 1057.6,657.2 1063.6,656.8 1081.2,655 1094.3,651.8 1101.1,655 1102.6,655.2 1107.1,654 1114,651.1 1120.6,645.4 1123.2,643.8 1133.7,647 1156.6,646.3 1180.8,643.9 1188.7,645.1 1191.1,648.7 1194.1,654.6 1196,657 1200.1,655.9 1205.7,653.3 1207.6,650.4 1213.6,637.2 1216.2,633.5 1224,635.4 1230.1,639.4 1233.3,640.9 1256.9,641.5 1264.6,642.9 1270.6,645 1275.2,647.4 1276.6,648.9 1287.1,664.4 1288.6,666.1 1291,668.1 1301.5,667.4 1310.6,663.8 1312.6,664.7 1317.1,668 1319.8,669.4 1327.7,667.5 1332.1,668.5 1340,671.5 1344.1,674.4 1351.6,680.6 1355.7,683 1371.1,684.3 1384.6,684.9 1410.1,683.8 1450.6,679.2 1458.1,677 1465.6,673.5 1471.6,669.8 1477.6,665.5 1491.1,654 1507.8,638 1524.1,620.2 1531.6,613.5 1539.1,608.1 1545.1,604.7 1551.1,602.5 1556.3,601.7 1560.1,603 1566.1,605.9 1569.1,608.1 1578.1,616.2 1581.1,618.3 1583.8,619.6 1587.1,618.9 1594.3,615.8 1600.6,615.4 1606.1,615.6 1611.1,625.5 1632.1,671.2 1636.6,679.5 1644.1,692.2 1657.6,712.8 1677.1,739.5 1686.1,750.6 1690.6,755.3 1695.1,759.3 1698.1,761.3 1711,767.2 1713.1,768.6 1720.6,775 1729.6,783.8 1733.3,786.5 1747.6,791.6 1762.6,801.1 1768.6,804 1785.7,810.4 1804.1,816.5 1807.6,818.7 1814.6,824.1 1825.6,833.7 1830.1,836.2 1833.1,837 1834.6,836.7 1837.6,835.5 1840,834" stroke="#F68B33"/>
<polyline class="b" filter="url(#softer)" points="346.6,1070.7 349,1068.3 353,1066.7 367.6,1066.5 371,1066.2 373.6,1065.5 406.6,1053.3 415.6,1049.4 427.6,1043.5 433.6,1039.9 439.6,1035.1 450,1023 454.6,1018.9 469.6,1010.1 489.1,997.1 511.6,986.1 529,976.3 546.1,969.2 552.1,966.4 585.1,947.8 590.4,945.6 604.6,941.4 618.1,929.2 623.3,925.2 640.6,916.6 660.1,903.6 676.6,893.7 683.5,890.3 694.6,886.1 697.6,883.4 708.1,870.8 711.1,868 723,863.5 726.1,861.8 730.6,858.3 741.1,848.9 753.1,841.7 757.6,838.6 765.1,832.6 771.3,827 775.6,822.2 786.1,809 795.1,799.2 804.3,790 814.6,781.3 819.1,776.8 826.6,766.6 834.1,755.3 837.2,751.3 849.1,740.5 862.6,724.2 876.7,710 885.1,700.2 889.6,696.5 897.1,691.8 900,690.6 905.5,690.8 907.6,690.1 912.1,687.4 921.1,681 926.5,678.4 931.6,679.1 942.1,681.3 944.9,681.6 946.6,681 951.1,679 955.6,676.4 973.6,664 978.1,661.7 981.6,660.5 987.1,660.9 993.1,661.9 999.1,664.3 1012.6,671 1019.6,673.2 1026.1,671.2 1041.1,664 1047.1,662.2 1057.6,664 1063.6,663.6 1081.2,662 1094.3,658.9 1101.1,662.1 1102.6,662.4 1107.1,661.1 1114,658.4 1120.6,652.8 1123.2,651.2 1133.7,654.4 1156.6,653.8 1180.8,651.5 1188.7,652.8 1191.1,656.3 1194.1,662.1 1196,664.5 1200.1,663.4 1205.7,660.9 1207.6,658 1213.6,645 1216.2,641.3 1224,643.3 1230.1,647.2 1233.3,648.8 1256.9,649.4 1266.1,650.8 1269.1,650.3 1275.2,647.5 1276.6,647.4 1281.1,648.4 1288.6,652.1 1291,652.9 1301.5,651.5 1310.6,647.2 1312.6,647.9 1317.1,650.5 1319.8,651.4 1327.7,648.1 1330.6,648.1 1336.6,648.9 1341.1,649.9 1345.6,652.4 1351.6,656.3 1355.7,658.2 1384.6,658.7 1447.6,655.9 1455.1,655.2 1462.6,653.8 1474.6,650.2 1488.1,644.9 1507.8,635.7 1521.1,628.7 1528.8,625.1 1540.6,621 1551.1,618.9 1556.3,618.5 1560.1,619.9 1565.5,622.5 1569.1,625.1 1578.1,633 1581.1,635.1 1583.8,636.5 1587.1,635.9 1594.3,633.2 1600.6,633 1606.1,633.3 1630.6,707 1636.6,723 1645.6,744.8 1659.1,774.2 1674.1,803.9 1684.6,822.9 1693.6,836.8 1696.6,840.8 1699.6,844.1 1711.6,856 1728.1,877.2 1732.6,882.4 1747.6,894 1764.1,908.9 1771.6,914.4 1780.6,920.2 1804.1,933.9 1814.6,942.5 1825.6,952.5 1830.1,955.6 1833.1,957 1836.1,956.5 1840,955" stroke="#CD7371"/>
<polyline class="c" points="346.6,1070.7 349,1068.3 353,1066.7 367.6,1066.5 371,1066.2 373.6,1065.5 406.6,1053.3 415.6,1049.4 427.6,1043.5 433.6,1039.9 439.6,1035.1 450,1023 454.6,1018.9 469.6,1010.1 489.1,997.1 511.6,986.1 529,976.3 546.1,969.2 552.1,966.4 585.1,947.8 590.4,945.6 604.6,941.4 618.1,929.2 623.3,925.2 640.6,916.6 660.1,903.6 676.6,893.7 683.5,890.3 694.6,886.1 697.6,883.4 708.1,870.8 711.1,868 723,863.5 726.1,861.8 730.6,858.3 741.1,848.9 753.1,841.7 757.6,838.6 765.1,832.6 771.3,827 775.6,822.2 786.1,809 795.1,799.2 804.3,790 814.6,781.3 819.1,776.8 826.6,766.6 834.1,755.3 837.2,751.3 849.1,740.5 862.6,724.2 876.7,710 885.1,700.2 889.6,696.5 897.1,691.8 900,690.6 905.5,690.8 907.6,690.1 912.1,687.4 921.1,681 926.5,678.4 931.6,679.1 942.1,681.3 944.9,681.6 946.6,681 951.1,679 955.6,676.4 973.6,664 978.1,661.7 981.6,660.5 987.1,660.9 993.1,661.9 999.1,664.3 1012.6,671 1019.6,673.2 1026.1,671.2 1041.1,664 1047.1,662.2 1057.6,664 1063.6,663.6 1081.2,662 1094.3,658.9 1101.1,662.1 1102.6,662.4 1107.1,661.1 1114,658.4 1120.6,652.8 1123.2,651.2 1133.7,654.4 1156.6,653.8 1180.8,651.5 1188.7,652.8 1191.1,656.3 1194.1,662.1 1196,664.5 1200.1,663.4 1205.7,660.9 1207.6,658 1213.6,645 1216.2,641.3 1224,643.3 1230.1,647.2 1233.3,648.8 1256.9,649.4 1266.1,650.8 1269.1,650.3 1275.2,647.5 1276.6,647.4 1281.1,648.4 1288.6,652.1 1291,652.9 1301.5,651.5 1310.6,647.2 1312.6,647.9 1317.1,650.5 1319.8,651.4 1327.7,648.1 1330.6,648.1 1336.6,648.9 1341.1,649.9 1345.6,652.4 1351.6,656.3 1355.7,658.2 1384.6,658.7 1447.6,655.9 1455.1,655.2 1462.6,653.8 1474.6,650.2 1488.1,644.9 1507.8,635.7 1521.1,628.7 1528.8,625.1 1540.6,621 1551.1,618.9 1556.3,618.5 1560.1,619.9 1565.5,622.5 1569.1,625.1 1578.1,633 1581.1,635.1 1583.8,636.5 1587.1,635.9 1594.3,633.2 1600.6,633 1606.1,633.3 1630.6,707 1636.6,723 1645.6,744.8 1659.1,774.2 1674.1,803.9 1684.6,822.9 1693.6,836.8 1696.6,840.8 1699.6,844.1 1711.6,856 1728.1,877.2 1732.6,882.4 1747.6,894 1764.1,908.9 1771.6,914.4 1780.6,920.2 1804.1,933.9 1814.6,942.5 1825.6,952.5 1830.1,955.6 1833.1,957 1836.1,956.5 1840,955" stroke="#CD7371"/>
<polyline class="b" filter="url(#softer)" points="346.6,1057 349,1054.5 353,1052.9 367.6,1053.1 371,1052.9 373.6,1052.3 388.6,1046.6 408.1,1040 427.6,1031.3 433.6,1027.9 439.6,1023.3 450,1011.2 454.6,1007.2 469.6,999 487.6,987.4 495.1,983.5 511.6,976.1 529,966.7 550.6,958 585.1,939.5 590.4,937.4 601.6,934.6 604.6,933.6 618.1,921.6 623.3,917.7 640.6,909.7 660.1,897.2 676.6,887.8 683.5,884.6 694.6,880.7 697.6,878.1 708.1,865.7 711.1,863 723,859 726.1,857.3 730.6,853.9 741.1,844.9 753.1,838.2 757.6,835.2 765.1,829.5 771.3,824.2 775.6,819.6 786.1,806.7 795.1,797.4 804.3,788.6 814.6,780.4 819.1,776.1 826.6,766.3 834.1,755.4 837.2,751.5 849.1,741.3 862.6,725.7 876.7,712 885.1,702.6 889.6,699.1 897.1,694.7 900,693.6 905.5,693.8 907.6,693.1 912.1,690.5 921.1,684.1 926.5,681.6 931.6,682.3 942.1,684.5 944.9,684.9 946.6,684.3 951.1,682.4 955.6,679.8 973.6,667.6 978.1,665.3 981.6,664.1 987.1,664.6 993.1,665.6 999.1,668 1012.6,674.8 1019.6,677 1026.1,675 1041.1,668 1047.1,666.1 1057.6,668 1063.6,667.7 1081.2,666.2 1094.3,663.1 1101.1,666.4 1102.6,666.6 1107.1,665.4 1114,662.8 1120.6,657.2 1123.2,655.7 1133.7,658.9 1155.1,658.5 1180.8,656.2 1188.7,657.5 1191.1,661 1194.1,666.8 1196,669.1 1200.1,668 1205.7,665.6 1207.6,662.7 1213.6,649.9 1216.2,646.2 1224,648.2 1230.1,652.1 1233.3,653.6 1240.6,653.8 1245.1,655 1249.6,657.5 1255.6,662.8 1260.1,668.2 1264.6,674.5 1269.1,681.9 1275.2,693.2 1285.6,721 1288.6,727.8 1291,731.8 1296.1,735.1 1301.5,737.7 1309.6,738.6 1311.1,739.3 1319.8,751.4 1327.7,757.3 1332.1,763 1340,775.3 1348.6,791.1 1353.1,797.7 1355.7,800.5 1357.6,801.6 1362.1,803.8 1366.6,805.4 1375.6,808 1383.1,809.7 1396.6,810.6 1411.6,810.2 1447.6,808.3 1458.1,806.7 1464.1,805.2 1470.1,803.1 1483.6,797.1 1500.1,788 1522.6,774 1530.1,770 1540.6,765.6 1546.6,763.9 1551.1,763.1 1556.3,762.6 1565.5,765.7 1569.1,767.7 1578.1,773.8 1583.8,776.5 1587.1,776.1 1594.3,774.2 1606.1,774.4 1609.6,780.7 1630.6,821.6 1636.6,832 1644.1,843.7 1656.1,860.9 1672.6,882.5 1683.1,895.4 1692.1,904.9 1696.6,908.9 1713.1,919.6 1729.6,934.5 1732.6,936.9 1747.6,944.7 1764.7,956.2 1780.6,964.3 1804.1,974.9 1814.6,982 1825.6,990.3 1830.1,992.9 1833.1,994 1836.1,993.5 1840,992.3" stroke="#DBA5A1"/>
<polyline class="c" points="346.6,1057 349,1054.5 353,1052.9 367.6,1053.1 371,1052.9 373.6,1052.3 388.6,1046.6 408.1,1040 427.6,1031.3 433.6,1027.9 439.6,1023.3 450,1011.2 454.6,1007.2 469.6,999 487.6,987.4 495.1,983.5 511.6,976.1 529,966.7 550.6,958 585.1,939.5 590.4,937.4 601.6,934.6 604.6,933.6 618.1,921.6 623.3,917.7 640.6,909.7 660.1,897.2 676.6,887.8 683.5,884.6 694.6,880.7 697.6,878.1 708.1,865.7 711.1,863 723,859 726.1,857.3 730.6,853.9 741.1,844.9 753.1,838.2 757.6,835.2 765.1,829.5 771.3,824.2 775.6,819.6 786.1,806.7 795.1,797.4 804.3,788.6 814.6,780.4 819.1,776.1 826.6,766.3 834.1,755.4 837.2,751.5 849.1,741.3 862.6,725.7 876.7,712 885.1,702.6 889.6,699.1 897.1,694.7 900,693.6 905.5,693.8 907.6,693.1 912.1,690.5 921.1,684.1 926.5,681.6 931.6,682.3 942.1,684.5 944.9,684.9 946.6,684.3 951.1,682.4 955.6,679.8 973.6,667.6 978.1,665.3 981.6,664.1 987.1,664.6 993.1,665.6 999.1,668 1012.6,674.8 1019.6,677 1026.1,675 1041.1,668 1047.1,666.1 1057.6,668 1063.6,667.7 1081.2,666.2 1094.3,663.1 1101.1,666.4 1102.6,666.6 1107.1,665.4 1114,662.8 1120.6,657.2 1123.2,655.7 1133.7,658.9 1155.1,658.5 1180.8,656.2 1188.7,657.5 1191.1,661 1194.1,666.8 1196,669.1 1200.1,668 1205.7,665.6 1207.6,662.7 1213.6,649.9 1216.2,646.2 1224,648.2 1230.1,652.1 1233.3,653.6 1240.6,653.8 1245.1,655 1249.6,657.5 1255.6,662.8 1260.1,668.2 1264.6,674.5 1269.1,681.9 1275.2,693.2 1285.6,721 1288.6,727.8 1291,731.8 1296.1,735.1 1301.5,737.7 1309.6,738.6 1311.1,739.3 1319.8,751.4 1327.7,757.3 1332.1,763 1340,775.3 1348.6,791.1 1353.1,797.7 1355.7,800.5 1357.6,801.6 1362.1,803.8 1366.6,805.4 1375.6,808 1383.1,809.7 1396.6,810.6 1411.6,810.2 1447.6,808.3 1458.1,806.7 1464.1,805.2 1470.1,803.1 1483.6,797.1 1500.1,788 1522.6,774 1530.1,770 1540.6,765.6 1546.6,763.9 1551.1,763.1 1556.3,762.6 1565.5,765.7 1569.1,767.7 1578.1,773.8 1583.8,776.5 1587.1,776.1 1594.3,774.2 1606.1,774.4 1609.6,780.7 1630.6,821.6 1636.6,832 1644.1,843.7 1656.1,860.9 1672.6,882.5 1683.1,895.4 1692.1,904.9 1696.6,908.9 1713.1,919.6 1729.6,934.5 1732.6,936.9 1747.6,944.7 1764.7,956.2 1780.6,964.3 1804.1,974.9 1814.6,982 1825.6,990.3 1830.1,992.9 1833.1,994 1836.1,993.5 1840,992.3" stroke="#DBA5A1"/>
<polyline class="b" filter="url(#softer)" points="346.6,1085 349,1082.8 353,1081.2 367.6,1080.6 373.6,1079.5 406,1067.6 415.6,1063.3 426.1,1058 433.6,1053.5 439.6,1048.7 450,1036.8 454.6,1032.8 469.6,1023.7 489.1,1010.5 511.6,999.3 529,989.5 546.1,982.2 552.1,979.3 585.1,960.6 590.4,958.4 604.6,953.8 618.1,941.7 623.3,937.7 640.6,928.9 660.1,915.8 676.6,905.8 683.5,902.3 694.6,897.9 697.6,895.2 708.1,882.6 711.1,879.9 723,875.1 726.1,873.4 730.6,869.8 741.1,860.4 753.1,853 757.6,849.8 765.1,843.7 771.3,838.1 775.6,833.2 786.1,819.9 795.1,810 804.3,800.7 817.6,788.9 822.1,783.3 834.1,765.6 837.1,761.7 849.1,750.5 863.6,733 876.7,719.7 883.6,711.5 887.7,707.4 894.1,703 898.6,700.5 900.1,700 905.5,700.3 909.1,698.9 921.1,690.9 926.5,688.5 943.6,691.8 944.9,691.9 948.1,690.9 955.6,687 973.6,675.2 978.1,673 981.6,671.9 987.1,672.4 993.1,673.5 999.1,676 1012.6,682.8 1019.6,685 1026.1,683.1 1041.1,676.4 1047.1,674.7 1057.6,676.7 1063.6,676.4 1081.2,675.2 1094.3,672.3 1101.1,675.6 1102.6,675.9 1107.1,674.7 1114,672.2 1120.6,666.8 1123.2,665.3 1133.7,668.6 1155.1,668.5 1180.8,666.4 1188.7,667.7 1191.1,671.1 1194.1,676.8 1196,679.1 1200.1,678.1 1205.7,675.7 1207.6,672.9 1213.6,660.4 1216.2,656.8 1224,658.8 1230.1,662.6 1233.3,664.1 1256.9,664.8 1264.6,666.1 1267.6,667.8 1270.6,670.7 1275.2,676.8 1278.1,682.9 1285.6,700.9 1288.6,706.4 1291,709.3 1294.6,709.4 1301.5,708.6 1310.6,704.8 1312.6,705.5 1317.1,708.4 1319.8,709.5 1327.7,706.9 1332.1,707.4 1340,709.4 1344.1,711.7 1351.6,717 1355.7,719.1 1384.6,720.2 1411.6,719.2 1447.6,717.1 1455.1,715.9 1462.6,713.8 1473.1,709 1485.1,701.8 1504.6,687.6 1522.6,673.3 1531.6,667.3 1539.1,663.4 1545.1,661 1551.1,659.5 1556.3,659 1560.1,660.5 1566.1,663.5 1569.1,665.6 1578.1,673.3 1581.1,675.4 1583.8,676.7 1587.1,676.4 1594.3,674.4 1600.6,674.6 1606.1,675.2 1611.1,684.9 1632.1,729.4 1644.1,750.6 1657.6,771.8 1677.1,800.1 1686.1,812.1 1695.1,822.2 1698.1,824.7 1711,833.6 1713.1,835.4 1720.6,843.1 1729.6,853.4 1733.3,856.8 1747.6,865.8 1762.6,878.5 1768.6,882.9 1785.7,893.9 1804.1,905 1814.6,914.5 1824.1,924.2 1827.7,927.4 1833.1,930.6 1836.1,930 1840,928.4" stroke="#2FA5C4"/>
<polyline class="c" points="346.6,1085 349,1082.8 353,1081.2 367.6,1080.6 373.6,1079.5 406,1067.6 415.6,1063.3 426.1,1058 433.6,1053.5 439.6,1048.7 450,1036.8 454.6,1032.8 469.6,1023.7 489.1,1010.5 511.6,999.3 529,989.5 546.1,982.2 552.1,979.3 585.1,960.6 590.4,958.4 604.6,953.8 618.1,941.7 623.3,937.7 640.6,928.9 660.1,915.8 676.6,905.8 683.5,902.3 694.6,897.9 697.6,895.2 708.1,882.6 711.1,879.9 723,875.1 726.1,873.4 730.6,869.8 741.1,860.4 753.1,853 757.6,849.8 765.1,843.7 771.3,838.1 775.6,833.2 786.1,819.9 795.1,810 804.3,800.7 817.6,788.9 822.1,783.3 834.1,765.6 837.1,761.7 849.1,750.5 863.6,733 876.7,719.7 883.6,711.5 887.7,707.4 894.1,703 898.6,700.5 900.1,700 905.5,700.3 909.1,698.9 921.1,690.9 926.5,688.5 943.6,691.8 944.9,691.9 948.1,690.9 955.6,687 973.6,675.2 978.1,673 981.6,671.9 987.1,672.4 993.1,673.5 999.1,676 1012.6,682.8 1019.6,685 1026.1,683.1 1041.1,676.4 1047.1,674.7 1057.6,676.7 1063.6,676.4 1081.2,675.2 1094.3,672.3 1101.1,675.6 1102.6,675.9 1107.1,674.7 1114,672.2 1120.6,666.8 1123.2,665.3 1133.7,668.6 1155.1,668.5 1180.8,666.4 1188.7,667.7 1191.1,671.1 1194.1,676.8 1196,679.1 1200.1,678.1 1205.7,675.7 1207.6,672.9 1213.6,660.4 1216.2,656.8 1224,658.8 1230.1,662.6 1233.3,664.1 1256.9,664.8 1264.6,666.1 1267.6,667.8 1270.6,670.7 1275.2,676.8 1278.1,682.9 1285.6,700.9 1288.6,706.4 1291,709.3 1294.6,709.4 1301.5,708.6 1310.6,704.8 1312.6,705.5 1317.1,708.4 1319.8,709.5 1327.7,706.9 1332.1,707.4 1340,709.4 1344.1,711.7 1351.6,717 1355.7,719.1 1384.6,720.2 1411.6,719.2 1447.6,717.1 1455.1,715.9 1462.6,713.8 1473.1,709 1485.1,701.8 1504.6,687.6 1522.6,673.3 1531.6,667.3 1539.1,663.4 1545.1,661 1551.1,659.5 1556.3,659 1560.1,660.5 1566.1,663.5 1569.1,665.6 1578.1,673.3 1581.1,675.4 1583.8,676.7 1587.1,676.4 1594.3,674.4 1600.6,674.6 1606.1,675.2 1611.1,684.9 1632.1,729.4 1644.1,750.6 1657.6,771.8 1677.1,800.1 1686.1,812.1 1695.1,822.2 1698.1,824.7 1711,833.6 1713.1,835.4 1720.6,843.1 1729.6,853.4 1733.3,856.8 1747.6,865.8 1762.6,878.5 1768.6,882.9 1785.7,893.9 1804.1,905 1814.6,914.5 1824.1,924.2 1827.7,927.4 1833.1,930.6 1836.1,930 1840,928.4" stroke="#2FA5C4"/>
<polyline class="b" filter="url(#softer)" points="346.6,1046 349,1043.4 353,1041.7 367.6,1042.4 371,1042.2 373.6,1041.6 388.6,1036 408.1,1029.6 429.1,1020.7 435.1,1017.2 440,1013.3 450,1001.5 454.6,997.6 469.6,989.8 487.6,978.5 495.1,974.9 511.6,967.8 529,958.6 550.6,950.3 585.1,932.3 590.4,930.3 601.6,927.8 604.6,926.8 618.1,915 623.3,911.2 640.6,903.5 660.1,891.4 676.6,882.3 683.5,879.3 694.6,875.7 697.6,873.1 708.1,860.9 711.1,858.2 723,854.5 726.1,852.9 730.6,849.6 741.1,840.8 753.1,834.4 757.6,831.6 765.1,826.1 771.3,820.9 775.6,816.4 786.1,803.9 795.1,794.8 804.3,786.4 814.6,778.6 819.1,774.4 826.6,764.9 834.1,754.2 837.2,750.5 849.1,740.6 862.6,725.5 876.7,712.3 885.1,703.1 889.6,699.7 897.1,695.5 900,694.5 905.5,694.8 907.6,694 912.1,691.5 921.1,685.1 926.5,682.6 931.6,683.3 942.1,685.5 944.9,685.9 946.6,685.3 951.1,683.4 955.6,680.8 973.6,668.6 978.1,666.4 981.6,665.2 987.1,665.7 993.1,666.7 999.1,669.1 1012.6,675.9 1019.6,678.1 1026.1,676.1 1041.1,669.2 1047.1,667.4 1057.6,669.2 1063.6,668.9 1081.2,667.5 1094.3,664.4 1101.1,667.7 1102.6,667.9 1107.1,666.8 1114,664.1 1120.6,658.6 1123.2,657.1 1133.7,660.3 1155.1,659.9 1180.8,657.7 1188.7,658.9 1191.1,662.5 1194.1,668.2 1196,670.5 1200.1,669.5 1205.7,667.1 1207.6,664.2 1213.6,651.4 1216.2,647.7 1224,649.7 1230.1,653.6 1233.3,655.1 1242.1,655.5 1246.6,656.8 1251.1,659.1 1257.1,663.6 1261.6,668.2 1266.1,673.7 1270.6,680.7 1275.1,688.9 1285.6,716.8 1288.6,723.4 1291,727.2 1296.1,729.9 1301.5,732 1309.6,732.4 1311.1,733.1 1319.8,744.4 1327.7,749.5 1332.1,754.7 1340,765.9 1348.6,780.7 1353.1,786.9 1356.1,789.8 1360.6,791.9 1366.6,794.1 1375.6,796.4 1383.1,797.9 1396.6,798.7 1411.6,798.4 1447.6,796.6 1458.1,795.2 1470.1,791.8 1483.6,786.1 1506.1,774.3 1524.1,763.8 1531.6,760.2 1542.1,756.4 1548.1,754.9 1552.6,754.2 1556.3,754 1565.5,757.2 1569.1,759.2 1578.1,765.5 1583.8,768.2 1587.1,767.8 1594.3,765.9 1600.6,765.9 1606.1,766.3 1611.1,774.5 1630.6,809.6 1635.1,816.9 1642.6,827.8 1656.1,845.6 1672.6,865.4 1683.1,877.2 1692.1,885.9 1696.6,889.4 1711,897 1713.1,898.5 1720.6,904.4 1729.6,912.4 1732.6,914.5 1747.6,921.3 1764.7,932 1779.1,938.7 1804.1,949 1814.6,956 1825.6,964.3 1830.1,966.7 1833.1,967.8 1836.1,967.3 1840,965.9" stroke="#2A5C96"/>
<polyline class="c" points="346.6,1046 349,1043.4 353,1041.7 367.6,1042.4 371,1042.2 373.6,1041.6 388.6,1036 408.1,1029.6 429.1,1020.7 435.1,1017.2 440,1013.3 450,1001.5 454.6,997.6 469.6,989.8 487.6,978.5 495.1,974.9 511.6,967.8 529,958.6 550.6,950.3 585.1,932.3 590.4,930.3 601.6,927.8 604.6,926.8 618.1,915 623.3,911.2 640.6,903.5 660.1,891.4 676.6,882.3 683.5,879.3 694.6,875.7 697.6,873.1 708.1,860.9 711.1,858.2 723,854.5 726.1,852.9 730.6,849.6 741.1,840.8 753.1,834.4 757.6,831.6 765.1,826.1 771.3,820.9 775.6,816.4 786.1,803.9 795.1,794.8 804.3,786.4 814.6,778.6 819.1,774.4 826.6,764.9 834.1,754.2 837.2,750.5 849.1,740.6 862.6,725.5 876.7,712.3 885.1,703.1 889.6,699.7 897.1,695.5 900,694.5 905.5,694.8 907.6,694 912.1,691.5 921.1,685.1 926.5,682.6 931.6,683.3 942.1,685.5 944.9,685.9 946.6,685.3 951.1,683.4 955.6,680.8 973.6,668.6 978.1,666.4 981.6,665.2 987.1,665.7 993.1,666.7 999.1,669.1 1012.6,675.9 1019.6,678.1 1026.1,676.1 1041.1,669.2 1047.1,667.4 1057.6,669.2 1063.6,668.9 1081.2,667.5 1094.3,664.4 1101.1,667.7 1102.6,667.9 1107.1,666.8 1114,664.1 1120.6,658.6 1123.2,657.1 1133.7,660.3 1155.1,659.9 1180.8,657.7 1188.7,658.9 1191.1,662.5 1194.1,668.2 1196,670.5 1200.1,669.5 1205.7,667.1 1207.6,664.2 1213.6,651.4 1216.2,647.7 1224,649.7 1230.1,653.6 1233.3,655.1 1242.1,655.5 1246.6,656.8 1251.1,659.1 1257.1,663.6 1261.6,668.2 1266.1,673.7 1270.6,680.7 1275.1,688.9 1285.6,716.8 1288.6,723.4 1291,727.2 1296.1,729.9 1301.5,732 1309.6,732.4 1311.1,733.1 1319.8,744.4 1327.7,749.5 1332.1,754.7 1340,765.9 1348.6,780.7 1353.1,786.9 1356.1,789.8 1360.6,791.9 1366.6,794.1 1375.6,796.4 1383.1,797.9 1396.6,798.7 1411.6,798.4 1447.6,796.6 1458.1,795.2 1470.1,791.8 1483.6,786.1 1506.1,774.3 1524.1,763.8 1531.6,760.2 1542.1,756.4 1548.1,754.9 1552.6,754.2 1556.3,754 1565.5,757.2 1569.1,759.2 1578.1,765.5 1583.8,768.2 1587.1,767.8 1594.3,765.9 1600.6,765.9 1606.1,766.3 1611.1,774.5 1630.6,809.6 1635.1,816.9 1642.6,827.8 1656.1,845.6 1672.6,865.4 1683.1,877.2 1692.1,885.9 1696.6,889.4 1711,897 1713.1,898.5 1720.6,904.4 1729.6,912.4 1732.6,914.5 1747.6,921.3 1764.7,932 1779.1,938.7 1804.1,949 1814.6,956 1825.6,964.3 1830.1,966.7 1833.1,967.8 1836.1,967.3 1840,965.9" stroke="#2A5C96"/>
<polyline class="b" filter="url(#softer)" points="346.6,1049.5 349,1046.9 353,1045.3 367.6,1045.8 371,1045.6 373.6,1045 388.6,1039.4 408.1,1033 417.1,1029.4 429.1,1024 435.1,1020.5 440,1016.6 450,1004.8 454.6,1001 469.6,993.1 487.6,981.8 495.1,978.1 511.6,970.9 529,961.7 550.6,953.4 585.1,935.3 590.4,933.3 601.6,930.7 604.6,929.8 618.1,918 623.3,914.1 640.6,906.4 660.1,894.2 676.6,885.1 683.5,882 694.6,878.4 697.6,875.8 708.1,863.6 711.1,861 723,857.1 726.1,855.6 730.6,852.3 741.1,843.4 753.1,837 757.6,834.1 765.1,828.6 771.3,823.4 775.6,818.9 786.1,806.4 795.1,797.2 804.3,788.7 814.6,780.9 819.1,776.7 826.6,767.1 834.1,756.4 837.2,752.7 849.1,742.8 862.6,727.6 876.7,714.3 885.1,705.1 889.6,701.7 897.1,697.5 900,696.5 905.5,696.7 907.6,696 912.1,693.5 921.1,687.2 926.5,684.6 931.6,685.4 942.1,687.7 944.9,688 946.6,687.5 951.1,685.6 955.6,683 973.6,671 978.1,668.7 981.6,667.5 987.1,668 993.1,669.1 999.1,671.6 1012.6,678.3 1019.6,680.6 1026.1,678.6 1041.1,671.7 1047.1,669.9 1057.6,671.9 1063.6,671.6 1081.2,670.2 1094.3,667.2 1101.1,670.5 1102.6,670.7 1107.1,669.6 1114,666.9 1120.6,661.5 1123.2,660 1133.7,663.2 1155.1,662.9 1180.8,660.7 1188.7,662 1191.1,665.5 1194.1,671.2 1196,673.6 1200.1,672.5 1205.7,670.1 1207.6,667.2 1213.6,654.5 1216.2,650.9 1224,652.9 1230.1,656.8 1233.3,658.3 1240.6,658.5 1245.1,659.5 1251.1,662.7 1256.9,667.4 1261.6,672.7 1266.1,678.5 1270.6,685.9 1275.2,694.4 1285.6,722.1 1288.6,728.8 1291,732.7 1296.1,735.6 1301.5,737.9 1309.6,738.5 1311.1,739.2 1319.8,750.8 1327.7,756.2 1332.1,761.6 1340,773.2 1348.6,788.4 1353.1,794.7 1356.1,797.6 1360.6,799.9 1366.6,802.1 1375.6,804.5 1383.1,806.1 1396.6,806.9 1411.6,806.6 1447.6,804.9 1458.1,803.5 1470.1,800.2 1483.6,794.6 1498.6,787 1522.6,773.4 1530.1,769.7 1542.1,765.3 1548.1,763.9 1552.6,763.2 1556.3,763 1565.5,766.2 1569.1,768.2 1578.1,774.4 1583.8,777.1 1587.1,776.8 1594.3,775 1606.1,775.4 1609.6,781.4 1632.1,823.4 1644.1,841.9 1657.6,860.3 1674.1,880.9 1684.6,893.1 1692.1,900.5 1696.6,904.3 1711,912.7 1713.1,914.2 1720.6,920.5 1729.6,928.6 1732.6,930.9 1747.6,938.2 1764.7,949.2 1780.6,956.9 1804.1,967.1 1814.6,974 1825.6,982.2 1830.1,984.7 1833.1,985.8 1836.1,985.3 1840,984" stroke="#C7BCDC"/>
<polyline class="c" points="346.6,1049.5 349,1046.9 353,1045.3 367.6,1045.8 371,1045.6 373.6,1045 388.6,1039.4 408.1,1033 417.1,1029.4 429.1,1024 435.1,1020.5 440,1016.6 450,1004.8 454.6,1001 469.6,993.1 487.6,981.8 495.1,978.1 511.6,970.9 529,961.7 550.6,953.4 585.1,935.3 590.4,933.3 601.6,930.7 604.6,929.8 618.1,918 623.3,914.1 640.6,906.4 660.1,894.2 676.6,885.1 683.5,882 694.6,878.4 697.6,875.8 708.1,863.6 711.1,861 723,857.1 726.1,855.6 730.6,852.3 741.1,843.4 753.1,837 757.6,834.1 765.1,828.6 771.3,823.4 775.6,818.9 786.1,806.4 795.1,797.2 804.3,788.7 814.6,780.9 819.1,776.7 826.6,767.1 834.1,756.4 837.2,752.7 849.1,742.8 862.6,727.6 876.7,714.3 885.1,705.1 889.6,701.7 897.1,697.5 900,696.5 905.5,696.7 907.6,696 912.1,693.5 921.1,687.2 926.5,684.6 931.6,685.4 942.1,687.7 944.9,688 946.6,687.5 951.1,685.6 955.6,683 973.6,671 978.1,668.7 981.6,667.5 987.1,668 993.1,669.1 999.1,671.6 1012.6,678.3 1019.6,680.6 1026.1,678.6 1041.1,671.7 1047.1,669.9 1057.6,671.9 1063.6,671.6 1081.2,670.2 1094.3,667.2 1101.1,670.5 1102.6,670.7 1107.1,669.6 1114,666.9 1120.6,661.5 1123.2,660 1133.7,663.2 1155.1,662.9 1180.8,660.7 1188.7,662 1191.1,665.5 1194.1,671.2 1196,673.6 1200.1,672.5 1205.7,670.1 1207.6,667.2 1213.6,654.5 1216.2,650.9 1224,652.9 1230.1,656.8 1233.3,658.3 1240.6,658.5 1245.1,659.5 1251.1,662.7 1256.9,667.4 1261.6,672.7 1266.1,678.5 1270.6,685.9 1275.2,694.4 1285.6,722.1 1288.6,728.8 1291,732.7 1296.1,735.6 1301.5,737.9 1309.6,738.5 1311.1,739.2 1319.8,750.8 1327.7,756.2 1332.1,761.6 1340,773.2 1348.6,788.4 1353.1,794.7 1356.1,797.6 1360.6,799.9 1366.6,802.1 1375.6,804.5 1383.1,806.1 1396.6,806.9 1411.6,806.6 1447.6,804.9 1458.1,803.5 1470.1,800.2 1483.6,794.6 1498.6,787 1522.6,773.4 1530.1,769.7 1542.1,765.3 1548.1,763.9 1552.6,763.2 1556.3,763 1565.5,766.2 1569.1,768.2 1578.1,774.4 1583.8,777.1 1587.1,776.8 1594.3,775 1606.1,775.4 1609.6,781.4 1632.1,823.4 1644.1,841.9 1657.6,860.3 1674.1,880.9 1684.6,893.1 1692.1,900.5 1696.6,904.3 1711,912.7 1713.1,914.2 1720.6,920.5 1729.6,928.6 1732.6,930.9 1747.6,938.2 1764.7,949.2 1780.6,956.9 1804.1,967.1 1814.6,974 1825.6,982.2 1830.1,984.7 1833.1,985.8 1836.1,985.3 1840,984" stroke="#C7BCDC"/>
<polyline class="b" filter="url(#softer)" points="346.6,1062.4 349,1060 353,1058.4 367.6,1058.7 371,1058.5 373.6,1057.9 388.6,1052.4 408.1,1046.1 427.6,1037.8 433.6,1034.5 439.6,1030 450,1018.4 454.6,1014.6 469.6,1006.7 487.6,995.5 495.1,991.9 511.6,984.7 529,975.7 550.6,967.4 585.1,949.6 590.4,947.6 604.6,944 618.1,932.5 623.3,928.7 640.6,921 660.1,909 676.6,900 683.5,896.9 694.6,893.2 697.6,890.7 708.1,878.8 711.1,876.2 723,872.3 726.1,870.7 730.6,867.5 741.1,858.8 753.1,852.3 757.6,849.5 765.1,844.1 771.3,838.9 775.6,834.5 786.1,822.2 795.1,813.2 804.3,804.7 817.6,794.3 822.1,789.2 834.1,772.8 837.1,769.3 849.1,759.3 863.6,743.3 876.7,731.2 883.6,723.7 887.7,720 894.1,716.1 898.6,714 900.1,713.5 905.5,714 909.1,712.7 921.1,705.2 926.5,703 943.6,706.6 944.9,706.8 948.1,705.9 955.6,702.3 973.6,691.3 978.1,689.3 981.6,688.2 993.1,690.1 999.1,692.7 1012.6,699.6 1019.6,702 1026.1,700.3 1041.1,694.2 1047.1,692.7 1057.6,694.9 1062.1,694.8 1081.2,694 1094.3,691.6 1101.1,694.9 1102.6,695.2 1107.1,694.2 1114,692 1120.6,687 1123.2,685.6 1133.7,689 1155.1,689.3 1180.8,687.7 1186.6,688.5 1188.7,689 1189.6,690 1194.1,697.9 1196,700.1 1200.1,699.2 1205.7,697 1207.6,694.3 1213.6,682.3 1216.2,678.9 1224,680.9 1230.1,684.7 1233.3,686.2 1242.1,686.7 1246.6,687.7 1251.1,689.7 1257.1,693.4 1264.6,700.3 1269.1,706.2 1275.2,716.9 1285.6,744.2 1288.6,750.7 1291,754.3 1293.1,755.4 1301.5,758.5 1309.6,758.8 1311.1,759.5 1319.8,770.1 1327.7,774.8 1332.1,779.7 1340,790.2 1350.1,806.3 1353.1,809.9 1355.7,812.4 1360.6,814.7 1365.1,816.2 1380.1,819.8 1384.6,820.5 1392.1,820.9 1410.1,820.9 1449.1,819.8 1455.1,819.2 1461.1,818.2 1471.6,815.2 1483.6,810.4 1495.6,804.7 1521.1,791.5 1528.8,788 1540.6,784.1 1551.1,782.1 1556.3,781.8 1565.5,785.4 1569.1,787.5 1578.1,793.8 1583.8,796.7 1587.1,796.7 1594.3,795.7 1606.1,797.1 1609.6,802.5 1630.6,838.2 1635.1,845.1 1642.6,855.4 1656.1,872.3 1672.6,891 1683.1,902.1 1692.1,910.3 1696.6,913.6 1711,920.8 1713.1,922.1 1732.6,937.1 1747.6,943.4 1764.7,953.3 1779.1,959.4 1804.1,968.8 1814.6,975.2 1825.6,982.8 1830.1,985 1833.1,986 1836.1,985.5 1840,984.2" stroke="#A5D6E2"/>
<polyline class="c" points="346.6,1062.4 349,1060 353,1058.4 367.6,1058.7 371,1058.5 373.6,1057.9 388.6,1052.4 408.1,1046.1 427.6,1037.8 433.6,1034.5 439.6,1030 450,1018.4 454.6,1014.6 469.6,1006.7 487.6,995.5 495.1,991.9 511.6,984.7 529,975.7 550.6,967.4 585.1,949.6 590.4,947.6 604.6,944 618.1,932.5 623.3,928.7 640.6,921 660.1,909 676.6,900 683.5,896.9 694.6,893.2 697.6,890.7 708.1,878.8 711.1,876.2 723,872.3 726.1,870.7 730.6,867.5 741.1,858.8 753.1,852.3 757.6,849.5 765.1,844.1 771.3,838.9 775.6,834.5 786.1,822.2 795.1,813.2 804.3,804.7 817.6,794.3 822.1,789.2 834.1,772.8 837.1,769.3 849.1,759.3 863.6,743.3 876.7,731.2 883.6,723.7 887.7,720 894.1,716.1 898.6,714 900.1,713.5 905.5,714 909.1,712.7 921.1,705.2 926.5,703 943.6,706.6 944.9,706.8 948.1,705.9 955.6,702.3 973.6,691.3 978.1,689.3 981.6,688.2 993.1,690.1 999.1,692.7 1012.6,699.6 1019.6,702 1026.1,700.3 1041.1,694.2 1047.1,692.7 1057.6,694.9 1062.1,694.8 1081.2,694 1094.3,691.6 1101.1,694.9 1102.6,695.2 1107.1,694.2 1114,692 1120.6,687 1123.2,685.6 1133.7,689 1155.1,689.3 1180.8,687.7 1186.6,688.5 1188.7,689 1189.6,690 1194.1,697.9 1196,700.1 1200.1,699.2 1205.7,697 1207.6,694.3 1213.6,682.3 1216.2,678.9 1224,680.9 1230.1,684.7 1233.3,686.2 1242.1,686.7 1246.6,687.7 1251.1,689.7 1257.1,693.4 1264.6,700.3 1269.1,706.2 1275.2,716.9 1285.6,744.2 1288.6,750.7 1291,754.3 1293.1,755.4 1301.5,758.5 1309.6,758.8 1311.1,759.5 1319.8,770.1 1327.7,774.8 1332.1,779.7 1340,790.2 1350.1,806.3 1353.1,809.9 1355.7,812.4 1360.6,814.7 1365.1,816.2 1380.1,819.8 1384.6,820.5 1392.1,820.9 1410.1,820.9 1449.1,819.8 1455.1,819.2 1461.1,818.2 1471.6,815.2 1483.6,810.4 1495.6,804.7 1521.1,791.5 1528.8,788 1540.6,784.1 1551.1,782.1 1556.3,781.8 1565.5,785.4 1569.1,787.5 1578.1,793.8 1583.8,796.7 1587.1,796.7 1594.3,795.7 1606.1,797.1 1609.6,802.5 1630.6,838.2 1635.1,845.1 1642.6,855.4 1656.1,872.3 1672.6,891 1683.1,902.1 1692.1,910.3 1696.6,913.6 1711,920.8 1713.1,922.1 1732.6,937.1 1747.6,943.4 1764.7,953.3 1779.1,959.4 1804.1,968.8 1814.6,975.2 1825.6,982.8 1830.1,985 1833.1,986 1836.1,985.5 1840,984.2" stroke="#A5D6E2"/>
<polyline class="b" filter="url(#softer)" points="346.6,1053 349,1050.4 353,1048.8 367.6,1049.2 371,1049 373.6,1048.4 388.6,1042.8 408.1,1036.3 427.6,1027.8 433.6,1024.5 439.6,1019.9 450,1007.8 454.6,1003.9 469.6,995.9 487.6,984.4 495.1,980.6 511.6,973.3 529,964.1 550.6,955.6 585.1,937.2 590.4,935.2 601.6,932.6 604.6,931.6 618.1,919.7 623.3,915.8 640.6,907.9 660.1,895.6 676.6,886.4 683.5,883.2 694.6,879.5 697.6,876.9 708.1,864.6 711.1,861.9 723,858 726.1,856.4 730.6,853.1 741.1,844.1 753.1,837.5 757.6,834.7 765.1,829.1 771.3,823.8 775.6,819.2 786.1,806.6 795.1,797.3 804.3,788.7 814.6,780.7 819.1,776.5 826.6,766.8 834.1,755.9 837.2,752.2 849.1,742.1 862.6,726.7 876.7,713.3 885.1,704 889.6,700.5 897.1,696.2 900,695.2 905.5,695.4 907.6,694.7 912.1,692.1 921.1,685.8 926.5,683.3 931.6,684 942.1,686.3 944.9,686.6 946.6,686.1 951.1,684.1 955.6,681.5 973.6,669.4 978.1,667.2 981.6,666 987.1,666.5 993.1,667.5 999.1,669.9 1012.6,676.7 1019.6,678.9 1026.1,676.9 1041.1,670 1047.1,668.2 1057.6,670.1 1063.6,669.8 1081.2,668.4 1094.3,665.4 1101.1,668.6 1102.6,668.9 1107.1,667.7 1114,665 1120.6,659.6 1123.2,658 1133.7,661.2 1155.1,660.9 1180.8,658.7 1188.7,660 1191.1,663.5 1194.1,669.2 1196,671.6 1200.1,670.5 1205.7,668.1 1207.6,665.2 1213.6,652.4 1216.2,648.8 1224,650.8 1230.1,654.6 1233.3,656.2 1240.6,656.4 1243.6,657.1 1246.6,658.6 1251.1,662.1 1256.9,668.7 1267.6,685.4 1275.2,695.3 1278.1,700.3 1287.1,717.8 1291,723.7 1301.5,731.8 1308.1,734.7 1310.6,736.2 1312.6,739.4 1319.8,753.8 1326.1,762.6 1330.6,771.1 1340,793.2 1348.6,815.7 1351.6,821.8 1355.7,828.3 1359.1,831.3 1363.6,834.4 1371.1,838.2 1380.1,841.8 1384.6,843 1393.6,844.3 1399.6,844.6 1408.6,844.4 1450.6,842.3 1456.6,841.5 1464.1,839.7 1470.1,837.9 1477.6,835 1486.6,830.9 1497.1,825.6 1507.8,819.9 1522.6,811.4 1528.6,808.3 1539.1,804.2 1548.1,801.9 1556.3,801 1561.6,802.5 1567.6,804.9 1578.1,811.3 1583.8,813.8 1587.1,813.5 1594.3,811.8 1606.1,812.1 1630.6,856.6 1636.6,866.4 1644.1,877.4 1657.6,895.6 1674.1,915.9 1684.6,927.8 1693.6,936.5 1698.1,940 1713.1,949.2 1732.6,965.5 1747.6,973 1764.7,983.8 1780.6,991.4 1804.1,1001.4 1814.6,1008 1825.6,1015.6 1830.1,1017.9 1833.1,1019 1836.1,1018.6 1840,1017.5" stroke="#DBA5A1"/>
<polyline class="c" points="346.6,1053 349,1050.4 353,1048.8 367.6,1049.2 371,1049 373.6,1048.4 388.6,1042.8 408.1,1036.3 427.6,1027.8 433.6,1024.5 439.6,1019.9 450,1007.8 454.6,1003.9 469.6,995.9 487.6,984.4 495.1,980.6 511.6,973.3 529,964.1 550.6,955.6 585.1,937.2 590.4,935.2 601.6,932.6 604.6,931.6 618.1,919.7 623.3,915.8 640.6,907.9 660.1,895.6 676.6,886.4 683.5,883.2 694.6,879.5 697.6,876.9 708.1,864.6 711.1,861.9 723,858 726.1,856.4 730.6,853.1 741.1,844.1 753.1,837.5 757.6,834.7 765.1,829.1 771.3,823.8 775.6,819.2 786.1,806.6 795.1,797.3 804.3,788.7 814.6,780.7 819.1,776.5 826.6,766.8 834.1,755.9 837.2,752.2 849.1,742.1 862.6,726.7 876.7,713.3 885.1,704 889.6,700.5 897.1,696.2 900,695.2 905.5,695.4 907.6,694.7 912.1,692.1 921.1,685.8 926.5,683.3 931.6,684 942.1,686.3 944.9,686.6 946.6,686.1 951.1,684.1 955.6,681.5 973.6,669.4 978.1,667.2 981.6,666 987.1,666.5 993.1,667.5 999.1,669.9 1012.6,676.7 1019.6,678.9 1026.1,676.9 1041.1,670 1047.1,668.2 1057.6,670.1 1063.6,669.8 1081.2,668.4 1094.3,665.4 1101.1,668.6 1102.6,668.9 1107.1,667.7 1114,665 1120.6,659.6 1123.2,658 1133.7,661.2 1155.1,660.9 1180.8,658.7 1188.7,660 1191.1,663.5 1194.1,669.2 1196,671.6 1200.1,670.5 1205.7,668.1 1207.6,665.2 1213.6,652.4 1216.2,648.8 1224,650.8 1230.1,654.6 1233.3,656.2 1240.6,656.4 1243.6,657.1 1246.6,658.6 1251.1,662.1 1256.9,668.7 1267.6,685.4 1275.2,695.3 1278.1,700.3 1287.1,717.8 1291,723.7 1301.5,731.8 1308.1,734.7 1310.6,736.2 1312.6,739.4 1319.8,753.8 1326.1,762.6 1330.6,771.1 1340,793.2 1348.6,815.7 1351.6,821.8 1355.7,828.3 1359.1,831.3 1363.6,834.4 1371.1,838.2 1380.1,841.8 1384.6,843 1393.6,844.3 1399.6,844.6 1408.6,844.4 1450.6,842.3 1456.6,841.5 1464.1,839.7 1470.1,837.9 1477.6,835 1486.6,830.9 1497.1,825.6 1507.8,819.9 1522.6,811.4 1528.6,808.3 1539.1,804.2 1548.1,801.9 1556.3,801 1561.6,802.5 1567.6,804.9 1578.1,811.3 1583.8,813.8 1587.1,813.5 1594.3,811.8 1606.1,812.1 1630.6,856.6 1636.6,866.4 1644.1,877.4 1657.6,895.6 1674.1,915.9 1684.6,927.8 1693.6,936.5 1698.1,940 1713.1,949.2 1732.6,965.5 1747.6,973 1764.7,983.8 1780.6,991.4 1804.1,1001.4 1814.6,1008 1825.6,1015.6 1830.1,1017.9 1833.1,1019 1836.1,1018.6 1840,1017.5" stroke="#DBA5A1"/>
<polyline class="b" filter="url(#softer)" points="346.6,1049.5 349,1047 353,1045.4 367.6,1046.3 371,1046.3 373.6,1045.7 388.6,1040.6 409.6,1034.4 429.1,1027 435.1,1023.8 440,1020.3 450,1009.4 454.6,1005.9 469.6,999 487.6,988.8 493.6,986.2 511.6,979.2 529,971 550.6,963.6 585.1,947.3 590.4,945.6 604.6,942.6 618.1,931.8 623.3,928.3 640.6,921.6 660.1,910.6 676.6,902.5 683.5,899.8 694.6,896.7 697.6,894.3 708.1,883.1 711.1,880.7 723,877.5 726.1,876.2 730.6,873.2 741.1,865.2 753.1,859.5 757.6,857 765.1,852.1 771.3,847.5 775.6,843.4 786.1,832.1 795.1,823.9 804.3,816.3 817.6,807.1 822.1,802.4 834.1,787.3 837.1,784.1 849.1,775.2 863.6,760.6 876.7,749.7 883.6,742.8 887.7,739.5 894.1,736 898.6,734.2 900,733.8 905.5,734.5 909.1,733.4 921.1,726.9 926.5,725 943.6,729.3 944.9,729.6 948.1,728.8 955.6,725.8 973.6,716.2 978.1,714.5 981.6,713.7 993.1,716.1 999.1,718.8 1012.6,726.1 1019.6,728.7 1026.1,727.5 1041.1,722.4 1047.1,721.3 1057.6,723.9 1062.1,724.1 1081.2,724.3 1094.3,722.8 1101.1,726.2 1102.6,726.6 1107.1,725.9 1114,724.1 1120.6,719.8 1123.2,718.7 1133.7,722.4 1154.6,723.6 1180.8,722.7 1186.6,723.7 1188.7,724.2 1189.6,725.2 1194.1,732.6 1196,734.8 1200.1,734 1205.7,732.1 1207.6,729.6 1213.6,718.6 1216.2,715.5 1224,717.6 1230.1,721.3 1233.3,722.8 1240.6,723.3 1243.6,724.1 1246.6,725.8 1251.1,730.1 1255.6,736 1260.1,743.4 1275.2,773.4 1285.6,800.1 1288.6,806.8 1291,811 1296.1,815.6 1300.6,818.9 1302.1,819.6 1309.6,821.5 1311.1,822.5 1319.8,835.4 1327.6,843.2 1330.6,847.5 1340,863.9 1347.1,878.2 1351.6,885.8 1355.7,890.8 1360.6,893.9 1366.6,896.5 1377.1,899.9 1384.6,901.7 1390.6,902.3 1398.1,902.7 1408.6,902.6 1447.6,902 1455.1,901.5 1467.1,899.4 1480,895.6 1492.6,890.8 1519.6,879.3 1530.1,875.5 1542.1,872.5 1548.1,871.5 1554.1,871.1 1557.1,871.2 1565.5,874.1 1578.1,880.8 1583.8,883.3 1594.3,882.8 1606.1,884.2 1630.6,920.5 1636.6,928.4 1644.1,937.4 1657.6,952.1 1674.1,968.5 1684.6,978.1 1693.6,985.1 1698.1,987.9 1713.1,995.2 1732.6,1008.1 1747.6,1014 1764.7,1022.5 1780.6,1028.4 1804.1,1036.1 1814.6,1041.3 1825.6,1047.3 1830.1,1049.2 1833.1,1050 1840,1048.7" stroke="#FACDB7"/>
<polyline class="c" points="346.6,1049.5 349,1047 353,1045.4 367.6,1046.3 371,1046.3 373.6,1045.7 388.6,1040.6 409.6,1034.4 429.1,1027 435.1,1023.8 440,1020.3 450,1009.4 454.6,1005.9 469.6,999 487.6,988.8 493.6,986.2 511.6,979.2 529,971 550.6,963.6 585.1,947.3 590.4,945.6 604.6,942.6 618.1,931.8 623.3,928.3 640.6,921.6 660.1,910.6 676.6,902.5 683.5,899.8 694.6,896.7 697.6,894.3 708.1,883.1 711.1,880.7 723,877.5 726.1,876.2 730.6,873.2 741.1,865.2 753.1,859.5 757.6,857 765.1,852.1 771.3,847.5 775.6,843.4 786.1,832.1 795.1,823.9 804.3,816.3 817.6,807.1 822.1,802.4 834.1,787.3 837.1,784.1 849.1,775.2 863.6,760.6 876.7,749.7 883.6,742.8 887.7,739.5 894.1,736 898.6,734.2 900,733.8 905.5,734.5 909.1,733.4 921.1,726.9 926.5,725 943.6,729.3 944.9,729.6 948.1,728.8 955.6,725.8 973.6,716.2 978.1,714.5 981.6,713.7 993.1,716.1 999.1,718.8 1012.6,726.1 1019.6,728.7 1026.1,727.5 1041.1,722.4 1047.1,721.3 1057.6,723.9 1062.1,724.1 1081.2,724.3 1094.3,722.8 1101.1,726.2 1102.6,726.6 1107.1,725.9 1114,724.1 1120.6,719.8 1123.2,718.7 1133.7,722.4 1154.6,723.6 1180.8,722.7 1186.6,723.7 1188.7,724.2 1189.6,725.2 1194.1,732.6 1196,734.8 1200.1,734 1205.7,732.1 1207.6,729.6 1213.6,718.6 1216.2,715.5 1224,717.6 1230.1,721.3 1233.3,722.8 1240.6,723.3 1243.6,724.1 1246.6,725.8 1251.1,730.1 1255.6,736 1260.1,743.4 1275.2,773.4 1285.6,800.1 1288.6,806.8 1291,811 1296.1,815.6 1300.6,818.9 1302.1,819.6 1309.6,821.5 1311.1,822.5 1319.8,835.4 1327.6,843.2 1330.6,847.5 1340,863.9 1347.1,878.2 1351.6,885.8 1355.7,890.8 1360.6,893.9 1366.6,896.5 1377.1,899.9 1384.6,901.7 1390.6,902.3 1398.1,902.7 1408.6,902.6 1447.6,902 1455.1,901.5 1467.1,899.4 1480,895.6 1492.6,890.8 1519.6,879.3 1530.1,875.5 1542.1,872.5 1548.1,871.5 1554.1,871.1 1557.1,871.2 1565.5,874.1 1578.1,880.8 1583.8,883.3 1594.3,882.8 1606.1,884.2 1630.6,920.5 1636.6,928.4 1644.1,937.4 1657.6,952.1 1674.1,968.5 1684.6,978.1 1693.6,985.1 1698.1,987.9 1713.1,995.2 1732.6,1008.1 1747.6,1014 1764.7,1022.5 1780.6,1028.4 1804.1,1036.1 1814.6,1041.3 1825.6,1047.3 1830.1,1049.2 1833.1,1050 1840,1048.7" stroke="#FACDB7"/>
<polyline class="b" filter="url(#softer)" points="346.6,1040 349,1037.2 353,1035.4 367.6,1035.8 371,1035.6 373.6,1034.9 388.6,1028.7 408.1,1021.5 427.6,1012.1 433.6,1008.5 439.6,1003.4 450,990.1 454.6,985.9 469.6,976.9 487.6,964.3 495.1,960.1 511.6,952.1 529,941.8 550.6,932.4 585.1,912.2 590.4,910 601.6,907 604.6,905.9 607.6,903.3 618.1,892.9 623.3,888.6 640.6,879.9 660.1,866.3 676.6,856.1 683.5,852.6 694.6,848.5 697.6,845.6 708.1,832.1 711.1,829.1 723,824.8 726.1,823 730.6,819.3 741.1,809.4 753.1,802.2 757.6,799 765.1,792.8 771.3,787 775.6,781.9 786.1,768 795.1,757.8 804.3,748.3 814.6,739.4 819.1,734.7 826.6,724 834.1,712.1 837.2,708 849.1,696.8 862.6,679.8 876.7,665 885.1,654.8 889.6,650.9 897.1,646.2 900,645 905.5,645.1 907.6,644.3 912.1,641.3 921.1,634.1 924.1,632.2 926.5,631.2 931.6,631.8 942.1,634 944.9,634.3 946.6,633.7 951.1,631.4 955.6,628.4 973.6,614.5 978.1,611.9 981.6,610.5 987.1,610.9 993.1,611.8 999.1,614.4 1012.6,621.4 1019.6,623.7 1026.1,621.3 1039.6,613.9 1044.1,611.9 1047.1,611 1057.6,612.8 1063.6,612.3 1081.2,610.2 1094.3,606.5 1096.6,607.4 1101.1,609.9 1102.6,610.1 1107.1,608.7 1114,605.5 1120.6,599.2 1123.2,597.5 1133.7,600.7 1156.6,599.7 1180.8,596.9 1188.7,598.2 1191.1,602.1 1194.1,608.4 1196,611 1200.1,609.8 1205.7,607 1207.6,603.7 1213.6,589.5 1216.2,585.4 1224,587.5 1230.1,591.7 1233.3,593.4 1245.1,593.8 1255.6,595.3 1263.1,597.8 1266.1,599.7 1267.6,601.5 1270.6,606.3 1275.2,616.3 1285.6,650.8 1288.6,658.6 1291,662.6 1293.1,663.3 1294.6,663.3 1301.5,662.9 1310.6,659 1312.6,660 1317.1,663.5 1319.8,664.9 1327.7,662.7 1330.6,663.2 1340,666.6 1344.1,669.6 1351.6,676.1 1355.7,678.7 1371.1,680 1384.6,680.6 1405.5,679.8 1447.6,675 1459.6,673 1476.1,668.7 1500.1,660.5 1509.1,656.9 1528.8,645.9 1542.1,640.7 1548.1,639 1552.6,638.1 1557.1,637.8 1565.5,640 1569.1,642 1579.6,649.7 1583.8,651.4 1587.1,650 1594.3,645.3 1600.6,643.6 1606.1,642.8 1611.1,654.3 1630.6,702.9 1635.1,713 1642.6,728.3 1656.1,753.6 1672.6,782.1 1683.1,799.2 1692.1,812 1696.6,817.4 1711,830.1 1713.1,832.4 1720.6,841.4 1729.6,853.2 1732.6,856.5 1747.6,868.3 1764.7,885 1779.1,896.4 1804.1,914.4 1814.6,924.9 1825.6,936.9 1830.1,940.7 1833.1,942.6 1836.1,942 1840,940.5" stroke="#8FAADC"/>
<polyline class="c" points="346.6,1040 349,1037.2 353,1035.4 367.6,1035.8 371,1035.6 373.6,1034.9 388.6,1028.7 408.1,1021.5 427.6,1012.1 433.6,1008.5 439.6,1003.4 450,990.1 454.6,985.9 469.6,976.9 487.6,964.3 495.1,960.1 511.6,952.1 529,941.8 550.6,932.4 585.1,912.2 590.4,910 601.6,907 604.6,905.9 607.6,903.3 618.1,892.9 623.3,888.6 640.6,879.9 660.1,866.3 676.6,856.1 683.5,852.6 694.6,848.5 697.6,845.6 708.1,832.1 711.1,829.1 723,824.8 726.1,823 730.6,819.3 741.1,809.4 753.1,802.2 757.6,799 765.1,792.8 771.3,787 775.6,781.9 786.1,768 795.1,757.8 804.3,748.3 814.6,739.4 819.1,734.7 826.6,724 834.1,712.1 837.2,708 849.1,696.8 862.6,679.8 876.7,665 885.1,654.8 889.6,650.9 897.1,646.2 900,645 905.5,645.1 907.6,644.3 912.1,641.3 921.1,634.1 924.1,632.2 926.5,631.2 931.6,631.8 942.1,634 944.9,634.3 946.6,633.7 951.1,631.4 955.6,628.4 973.6,614.5 978.1,611.9 981.6,610.5 987.1,610.9 993.1,611.8 999.1,614.4 1012.6,621.4 1019.6,623.7 1026.1,621.3 1039.6,613.9 1044.1,611.9 1047.1,611 1057.6,612.8 1063.6,612.3 1081.2,610.2 1094.3,606.5 1096.6,607.4 1101.1,609.9 1102.6,610.1 1107.1,608.7 1114,605.5 1120.6,599.2 1123.2,597.5 1133.7,600.7 1156.6,599.7 1180.8,596.9 1188.7,598.2 1191.1,602.1 1194.1,608.4 1196,611 1200.1,609.8 1205.7,607 1207.6,603.7 1213.6,589.5 1216.2,585.4 1224,587.5 1230.1,591.7 1233.3,593.4 1245.1,593.8 1255.6,595.3 1263.1,597.8 1266.1,599.7 1267.6,601.5 1270.6,606.3 1275.2,616.3 1285.6,650.8 1288.6,658.6 1291,662.6 1293.1,663.3 1294.6,663.3 1301.5,662.9 1310.6,659 1312.6,660 1317.1,663.5 1319.8,664.9 1327.7,662.7 1330.6,663.2 1340,666.6 1344.1,669.6 1351.6,676.1 1355.7,678.7 1371.1,680 1384.6,680.6 1405.5,679.8 1447.6,675 1459.6,673 1476.1,668.7 1500.1,660.5 1509.1,656.9 1528.8,645.9 1542.1,640.7 1548.1,639 1552.6,638.1 1557.1,637.8 1565.5,640 1569.1,642 1579.6,649.7 1583.8,651.4 1587.1,650 1594.3,645.3 1600.6,643.6 1606.1,642.8 1611.1,654.3 1630.6,702.9 1635.1,713 1642.6,728.3 1656.1,753.6 1672.6,782.1 1683.1,799.2 1692.1,812 1696.6,817.4 1711,830.1 1713.1,832.4 1720.6,841.4 1729.6,853.2 1732.6,856.5 1747.6,868.3 1764.7,885 1779.1,896.4 1804.1,914.4 1814.6,924.9 1825.6,936.9 1830.1,940.7 1833.1,942.6 1836.1,942 1840,940.5" stroke="#8FAADC"/>
<polyline class="b" filter="url(#softer)" points="346.6,1000 349,996.7 351.1,995.4 353,994.8 367.6,996 371,996 373.6,995.3 390.1,988.1 409.6,981 429.1,971.6 435.1,967.6 440,963.1 450,949.2 454.6,944.7 459.1,941.9 469.6,936.1 487.6,923.2 493.6,919.9 511.6,911.1 529,900.6 550.6,891.4 585.1,870.7 590.4,868.6 601.6,866 604.6,864.9 606.1,863.7 618.1,851.1 623.3,846.7 640.6,838.2 646.6,834.2 660.1,824.3 676.6,814 683.5,810.6 694.6,806.8 697.6,803.8 708.1,789.5 711.1,786.5 723,782.5 726.1,780.7 730.6,777 741.1,766.8 744.1,764.8 753.1,759.7 757.6,756.5 765.1,750.4 771.3,744.5 775.6,739.3 786.1,724.9 795.1,714.6 804.3,705 814.6,696.3 817.6,693.4 822.1,687.4 834.1,668.3 837.1,664.2 849.1,653 863.6,634.5 876.7,620.7 883.6,612 887.7,607.8 894.1,603.4 898.6,601.1 900.1,600.6 905.5,600.7 907.6,599.7 912.1,596.5 921.1,588.6 924.1,586.6 926.5,585.4 931.6,586.1 942.1,588.3 944.9,588.5 946.6,587.9 951.1,585.4 955.6,582.1 973.6,566.9 978.1,564 981.6,562.4 987.1,562.8 993.1,563.7 999.1,566.4 1012.6,573.8 1015.6,575.1 1019.6,576.2 1026.1,573.5 1039.6,565.4 1044.1,563.2 1047.1,562.2 1057.6,564 1063.6,563.3 1081.2,560.8 1094.3,556.7 1096.6,557.6 1101.1,560.2 1102.6,560.5 1107.1,558.9 1114,555.4 1120.6,548.5 1123.2,546.6 1133.7,549.9 1156.6,548.6 1180.8,545.5 1188.7,546.8 1191.1,551 1194.1,557.8 1196,560.6 1200.1,559.2 1205.7,556.2 1207.6,552.7 1213.6,537.2 1216.2,532.8 1219.6,533.5 1224,535 1230.1,539.5 1233.3,541.3 1256.9,541.9 1266.1,543.6 1269.1,543 1272.1,541.6 1275.2,539.7 1276.6,539.6 1278.1,539.7 1281.1,540.8 1288.6,545.2 1291,546.2 1301.5,544.6 1310.6,539.4 1312.6,540.2 1317.1,543.4 1319.8,544.4 1327.7,540.6 1330.6,540.6 1336.6,541.5 1341.1,542.8 1345.6,545.7 1351.6,550.4 1355.7,552.7 1384.6,553.4 1405.5,552.1 1416.1,550.5 1458.1,542.6 1495.6,535.1 1506.1,532.6 1512.1,530.2 1528.8,520.7 1543.6,514.7 1552.6,512.1 1556.3,511.6 1558.6,511.8 1565.5,513.9 1569.1,516.2 1579.6,525.1 1583.8,527 1587.1,525 1591.6,520.8 1594.3,518.8 1600.6,516.4 1606.1,514.9 1608.1,516.1 1611.1,518.8 1620.1,528.7 1630.6,541.3 1636.6,547.2 1648.6,556.6 1668.1,570.2 1681.6,580.4 1687.6,584.2 1692.1,586.4 1696.6,587.7 1710.1,585.8 1713.1,586.3 1720.6,590.2 1729.6,597.2 1732.6,598.8 1735.6,599.1 1746.4,599.1 1747.6,599.3 1752.1,601.2 1764.7,608.2 1773.1,610.7 1797.1,616.7 1803.1,618.6 1806.1,620.4 1810.6,624.5 1816.6,630.7 1824.1,639.6 1827.7,642.9 1830.1,644.2 1832.9,645 1836.1,643.8 1840,640.5" stroke="#C9A0B4"/>
<polyline class="c" points="346.6,1000 349,996.7 351.1,995.4 353,994.8 367.6,996 371,996 373.6,995.3 390.1,988.1 409.6,981 429.1,971.6 435.1,967.6 440,963.1 450,949.2 454.6,944.7 459.1,941.9 469.6,936.1 487.6,923.2 493.6,919.9 511.6,911.1 529,900.6 550.6,891.4 585.1,870.7 590.4,868.6 601.6,866 604.6,864.9 606.1,863.7 618.1,851.1 623.3,846.7 640.6,838.2 646.6,834.2 660.1,824.3 676.6,814 683.5,810.6 694.6,806.8 697.6,803.8 708.1,789.5 711.1,786.5 723,782.5 726.1,780.7 730.6,777 741.1,766.8 744.1,764.8 753.1,759.7 757.6,756.5 765.1,750.4 771.3,744.5 775.6,739.3 786.1,724.9 795.1,714.6 804.3,705 814.6,696.3 817.6,693.4 822.1,687.4 834.1,668.3 837.1,664.2 849.1,653 863.6,634.5 876.7,620.7 883.6,612 887.7,607.8 894.1,603.4 898.6,601.1 900.1,600.6 905.5,600.7 907.6,599.7 912.1,596.5 921.1,588.6 924.1,586.6 926.5,585.4 931.6,586.1 942.1,588.3 944.9,588.5 946.6,587.9 951.1,585.4 955.6,582.1 973.6,566.9 978.1,564 981.6,562.4 987.1,562.8 993.1,563.7 999.1,566.4 1012.6,573.8 1015.6,575.1 1019.6,576.2 1026.1,573.5 1039.6,565.4 1044.1,563.2 1047.1,562.2 1057.6,564 1063.6,563.3 1081.2,560.8 1094.3,556.7 1096.6,557.6 1101.1,560.2 1102.6,560.5 1107.1,558.9 1114,555.4 1120.6,548.5 1123.2,546.6 1133.7,549.9 1156.6,548.6 1180.8,545.5 1188.7,546.8 1191.1,551 1194.1,557.8 1196,560.6 1200.1,559.2 1205.7,556.2 1207.6,552.7 1213.6,537.2 1216.2,532.8 1219.6,533.5 1224,535 1230.1,539.5 1233.3,541.3 1256.9,541.9 1266.1,543.6 1269.1,543 1272.1,541.6 1275.2,539.7 1276.6,539.6 1278.1,539.7 1281.1,540.8 1288.6,545.2 1291,546.2 1301.5,544.6 1310.6,539.4 1312.6,540.2 1317.1,543.4 1319.8,544.4 1327.7,540.6 1330.6,540.6 1336.6,541.5 1341.1,542.8 1345.6,545.7 1351.6,550.4 1355.7,552.7 1384.6,553.4 1405.5,552.1 1416.1,550.5 1458.1,542.6 1495.6,535.1 1506.1,532.6 1512.1,530.2 1528.8,520.7 1543.6,514.7 1552.6,512.1 1556.3,511.6 1558.6,511.8 1565.5,513.9 1569.1,516.2 1579.6,525.1 1583.8,527 1587.1,525 1591.6,520.8 1594.3,518.8 1600.6,516.4 1606.1,514.9 1608.1,516.1 1611.1,518.8 1620.1,528.7 1630.6,541.3 1636.6,547.2 1648.6,556.6 1668.1,570.2 1681.6,580.4 1687.6,584.2 1692.1,586.4 1696.6,587.7 1710.1,585.8 1713.1,586.3 1720.6,590.2 1729.6,597.2 1732.6,598.8 1735.6,599.1 1746.4,599.1 1747.6,599.3 1752.1,601.2 1764.7,608.2 1773.1,610.7 1797.1,616.7 1803.1,618.6 1806.1,620.4 1810.6,624.5 1816.6,630.7 1824.1,639.6 1827.7,642.9 1830.1,644.2 1832.9,645 1836.1,643.8 1840,640.5" stroke="#C9A0B4"/>
<polyline class="b" filter="url(#softer)" points="346.6,992 349,988.5 351.1,987.1 353,986.4 367.6,987.3 371,987.2 373.6,986.4 388.6,979.1 408.1,970.9 417.1,966.2 429.1,959.3 435.1,954.8 440,949.7 450,934.4 454.6,929.4 459.1,926.1 469.6,919.3 487.6,904.7 495.1,900 511.6,890.8 529,879 546.1,870.7 550.6,868.3 585.1,844.9 590.4,842.4 601.6,839.2 604.6,837.9 606.1,836.6 618.1,822.6 623.3,817.6 640.6,807.7 646.6,803.2 660.1,792 676.6,780.3 683.5,776.4 694.6,771.8 697.6,768.4 708.1,752.5 711.1,749.1 712.6,748.3 723,744.3 726.1,742.3 730.6,738 741.1,726.6 744.1,724.2 753.1,718.4 757.6,714.7 765.1,707.6 771.3,700.9 775.6,695.1 786.1,678.9 795.1,667.1 804.3,656.2 814.6,646.2 817.6,642.8 822.1,636 834.1,614.5 837.1,609.8 849.1,597 863.6,576 876.7,560.3 883.6,550.5 887.7,545.6 894.1,540.6 898.6,537.9 900.1,537.4 905.5,537.4 907.6,536.3 912.1,532.6 921.1,523.8 924.1,521.4 926.5,520.1 931.6,520.7 942.1,523 944.9,523.3 946.6,522.5 951.1,519.6 955.6,515.9 973.6,498.8 978.1,495.6 981.6,493.8 987.1,494.1 993.1,495 999.1,497.8 1012.6,505.9 1015.6,507.2 1019.6,508.3 1026.1,505.3 1039.6,496.1 1044.1,493.5 1047.1,492.4 1057.6,494.2 1063.6,493.4 1081.2,490.3 1094.3,485.4 1096.6,486.4 1101.1,489.3 1102.6,489.5 1107.1,487.7 1114,483.7 1120.6,475.9 1123.2,473.7 1125.1,474.1 1131.1,476.6 1133.7,477.3 1156.6,475.5 1180.8,471.8 1185.1,472.4 1188.7,473.3 1191.1,477.9 1194.1,485.4 1196,488.5 1200.1,486.9 1205.7,483.5 1207.6,479.6 1213.6,462.3 1216.2,457.4 1219.6,458.1 1224,459.7 1230.1,464.7 1233.3,466.7 1256.9,467.3 1264.6,469.1 1272.1,472.2 1275.2,473.9 1276.6,475.6 1279.6,480.5 1287.1,494.2 1288.6,496.4 1291,498.8 1301.5,498.4 1308.1,495.6 1310.6,494.9 1312.6,496.4 1317.1,501.7 1319.8,504 1327.7,503.6 1330.6,505.1 1335.1,508.3 1341.1,513.6 1350.1,525.4 1353.1,528.8 1355.7,530.9 1363.6,532.7 1374.1,534.3 1384.6,535.4 1389.1,535.3 1401.1,534.9 1405.6,534.5 1411.6,533.4 1506.1,510 1507.8,509.5 1512.1,507 1524.1,497.9 1528.8,494.8 1543.6,487.1 1548.1,485.2 1552.6,483.7 1556.3,483 1558.6,483.1 1565.5,484.6 1569.1,486.8 1579.6,495.4 1581.1,496.2 1583.8,497 1587.1,494.6 1591.6,489.8 1594.3,487.4 1600.6,484.2 1606.1,482.2 1611.1,489.1 1630.6,523.2 1633.7,528.2 1638.1,534.4 1645.6,544.3 1654.6,555.3 1680.1,585.5 1689.1,595 1693.6,598.8 1696.6,600.7 1711.6,605 1714.6,607.2 1720.6,612.7 1729.6,622.8 1732.6,625.5 1747.6,631.3 1752.1,634.6 1764.7,645.4 1774.6,651.3 1798.6,664.4 1804.1,667.8 1807.6,671.3 1814.6,679.6 1825.6,694.4 1827.7,696.6 1830.1,698.4 1833.1,700 1836.1,698.9 1840,696" stroke="#5DB6D1"/>
<polyline class="c" points="346.6,992 349,988.5 351.1,987.1 353,986.4 367.6,987.3 371,987.2 373.6,986.4 388.6,979.1 408.1,970.9 417.1,966.2 429.1,959.3 435.1,954.8 440,949.7 450,934.4 454.6,929.4 459.1,926.1 469.6,919.3 487.6,904.7 495.1,900 511.6,890.8 529,879 546.1,870.7 550.6,868.3 585.1,844.9 590.4,842.4 601.6,839.2 604.6,837.9 606.1,836.6 618.1,822.6 623.3,817.6 640.6,807.7 646.6,803.2 660.1,792 676.6,780.3 683.5,776.4 694.6,771.8 697.6,768.4 708.1,752.5 711.1,749.1 712.6,748.3 723,744.3 726.1,742.3 730.6,738 741.1,726.6 744.1,724.2 753.1,718.4 757.6,714.7 765.1,707.6 771.3,700.9 775.6,695.1 786.1,678.9 795.1,667.1 804.3,656.2 814.6,646.2 817.6,642.8 822.1,636 834.1,614.5 837.1,609.8 849.1,597 863.6,576 876.7,560.3 883.6,550.5 887.7,545.6 894.1,540.6 898.6,537.9 900.1,537.4 905.5,537.4 907.6,536.3 912.1,532.6 921.1,523.8 924.1,521.4 926.5,520.1 931.6,520.7 942.1,523 944.9,523.3 946.6,522.5 951.1,519.6 955.6,515.9 973.6,498.8 978.1,495.6 981.6,493.8 987.1,494.1 993.1,495 999.1,497.8 1012.6,505.9 1015.6,507.2 1019.6,508.3 1026.1,505.3 1039.6,496.1 1044.1,493.5 1047.1,492.4 1057.6,494.2 1063.6,493.4 1081.2,490.3 1094.3,485.4 1096.6,486.4 1101.1,489.3 1102.6,489.5 1107.1,487.7 1114,483.7 1120.6,475.9 1123.2,473.7 1125.1,474.1 1131.1,476.6 1133.7,477.3 1156.6,475.5 1180.8,471.8 1185.1,472.4 1188.7,473.3 1191.1,477.9 1194.1,485.4 1196,488.5 1200.1,486.9 1205.7,483.5 1207.6,479.6 1213.6,462.3 1216.2,457.4 1219.6,458.1 1224,459.7 1230.1,464.7 1233.3,466.7 1256.9,467.3 1264.6,469.1 1272.1,472.2 1275.2,473.9 1276.6,475.6 1279.6,480.5 1287.1,494.2 1288.6,496.4 1291,498.8 1301.5,498.4 1308.1,495.6 1310.6,494.9 1312.6,496.4 1317.1,501.7 1319.8,504 1327.7,503.6 1330.6,505.1 1335.1,508.3 1341.1,513.6 1350.1,525.4 1353.1,528.8 1355.7,530.9 1363.6,532.7 1374.1,534.3 1384.6,535.4 1389.1,535.3 1401.1,534.9 1405.6,534.5 1411.6,533.4 1506.1,510 1507.8,509.5 1512.1,507 1524.1,497.9 1528.8,494.8 1543.6,487.1 1548.1,485.2 1552.6,483.7 1556.3,483 1558.6,483.1 1565.5,484.6 1569.1,486.8 1579.6,495.4 1581.1,496.2 1583.8,497 1587.1,494.6 1591.6,489.8 1594.3,487.4 1600.6,484.2 1606.1,482.2 1611.1,489.1 1630.6,523.2 1633.7,528.2 1638.1,534.4 1645.6,544.3 1654.6,555.3 1680.1,585.5 1689.1,595 1693.6,598.8 1696.6,600.7 1711.6,605 1714.6,607.2 1720.6,612.7 1729.6,622.8 1732.6,625.5 1747.6,631.3 1752.1,634.6 1764.7,645.4 1774.6,651.3 1798.6,664.4 1804.1,667.8 1807.6,671.3 1814.6,679.6 1825.6,694.4 1827.7,696.6 1830.1,698.4 1833.1,700 1836.1,698.9 1840,696" stroke="#5DB6D1"/>
<polyline class="b" filter="url(#softer)" points="346.6,960 349,956.2 351.1,954.6 353,953.9 355.6,953.9 361.6,955 367.6,955.5 371,955.5 373.6,954.7 390.1,946.4 403.6,941 409.6,938.3 429.1,927.7 435.1,923.1 440,917.9 450,901.7 454.6,896.6 459.1,893.4 469.6,886.8 487.6,872.1 493.6,868.2 511.3,858.5 529,846.3 546.1,838.2 550.6,835.7 585.1,812 590.4,809.6 601.6,806.7 604.6,805.5 606.1,804.1 618.1,789.6 623.3,784.5 640.6,774.8 646.6,770.2 660.1,758.9 676.6,747.1 683.5,743.3 694.6,739 697.6,735.5 708.1,719 711.1,715.5 712.6,714.7 723,711.1 726.1,709.1 730.6,704.8 741.1,693.2 744.1,690.8 753.1,685.1 757.6,681.4 765.1,674.4 771.3,667.6 775.6,661.7 786.1,645.2 795.1,633.3 804.3,622.4 814.6,612.5 817.6,609.2 822.1,602.3 828.1,591.8 834.1,580.4 837.1,575.7 849.1,562.9 863.6,541.7 876.7,525.9 883.6,515.9 887.7,511.1 894.1,506.1 898.6,503.5 900.1,503 905.5,502.9 907.6,501.7 912.1,497.9 921.1,488.5 924.1,486 926.5,484.6 931.6,485.2 942.1,487.5 944.9,487.7 946.6,486.9 951.1,483.8 955.6,479.9 973.6,461.8 978.1,458.3 981.6,456.4 987.1,456.6 993.1,457.5 999.1,460.5 1012.6,468.8 1015.6,470.1 1019.6,471.3 1023.1,469.8 1026.1,468 1039.6,458.2 1044.1,455.5 1047.1,454.2 1057.6,456 1063.6,455.1 1081.2,451.7 1090.6,447.7 1094.3,446.5 1096.6,447.5 1101.1,450.5 1102.6,450.7 1107.1,448.7 1114,444.4 1120.6,436.2 1123.2,433.8 1125.1,434.3 1131.1,436.8 1133.7,437.5 1156.6,435.4 1180.8,431.4 1185.1,432 1188.7,432.9 1191.1,437.8 1194.1,445.7 1196,449 1200.1,447.3 1205.7,443.7 1207.6,439.5 1213.6,421.3 1216.2,416 1219.6,416.8 1224,418.5 1230.1,423.7 1233.3,425.8 1256.9,426.4 1266.1,428.4 1270.6,427.9 1275.2,426.2 1276.6,426.5 1279.6,428.3 1287.1,435.6 1291,438.3 1301.5,437.1 1308.1,433.4 1310.6,432.3 1312.6,433.6 1317.1,438.3 1319.8,440.2 1327.7,437.8 1332.1,439.3 1340,443.7 1344.1,447.7 1351.6,456.4 1355.7,459.9 1371.1,461.8 1384.6,462.7 1401.1,461.9 1407.1,461.3 1414.6,459.9 1480,445.1 1498.6,441.3 1507.8,438.9 1513.6,435.8 1524.1,428.5 1528.8,425.6 1545.1,418.1 1549.6,416.5 1554.1,415.3 1558.6,415 1566.1,416.9 1569.1,418.9 1578.1,427 1581.1,428.9 1583.8,429.7 1587.1,427.1 1591.6,421.7 1594.3,419.1 1600.6,415.5 1606.1,413.2 1609.6,415.8 1612.6,419.2 1620.1,428.5 1632.1,444.7 1636.6,449.5 1647.1,459.1 1666.6,475.1 1681.6,488.4 1687.6,493.1 1692.1,495.8 1696.6,497.5 1710.1,496.2 1711,496.2 1713.1,496.9 1720.6,501.9 1729.6,510.6 1732.6,512.7 1735.6,513.2 1746.4,514.1 1747.6,514.5 1752.1,517 1761.1,523.8 1764.7,526.2 1773.1,529.9 1801.6,541.2 1804.6,542.9 1809.1,547.6 1815.1,555 1824.1,568 1827.7,572.1 1830.1,573.8 1832.9,575 1836.1,573.6 1840,570" stroke="#F9AE86"/>
<polyline class="c" points="346.6,960 349,956.2 351.1,954.6 353,953.9 355.6,953.9 361.6,955 367.6,955.5 371,955.5 373.6,954.7 390.1,946.4 403.6,941 409.6,938.3 429.1,927.7 435.1,923.1 440,917.9 450,901.7 454.6,896.6 459.1,893.4 469.6,886.8 487.6,872.1 493.6,868.2 511.3,858.5 529,846.3 546.1,838.2 550.6,835.7 585.1,812 590.4,809.6 601.6,806.7 604.6,805.5 606.1,804.1 618.1,789.6 623.3,784.5 640.6,774.8 646.6,770.2 660.1,758.9 676.6,747.1 683.5,743.3 694.6,739 697.6,735.5 708.1,719 711.1,715.5 712.6,714.7 723,711.1 726.1,709.1 730.6,704.8 741.1,693.2 744.1,690.8 753.1,685.1 757.6,681.4 765.1,674.4 771.3,667.6 775.6,661.7 786.1,645.2 795.1,633.3 804.3,622.4 814.6,612.5 817.6,609.2 822.1,602.3 828.1,591.8 834.1,580.4 837.1,575.7 849.1,562.9 863.6,541.7 876.7,525.9 883.6,515.9 887.7,511.1 894.1,506.1 898.6,503.5 900.1,503 905.5,502.9 907.6,501.7 912.1,497.9 921.1,488.5 924.1,486 926.5,484.6 931.6,485.2 942.1,487.5 944.9,487.7 946.6,486.9 951.1,483.8 955.6,479.9 973.6,461.8 978.1,458.3 981.6,456.4 987.1,456.6 993.1,457.5 999.1,460.5 1012.6,468.8 1015.6,470.1 1019.6,471.3 1023.1,469.8 1026.1,468 1039.6,458.2 1044.1,455.5 1047.1,454.2 1057.6,456 1063.6,455.1 1081.2,451.7 1090.6,447.7 1094.3,446.5 1096.6,447.5 1101.1,450.5 1102.6,450.7 1107.1,448.7 1114,444.4 1120.6,436.2 1123.2,433.8 1125.1,434.3 1131.1,436.8 1133.7,437.5 1156.6,435.4 1180.8,431.4 1185.1,432 1188.7,432.9 1191.1,437.8 1194.1,445.7 1196,449 1200.1,447.3 1205.7,443.7 1207.6,439.5 1213.6,421.3 1216.2,416 1219.6,416.8 1224,418.5 1230.1,423.7 1233.3,425.8 1256.9,426.4 1266.1,428.4 1270.6,427.9 1275.2,426.2 1276.6,426.5 1279.6,428.3 1287.1,435.6 1291,438.3 1301.5,437.1 1308.1,433.4 1310.6,432.3 1312.6,433.6 1317.1,438.3 1319.8,440.2 1327.7,437.8 1332.1,439.3 1340,443.7 1344.1,447.7 1351.6,456.4 1355.7,459.9 1371.1,461.8 1384.6,462.7 1401.1,461.9 1407.1,461.3 1414.6,459.9 1480,445.1 1498.6,441.3 1507.8,438.9 1513.6,435.8 1524.1,428.5 1528.8,425.6 1545.1,418.1 1549.6,416.5 1554.1,415.3 1558.6,415 1566.1,416.9 1569.1,418.9 1578.1,427 1581.1,428.9 1583.8,429.7 1587.1,427.1 1591.6,421.7 1594.3,419.1 1600.6,415.5 1606.1,413.2 1609.6,415.8 1612.6,419.2 1620.1,428.5 1632.1,444.7 1636.6,449.5 1647.1,459.1 1666.6,475.1 1681.6,488.4 1687.6,493.1 1692.1,495.8 1696.6,497.5 1710.1,496.2 1711,496.2 1713.1,496.9 1720.6,501.9 1729.6,510.6 1732.6,512.7 1735.6,513.2 1746.4,514.1 1747.6,514.5 1752.1,517 1761.1,523.8 1764.7,526.2 1773.1,529.9 1801.6,541.2 1804.6,542.9 1809.1,547.6 1815.1,555 1824.1,568 1827.7,572.1 1830.1,573.8 1832.9,575 1836.1,573.6 1840,570" stroke="#F9AE86"/>
</g>
<g id="labels" filter="url(#soft)">
<text x="284" y="71" text-anchor="end">0.09</text>
<text x="284" y="460" text-anchor="end">0.06</text>
<text x="284" y="849" text-anchor="end">0.03</text>
<text x="284" y="1239" text-anchor="end">0</text>
<text x="346" y="1326" text-anchor="middle">400</text>
<text x="645" y="1326" text-anchor="middle">500</text>
<text x="943" y="1326" text-anchor="middle">600</text>
<text x="1241" y="1326" text-anchor="middle">700</text>
<text x="1540" y="1326" text-anchor="middle">800</text>
<text x="1838" y="1326" text-anchor="middle">900</text>
<text x="858" y="1418.3" textLength="506" lengthAdjust="spacing" style="font-size:76px">Wavelength(nm)</text>
<text transform="translate(74,649.5) rotate(-90)" text-anchor="middle">Rrs(1/sr)</text>
</g>
</svg>
</body>
</html>
